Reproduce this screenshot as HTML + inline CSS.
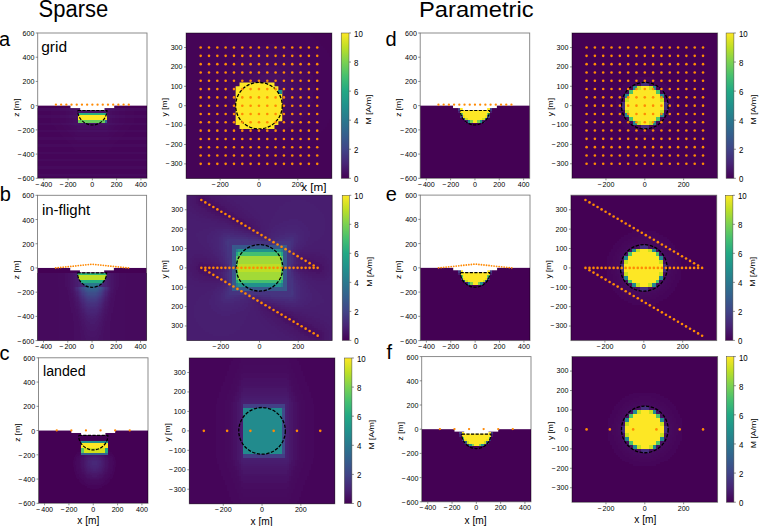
<!DOCTYPE html>
<html><head><meta charset="utf-8"><style>
html,body{margin:0;padding:0;background:#fff;overflow:hidden;}
svg{display:block;font-family:"Liberation Sans", sans-serif;}
</style></head><body>
<svg width="759" height="526" viewBox="0 0 759 526" font-family="Liberation Sans, sans-serif" fill="#000"><defs><clipPath id="c0"><rect x="37.7" y="33" width="109.3" height="145.3"/></clipPath><clipPath id="c1"><rect x="186.1" y="33" width="145.7" height="145.4"/></clipPath><linearGradient id="g2" x1="0" y1="1" x2="0" y2="0"><stop offset="0" stop-color="#440154"/><stop offset="0.1" stop-color="#482475"/><stop offset="0.2" stop-color="#414487"/><stop offset="0.3" stop-color="#355f8d"/><stop offset="0.4" stop-color="#2a788e"/><stop offset="0.5" stop-color="#21918c"/><stop offset="0.6" stop-color="#22a884"/><stop offset="0.7" stop-color="#44bf70"/><stop offset="0.8" stop-color="#7ad151"/><stop offset="0.9" stop-color="#bddf26"/><stop offset="1" stop-color="#fde725"/></linearGradient><clipPath id="c3"><rect x="420.2" y="33" width="109.5" height="145.3"/></clipPath><clipPath id="c4"><rect x="572" y="33" width="145.6" height="145.3"/></clipPath><linearGradient id="g5" x1="0" y1="1" x2="0" y2="0"><stop offset="0" stop-color="#440154"/><stop offset="0.1" stop-color="#482475"/><stop offset="0.2" stop-color="#414487"/><stop offset="0.3" stop-color="#355f8d"/><stop offset="0.4" stop-color="#2a788e"/><stop offset="0.5" stop-color="#21918c"/><stop offset="0.6" stop-color="#22a884"/><stop offset="0.7" stop-color="#44bf70"/><stop offset="0.8" stop-color="#7ad151"/><stop offset="0.9" stop-color="#bddf26"/><stop offset="1" stop-color="#fde725"/></linearGradient><clipPath id="c6"><rect x="37.5" y="195.3" width="109.1" height="145.3"/></clipPath><clipPath id="h7"><path d="M77.38 272.79 A14.67 14.65 0 0 0 106.72 272.79 Z"/></clipPath><clipPath id="c8"><rect x="186.8" y="195.2" width="145.4" height="145.3"/></clipPath><linearGradient id="g9" x1="0" y1="1" x2="0" y2="0"><stop offset="0" stop-color="#440154"/><stop offset="0.1" stop-color="#482475"/><stop offset="0.2" stop-color="#414487"/><stop offset="0.3" stop-color="#355f8d"/><stop offset="0.4" stop-color="#2a788e"/><stop offset="0.5" stop-color="#21918c"/><stop offset="0.6" stop-color="#22a884"/><stop offset="0.7" stop-color="#44bf70"/><stop offset="0.8" stop-color="#7ad151"/><stop offset="0.9" stop-color="#bddf26"/><stop offset="1" stop-color="#fde725"/></linearGradient><clipPath id="c10"><rect x="420.3" y="195.1" width="109.7" height="145.5"/></clipPath><clipPath id="c11"><rect x="570.9" y="195.2" width="145.8" height="145.4"/></clipPath><linearGradient id="g12" x1="0" y1="1" x2="0" y2="0"><stop offset="0" stop-color="#440154"/><stop offset="0.1" stop-color="#482475"/><stop offset="0.2" stop-color="#414487"/><stop offset="0.3" stop-color="#355f8d"/><stop offset="0.4" stop-color="#2a788e"/><stop offset="0.5" stop-color="#21918c"/><stop offset="0.6" stop-color="#22a884"/><stop offset="0.7" stop-color="#44bf70"/><stop offset="0.8" stop-color="#7ad151"/><stop offset="0.9" stop-color="#bddf26"/><stop offset="1" stop-color="#fde725"/></linearGradient><clipPath id="c13"><rect x="38.5" y="357.8" width="109.5" height="145.5"/></clipPath><clipPath id="c14"><rect x="189.3" y="357.9" width="145.5" height="145.9"/></clipPath><linearGradient id="g15" x1="0" y1="1" x2="0" y2="0"><stop offset="0" stop-color="#440154"/><stop offset="0.1" stop-color="#482475"/><stop offset="0.2" stop-color="#414487"/><stop offset="0.3" stop-color="#355f8d"/><stop offset="0.4" stop-color="#2a788e"/><stop offset="0.5" stop-color="#21918c"/><stop offset="0.6" stop-color="#22a884"/><stop offset="0.7" stop-color="#44bf70"/><stop offset="0.8" stop-color="#7ad151"/><stop offset="0.9" stop-color="#bddf26"/><stop offset="1" stop-color="#fde725"/></linearGradient><clipPath id="c16"><rect x="421.7" y="356.6" width="109.3" height="145.2"/></clipPath><clipPath id="c17"><rect x="572" y="356.5" width="145.6" height="145.8"/></clipPath><linearGradient id="g18" x1="0" y1="1" x2="0" y2="0"><stop offset="0" stop-color="#440154"/><stop offset="0.1" stop-color="#482475"/><stop offset="0.2" stop-color="#414487"/><stop offset="0.3" stop-color="#355f8d"/><stop offset="0.4" stop-color="#2a788e"/><stop offset="0.5" stop-color="#21918c"/><stop offset="0.6" stop-color="#22a884"/><stop offset="0.7" stop-color="#44bf70"/><stop offset="0.8" stop-color="#7ad151"/><stop offset="0.9" stop-color="#bddf26"/><stop offset="1" stop-color="#fde725"/></linearGradient></defs><rect width="759" height="526" fill="#fff"/><g clip-path="url(#c0)"><rect x="37.7" y="105.65" width="109.3" height="72.65" fill="#440154"/><g shape-rendering="crispEdges"><path fill="#460a5d" d="M36.5 108.1h14.6v1.2h-14.6zM133.6 108.1h14.6v1.2h-14.6zM36.5 109.3h14.6v1.2h-14.6zM133.6 109.3h14.6v1.2h-14.6zM65.6 110.5h3.7v1.2h-3.7zM115.4 110.5h3.7v1.2h-3.7zM65.6 111.7h3.7v1.2h-3.7zM115.4 111.7h3.7v1.2h-3.7zM65.6 112.9h3.7v1.2h-3.7zM115.4 112.9h3.7v1.2h-3.7zM65.6 114.1h3.7v1.2h-3.7zM115.4 114.1h3.7v1.2h-3.7zM36.5 115.3h14.6v1.2h-14.6zM133.6 115.3h14.6v1.2h-14.6zM36.5 116.5h14.6v1.3h-14.6zM133.6 116.5h14.6v1.3h-14.6zM65.6 117.8h3.7v1.2h-3.7zM115.4 117.8h3.7v1.2h-3.7zM65.6 119h3.7v1.2h-3.7zM115.4 119h3.7v1.2h-3.7zM65.6 120.2h3.7v1.2h-3.7zM115.4 120.2h3.7v1.2h-3.7zM65.6 121.4h3.7v1.2h-3.7zM115.4 121.4h3.7v1.2h-3.7zM36.5 122.6h14.6v1.2h-14.6zM133.6 122.6h14.6v1.2h-14.6zM36.5 123.8h15.8v1.2h-15.8zM132.4 123.8h15.8v1.2h-15.8zM68.1 125h3.6v1.2h-3.6zM113 125h3.6v1.2h-3.6zM69.3 126.2h3.6v1.2h-3.6zM111.8 126.2h3.6v1.2h-3.6zM70.5 127.4h3.6v1.3h-3.6zM110.6 127.4h3.6v1.3h-3.6zM71.7 128.7h3.6v1.2h-3.6zM109.4 128.7h3.6v1.2h-3.6zM36.5 129.9h21.8v1.2h-21.8zM126.4 129.9h21.8v1.2h-21.8zM36.5 131.1h23.1v1.2h-23.1zM125.1 131.1h23.1v1.2h-23.1zM75.3 132.3h34.1v1.2h-34.1zM75.3 133.5h34.1v1.2h-34.1zM76.6 134.7h31.5v1.2h-31.5zM36.5 137.1h27.9v1.2h-27.9zM120.3 137.1h27.9v1.2h-27.9zM36.5 138.3h29.1v1.3h-29.1zM119.1 138.3h29.1v1.3h-29.1zM36.5 144.4h35.2v1.2h-35.2zM113 144.4h35.2v1.2h-35.2zM36.5 145.6h36.4v1.2h-36.4zM111.8 145.6h36.4v1.2h-36.4zM36.5 151.7h111.7v1.2h-111.7zM36.5 152.9h111.7v1.2h-111.7zM36.5 158.9h111.7v1.2h-111.7zM36.5 160.1h111.7v1.2h-111.7zM36.5 166.2h111.7v1.2h-111.7zM36.5 167.4h111.7v1.2h-111.7zM36.5 173.5h111.7v1.2h-111.7zM36.5 174.7h111.7v1.2h-111.7z"/><path fill="#460b5e" d="M51.1 108.1h8.5v1.2h-8.5zM125.1 108.1h8.5v1.2h-8.5zM51.1 109.3h8.5v1.2h-8.5zM125.1 109.3h8.5v1.2h-8.5zM69.3 110.5h3.6v1.2h-3.6zM111.8 110.5h3.6v1.2h-3.6zM69.3 111.7h3.6v1.2h-3.6zM111.8 111.7h3.6v1.2h-3.6zM69.3 112.9h3.6v1.2h-3.6zM111.8 112.9h3.6v1.2h-3.6zM69.3 114.1h3.6v1.2h-3.6zM111.8 114.1h3.6v1.2h-3.6zM51.1 115.3h8.5v1.2h-8.5zM125.1 115.3h8.5v1.2h-8.5zM51.1 116.5h8.5v1.3h-8.5zM125.1 116.5h8.5v1.3h-8.5zM69.3 117.8h3.6v1.2h-3.6zM111.8 117.8h3.6v1.2h-3.6zM69.3 119h3.6v1.2h-3.6zM111.8 119h3.6v1.2h-3.6zM69.3 120.2h3.6v1.2h-3.6zM111.8 120.2h3.6v1.2h-3.6zM69.3 121.4h3.6v1.2h-3.6zM111.8 121.4h3.6v1.2h-3.6zM51.1 122.6h9.7v1.2h-9.7zM123.9 122.6h9.7v1.2h-9.7zM52.3 123.8h9.7v1.2h-9.7zM122.7 123.8h9.7v1.2h-9.7zM71.7 125h3.6v1.2h-3.6zM109.4 125h3.6v1.2h-3.6zM72.9 126.2h3.7v1.2h-3.7zM108.1 126.2h3.7v1.2h-3.7zM74.1 127.4h2.5v1.3h-2.5zM108.1 127.4h2.5v1.3h-2.5zM75.3 128.7h34.1v1.2h-34.1zM58.3 129.9h8.5v1.2h-8.5zM117.9 129.9h8.5v1.2h-8.5zM59.6 131.1h8.5v1.2h-8.5zM116.6 131.1h8.5v1.2h-8.5zM64.4 137.1h9.7v1.2h-9.7zM110.6 137.1h9.7v1.2h-9.7zM65.6 138.3h9.7v1.3h-9.7zM109.4 138.3h9.7v1.3h-9.7zM71.7 144.4h41.3v1.2h-41.3zM72.9 145.6h38.9v1.2h-38.9z"/><path fill="#470d60" d="M59.6 108.1h6v1.2h-6zM119.1 108.1h6v1.2h-6zM59.6 109.3h6v1.2h-6zM119.1 109.3h6v1.2h-6zM72.9 110.5h2.4v1.2h-2.4zM109.4 110.5h2.4v1.2h-2.4zM72.9 111.7h2.4v1.2h-2.4zM109.4 111.7h2.4v1.2h-2.4zM72.9 112.9h2.4v1.2h-2.4zM109.4 112.9h2.4v1.2h-2.4zM72.9 114.1h2.4v1.2h-2.4zM109.4 114.1h2.4v1.2h-2.4zM59.6 115.3h6v1.2h-6zM119.1 115.3h6v1.2h-6zM59.6 116.5h6v1.3h-6zM119.1 116.5h6v1.3h-6zM72.9 117.8h2.4v1.2h-2.4zM109.4 117.8h2.4v1.2h-2.4zM72.9 119h2.4v1.2h-2.4zM109.4 119h2.4v1.2h-2.4zM72.9 120.2h2.4v1.2h-2.4zM109.4 120.2h2.4v1.2h-2.4zM72.9 121.4h2.4v1.2h-2.4zM109.4 121.4h2.4v1.2h-2.4zM60.8 122.6h4.8v1.2h-4.8zM119.1 122.6h4.8v1.2h-4.8zM62 123.8h4.8v1.2h-4.8zM117.9 123.8h4.8v1.2h-4.8zM75.3 125h2.5v1.2h-2.5zM106.9 125h2.5v1.2h-2.5zM76.6 126.2h31.5v1.2h-31.5zM76.6 127.4h31.5v1.3h-31.5zM66.8 129.9h6.1v1.2h-6.1zM111.8 129.9h6.1v1.2h-6.1zM68.1 131.1h6v1.2h-6zM110.6 131.1h6v1.2h-6zM74.1 137.1h36.5v1.2h-36.5zM75.3 138.3h34.1v1.3h-34.1z"/><path fill="#470e61" d="M65.6 108.1h3.7v1.2h-3.7zM115.4 108.1h3.7v1.2h-3.7zM65.6 109.3h3.7v1.2h-3.7zM115.4 109.3h3.7v1.2h-3.7zM75.3 110.5h1.3v1.2h-1.3zM108.1 110.5h1.3v1.2h-1.3zM75.3 111.7h1.3v1.2h-1.3zM108.1 111.7h1.3v1.2h-1.3zM75.3 112.9h1.3v1.2h-1.3zM108.1 112.9h1.3v1.2h-1.3zM75.3 114.1h1.3v1.2h-1.3zM108.1 114.1h1.3v1.2h-1.3zM65.6 115.3h3.7v1.2h-3.7zM115.4 115.3h3.7v1.2h-3.7zM65.6 116.5h3.7v1.3h-3.7zM115.4 116.5h3.7v1.3h-3.7zM75.3 117.8h1.3v1.2h-1.3zM108.1 117.8h1.3v1.2h-1.3zM75.3 119h1.3v1.2h-1.3zM108.1 119h1.3v1.2h-1.3zM75.3 120.2h1.3v1.2h-1.3zM108.1 120.2h1.3v1.2h-1.3zM75.3 121.4h1.3v1.2h-1.3zM108.1 121.4h1.3v1.2h-1.3zM65.6 122.6h3.7v1.2h-3.7zM115.4 122.6h3.7v1.2h-3.7zM66.8 123.8h3.7v1.2h-3.7zM114.2 123.8h3.7v1.2h-3.7zM77.8 125h29.1v1.2h-29.1zM72.9 129.9h3.7v1.2h-3.7zM108.1 129.9h3.7v1.2h-3.7zM74.1 131.1h3.7v1.2h-3.7zM106.9 131.1h3.7v1.2h-3.7z"/><path fill="#471063" d="M69.3 108.1h3.6v1.2h-3.6zM111.8 108.1h3.6v1.2h-3.6zM69.3 109.3h3.6v1.2h-3.6zM111.8 109.3h3.6v1.2h-3.6zM76.6 110.5h31.5v1.2h-31.5zM76.6 111.7h31.5v1.2h-31.5zM76.6 112.9h31.5v1.2h-31.5zM76.6 114.1h31.5v1.2h-31.5zM69.3 115.3h3.6v1.2h-3.6zM111.8 115.3h3.6v1.2h-3.6zM69.3 116.5h3.6v1.3h-3.6zM111.8 116.5h3.6v1.3h-3.6zM76.6 117.8h31.5v1.2h-31.5zM76.6 119h31.5v1.2h-31.5zM76.6 120.2h31.5v1.2h-31.5zM76.6 121.4h31.5v1.2h-31.5zM69.3 122.6h3.6v1.2h-3.6zM111.8 122.6h3.6v1.2h-3.6zM70.5 123.8h3.6v1.2h-3.6zM110.6 123.8h3.6v1.2h-3.6zM76.6 129.9h31.5v1.2h-31.5zM77.8 131.1h29.1v1.2h-29.1z"/><path fill="#471164" d="M72.9 108.1h2.4v1.2h-2.4zM109.4 108.1h2.4v1.2h-2.4zM72.9 109.3h2.4v1.2h-2.4zM109.4 109.3h2.4v1.2h-2.4zM72.9 115.3h2.4v1.2h-2.4zM109.4 115.3h2.4v1.2h-2.4zM72.9 116.5h2.4v1.3h-2.4zM109.4 116.5h2.4v1.3h-2.4zM72.9 122.6h2.4v1.2h-2.4zM109.4 122.6h2.4v1.2h-2.4zM74.1 123.8h2.5v1.2h-2.5zM108.1 123.8h2.5v1.2h-2.5z"/><path fill="#471365" d="M75.3 108.1h1.3v1.2h-1.3zM108.1 108.1h1.3v1.2h-1.3zM75.3 109.3h1.3v1.2h-1.3zM108.1 109.3h1.3v1.2h-1.3zM75.3 115.3h1.3v1.2h-1.3zM108.1 115.3h1.3v1.2h-1.3zM75.3 116.5h1.3v1.3h-1.3zM108.1 116.5h1.3v1.3h-1.3zM75.3 122.6h2.5v1.2h-2.5zM106.9 122.6h2.5v1.2h-2.5zM76.6 123.8h31.5v1.2h-31.5z"/><path fill="#481467" d="M76.6 108.1h31.5v1.2h-31.5zM76.6 109.3h31.5v1.2h-31.5zM76.6 115.3h31.5v1.2h-31.5zM76.6 116.5h31.5v1.3h-31.5zM77.8 122.6h29.1v1.2h-29.1z"/><path fill="#450559" d="M36.5 110.5h14.6v1.2h-14.6zM133.6 110.5h14.6v1.2h-14.6zM36.5 111.7h14.6v1.2h-14.6zM133.6 111.7h14.6v1.2h-14.6zM36.5 112.9h14.6v1.2h-14.6zM133.6 112.9h14.6v1.2h-14.6zM36.5 114.1h14.6v1.2h-14.6zM133.6 114.1h14.6v1.2h-14.6zM36.5 117.8h14.6v1.2h-14.6zM133.6 117.8h14.6v1.2h-14.6zM36.5 119h14.6v1.2h-14.6zM133.6 119h14.6v1.2h-14.6zM36.5 120.2h14.6v1.2h-14.6zM133.6 120.2h14.6v1.2h-14.6zM36.5 121.4h14.6v1.2h-14.6zM133.6 121.4h14.6v1.2h-14.6zM36.5 125h17v1.2h-17zM131.2 125h17v1.2h-17zM36.5 126.2h18.2v1.2h-18.2zM130 126.2h18.2v1.2h-18.2zM36.5 127.4h19.4v1.3h-19.4zM128.8 127.4h19.4v1.3h-19.4zM36.5 128.7h20.6v1.2h-20.6zM127.6 128.7h20.6v1.2h-20.6zM36.5 132.3h23.1v1.2h-23.1zM125.1 132.3h23.1v1.2h-23.1zM36.5 133.5h24.3v1.2h-24.3zM123.9 133.5h24.3v1.2h-24.3zM36.5 134.7h25.5v1.2h-25.5zM122.7 134.7h25.5v1.2h-25.5zM36.5 135.9h26.7v1.2h-26.7zM121.5 135.9h26.7v1.2h-26.7zM36.5 139.6h30.3v1.2h-30.3zM117.9 139.6h30.3v1.2h-30.3zM36.5 140.8h31.6v1.2h-31.6zM116.6 140.8h31.6v1.2h-31.6zM36.5 142h32.8v1.2h-32.8zM115.4 142h32.8v1.2h-32.8zM36.5 143.2h34v1.2h-34zM114.2 143.2h34v1.2h-34zM36.5 146.8h36.4v1.2h-36.4zM111.8 146.8h36.4v1.2h-36.4zM36.5 148h37.6v1.2h-37.6zM110.6 148h37.6v1.2h-37.6zM36.5 149.2h38.8v1.3h-38.8zM109.4 149.2h38.8v1.3h-38.8zM36.5 150.5h40.1v1.2h-40.1zM108.1 150.5h40.1v1.2h-40.1zM36.5 154.1h111.7v1.2h-111.7zM36.5 155.3h111.7v1.2h-111.7zM36.5 156.5h111.7v1.2h-111.7zM36.5 157.7h111.7v1.2h-111.7zM36.5 161.3h111.7v1.3h-111.7zM36.5 162.6h111.7v1.2h-111.7zM36.5 163.8h111.7v1.2h-111.7zM36.5 165h111.7v1.2h-111.7zM36.5 168.6h111.7v1.2h-111.7zM36.5 169.8h111.7v1.2h-111.7zM36.5 171h111.7v1.2h-111.7zM36.5 172.2h111.7v1.3h-111.7zM36.5 175.9h111.7v1.2h-111.7zM36.5 177.1h111.7v1.2h-111.7z"/><path fill="#46075a" d="M51.1 110.5h8.5v1.2h-8.5zM125.1 110.5h8.5v1.2h-8.5zM51.1 111.7h8.5v1.2h-8.5zM125.1 111.7h8.5v1.2h-8.5zM51.1 112.9h8.5v1.2h-8.5zM125.1 112.9h8.5v1.2h-8.5zM51.1 114.1h8.5v1.2h-8.5zM125.1 114.1h8.5v1.2h-8.5zM51.1 117.8h8.5v1.2h-8.5zM125.1 117.8h8.5v1.2h-8.5zM51.1 119h8.5v1.2h-8.5zM125.1 119h8.5v1.2h-8.5zM51.1 120.2h8.5v1.2h-8.5zM125.1 120.2h8.5v1.2h-8.5zM51.1 121.4h8.5v1.2h-8.5zM125.1 121.4h8.5v1.2h-8.5zM53.5 125h9.7v1.2h-9.7zM121.5 125h9.7v1.2h-9.7zM54.7 126.2h8.5v1.2h-8.5zM121.5 126.2h8.5v1.2h-8.5zM55.9 127.4h8.5v1.3h-8.5zM120.3 127.4h8.5v1.3h-8.5zM57.1 128.7h8.5v1.2h-8.5zM119.1 128.7h8.5v1.2h-8.5zM59.6 132.3h9.7v1.2h-9.7zM115.4 132.3h9.7v1.2h-9.7zM60.8 133.5h9.7v1.2h-9.7zM114.2 133.5h9.7v1.2h-9.7zM62 134.7h9.7v1.2h-9.7zM113 134.7h9.7v1.2h-9.7zM63.2 135.9h9.7v1.2h-9.7zM111.8 135.9h9.7v1.2h-9.7zM66.8 139.6h9.8v1.2h-9.8zM108.1 139.6h9.8v1.2h-9.8zM68.1 140.8h8.5v1.2h-8.5zM108.1 140.8h8.5v1.2h-8.5zM69.3 142h46.1v1.2h-46.1zM70.5 143.2h43.7v1.2h-43.7zM72.9 146.8h38.9v1.2h-38.9zM74.1 148h36.5v1.2h-36.5zM75.3 149.2h34.1v1.3h-34.1zM76.6 150.5h31.5v1.2h-31.5z"/><path fill="#46085c" d="M59.6 110.5h6v1.2h-6zM119.1 110.5h6v1.2h-6zM59.6 111.7h6v1.2h-6zM119.1 111.7h6v1.2h-6zM59.6 112.9h6v1.2h-6zM119.1 112.9h6v1.2h-6zM59.6 114.1h6v1.2h-6zM119.1 114.1h6v1.2h-6zM59.6 117.8h6v1.2h-6zM119.1 117.8h6v1.2h-6zM59.6 119h6v1.2h-6zM119.1 119h6v1.2h-6zM59.6 120.2h6v1.2h-6zM119.1 120.2h6v1.2h-6zM59.6 121.4h6v1.2h-6zM119.1 121.4h6v1.2h-6zM63.2 125h4.9v1.2h-4.9zM116.6 125h4.9v1.2h-4.9zM63.2 126.2h6.1v1.2h-6.1zM115.4 126.2h6.1v1.2h-6.1zM64.4 127.4h6.1v1.3h-6.1zM114.2 127.4h6.1v1.3h-6.1zM65.6 128.7h6.1v1.2h-6.1zM113 128.7h6.1v1.2h-6.1zM69.3 132.3h6v1.2h-6zM109.4 132.3h6v1.2h-6zM70.5 133.5h4.8v1.2h-4.8zM109.4 133.5h4.8v1.2h-4.8zM71.7 134.7h4.9v1.2h-4.9zM108.1 134.7h4.9v1.2h-4.9zM72.9 135.9h38.9v1.2h-38.9zM76.6 139.6h31.5v1.2h-31.5zM76.6 140.8h31.5v1.2h-31.5z"/></g><g shape-rendering="crispEdges"><path fill="#29af7f" d="M77.8 112.9h29.1v2.2h-29.1z"/><path fill="#fde725" d="M77.8 115.1h29.1v4.6h-29.1z"/><path fill="#69cd5b" d="M77.8 119.7h26.7v3.1h-26.7z"/><path fill="#32648e" d="M104.5 119.7h2.4v3.1h-2.4z"/></g><rect x="70.49" y="104.65" width="43.72" height="3.42" fill="#fff"/><rect x="80.21" y="107.07" width="24.29" height="3.06" fill="#fff"/><path d="M77.78 110.49 H106.92 A14.57 14.53 0 0 1 77.78 110.49" fill="none" stroke="#000" stroke-width="1.2" stroke-dasharray="3.2 1.4"/><circle cx="55.92" cy="104.68" r="1.15" fill="#ff8a05"/><circle cx="61.12" cy="104.68" r="1.15" fill="#ff8a05"/><circle cx="66.33" cy="104.68" r="1.15" fill="#ff8a05"/><circle cx="71.53" cy="104.68" r="1.15" fill="#ff8a05"/><circle cx="76.74" cy="104.68" r="1.15" fill="#ff8a05"/><circle cx="81.94" cy="104.68" r="1.15" fill="#ff8a05"/><circle cx="87.15" cy="104.68" r="1.15" fill="#ff8a05"/><circle cx="92.35" cy="104.68" r="1.15" fill="#ff8a05"/><circle cx="97.55" cy="104.68" r="1.15" fill="#ff8a05"/><circle cx="102.76" cy="104.68" r="1.15" fill="#ff8a05"/><circle cx="107.96" cy="104.68" r="1.15" fill="#ff8a05"/><circle cx="113.17" cy="104.68" r="1.15" fill="#ff8a05"/><circle cx="118.37" cy="104.68" r="1.15" fill="#ff8a05"/><circle cx="123.58" cy="104.68" r="1.15" fill="#ff8a05"/><circle cx="128.78" cy="104.68" r="1.15" fill="#ff8a05"/></g><rect x="37.7" y="33" width="109.3" height="145.3" fill="none" stroke="#000" stroke-opacity="0.5" stroke-width="0.9"/><text transform="translate(34.4 36) scale(0.95 1)" font-size="7.5" text-anchor="end">600</text><text transform="translate(34.4 60.22) scale(0.95 1)" font-size="7.5" text-anchor="end">400</text><text transform="translate(34.4 84.43) scale(0.95 1)" font-size="7.5" text-anchor="end">200</text><text transform="translate(34.4 108.65) scale(0.95 1)" font-size="7.5" text-anchor="end">0</text><text transform="translate(34.4 132.87) scale(0.95 1)" font-size="7.5" text-anchor="end">&#8722;<tspan dx="1.0">200</tspan></text><text transform="translate(34.4 157.08) scale(0.95 1)" font-size="7.5" text-anchor="end">&#8722;<tspan dx="1.0">400</tspan></text><text transform="translate(34.4 181.3) scale(0.95 1)" font-size="7.5" text-anchor="end">&#8722;<tspan dx="1.0">600</tspan></text><text transform="translate(43.77 186.9) scale(0.95 1)" font-size="7.5" text-anchor="middle">&#8722;<tspan dx="1.0">400</tspan></text><text transform="translate(68.06 186.9) scale(0.95 1)" font-size="7.5" text-anchor="middle">&#8722;<tspan dx="1.0">200</tspan></text><text transform="translate(92.35 186.9) scale(0.95 1)" font-size="7.5" text-anchor="middle">0</text><text transform="translate(116.64 186.9) scale(0.95 1)" font-size="7.5" text-anchor="middle">200</text><text transform="translate(140.93 186.9) scale(0.95 1)" font-size="7.5" text-anchor="middle">400</text><path d="M37.7 33h-2M37.7 57.22h-2M37.7 81.43h-2M37.7 105.65h-2M37.7 129.87h-2M37.7 154.08h-2M37.7 178.3h-2M43.77 178.3v2M68.06 178.3v2M92.35 178.3v2M116.64 178.3v2M140.93 178.3v2" stroke="#444" stroke-width="0.6"/><text x="18.8" y="107.65" font-size="7.7" text-anchor="middle" textLength="18.4" lengthAdjust="spacingAndGlyphs" transform="rotate(-90 18.8 107.65)">z [m]</text><text x="41.2" y="52" font-size="14" text-anchor="start" textLength="25.9" lengthAdjust="spacingAndGlyphs">grid</text><g clip-path="url(#c1)"><rect x="186.1" y="33" width="145.7" height="145.4" fill="#440154"/><g shape-rendering="crispEdges"><path fill="#450457" d="M185.1 32h46.7v2h-46.7zM309.5 32h23.3v2h-23.3zM185.1 34h44.7v1.9h-44.7zM311.4 34h21.4v1.9h-21.4zM185.1 35.9h42.8v1.9h-42.8zM313.3 35.9h19.5v1.9h-19.5zM185.1 37.8h40.8v2h-40.8zM315.3 37.8h17.5v2h-17.5zM185.1 39.8h36.9v1.9h-36.9zM319.2 39.8h13.6v1.9h-13.6zM185.1 41.7h36.9v2h-36.9zM319.2 41.7h13.6v2h-13.6zM185.1 43.7h35v1.9h-35zM321.1 43.7h11.7v1.9h-11.7zM185.1 45.6h33.1v1.9h-33.1zM323.1 45.6h9.7v1.9h-9.7zM185.1 47.5h31.1v2h-31.1zM325 47.5h7.8v2h-7.8zM185.1 49.5h29.2v1.9h-29.2zM326.9 49.5h5.9v1.9h-5.9zM185.1 51.4h29.2v2h-29.2zM326.9 51.4h5.9v2h-5.9zM185.1 53.4h27.2v1.9h-27.2zM328.9 53.4h3.9v1.9h-3.9zM185.1 55.3h27.2v1.9h-27.2zM328.9 55.3h3.9v1.9h-3.9zM185.1 57.2h25.3v2h-25.3zM330.8 57.2h2v2h-2zM185.1 59.2h25.3v1.9h-25.3zM330.8 59.2h2v1.9h-2zM185.1 61.1h23.3v1.9h-23.3zM185.1 63h23.3v2h-23.3zM185.1 65h21.4v1.9h-21.4zM185.1 66.9h21.4v2h-21.4zM185.1 68.9h21.4v1.9h-21.4zM185.1 70.8h19.5v1.9h-19.5zM185.1 72.7h19.5v2h-19.5zM185.1 74.7h19.5v1.9h-19.5zM185.1 76.6h19.5v2h-19.5zM185.1 78.6h19.5v1.9h-19.5zM185.1 80.5h19.5v1.9h-19.5zM185.1 82.4h17.5v2h-17.5zM185.1 84.4h17.5v1.9h-17.5zM185.1 86.3h17.5v2h-17.5zM185.1 88.3h17.5v1.9h-17.5zM185.1 90.2h17.5v1.9h-17.5zM185.1 92.1h17.5v2h-17.5zM185.1 94.1h19.5v1.9h-19.5zM185.1 96h19.5v1.9h-19.5zM185.1 97.9h19.5v2h-19.5zM185.1 99.9h19.5v1.9h-19.5zM185.1 101.8h19.5v2h-19.5zM185.1 103.8h19.5v1.9h-19.5zM185.1 105.7h21.4v1.9h-21.4zM185.1 107.6h21.4v2h-21.4zM185.1 109.6h21.4v1.9h-21.4zM185.1 111.5h23.3v2h-23.3zM185.1 113.5h23.3v1.9h-23.3zM185.1 115.4h25.3v1.9h-25.3zM330.8 115.4h2v1.9h-2zM185.1 117.3h25.3v2h-25.3zM330.8 117.3h2v2h-2zM185.1 119.3h27.2v1.9h-27.2zM328.9 119.3h3.9v1.9h-3.9zM185.1 121.2h27.2v1.9h-27.2zM328.9 121.2h3.9v1.9h-3.9zM185.1 123.1h29.2v2h-29.2zM326.9 123.1h5.9v2h-5.9zM185.1 125.1h29.2v1.9h-29.2zM326.9 125.1h5.9v1.9h-5.9zM185.1 127h31.1v2h-31.1zM325 127h7.8v2h-7.8zM185.1 129h33.1v1.9h-33.1zM323.1 129h9.7v1.9h-9.7zM185.1 130.9h35v1.9h-35zM321.1 130.9h11.7v1.9h-11.7zM185.1 132.8h36.9v2h-36.9zM319.2 132.8h13.6v2h-13.6zM185.1 134.8h36.9v1.9h-36.9zM319.2 134.8h13.6v1.9h-13.6zM185.1 136.7h40.8v2h-40.8zM315.3 136.7h17.5v2h-17.5zM185.1 138.7h42.8v1.9h-42.8zM313.3 138.7h19.5v1.9h-19.5zM185.1 140.6h44.7v1.9h-44.7zM311.4 140.6h21.4v1.9h-21.4zM185.1 142.5h46.7v2h-46.7zM309.5 142.5h23.3v2h-23.3zM185.1 144.5h50.5v1.9h-50.5zM305.6 144.5h27.2v1.9h-27.2zM185.1 146.4h54.4v2h-54.4zM301.7 146.4h31.1v2h-31.1zM185.1 148.4h58.3v1.9h-58.3zM297.8 148.4h35v1.9h-35zM185.1 150.3h62.2v1.9h-62.2zM293.9 150.3h38.9v1.9h-38.9zM185.1 152.2h68v2h-68zM288.1 152.2h44.7v2h-44.7zM185.1 154.2h79.7v1.9h-79.7zM276.4 154.2h56.4v1.9h-56.4zM185.1 156.1h147.7v1.9h-147.7zM185.1 158h147.7v2h-147.7zM185.1 160h147.7v1.9h-147.7zM185.1 161.9h147.7v2h-147.7zM185.1 163.9h147.7v1.9h-147.7zM185.1 165.8h147.7v1.9h-147.7zM185.1 167.7h147.7v2h-147.7zM185.1 169.7h147.7v1.9h-147.7zM185.1 171.6h147.7v2h-147.7zM185.1 173.6h147.7v1.9h-147.7zM185.1 175.5h147.7v1.9h-147.7zM185.1 177.4h147.7v2h-147.7z"/><path fill="#450559" d="M231.8 32h77.7v2h-77.7zM229.8 34h81.6v1.9h-81.6zM227.9 35.9h85.4v1.9h-85.4zM225.9 37.8h89.4v2h-89.4zM222 39.8h97.2v1.9h-97.2zM222 41.7h97.2v2h-97.2zM220.1 43.7h46.6v1.9h-46.6zM274.5 43.7h46.6v1.9h-46.6zM218.2 45.6h38.8v1.9h-38.8zM284.2 45.6h38.9v1.9h-38.9zM216.2 47.5h36.9v2h-36.9zM288.1 47.5h36.9v2h-36.9zM214.3 49.5h34.9v1.9h-34.9zM292 49.5h34.9v1.9h-34.9zM214.3 51.4h31.1v2h-31.1zM295.9 51.4h31v2h-31zM212.3 53.4h31.1v1.9h-31.1zM297.8 53.4h31.1v1.9h-31.1zM212.3 55.3h29.2v1.9h-29.2zM299.7 55.3h29.2v1.9h-29.2zM210.4 57.2h29.1v2h-29.1zM301.7 57.2h29.1v2h-29.1zM210.4 59.2h27.2v1.9h-27.2zM303.6 59.2h27.2v1.9h-27.2zM208.4 61.1h27.2v1.9h-27.2zM305.6 61.1h27.2v1.9h-27.2zM208.4 63h25.3v2h-25.3zM307.5 63h25.3v2h-25.3zM206.5 65h27.2v1.9h-27.2zM307.5 65h25.3v1.9h-25.3zM206.5 66.9h25.3v2h-25.3zM309.5 66.9h23.3v2h-23.3zM206.5 68.9h25.3v1.9h-25.3zM309.5 68.9h23.3v1.9h-23.3zM204.6 70.8h25.2v1.9h-25.2zM311.4 70.8h21.4v1.9h-21.4zM204.6 72.7h25.2v2h-25.2zM311.4 72.7h21.4v2h-21.4zM204.6 74.7h23.3v1.9h-23.3zM313.3 74.7h19.5v1.9h-19.5zM204.6 76.6h23.3v2h-23.3zM313.3 76.6h19.5v2h-19.5zM204.6 78.6h23.3v1.9h-23.3zM313.3 78.6h19.5v1.9h-19.5zM204.6 80.5h23.3v1.9h-23.3zM313.3 80.5h19.5v1.9h-19.5zM202.6 82.4h25.3v2h-25.3zM313.3 82.4h19.5v2h-19.5zM202.6 84.4h23.3v1.9h-23.3zM315.3 84.4h17.5v1.9h-17.5zM202.6 86.3h23.3v2h-23.3zM315.3 86.3h17.5v2h-17.5zM202.6 88.3h23.3v1.9h-23.3zM315.3 88.3h17.5v1.9h-17.5zM202.6 90.2h23.3v1.9h-23.3zM315.3 90.2h17.5v1.9h-17.5zM202.6 92.1h25.3v2h-25.3zM313.3 92.1h19.5v2h-19.5zM204.6 94.1h23.3v1.9h-23.3zM313.3 94.1h19.5v1.9h-19.5zM204.6 96h23.3v1.9h-23.3zM313.3 96h19.5v1.9h-19.5zM204.6 97.9h23.3v2h-23.3zM313.3 97.9h19.5v2h-19.5zM204.6 99.9h23.3v1.9h-23.3zM313.3 99.9h19.5v1.9h-19.5zM204.6 101.8h25.2v2h-25.2zM311.4 101.8h21.4v2h-21.4zM204.6 103.8h25.2v1.9h-25.2zM311.4 103.8h21.4v1.9h-21.4zM206.5 105.7h25.3v1.9h-25.3zM309.5 105.7h23.3v1.9h-23.3zM206.5 107.6h25.3v2h-25.3zM309.5 107.6h23.3v2h-23.3zM206.5 109.6h27.2v1.9h-27.2zM307.5 109.6h25.3v1.9h-25.3zM208.4 111.5h25.3v2h-25.3zM307.5 111.5h25.3v2h-25.3zM208.4 113.5h27.2v1.9h-27.2zM305.6 113.5h27.2v1.9h-27.2zM210.4 115.4h27.2v1.9h-27.2zM303.6 115.4h27.2v1.9h-27.2zM210.4 117.3h29.1v2h-29.1zM301.7 117.3h29.1v2h-29.1zM212.3 119.3h29.2v1.9h-29.2zM299.7 119.3h29.2v1.9h-29.2zM212.3 121.2h31.1v1.9h-31.1zM297.8 121.2h31.1v1.9h-31.1zM214.3 123.1h31.1v2h-31.1zM295.9 123.1h31v2h-31zM214.3 125.1h34.9v1.9h-34.9zM292 125.1h34.9v1.9h-34.9zM216.2 127h36.9v2h-36.9zM288.1 127h36.9v2h-36.9zM218.2 129h38.8v1.9h-38.8zM284.2 129h38.9v1.9h-38.9zM220.1 130.9h46.6v1.9h-46.6zM274.5 130.9h46.6v1.9h-46.6zM222 132.8h97.2v2h-97.2zM222 134.8h97.2v1.9h-97.2zM225.9 136.7h89.4v2h-89.4zM227.9 138.7h85.4v1.9h-85.4zM229.8 140.6h81.6v1.9h-81.6zM231.8 142.5h77.7v2h-77.7zM235.6 144.5h70v1.9h-70zM239.5 146.4h62.2v2h-62.2zM243.4 148.4h54.4v1.9h-54.4zM247.3 150.3h46.6v1.9h-46.6zM253.1 152.2h35v2h-35zM264.8 154.2h11.6v1.9h-11.6z"/><path fill="#46085c" d="M266.7 43.7h7.8v1.9h-7.8zM257 45.6h27.2v1.9h-27.2zM253.1 47.5h35v2h-35zM249.2 49.5h42.8v1.9h-42.8zM245.4 51.4h50.5v2h-50.5zM243.4 53.4h19.4v1.9h-19.4zM278.4 53.4h19.4v1.9h-19.4zM241.5 55.3h15.5v1.9h-15.5zM284.2 55.3h15.5v1.9h-15.5zM239.5 57.2h13.6v2h-13.6zM288.1 57.2h13.6v2h-13.6zM237.6 59.2h11.6v1.9h-11.6zM292 59.2h11.6v1.9h-11.6zM235.6 61.1h11.7v1.9h-11.7zM293.9 61.1h11.7v1.9h-11.7zM233.7 63h11.7v2h-11.7zM295.9 63h11.6v2h-11.6zM233.7 65h9.7v1.9h-9.7zM297.8 65h9.7v1.9h-9.7zM231.8 66.9h9.7v2h-9.7zM299.7 66.9h9.8v2h-9.8zM231.8 68.9h9.7v1.9h-9.7zM299.7 68.9h9.8v1.9h-9.8zM229.8 70.8h9.7v1.9h-9.7zM301.7 70.8h9.7v1.9h-9.7zM229.8 72.7h9.7v2h-9.7zM301.7 72.7h9.7v2h-9.7zM227.9 74.7h9.7v1.9h-9.7zM303.6 74.7h9.7v1.9h-9.7zM227.9 76.6h9.7v2h-9.7zM303.6 76.6h9.7v2h-9.7zM227.9 78.6h9.7v1.9h-9.7zM303.6 78.6h9.7v1.9h-9.7zM227.9 80.5h7.7v1.9h-7.7zM305.6 80.5h7.7v1.9h-7.7zM227.9 82.4h7.7v2h-7.7zM305.6 82.4h7.7v2h-7.7zM225.9 84.4h9.7v1.9h-9.7zM305.6 84.4h9.7v1.9h-9.7zM225.9 86.3h9.7v2h-9.7zM305.6 86.3h9.7v2h-9.7zM225.9 88.3h9.7v1.9h-9.7zM305.6 88.3h9.7v1.9h-9.7zM225.9 90.2h9.7v1.9h-9.7zM305.6 90.2h9.7v1.9h-9.7zM227.9 92.1h7.7v2h-7.7zM305.6 92.1h7.7v2h-7.7zM227.9 94.1h7.7v1.9h-7.7zM305.6 94.1h7.7v1.9h-7.7zM227.9 96h9.7v1.9h-9.7zM303.6 96h9.7v1.9h-9.7zM227.9 97.9h9.7v2h-9.7zM303.6 97.9h9.7v2h-9.7zM227.9 99.9h9.7v1.9h-9.7zM303.6 99.9h9.7v1.9h-9.7zM229.8 101.8h9.7v2h-9.7zM301.7 101.8h9.7v2h-9.7zM229.8 103.8h9.7v1.9h-9.7zM301.7 103.8h9.7v1.9h-9.7zM231.8 105.7h9.7v1.9h-9.7zM299.7 105.7h9.8v1.9h-9.8zM231.8 107.6h9.7v2h-9.7zM299.7 107.6h9.8v2h-9.8zM233.7 109.6h9.7v1.9h-9.7zM297.8 109.6h9.7v1.9h-9.7zM233.7 111.5h11.7v2h-11.7zM295.9 111.5h11.6v2h-11.6zM235.6 113.5h11.7v1.9h-11.7zM293.9 113.5h11.7v1.9h-11.7zM237.6 115.4h11.6v1.9h-11.6zM292 115.4h11.6v1.9h-11.6zM239.5 117.3h13.6v2h-13.6zM288.1 117.3h13.6v2h-13.6zM241.5 119.3h15.5v1.9h-15.5zM284.2 119.3h15.5v1.9h-15.5zM243.4 121.2h19.4v1.9h-19.4zM278.4 121.2h19.4v1.9h-19.4zM245.4 123.1h50.5v2h-50.5zM249.2 125.1h42.8v1.9h-42.8zM253.1 127h35v2h-35zM257 129h27.2v1.9h-27.2zM266.7 130.9h7.8v1.9h-7.8z"/><path fill="#460a5d" d="M262.8 53.4h15.6v1.9h-15.6zM257 55.3h27.2v1.9h-27.2zM253.1 57.2h35v2h-35zM249.2 59.2h42.8v1.9h-42.8zM247.3 61.1h13.6v1.9h-13.6zM280.3 61.1h13.6v1.9h-13.6zM245.4 63h11.6v2h-11.6zM284.2 63h11.7v2h-11.7zM243.4 65h9.7v1.9h-9.7zM288.1 65h9.7v1.9h-9.7zM241.5 66.9h9.7v2h-9.7zM290 66.9h9.7v2h-9.7zM241.5 68.9h7.7v1.9h-7.7zM292 68.9h7.7v1.9h-7.7zM239.5 70.8h7.8v1.9h-7.8zM293.9 70.8h7.8v1.9h-7.8zM239.5 72.7h7.8v2h-7.8zM293.9 72.7h7.8v2h-7.8zM237.6 74.7h7.8v1.9h-7.8zM295.9 74.7h7.7v1.9h-7.7zM237.6 76.6h7.8v2h-7.8zM295.9 76.6h7.7v2h-7.7zM237.6 78.6h5.8v1.9h-5.8zM297.8 78.6h5.8v1.9h-5.8zM235.6 80.5h7.8v1.9h-7.8zM297.8 80.5h7.8v1.9h-7.8zM235.6 82.4h7.8v2h-7.8zM297.8 82.4h7.8v2h-7.8zM235.6 84.4h7.8v1.9h-7.8zM297.8 84.4h7.8v1.9h-7.8zM235.6 86.3h7.8v2h-7.8zM297.8 86.3h7.8v2h-7.8zM235.6 88.3h7.8v1.9h-7.8zM297.8 88.3h7.8v1.9h-7.8zM235.6 90.2h7.8v1.9h-7.8zM297.8 90.2h7.8v1.9h-7.8zM235.6 92.1h7.8v2h-7.8zM297.8 92.1h7.8v2h-7.8zM235.6 94.1h7.8v1.9h-7.8zM297.8 94.1h7.8v1.9h-7.8zM237.6 96h5.8v1.9h-5.8zM297.8 96h5.8v1.9h-5.8zM237.6 97.9h7.8v2h-7.8zM295.9 97.9h7.7v2h-7.7zM237.6 99.9h7.8v1.9h-7.8zM295.9 99.9h7.7v1.9h-7.7zM239.5 101.8h7.8v2h-7.8zM293.9 101.8h7.8v2h-7.8zM239.5 103.8h7.8v1.9h-7.8zM293.9 103.8h7.8v1.9h-7.8zM241.5 105.7h7.7v1.9h-7.7zM292 105.7h7.7v1.9h-7.7zM241.5 107.6h9.7v2h-9.7zM290 107.6h9.7v2h-9.7zM243.4 109.6h9.7v1.9h-9.7zM288.1 109.6h9.7v1.9h-9.7zM245.4 111.5h11.6v2h-11.6zM284.2 111.5h11.7v2h-11.7zM247.3 113.5h13.6v1.9h-13.6zM280.3 113.5h13.6v1.9h-13.6zM249.2 115.4h42.8v1.9h-42.8zM253.1 117.3h35v2h-35zM257 119.3h27.2v1.9h-27.2zM262.8 121.2h15.6v1.9h-15.6z"/><path fill="#460b5e" d="M260.9 61.1h19.4v1.9h-19.4zM257 63h27.2v2h-27.2zM253.1 65h35v1.9h-35zM251.2 66.9h11.6v2h-11.6zM278.4 66.9h11.6v2h-11.6zM249.2 68.9h9.8v1.9h-9.8zM282.3 68.9h9.7v1.9h-9.7zM247.3 70.8h7.8v1.9h-7.8zM286.1 70.8h7.8v1.9h-7.8zM247.3 72.7h5.8v2h-5.8zM288.1 72.7h5.8v2h-5.8zM245.4 74.7h7.7v1.9h-7.7zM288.1 74.7h7.8v1.9h-7.8zM245.4 76.6h5.8v2h-5.8zM290 76.6h5.9v2h-5.9zM243.4 78.6h7.8v1.9h-7.8zM290 78.6h7.8v1.9h-7.8zM243.4 80.5h5.8v1.9h-5.8zM292 80.5h5.8v1.9h-5.8zM243.4 82.4h5.8v2h-5.8zM292 82.4h5.8v2h-5.8zM243.4 84.4h5.8v1.9h-5.8zM292 84.4h5.8v1.9h-5.8zM243.4 86.3h5.8v2h-5.8zM292 86.3h5.8v2h-5.8zM243.4 88.3h5.8v1.9h-5.8zM292 88.3h5.8v1.9h-5.8zM243.4 90.2h5.8v1.9h-5.8zM292 90.2h5.8v1.9h-5.8zM243.4 92.1h5.8v2h-5.8zM292 92.1h5.8v2h-5.8zM243.4 94.1h5.8v1.9h-5.8zM292 94.1h5.8v1.9h-5.8zM243.4 96h7.8v1.9h-7.8zM290 96h7.8v1.9h-7.8zM245.4 97.9h5.8v2h-5.8zM290 97.9h5.9v2h-5.9zM245.4 99.9h7.7v1.9h-7.7zM288.1 99.9h7.8v1.9h-7.8zM247.3 101.8h5.8v2h-5.8zM288.1 101.8h5.8v2h-5.8zM247.3 103.8h7.8v1.9h-7.8zM286.1 103.8h7.8v1.9h-7.8zM249.2 105.7h9.8v1.9h-9.8zM282.3 105.7h9.7v1.9h-9.7zM251.2 107.6h11.6v2h-11.6zM278.4 107.6h11.6v2h-11.6zM253.1 109.6h35v1.9h-35zM257 111.5h27.2v2h-27.2zM260.9 113.5h19.4v1.9h-19.4z"/><path fill="#470d60" d="M262.8 66.9h15.6v2h-15.6zM259 68.9h23.3v1.9h-23.3zM255.1 70.8h31v1.9h-31zM253.1 72.7h11.7v2h-11.7zM276.4 72.7h11.7v2h-11.7zM253.1 74.7h7.8v1.9h-7.8zM280.3 74.7h7.8v1.9h-7.8zM251.2 76.6h7.8v2h-7.8zM282.3 76.6h7.7v2h-7.7zM251.2 78.6h5.8v1.9h-5.8zM284.2 78.6h5.8v1.9h-5.8zM249.2 80.5h7.8v1.9h-7.8zM284.2 80.5h7.8v1.9h-7.8zM249.2 82.4h5.9v2h-5.9zM286.1 82.4h5.9v2h-5.9zM249.2 84.4h5.9v1.9h-5.9zM286.1 84.4h5.9v1.9h-5.9zM249.2 86.3h5.9v2h-5.9zM286.1 86.3h5.9v2h-5.9zM249.2 88.3h5.9v1.9h-5.9zM286.1 88.3h5.9v1.9h-5.9zM249.2 90.2h5.9v1.9h-5.9zM286.1 90.2h5.9v1.9h-5.9zM249.2 92.1h5.9v2h-5.9zM286.1 92.1h5.9v2h-5.9zM249.2 94.1h7.8v1.9h-7.8zM284.2 94.1h7.8v1.9h-7.8zM251.2 96h5.8v1.9h-5.8zM284.2 96h5.8v1.9h-5.8zM251.2 97.9h7.8v2h-7.8zM282.3 97.9h7.7v2h-7.7zM253.1 99.9h7.8v1.9h-7.8zM280.3 99.9h7.8v1.9h-7.8zM253.1 101.8h11.7v2h-11.7zM276.4 101.8h11.7v2h-11.7zM255.1 103.8h31v1.9h-31zM259 105.7h23.3v1.9h-23.3zM262.8 107.6h15.6v2h-15.6z"/><path fill="#471063" d="M264.8 72.7h11.6v2h-11.6zM260.9 74.7h19.4v1.9h-19.4zM259 76.6h23.3v2h-23.3zM257 78.6h27.2v1.9h-27.2zM257 80.5h11.7v1.9h-11.7zM272.5 80.5h11.7v1.9h-11.7zM255.1 82.4h9.7v2h-9.7zM276.4 82.4h9.7v2h-9.7zM255.1 84.4h9.7v1.9h-9.7zM276.4 84.4h9.7v1.9h-9.7zM255.1 86.3h7.7v2h-7.7zM278.4 86.3h7.7v2h-7.7zM255.1 88.3h7.7v1.9h-7.7zM278.4 88.3h7.7v1.9h-7.7zM255.1 90.2h9.7v1.9h-9.7zM276.4 90.2h9.7v1.9h-9.7zM255.1 92.1h9.7v2h-9.7zM276.4 92.1h9.7v2h-9.7zM257 94.1h11.7v1.9h-11.7zM272.5 94.1h11.7v1.9h-11.7zM257 96h27.2v1.9h-27.2zM259 97.9h23.3v2h-23.3zM260.9 99.9h19.4v1.9h-19.4zM264.8 101.8h11.6v2h-11.6z"/><path fill="#471164" d="M268.7 80.5h3.8v1.9h-3.8zM264.8 82.4h11.6v2h-11.6zM264.8 84.4h11.6v1.9h-11.6zM262.8 86.3h15.6v2h-15.6zM262.8 88.3h15.6v1.9h-15.6zM264.8 90.2h11.6v1.9h-11.6zM264.8 92.1h11.6v2h-11.6zM268.7 94.1h3.8v1.9h-3.8z"/></g><path d="M239.52 82.44 L274.49 82.44 L274.49 86.31 L278.38 86.31 L278.38 90.19 L282.26 90.19 L282.26 121.21 L278.38 121.21 L278.38 125.09 L274.49 125.09 L274.49 128.96 L239.52 128.96 L239.52 125.09 L235.64 125.09 L235.64 86.31 L239.52 86.31 Z" fill="#fde725"/><g shape-rendering="crispEdges"><path fill="#21918c" d="M278.4 90.2h3.9v3.9h-3.9z"/></g><ellipse cx="258.95" cy="105.7" rx="23.31" ry="23.26" fill="none" stroke="#000" stroke-width="1.3" stroke-dasharray="3.3 1.5"/><circle cx="200.67" cy="163.86" r="1.3" fill="#ff8a05"/><circle cx="200.67" cy="155.55" r="1.3" fill="#ff8a05"/><circle cx="200.67" cy="147.24" r="1.3" fill="#ff8a05"/><circle cx="200.67" cy="138.93" r="1.3" fill="#ff8a05"/><circle cx="200.67" cy="130.63" r="1.3" fill="#ff8a05"/><circle cx="200.67" cy="122.32" r="1.3" fill="#ff8a05"/><circle cx="200.67" cy="114.01" r="1.3" fill="#ff8a05"/><circle cx="200.67" cy="105.7" r="1.3" fill="#ff8a05"/><circle cx="200.67" cy="97.39" r="1.3" fill="#ff8a05"/><circle cx="200.67" cy="89.08" r="1.3" fill="#ff8a05"/><circle cx="200.67" cy="80.77" r="1.3" fill="#ff8a05"/><circle cx="200.67" cy="72.47" r="1.3" fill="#ff8a05"/><circle cx="200.67" cy="64.16" r="1.3" fill="#ff8a05"/><circle cx="200.67" cy="55.85" r="1.3" fill="#ff8a05"/><circle cx="200.67" cy="47.54" r="1.3" fill="#ff8a05"/><circle cx="209" cy="163.86" r="1.3" fill="#ff8a05"/><circle cx="209" cy="155.55" r="1.3" fill="#ff8a05"/><circle cx="209" cy="147.24" r="1.3" fill="#ff8a05"/><circle cx="209" cy="138.93" r="1.3" fill="#ff8a05"/><circle cx="209" cy="130.63" r="1.3" fill="#ff8a05"/><circle cx="209" cy="122.32" r="1.3" fill="#ff8a05"/><circle cx="209" cy="114.01" r="1.3" fill="#ff8a05"/><circle cx="209" cy="105.7" r="1.3" fill="#ff8a05"/><circle cx="209" cy="97.39" r="1.3" fill="#ff8a05"/><circle cx="209" cy="89.08" r="1.3" fill="#ff8a05"/><circle cx="209" cy="80.77" r="1.3" fill="#ff8a05"/><circle cx="209" cy="72.47" r="1.3" fill="#ff8a05"/><circle cx="209" cy="64.16" r="1.3" fill="#ff8a05"/><circle cx="209" cy="55.85" r="1.3" fill="#ff8a05"/><circle cx="209" cy="47.54" r="1.3" fill="#ff8a05"/><circle cx="217.32" cy="163.86" r="1.3" fill="#ff8a05"/><circle cx="217.32" cy="155.55" r="1.3" fill="#ff8a05"/><circle cx="217.32" cy="147.24" r="1.3" fill="#ff8a05"/><circle cx="217.32" cy="138.93" r="1.3" fill="#ff8a05"/><circle cx="217.32" cy="130.63" r="1.3" fill="#ff8a05"/><circle cx="217.32" cy="122.32" r="1.3" fill="#ff8a05"/><circle cx="217.32" cy="114.01" r="1.3" fill="#ff8a05"/><circle cx="217.32" cy="105.7" r="1.3" fill="#ff8a05"/><circle cx="217.32" cy="97.39" r="1.3" fill="#ff8a05"/><circle cx="217.32" cy="89.08" r="1.3" fill="#ff8a05"/><circle cx="217.32" cy="80.77" r="1.3" fill="#ff8a05"/><circle cx="217.32" cy="72.47" r="1.3" fill="#ff8a05"/><circle cx="217.32" cy="64.16" r="1.3" fill="#ff8a05"/><circle cx="217.32" cy="55.85" r="1.3" fill="#ff8a05"/><circle cx="217.32" cy="47.54" r="1.3" fill="#ff8a05"/><circle cx="225.65" cy="163.86" r="1.3" fill="#ff8a05"/><circle cx="225.65" cy="155.55" r="1.3" fill="#ff8a05"/><circle cx="225.65" cy="147.24" r="1.3" fill="#ff8a05"/><circle cx="225.65" cy="138.93" r="1.3" fill="#ff8a05"/><circle cx="225.65" cy="130.63" r="1.3" fill="#ff8a05"/><circle cx="225.65" cy="122.32" r="1.3" fill="#ff8a05"/><circle cx="225.65" cy="114.01" r="1.3" fill="#ff8a05"/><circle cx="225.65" cy="105.7" r="1.3" fill="#ff8a05"/><circle cx="225.65" cy="97.39" r="1.3" fill="#ff8a05"/><circle cx="225.65" cy="89.08" r="1.3" fill="#ff8a05"/><circle cx="225.65" cy="80.77" r="1.3" fill="#ff8a05"/><circle cx="225.65" cy="72.47" r="1.3" fill="#ff8a05"/><circle cx="225.65" cy="64.16" r="1.3" fill="#ff8a05"/><circle cx="225.65" cy="55.85" r="1.3" fill="#ff8a05"/><circle cx="225.65" cy="47.54" r="1.3" fill="#ff8a05"/><circle cx="233.97" cy="163.86" r="1.3" fill="#ff8a05"/><circle cx="233.97" cy="155.55" r="1.3" fill="#ff8a05"/><circle cx="233.97" cy="147.24" r="1.3" fill="#ff8a05"/><circle cx="233.97" cy="138.93" r="1.3" fill="#ff8a05"/><circle cx="233.97" cy="130.63" r="1.3" fill="#ff8a05"/><circle cx="233.97" cy="122.32" r="1.3" fill="#ff8a05"/><circle cx="233.97" cy="114.01" r="1.3" fill="#ff8a05"/><circle cx="233.97" cy="105.7" r="1.3" fill="#ff8a05"/><circle cx="233.97" cy="97.39" r="1.3" fill="#ff8a05"/><circle cx="233.97" cy="89.08" r="1.3" fill="#ff8a05"/><circle cx="233.97" cy="80.77" r="1.3" fill="#ff8a05"/><circle cx="233.97" cy="72.47" r="1.3" fill="#ff8a05"/><circle cx="233.97" cy="64.16" r="1.3" fill="#ff8a05"/><circle cx="233.97" cy="55.85" r="1.3" fill="#ff8a05"/><circle cx="233.97" cy="47.54" r="1.3" fill="#ff8a05"/><circle cx="242.3" cy="163.86" r="1.3" fill="#ff8a05"/><circle cx="242.3" cy="155.55" r="1.3" fill="#ff8a05"/><circle cx="242.3" cy="147.24" r="1.3" fill="#ff8a05"/><circle cx="242.3" cy="138.93" r="1.3" fill="#ff8a05"/><circle cx="242.3" cy="130.63" r="1.3" fill="#ff8a05"/><circle cx="242.3" cy="122.32" r="1.3" fill="#ff8a05"/><circle cx="242.3" cy="114.01" r="1.3" fill="#ff8a05"/><circle cx="242.3" cy="105.7" r="1.3" fill="#ff8a05"/><circle cx="242.3" cy="97.39" r="1.3" fill="#ff8a05"/><circle cx="242.3" cy="89.08" r="1.3" fill="#ff8a05"/><circle cx="242.3" cy="80.77" r="1.3" fill="#ff8a05"/><circle cx="242.3" cy="72.47" r="1.3" fill="#ff8a05"/><circle cx="242.3" cy="64.16" r="1.3" fill="#ff8a05"/><circle cx="242.3" cy="55.85" r="1.3" fill="#ff8a05"/><circle cx="242.3" cy="47.54" r="1.3" fill="#ff8a05"/><circle cx="250.62" cy="163.86" r="1.3" fill="#ff8a05"/><circle cx="250.62" cy="155.55" r="1.3" fill="#ff8a05"/><circle cx="250.62" cy="147.24" r="1.3" fill="#ff8a05"/><circle cx="250.62" cy="138.93" r="1.3" fill="#ff8a05"/><circle cx="250.62" cy="130.63" r="1.3" fill="#ff8a05"/><circle cx="250.62" cy="122.32" r="1.3" fill="#ff8a05"/><circle cx="250.62" cy="114.01" r="1.3" fill="#ff8a05"/><circle cx="250.62" cy="105.7" r="1.3" fill="#ff8a05"/><circle cx="250.62" cy="97.39" r="1.3" fill="#ff8a05"/><circle cx="250.62" cy="89.08" r="1.3" fill="#ff8a05"/><circle cx="250.62" cy="80.77" r="1.3" fill="#ff8a05"/><circle cx="250.62" cy="72.47" r="1.3" fill="#ff8a05"/><circle cx="250.62" cy="64.16" r="1.3" fill="#ff8a05"/><circle cx="250.62" cy="55.85" r="1.3" fill="#ff8a05"/><circle cx="250.62" cy="47.54" r="1.3" fill="#ff8a05"/><circle cx="258.95" cy="163.86" r="1.3" fill="#ff8a05"/><circle cx="258.95" cy="155.55" r="1.3" fill="#ff8a05"/><circle cx="258.95" cy="147.24" r="1.3" fill="#ff8a05"/><circle cx="258.95" cy="138.93" r="1.3" fill="#ff8a05"/><circle cx="258.95" cy="130.63" r="1.3" fill="#ff8a05"/><circle cx="258.95" cy="122.32" r="1.3" fill="#ff8a05"/><circle cx="258.95" cy="114.01" r="1.3" fill="#ff8a05"/><circle cx="258.95" cy="105.7" r="1.3" fill="#ff8a05"/><circle cx="258.95" cy="97.39" r="1.3" fill="#ff8a05"/><circle cx="258.95" cy="89.08" r="1.3" fill="#ff8a05"/><circle cx="258.95" cy="80.77" r="1.3" fill="#ff8a05"/><circle cx="258.95" cy="72.47" r="1.3" fill="#ff8a05"/><circle cx="258.95" cy="64.16" r="1.3" fill="#ff8a05"/><circle cx="258.95" cy="55.85" r="1.3" fill="#ff8a05"/><circle cx="258.95" cy="47.54" r="1.3" fill="#ff8a05"/><circle cx="267.28" cy="163.86" r="1.3" fill="#ff8a05"/><circle cx="267.28" cy="155.55" r="1.3" fill="#ff8a05"/><circle cx="267.28" cy="147.24" r="1.3" fill="#ff8a05"/><circle cx="267.28" cy="138.93" r="1.3" fill="#ff8a05"/><circle cx="267.28" cy="130.63" r="1.3" fill="#ff8a05"/><circle cx="267.28" cy="122.32" r="1.3" fill="#ff8a05"/><circle cx="267.28" cy="114.01" r="1.3" fill="#ff8a05"/><circle cx="267.28" cy="105.7" r="1.3" fill="#ff8a05"/><circle cx="267.28" cy="97.39" r="1.3" fill="#ff8a05"/><circle cx="267.28" cy="89.08" r="1.3" fill="#ff8a05"/><circle cx="267.28" cy="80.77" r="1.3" fill="#ff8a05"/><circle cx="267.28" cy="72.47" r="1.3" fill="#ff8a05"/><circle cx="267.28" cy="64.16" r="1.3" fill="#ff8a05"/><circle cx="267.28" cy="55.85" r="1.3" fill="#ff8a05"/><circle cx="267.28" cy="47.54" r="1.3" fill="#ff8a05"/><circle cx="275.6" cy="163.86" r="1.3" fill="#ff8a05"/><circle cx="275.6" cy="155.55" r="1.3" fill="#ff8a05"/><circle cx="275.6" cy="147.24" r="1.3" fill="#ff8a05"/><circle cx="275.6" cy="138.93" r="1.3" fill="#ff8a05"/><circle cx="275.6" cy="130.63" r="1.3" fill="#ff8a05"/><circle cx="275.6" cy="122.32" r="1.3" fill="#ff8a05"/><circle cx="275.6" cy="114.01" r="1.3" fill="#ff8a05"/><circle cx="275.6" cy="105.7" r="1.3" fill="#ff8a05"/><circle cx="275.6" cy="97.39" r="1.3" fill="#ff8a05"/><circle cx="275.6" cy="89.08" r="1.3" fill="#ff8a05"/><circle cx="275.6" cy="80.77" r="1.3" fill="#ff8a05"/><circle cx="275.6" cy="72.47" r="1.3" fill="#ff8a05"/><circle cx="275.6" cy="64.16" r="1.3" fill="#ff8a05"/><circle cx="275.6" cy="55.85" r="1.3" fill="#ff8a05"/><circle cx="275.6" cy="47.54" r="1.3" fill="#ff8a05"/><circle cx="283.93" cy="163.86" r="1.3" fill="#ff8a05"/><circle cx="283.93" cy="155.55" r="1.3" fill="#ff8a05"/><circle cx="283.93" cy="147.24" r="1.3" fill="#ff8a05"/><circle cx="283.93" cy="138.93" r="1.3" fill="#ff8a05"/><circle cx="283.93" cy="130.63" r="1.3" fill="#ff8a05"/><circle cx="283.93" cy="122.32" r="1.3" fill="#ff8a05"/><circle cx="283.93" cy="114.01" r="1.3" fill="#ff8a05"/><circle cx="283.93" cy="105.7" r="1.3" fill="#ff8a05"/><circle cx="283.93" cy="97.39" r="1.3" fill="#ff8a05"/><circle cx="283.93" cy="89.08" r="1.3" fill="#ff8a05"/><circle cx="283.93" cy="80.77" r="1.3" fill="#ff8a05"/><circle cx="283.93" cy="72.47" r="1.3" fill="#ff8a05"/><circle cx="283.93" cy="64.16" r="1.3" fill="#ff8a05"/><circle cx="283.93" cy="55.85" r="1.3" fill="#ff8a05"/><circle cx="283.93" cy="47.54" r="1.3" fill="#ff8a05"/><circle cx="292.25" cy="163.86" r="1.3" fill="#ff8a05"/><circle cx="292.25" cy="155.55" r="1.3" fill="#ff8a05"/><circle cx="292.25" cy="147.24" r="1.3" fill="#ff8a05"/><circle cx="292.25" cy="138.93" r="1.3" fill="#ff8a05"/><circle cx="292.25" cy="130.63" r="1.3" fill="#ff8a05"/><circle cx="292.25" cy="122.32" r="1.3" fill="#ff8a05"/><circle cx="292.25" cy="114.01" r="1.3" fill="#ff8a05"/><circle cx="292.25" cy="105.7" r="1.3" fill="#ff8a05"/><circle cx="292.25" cy="97.39" r="1.3" fill="#ff8a05"/><circle cx="292.25" cy="89.08" r="1.3" fill="#ff8a05"/><circle cx="292.25" cy="80.77" r="1.3" fill="#ff8a05"/><circle cx="292.25" cy="72.47" r="1.3" fill="#ff8a05"/><circle cx="292.25" cy="64.16" r="1.3" fill="#ff8a05"/><circle cx="292.25" cy="55.85" r="1.3" fill="#ff8a05"/><circle cx="292.25" cy="47.54" r="1.3" fill="#ff8a05"/><circle cx="300.58" cy="163.86" r="1.3" fill="#ff8a05"/><circle cx="300.58" cy="155.55" r="1.3" fill="#ff8a05"/><circle cx="300.58" cy="147.24" r="1.3" fill="#ff8a05"/><circle cx="300.58" cy="138.93" r="1.3" fill="#ff8a05"/><circle cx="300.58" cy="130.63" r="1.3" fill="#ff8a05"/><circle cx="300.58" cy="122.32" r="1.3" fill="#ff8a05"/><circle cx="300.58" cy="114.01" r="1.3" fill="#ff8a05"/><circle cx="300.58" cy="105.7" r="1.3" fill="#ff8a05"/><circle cx="300.58" cy="97.39" r="1.3" fill="#ff8a05"/><circle cx="300.58" cy="89.08" r="1.3" fill="#ff8a05"/><circle cx="300.58" cy="80.77" r="1.3" fill="#ff8a05"/><circle cx="300.58" cy="72.47" r="1.3" fill="#ff8a05"/><circle cx="300.58" cy="64.16" r="1.3" fill="#ff8a05"/><circle cx="300.58" cy="55.85" r="1.3" fill="#ff8a05"/><circle cx="300.58" cy="47.54" r="1.3" fill="#ff8a05"/><circle cx="308.9" cy="163.86" r="1.3" fill="#ff8a05"/><circle cx="308.9" cy="155.55" r="1.3" fill="#ff8a05"/><circle cx="308.9" cy="147.24" r="1.3" fill="#ff8a05"/><circle cx="308.9" cy="138.93" r="1.3" fill="#ff8a05"/><circle cx="308.9" cy="130.63" r="1.3" fill="#ff8a05"/><circle cx="308.9" cy="122.32" r="1.3" fill="#ff8a05"/><circle cx="308.9" cy="114.01" r="1.3" fill="#ff8a05"/><circle cx="308.9" cy="105.7" r="1.3" fill="#ff8a05"/><circle cx="308.9" cy="97.39" r="1.3" fill="#ff8a05"/><circle cx="308.9" cy="89.08" r="1.3" fill="#ff8a05"/><circle cx="308.9" cy="80.77" r="1.3" fill="#ff8a05"/><circle cx="308.9" cy="72.47" r="1.3" fill="#ff8a05"/><circle cx="308.9" cy="64.16" r="1.3" fill="#ff8a05"/><circle cx="308.9" cy="55.85" r="1.3" fill="#ff8a05"/><circle cx="308.9" cy="47.54" r="1.3" fill="#ff8a05"/><circle cx="317.23" cy="163.86" r="1.3" fill="#ff8a05"/><circle cx="317.23" cy="155.55" r="1.3" fill="#ff8a05"/><circle cx="317.23" cy="147.24" r="1.3" fill="#ff8a05"/><circle cx="317.23" cy="138.93" r="1.3" fill="#ff8a05"/><circle cx="317.23" cy="130.63" r="1.3" fill="#ff8a05"/><circle cx="317.23" cy="122.32" r="1.3" fill="#ff8a05"/><circle cx="317.23" cy="114.01" r="1.3" fill="#ff8a05"/><circle cx="317.23" cy="105.7" r="1.3" fill="#ff8a05"/><circle cx="317.23" cy="97.39" r="1.3" fill="#ff8a05"/><circle cx="317.23" cy="89.08" r="1.3" fill="#ff8a05"/><circle cx="317.23" cy="80.77" r="1.3" fill="#ff8a05"/><circle cx="317.23" cy="72.47" r="1.3" fill="#ff8a05"/><circle cx="317.23" cy="64.16" r="1.3" fill="#ff8a05"/><circle cx="317.23" cy="55.85" r="1.3" fill="#ff8a05"/><circle cx="317.23" cy="47.54" r="1.3" fill="#ff8a05"/></g><rect x="186.1" y="33" width="145.7" height="145.4" fill="none" stroke="#000" stroke-opacity="0.5" stroke-width="0.9"/><text transform="translate(182.5 49.94) scale(0.95 1)" font-size="7.5" text-anchor="end">300</text><text transform="translate(182.5 69.33) scale(0.95 1)" font-size="7.5" text-anchor="end">200</text><text transform="translate(182.5 88.71) scale(0.95 1)" font-size="7.5" text-anchor="end">100</text><text transform="translate(182.5 108.1) scale(0.95 1)" font-size="7.5" text-anchor="end">0</text><text transform="translate(182.5 127.49) scale(0.95 1)" font-size="7.5" text-anchor="end">&#8722;<tspan dx="1.0">100</tspan></text><text transform="translate(182.5 146.87) scale(0.95 1)" font-size="7.5" text-anchor="end">&#8722;<tspan dx="1.0">200</tspan></text><text transform="translate(182.5 166.26) scale(0.95 1)" font-size="7.5" text-anchor="end">&#8722;<tspan dx="1.0">300</tspan></text><text transform="translate(220.1 187) scale(0.95 1)" font-size="7.5" text-anchor="middle">&#8722;<tspan dx="1.0">200</tspan></text><text transform="translate(258.95 187) scale(0.95 1)" font-size="7.5" text-anchor="middle">0</text><text transform="translate(297.8 187) scale(0.95 1)" font-size="7.5" text-anchor="middle">200</text><path d="M186.1 47.54h-2M186.1 66.93h-2M186.1 86.31h-2M186.1 105.7h-2M186.1 125.09h-2M186.1 144.47h-2M186.1 163.86h-2M220.1 178.4v2M258.95 178.4v2M297.8 178.4v2" stroke="#444" stroke-width="0.6"/><text x="166.7" y="107.2" font-size="7.7" text-anchor="middle" textLength="18.4" lengthAdjust="spacingAndGlyphs" transform="rotate(-90 166.7 107.2)">y [m]</text><rect x="341.2" y="33" width="7.8" height="145.3" fill="url(#g2)" stroke="#444" stroke-width="0.5"/><text transform="translate(354 182.2) scale(0.92 1)" font-size="8.6" text-anchor="start">0</text><text transform="translate(354 153.14) scale(0.92 1)" font-size="8.6" text-anchor="start">2</text><text transform="translate(354 124.08) scale(0.92 1)" font-size="8.6" text-anchor="start">4</text><text transform="translate(354 95.02) scale(0.92 1)" font-size="8.6" text-anchor="start">6</text><text transform="translate(354 65.96) scale(0.92 1)" font-size="8.6" text-anchor="start">8</text><text transform="translate(354 36.9) scale(0.92 1)" font-size="8.6" text-anchor="start">10</text><path d="M349 178.3h2M349 149.24h2M349 120.18h2M349 91.12h2M349 62.06h2M349 33h2" stroke="#444" stroke-width="0.6"/><text x="371.4" y="109.55" font-size="7.7" text-anchor="middle" textLength="29.8" lengthAdjust="spacingAndGlyphs" transform="rotate(-90 371.4 109.55)">M [A/m]</text><g clip-path="url(#c3)"><rect x="420.2" y="105.65" width="109.5" height="72.65" fill="#440154"/><g shape-rendering="crispEdges"><path fill="#424186" d="M457.9 108.1h2.5v2.4h-2.5zM460.4 115.3h2.4v2.5h-2.4zM487.1 115.3h2.5v2.5h-2.5zM489.6 108.1h2.4v2.4h-2.4z"/><path fill="#481f70" d="M457.9 110.5h2.5v2.4h-2.5zM465.2 120.2h2.4v2.4h-2.4zM482.2 120.2h2.5v2.4h-2.5zM489.6 110.5h2.4v2.4h-2.4z"/><path fill="#fde725" d="M460.4 108.1h2.4v2.4h-2.4zM460.4 110.5h2.4v2.4h-2.4zM462.8 108.1h2.4v2.4h-2.4zM462.8 110.5h2.4v2.4h-2.4zM462.8 112.9h2.4v2.4h-2.4zM465.2 108.1h2.4v2.4h-2.4zM465.2 110.5h2.4v2.4h-2.4zM465.2 112.9h2.4v2.4h-2.4zM465.2 115.3h2.4v2.5h-2.4zM467.6 108.1h2.5v2.4h-2.5zM467.6 110.5h2.5v2.4h-2.5zM467.6 112.9h2.5v2.4h-2.5zM467.6 115.3h2.5v2.5h-2.5zM467.6 117.8h2.5v2.4h-2.5zM470.1 108.1h2.4v2.4h-2.4zM470.1 110.5h2.4v2.4h-2.4zM470.1 112.9h2.4v2.4h-2.4zM470.1 115.3h2.4v2.5h-2.4zM470.1 117.8h2.4v2.4h-2.4zM472.5 108.1h2.5v2.4h-2.5zM472.5 110.5h2.5v2.4h-2.5zM472.5 112.9h2.5v2.4h-2.5zM472.5 115.3h2.5v2.5h-2.5zM472.5 117.8h2.5v2.4h-2.5zM472.5 120.2h2.5v2.4h-2.5zM475 108.1h2.4v2.4h-2.4zM475 110.5h2.4v2.4h-2.4zM475 112.9h2.4v2.4h-2.4zM475 115.3h2.4v2.5h-2.4zM475 117.8h2.4v2.4h-2.4zM475 120.2h2.4v2.4h-2.4zM477.4 108.1h2.4v2.4h-2.4zM477.4 110.5h2.4v2.4h-2.4zM477.4 112.9h2.4v2.4h-2.4zM477.4 115.3h2.4v2.5h-2.4zM477.4 117.8h2.4v2.4h-2.4zM479.8 108.1h2.4v2.4h-2.4zM479.8 110.5h2.4v2.4h-2.4zM479.8 112.9h2.4v2.4h-2.4zM479.8 115.3h2.4v2.5h-2.4zM479.8 117.8h2.4v2.4h-2.4zM482.2 108.1h2.5v2.4h-2.5zM482.2 110.5h2.5v2.4h-2.5zM482.2 112.9h2.5v2.4h-2.5zM482.2 115.3h2.5v2.5h-2.5zM484.7 108.1h2.4v2.4h-2.4zM484.7 110.5h2.4v2.4h-2.4zM484.7 112.9h2.4v2.4h-2.4zM487.1 108.1h2.5v2.4h-2.5zM487.1 110.5h2.5v2.4h-2.5z"/><path fill="#5ec962" d="M460.4 112.9h2.4v2.4h-2.4zM487.1 112.9h2.5v2.4h-2.5z"/><path fill="#ece51b" d="M462.8 115.3h2.4v2.5h-2.4zM484.7 115.3h2.4v2.5h-2.4z"/><path fill="#375a8c" d="M462.8 117.8h2.4v2.4h-2.4zM484.7 117.8h2.4v2.4h-2.4z"/><path fill="#c8e020" d="M465.2 117.8h2.4v2.4h-2.4zM482.2 117.8h2.5v2.4h-2.5z"/><path fill="#21918c" d="M467.6 120.2h2.5v2.4h-2.5zM479.8 120.2h2.4v2.4h-2.4z"/><path fill="#7fd34e" d="M470.1 120.2h2.4v2.4h-2.4zM477.4 120.2h2.4v2.4h-2.4z"/></g><rect x="453.05" y="104.65" width="43.8" height="3.42" fill="#fff"/><rect x="462.78" y="107.07" width="24.33" height="3.06" fill="#fff"/><path d="M460.35 110.49 H489.55 A14.6 14.53 0 0 1 460.35 110.49" fill="none" stroke="#000" stroke-width="1.2" stroke-dasharray="3.2 1.4"/><circle cx="438.45" cy="104.68" r="1.15" fill="#ff8a05"/><circle cx="443.66" cy="104.68" r="1.15" fill="#ff8a05"/><circle cx="448.88" cy="104.68" r="1.15" fill="#ff8a05"/><circle cx="454.09" cy="104.68" r="1.15" fill="#ff8a05"/><circle cx="459.31" cy="104.68" r="1.15" fill="#ff8a05"/><circle cx="464.52" cy="104.68" r="1.15" fill="#ff8a05"/><circle cx="469.74" cy="104.68" r="1.15" fill="#ff8a05"/><circle cx="474.95" cy="104.68" r="1.15" fill="#ff8a05"/><circle cx="480.16" cy="104.68" r="1.15" fill="#ff8a05"/><circle cx="485.38" cy="104.68" r="1.15" fill="#ff8a05"/><circle cx="490.59" cy="104.68" r="1.15" fill="#ff8a05"/><circle cx="495.81" cy="104.68" r="1.15" fill="#ff8a05"/><circle cx="501.02" cy="104.68" r="1.15" fill="#ff8a05"/><circle cx="506.24" cy="104.68" r="1.15" fill="#ff8a05"/><circle cx="511.45" cy="104.68" r="1.15" fill="#ff8a05"/></g><rect x="420.2" y="33" width="109.5" height="145.3" fill="none" stroke="#000" stroke-opacity="0.5" stroke-width="0.9"/><text transform="translate(416.9 36) scale(0.95 1)" font-size="7.5" text-anchor="end">600</text><text transform="translate(416.9 60.22) scale(0.95 1)" font-size="7.5" text-anchor="end">400</text><text transform="translate(416.9 84.43) scale(0.95 1)" font-size="7.5" text-anchor="end">200</text><text transform="translate(416.9 108.65) scale(0.95 1)" font-size="7.5" text-anchor="end">0</text><text transform="translate(416.9 132.87) scale(0.95 1)" font-size="7.5" text-anchor="end">&#8722;<tspan dx="1.0">200</tspan></text><text transform="translate(416.9 157.08) scale(0.95 1)" font-size="7.5" text-anchor="end">&#8722;<tspan dx="1.0">400</tspan></text><text transform="translate(416.9 181.3) scale(0.95 1)" font-size="7.5" text-anchor="end">&#8722;<tspan dx="1.0">600</tspan></text><text transform="translate(426.28 186.9) scale(0.95 1)" font-size="7.5" text-anchor="middle">&#8722;<tspan dx="1.0">400</tspan></text><text transform="translate(450.62 186.9) scale(0.95 1)" font-size="7.5" text-anchor="middle">&#8722;<tspan dx="1.0">200</tspan></text><text transform="translate(474.95 186.9) scale(0.95 1)" font-size="7.5" text-anchor="middle">0</text><text transform="translate(499.28 186.9) scale(0.95 1)" font-size="7.5" text-anchor="middle">200</text><text transform="translate(523.62 186.9) scale(0.95 1)" font-size="7.5" text-anchor="middle">400</text><path d="M420.2 33h-2M420.2 57.22h-2M420.2 81.43h-2M420.2 105.65h-2M420.2 129.87h-2M420.2 154.08h-2M420.2 178.3h-2M426.28 178.3v2M450.62 178.3v2M474.95 178.3v2M499.28 178.3v2M523.62 178.3v2" stroke="#444" stroke-width="0.6"/><text x="401.3" y="107.65" font-size="7.7" text-anchor="middle" textLength="18.4" lengthAdjust="spacingAndGlyphs" transform="rotate(-90 401.3 107.65)">z [m]</text><g clip-path="url(#c4)"><rect x="572" y="33" width="145.6" height="145.3" fill="#440154"/><g shape-rendering="crispEdges"><path fill="#450559" d="M637 76.6h15.6v1.9h-15.6zM633.2 78.5h23.2v2h-23.2zM629.3 80.5h31v1.9h-31zM625.4 82.4h11.6v1.9h-11.6zM652.6 82.4h11.6v1.9h-11.6zM623.4 84.3h9.8v2h-9.8zM656.4 84.3h9.8v2h-9.8zM621.5 86.3h7.8v1.9h-7.8zM660.3 86.3h7.8v1.9h-7.8zM621.5 88.2h5.8v2h-5.8zM662.3 88.2h5.8v2h-5.8zM619.6 90.2h5.8v1.9h-5.8zM664.2 90.2h5.8v1.9h-5.8zM619.6 92.1h5.8v1.9h-5.8zM664.2 92.1h5.8v1.9h-5.8zM617.6 94h5.8v2h-5.8zM666.2 94h5.8v2h-5.8zM617.6 96h5.8v1.9h-5.8zM666.2 96h5.8v1.9h-5.8zM615.7 97.9h5.8v1.9h-5.8zM668.1 97.9h5.8v1.9h-5.8zM615.7 99.8h5.8v2h-5.8zM668.1 99.8h5.8v2h-5.8zM615.7 101.8h5.8v1.9h-5.8zM668.1 101.8h5.8v1.9h-5.8zM615.7 103.7h5.8v1.9h-5.8zM668.1 103.7h5.8v1.9h-5.8zM615.7 105.6h5.8v2h-5.8zM668.1 105.6h5.8v2h-5.8zM615.7 107.6h5.8v1.9h-5.8zM668.1 107.6h5.8v1.9h-5.8zM615.7 109.5h5.8v2h-5.8zM668.1 109.5h5.8v2h-5.8zM615.7 111.5h5.8v1.9h-5.8zM668.1 111.5h5.8v1.9h-5.8zM617.6 113.4h5.8v1.9h-5.8zM666.2 113.4h5.8v1.9h-5.8zM617.6 115.3h5.8v2h-5.8zM666.2 115.3h5.8v2h-5.8zM619.6 117.3h5.8v1.9h-5.8zM664.2 117.3h5.8v1.9h-5.8zM619.6 119.2h5.8v1.9h-5.8zM664.2 119.2h5.8v1.9h-5.8zM621.5 121.1h5.8v2h-5.8zM662.3 121.1h5.8v2h-5.8zM621.5 123.1h7.8v1.9h-7.8zM660.3 123.1h7.8v1.9h-7.8zM623.4 125h9.8v2h-9.8zM656.4 125h9.8v2h-9.8zM625.4 127h11.6v1.9h-11.6zM652.6 127h11.6v1.9h-11.6zM629.3 128.9h31v1.9h-31zM633.2 130.8h23.2v2h-23.2zM637 132.8h15.6v1.9h-15.6z"/><path fill="#46075a" d="M637 82.4h15.6v1.9h-15.6zM633.2 84.3h7.7v2h-7.7zM648.7 84.3h7.7v2h-7.7zM629.3 86.3h5.8v1.9h-5.8zM654.5 86.3h5.8v1.9h-5.8zM627.3 88.2h5.9v2h-5.9zM656.4 88.2h5.9v2h-5.9zM625.4 90.2h3.9v1.9h-3.9zM660.3 90.2h3.9v1.9h-3.9zM625.4 92.1h3.9v1.9h-3.9zM660.3 92.1h3.9v1.9h-3.9zM623.4 94h3.9v2h-3.9zM662.3 94h3.9v2h-3.9zM623.4 96h2v1.9h-2zM664.2 96h2v1.9h-2zM621.5 97.9h3.9v1.9h-3.9zM664.2 97.9h3.9v1.9h-3.9zM621.5 99.8h3.9v2h-3.9zM664.2 99.8h3.9v2h-3.9zM621.5 101.8h1.9v1.9h-1.9zM666.2 101.8h1.9v1.9h-1.9zM621.5 103.7h1.9v1.9h-1.9zM666.2 103.7h1.9v1.9h-1.9zM621.5 105.6h1.9v2h-1.9zM666.2 105.6h1.9v2h-1.9zM621.5 107.6h1.9v1.9h-1.9zM666.2 107.6h1.9v1.9h-1.9zM621.5 109.5h3.9v2h-3.9zM664.2 109.5h3.9v2h-3.9zM621.5 111.5h3.9v1.9h-3.9zM664.2 111.5h3.9v1.9h-3.9zM623.4 113.4h2v1.9h-2zM664.2 113.4h2v1.9h-2zM623.4 115.3h3.9v2h-3.9zM662.3 115.3h3.9v2h-3.9zM625.4 117.3h3.9v1.9h-3.9zM660.3 117.3h3.9v1.9h-3.9zM625.4 119.2h3.9v1.9h-3.9zM660.3 119.2h3.9v1.9h-3.9zM627.3 121.1h5.9v2h-5.9zM656.4 121.1h5.9v2h-5.9zM629.3 123.1h5.8v1.9h-5.8zM654.5 123.1h5.8v1.9h-5.8zM633.2 125h7.7v2h-7.7zM648.7 125h7.7v2h-7.7zM637 127h15.6v1.9h-15.6z"/><path fill="#46085c" d="M640.9 84.3h7.8v2h-7.8zM635.1 86.3h19.4v1.9h-19.4zM633.2 88.2h23.2v2h-23.2zM629.3 90.2h31v1.9h-31zM629.3 92.1h31v1.9h-31zM627.3 94h35v2h-35zM625.4 96h38.8v1.9h-38.8zM625.4 97.9h38.8v1.9h-38.8zM625.4 99.8h38.8v2h-38.8zM623.4 101.8h42.8v1.9h-42.8zM623.4 103.7h42.8v1.9h-42.8zM623.4 105.6h42.8v2h-42.8zM623.4 107.6h42.8v1.9h-42.8zM625.4 109.5h38.8v2h-38.8zM625.4 111.5h38.8v1.9h-38.8zM625.4 113.4h38.8v1.9h-38.8zM627.3 115.3h35v2h-35zM629.3 117.3h31v1.9h-31zM629.3 119.2h31v1.9h-31zM633.2 121.1h23.2v2h-23.2zM635.1 123.1h19.4v1.9h-19.4zM640.9 125h7.8v2h-7.8z"/></g><g shape-rendering="crispEdges"><path fill="#46307e" d="M621.5 105.6h3.9v3.9h-3.9zM621.5 101.8h3.9v3.8h-3.9zM640.9 125h3.9v3.9h-3.9zM640.9 82.4h3.9v3.9h-3.9zM644.8 125h3.9v3.9h-3.9zM644.8 82.4h3.9v3.9h-3.9zM664.2 105.6h3.9v3.9h-3.9zM664.2 101.8h3.9v3.8h-3.9z"/><path fill="#23898e" d="M625.4 113.4h3.9v3.9h-3.9zM625.4 94h3.9v3.9h-3.9zM633.2 121.1h3.8v3.9h-3.8zM633.2 86.3h3.8v3.9h-3.8zM652.6 121.1h3.8v3.9h-3.8zM652.6 86.3h3.8v3.9h-3.8zM660.3 113.4h3.9v3.9h-3.9zM660.3 94h3.9v3.9h-3.9z"/><path fill="#c8e020" d="M625.4 109.5h3.9v3.9h-3.9zM625.4 97.9h3.9v3.9h-3.9zM637 121.1h3.9v3.9h-3.9zM637 86.3h3.9v3.9h-3.9zM648.7 121.1h3.9v3.9h-3.9zM648.7 86.3h3.9v3.9h-3.9zM660.3 109.5h3.9v3.9h-3.9zM660.3 97.9h3.9v3.9h-3.9z"/><path fill="#fde725" d="M625.4 105.6h3.9v3.9h-3.9zM625.4 101.8h3.9v3.8h-3.9zM629.3 113.4h3.9v3.9h-3.9zM629.3 109.5h3.9v3.9h-3.9zM629.3 105.6h3.9v3.9h-3.9zM629.3 101.8h3.9v3.8h-3.9zM629.3 97.9h3.9v3.9h-3.9zM629.3 94h3.9v3.9h-3.9zM633.2 117.3h3.8v3.8h-3.8zM633.2 113.4h3.8v3.9h-3.8zM633.2 109.5h3.8v3.9h-3.8zM633.2 105.6h3.8v3.9h-3.8zM633.2 101.8h3.8v3.8h-3.8zM633.2 97.9h3.8v3.9h-3.8zM633.2 94h3.8v3.9h-3.8zM633.2 90.2h3.8v3.8h-3.8zM637 117.3h3.9v3.8h-3.9zM637 113.4h3.9v3.9h-3.9zM637 109.5h3.9v3.9h-3.9zM637 105.6h3.9v3.9h-3.9zM637 101.8h3.9v3.8h-3.9zM637 97.9h3.9v3.9h-3.9zM637 94h3.9v3.9h-3.9zM637 90.2h3.9v3.8h-3.9zM640.9 121.1h3.9v3.9h-3.9zM640.9 117.3h3.9v3.8h-3.9zM640.9 113.4h3.9v3.9h-3.9zM640.9 109.5h3.9v3.9h-3.9zM640.9 105.6h3.9v3.9h-3.9zM640.9 101.8h3.9v3.8h-3.9zM640.9 97.9h3.9v3.9h-3.9zM640.9 94h3.9v3.9h-3.9zM640.9 90.2h3.9v3.8h-3.9zM640.9 86.3h3.9v3.9h-3.9zM644.8 121.1h3.9v3.9h-3.9zM644.8 117.3h3.9v3.8h-3.9zM644.8 113.4h3.9v3.9h-3.9zM644.8 109.5h3.9v3.9h-3.9zM644.8 105.6h3.9v3.9h-3.9zM644.8 101.8h3.9v3.8h-3.9zM644.8 97.9h3.9v3.9h-3.9zM644.8 94h3.9v3.9h-3.9zM644.8 90.2h3.9v3.8h-3.9zM644.8 86.3h3.9v3.9h-3.9zM648.7 117.3h3.9v3.8h-3.9zM648.7 113.4h3.9v3.9h-3.9zM648.7 109.5h3.9v3.9h-3.9zM648.7 105.6h3.9v3.9h-3.9zM648.7 101.8h3.9v3.8h-3.9zM648.7 97.9h3.9v3.9h-3.9zM648.7 94h3.9v3.9h-3.9zM648.7 90.2h3.9v3.8h-3.9zM652.6 117.3h3.8v3.8h-3.8zM652.6 113.4h3.8v3.9h-3.8zM652.6 109.5h3.8v3.9h-3.8zM652.6 105.6h3.8v3.9h-3.8zM652.6 101.8h3.8v3.8h-3.8zM652.6 97.9h3.8v3.9h-3.8zM652.6 94h3.8v3.9h-3.8zM652.6 90.2h3.8v3.8h-3.8zM656.4 113.4h3.9v3.9h-3.9zM656.4 109.5h3.9v3.9h-3.9zM656.4 105.6h3.9v3.9h-3.9zM656.4 101.8h3.9v3.8h-3.9zM656.4 97.9h3.9v3.9h-3.9zM656.4 94h3.9v3.9h-3.9zM660.3 105.6h3.9v3.9h-3.9zM660.3 101.8h3.9v3.8h-3.9z"/><path fill="#4ec36b" d="M629.3 117.3h3.9v3.8h-3.9zM629.3 90.2h3.9v3.8h-3.9zM656.4 117.3h3.9v3.8h-3.9zM656.4 90.2h3.9v3.8h-3.9z"/></g><ellipse cx="644.8" cy="105.65" rx="23.3" ry="23.25" fill="none" stroke="#000" stroke-width="1.3" stroke-dasharray="3.3 1.5"/><circle cx="586.56" cy="163.77" r="1.3" fill="#ff8a05"/><circle cx="586.56" cy="155.47" r="1.3" fill="#ff8a05"/><circle cx="586.56" cy="147.16" r="1.3" fill="#ff8a05"/><circle cx="586.56" cy="138.86" r="1.3" fill="#ff8a05"/><circle cx="586.56" cy="130.56" r="1.3" fill="#ff8a05"/><circle cx="586.56" cy="122.26" r="1.3" fill="#ff8a05"/><circle cx="586.56" cy="113.95" r="1.3" fill="#ff8a05"/><circle cx="586.56" cy="105.65" r="1.3" fill="#ff8a05"/><circle cx="586.56" cy="97.35" r="1.3" fill="#ff8a05"/><circle cx="586.56" cy="89.04" r="1.3" fill="#ff8a05"/><circle cx="586.56" cy="80.74" r="1.3" fill="#ff8a05"/><circle cx="586.56" cy="72.44" r="1.3" fill="#ff8a05"/><circle cx="586.56" cy="64.14" r="1.3" fill="#ff8a05"/><circle cx="586.56" cy="55.83" r="1.3" fill="#ff8a05"/><circle cx="586.56" cy="47.53" r="1.3" fill="#ff8a05"/><circle cx="594.88" cy="163.77" r="1.3" fill="#ff8a05"/><circle cx="594.88" cy="155.47" r="1.3" fill="#ff8a05"/><circle cx="594.88" cy="147.16" r="1.3" fill="#ff8a05"/><circle cx="594.88" cy="138.86" r="1.3" fill="#ff8a05"/><circle cx="594.88" cy="130.56" r="1.3" fill="#ff8a05"/><circle cx="594.88" cy="122.26" r="1.3" fill="#ff8a05"/><circle cx="594.88" cy="113.95" r="1.3" fill="#ff8a05"/><circle cx="594.88" cy="105.65" r="1.3" fill="#ff8a05"/><circle cx="594.88" cy="97.35" r="1.3" fill="#ff8a05"/><circle cx="594.88" cy="89.04" r="1.3" fill="#ff8a05"/><circle cx="594.88" cy="80.74" r="1.3" fill="#ff8a05"/><circle cx="594.88" cy="72.44" r="1.3" fill="#ff8a05"/><circle cx="594.88" cy="64.14" r="1.3" fill="#ff8a05"/><circle cx="594.88" cy="55.83" r="1.3" fill="#ff8a05"/><circle cx="594.88" cy="47.53" r="1.3" fill="#ff8a05"/><circle cx="603.2" cy="163.77" r="1.3" fill="#ff8a05"/><circle cx="603.2" cy="155.47" r="1.3" fill="#ff8a05"/><circle cx="603.2" cy="147.16" r="1.3" fill="#ff8a05"/><circle cx="603.2" cy="138.86" r="1.3" fill="#ff8a05"/><circle cx="603.2" cy="130.56" r="1.3" fill="#ff8a05"/><circle cx="603.2" cy="122.26" r="1.3" fill="#ff8a05"/><circle cx="603.2" cy="113.95" r="1.3" fill="#ff8a05"/><circle cx="603.2" cy="105.65" r="1.3" fill="#ff8a05"/><circle cx="603.2" cy="97.35" r="1.3" fill="#ff8a05"/><circle cx="603.2" cy="89.04" r="1.3" fill="#ff8a05"/><circle cx="603.2" cy="80.74" r="1.3" fill="#ff8a05"/><circle cx="603.2" cy="72.44" r="1.3" fill="#ff8a05"/><circle cx="603.2" cy="64.14" r="1.3" fill="#ff8a05"/><circle cx="603.2" cy="55.83" r="1.3" fill="#ff8a05"/><circle cx="603.2" cy="47.53" r="1.3" fill="#ff8a05"/><circle cx="611.52" cy="163.77" r="1.3" fill="#ff8a05"/><circle cx="611.52" cy="155.47" r="1.3" fill="#ff8a05"/><circle cx="611.52" cy="147.16" r="1.3" fill="#ff8a05"/><circle cx="611.52" cy="138.86" r="1.3" fill="#ff8a05"/><circle cx="611.52" cy="130.56" r="1.3" fill="#ff8a05"/><circle cx="611.52" cy="122.26" r="1.3" fill="#ff8a05"/><circle cx="611.52" cy="113.95" r="1.3" fill="#ff8a05"/><circle cx="611.52" cy="105.65" r="1.3" fill="#ff8a05"/><circle cx="611.52" cy="97.35" r="1.3" fill="#ff8a05"/><circle cx="611.52" cy="89.04" r="1.3" fill="#ff8a05"/><circle cx="611.52" cy="80.74" r="1.3" fill="#ff8a05"/><circle cx="611.52" cy="72.44" r="1.3" fill="#ff8a05"/><circle cx="611.52" cy="64.14" r="1.3" fill="#ff8a05"/><circle cx="611.52" cy="55.83" r="1.3" fill="#ff8a05"/><circle cx="611.52" cy="47.53" r="1.3" fill="#ff8a05"/><circle cx="619.84" cy="163.77" r="1.3" fill="#ff8a05"/><circle cx="619.84" cy="155.47" r="1.3" fill="#ff8a05"/><circle cx="619.84" cy="147.16" r="1.3" fill="#ff8a05"/><circle cx="619.84" cy="138.86" r="1.3" fill="#ff8a05"/><circle cx="619.84" cy="130.56" r="1.3" fill="#ff8a05"/><circle cx="619.84" cy="122.26" r="1.3" fill="#ff8a05"/><circle cx="619.84" cy="113.95" r="1.3" fill="#ff8a05"/><circle cx="619.84" cy="105.65" r="1.3" fill="#ff8a05"/><circle cx="619.84" cy="97.35" r="1.3" fill="#ff8a05"/><circle cx="619.84" cy="89.04" r="1.3" fill="#ff8a05"/><circle cx="619.84" cy="80.74" r="1.3" fill="#ff8a05"/><circle cx="619.84" cy="72.44" r="1.3" fill="#ff8a05"/><circle cx="619.84" cy="64.14" r="1.3" fill="#ff8a05"/><circle cx="619.84" cy="55.83" r="1.3" fill="#ff8a05"/><circle cx="619.84" cy="47.53" r="1.3" fill="#ff8a05"/><circle cx="628.16" cy="163.77" r="1.3" fill="#ff8a05"/><circle cx="628.16" cy="155.47" r="1.3" fill="#ff8a05"/><circle cx="628.16" cy="147.16" r="1.3" fill="#ff8a05"/><circle cx="628.16" cy="138.86" r="1.3" fill="#ff8a05"/><circle cx="628.16" cy="130.56" r="1.3" fill="#ff8a05"/><circle cx="628.16" cy="122.26" r="1.3" fill="#ff8a05"/><circle cx="628.16" cy="113.95" r="1.3" fill="#ff8a05"/><circle cx="628.16" cy="105.65" r="1.3" fill="#ff8a05"/><circle cx="628.16" cy="97.35" r="1.3" fill="#ff8a05"/><circle cx="628.16" cy="89.04" r="1.3" fill="#ff8a05"/><circle cx="628.16" cy="80.74" r="1.3" fill="#ff8a05"/><circle cx="628.16" cy="72.44" r="1.3" fill="#ff8a05"/><circle cx="628.16" cy="64.14" r="1.3" fill="#ff8a05"/><circle cx="628.16" cy="55.83" r="1.3" fill="#ff8a05"/><circle cx="628.16" cy="47.53" r="1.3" fill="#ff8a05"/><circle cx="636.48" cy="163.77" r="1.3" fill="#ff8a05"/><circle cx="636.48" cy="155.47" r="1.3" fill="#ff8a05"/><circle cx="636.48" cy="147.16" r="1.3" fill="#ff8a05"/><circle cx="636.48" cy="138.86" r="1.3" fill="#ff8a05"/><circle cx="636.48" cy="130.56" r="1.3" fill="#ff8a05"/><circle cx="636.48" cy="122.26" r="1.3" fill="#ff8a05"/><circle cx="636.48" cy="113.95" r="1.3" fill="#ff8a05"/><circle cx="636.48" cy="105.65" r="1.3" fill="#ff8a05"/><circle cx="636.48" cy="97.35" r="1.3" fill="#ff8a05"/><circle cx="636.48" cy="89.04" r="1.3" fill="#ff8a05"/><circle cx="636.48" cy="80.74" r="1.3" fill="#ff8a05"/><circle cx="636.48" cy="72.44" r="1.3" fill="#ff8a05"/><circle cx="636.48" cy="64.14" r="1.3" fill="#ff8a05"/><circle cx="636.48" cy="55.83" r="1.3" fill="#ff8a05"/><circle cx="636.48" cy="47.53" r="1.3" fill="#ff8a05"/><circle cx="644.8" cy="163.77" r="1.3" fill="#ff8a05"/><circle cx="644.8" cy="155.47" r="1.3" fill="#ff8a05"/><circle cx="644.8" cy="147.16" r="1.3" fill="#ff8a05"/><circle cx="644.8" cy="138.86" r="1.3" fill="#ff8a05"/><circle cx="644.8" cy="130.56" r="1.3" fill="#ff8a05"/><circle cx="644.8" cy="122.26" r="1.3" fill="#ff8a05"/><circle cx="644.8" cy="113.95" r="1.3" fill="#ff8a05"/><circle cx="644.8" cy="105.65" r="1.3" fill="#ff8a05"/><circle cx="644.8" cy="97.35" r="1.3" fill="#ff8a05"/><circle cx="644.8" cy="89.04" r="1.3" fill="#ff8a05"/><circle cx="644.8" cy="80.74" r="1.3" fill="#ff8a05"/><circle cx="644.8" cy="72.44" r="1.3" fill="#ff8a05"/><circle cx="644.8" cy="64.14" r="1.3" fill="#ff8a05"/><circle cx="644.8" cy="55.83" r="1.3" fill="#ff8a05"/><circle cx="644.8" cy="47.53" r="1.3" fill="#ff8a05"/><circle cx="653.12" cy="163.77" r="1.3" fill="#ff8a05"/><circle cx="653.12" cy="155.47" r="1.3" fill="#ff8a05"/><circle cx="653.12" cy="147.16" r="1.3" fill="#ff8a05"/><circle cx="653.12" cy="138.86" r="1.3" fill="#ff8a05"/><circle cx="653.12" cy="130.56" r="1.3" fill="#ff8a05"/><circle cx="653.12" cy="122.26" r="1.3" fill="#ff8a05"/><circle cx="653.12" cy="113.95" r="1.3" fill="#ff8a05"/><circle cx="653.12" cy="105.65" r="1.3" fill="#ff8a05"/><circle cx="653.12" cy="97.35" r="1.3" fill="#ff8a05"/><circle cx="653.12" cy="89.04" r="1.3" fill="#ff8a05"/><circle cx="653.12" cy="80.74" r="1.3" fill="#ff8a05"/><circle cx="653.12" cy="72.44" r="1.3" fill="#ff8a05"/><circle cx="653.12" cy="64.14" r="1.3" fill="#ff8a05"/><circle cx="653.12" cy="55.83" r="1.3" fill="#ff8a05"/><circle cx="653.12" cy="47.53" r="1.3" fill="#ff8a05"/><circle cx="661.44" cy="163.77" r="1.3" fill="#ff8a05"/><circle cx="661.44" cy="155.47" r="1.3" fill="#ff8a05"/><circle cx="661.44" cy="147.16" r="1.3" fill="#ff8a05"/><circle cx="661.44" cy="138.86" r="1.3" fill="#ff8a05"/><circle cx="661.44" cy="130.56" r="1.3" fill="#ff8a05"/><circle cx="661.44" cy="122.26" r="1.3" fill="#ff8a05"/><circle cx="661.44" cy="113.95" r="1.3" fill="#ff8a05"/><circle cx="661.44" cy="105.65" r="1.3" fill="#ff8a05"/><circle cx="661.44" cy="97.35" r="1.3" fill="#ff8a05"/><circle cx="661.44" cy="89.04" r="1.3" fill="#ff8a05"/><circle cx="661.44" cy="80.74" r="1.3" fill="#ff8a05"/><circle cx="661.44" cy="72.44" r="1.3" fill="#ff8a05"/><circle cx="661.44" cy="64.14" r="1.3" fill="#ff8a05"/><circle cx="661.44" cy="55.83" r="1.3" fill="#ff8a05"/><circle cx="661.44" cy="47.53" r="1.3" fill="#ff8a05"/><circle cx="669.76" cy="163.77" r="1.3" fill="#ff8a05"/><circle cx="669.76" cy="155.47" r="1.3" fill="#ff8a05"/><circle cx="669.76" cy="147.16" r="1.3" fill="#ff8a05"/><circle cx="669.76" cy="138.86" r="1.3" fill="#ff8a05"/><circle cx="669.76" cy="130.56" r="1.3" fill="#ff8a05"/><circle cx="669.76" cy="122.26" r="1.3" fill="#ff8a05"/><circle cx="669.76" cy="113.95" r="1.3" fill="#ff8a05"/><circle cx="669.76" cy="105.65" r="1.3" fill="#ff8a05"/><circle cx="669.76" cy="97.35" r="1.3" fill="#ff8a05"/><circle cx="669.76" cy="89.04" r="1.3" fill="#ff8a05"/><circle cx="669.76" cy="80.74" r="1.3" fill="#ff8a05"/><circle cx="669.76" cy="72.44" r="1.3" fill="#ff8a05"/><circle cx="669.76" cy="64.14" r="1.3" fill="#ff8a05"/><circle cx="669.76" cy="55.83" r="1.3" fill="#ff8a05"/><circle cx="669.76" cy="47.53" r="1.3" fill="#ff8a05"/><circle cx="678.08" cy="163.77" r="1.3" fill="#ff8a05"/><circle cx="678.08" cy="155.47" r="1.3" fill="#ff8a05"/><circle cx="678.08" cy="147.16" r="1.3" fill="#ff8a05"/><circle cx="678.08" cy="138.86" r="1.3" fill="#ff8a05"/><circle cx="678.08" cy="130.56" r="1.3" fill="#ff8a05"/><circle cx="678.08" cy="122.26" r="1.3" fill="#ff8a05"/><circle cx="678.08" cy="113.95" r="1.3" fill="#ff8a05"/><circle cx="678.08" cy="105.65" r="1.3" fill="#ff8a05"/><circle cx="678.08" cy="97.35" r="1.3" fill="#ff8a05"/><circle cx="678.08" cy="89.04" r="1.3" fill="#ff8a05"/><circle cx="678.08" cy="80.74" r="1.3" fill="#ff8a05"/><circle cx="678.08" cy="72.44" r="1.3" fill="#ff8a05"/><circle cx="678.08" cy="64.14" r="1.3" fill="#ff8a05"/><circle cx="678.08" cy="55.83" r="1.3" fill="#ff8a05"/><circle cx="678.08" cy="47.53" r="1.3" fill="#ff8a05"/><circle cx="686.4" cy="163.77" r="1.3" fill="#ff8a05"/><circle cx="686.4" cy="155.47" r="1.3" fill="#ff8a05"/><circle cx="686.4" cy="147.16" r="1.3" fill="#ff8a05"/><circle cx="686.4" cy="138.86" r="1.3" fill="#ff8a05"/><circle cx="686.4" cy="130.56" r="1.3" fill="#ff8a05"/><circle cx="686.4" cy="122.26" r="1.3" fill="#ff8a05"/><circle cx="686.4" cy="113.95" r="1.3" fill="#ff8a05"/><circle cx="686.4" cy="105.65" r="1.3" fill="#ff8a05"/><circle cx="686.4" cy="97.35" r="1.3" fill="#ff8a05"/><circle cx="686.4" cy="89.04" r="1.3" fill="#ff8a05"/><circle cx="686.4" cy="80.74" r="1.3" fill="#ff8a05"/><circle cx="686.4" cy="72.44" r="1.3" fill="#ff8a05"/><circle cx="686.4" cy="64.14" r="1.3" fill="#ff8a05"/><circle cx="686.4" cy="55.83" r="1.3" fill="#ff8a05"/><circle cx="686.4" cy="47.53" r="1.3" fill="#ff8a05"/><circle cx="694.72" cy="163.77" r="1.3" fill="#ff8a05"/><circle cx="694.72" cy="155.47" r="1.3" fill="#ff8a05"/><circle cx="694.72" cy="147.16" r="1.3" fill="#ff8a05"/><circle cx="694.72" cy="138.86" r="1.3" fill="#ff8a05"/><circle cx="694.72" cy="130.56" r="1.3" fill="#ff8a05"/><circle cx="694.72" cy="122.26" r="1.3" fill="#ff8a05"/><circle cx="694.72" cy="113.95" r="1.3" fill="#ff8a05"/><circle cx="694.72" cy="105.65" r="1.3" fill="#ff8a05"/><circle cx="694.72" cy="97.35" r="1.3" fill="#ff8a05"/><circle cx="694.72" cy="89.04" r="1.3" fill="#ff8a05"/><circle cx="694.72" cy="80.74" r="1.3" fill="#ff8a05"/><circle cx="694.72" cy="72.44" r="1.3" fill="#ff8a05"/><circle cx="694.72" cy="64.14" r="1.3" fill="#ff8a05"/><circle cx="694.72" cy="55.83" r="1.3" fill="#ff8a05"/><circle cx="694.72" cy="47.53" r="1.3" fill="#ff8a05"/><circle cx="703.04" cy="163.77" r="1.3" fill="#ff8a05"/><circle cx="703.04" cy="155.47" r="1.3" fill="#ff8a05"/><circle cx="703.04" cy="147.16" r="1.3" fill="#ff8a05"/><circle cx="703.04" cy="138.86" r="1.3" fill="#ff8a05"/><circle cx="703.04" cy="130.56" r="1.3" fill="#ff8a05"/><circle cx="703.04" cy="122.26" r="1.3" fill="#ff8a05"/><circle cx="703.04" cy="113.95" r="1.3" fill="#ff8a05"/><circle cx="703.04" cy="105.65" r="1.3" fill="#ff8a05"/><circle cx="703.04" cy="97.35" r="1.3" fill="#ff8a05"/><circle cx="703.04" cy="89.04" r="1.3" fill="#ff8a05"/><circle cx="703.04" cy="80.74" r="1.3" fill="#ff8a05"/><circle cx="703.04" cy="72.44" r="1.3" fill="#ff8a05"/><circle cx="703.04" cy="64.14" r="1.3" fill="#ff8a05"/><circle cx="703.04" cy="55.83" r="1.3" fill="#ff8a05"/><circle cx="703.04" cy="47.53" r="1.3" fill="#ff8a05"/></g><rect x="572" y="33" width="145.6" height="145.3" fill="none" stroke="#000" stroke-opacity="0.5" stroke-width="0.9"/><text transform="translate(568.4 49.93) scale(0.95 1)" font-size="7.5" text-anchor="end">300</text><text transform="translate(568.4 69.3) scale(0.95 1)" font-size="7.5" text-anchor="end">200</text><text transform="translate(568.4 88.68) scale(0.95 1)" font-size="7.5" text-anchor="end">100</text><text transform="translate(568.4 108.05) scale(0.95 1)" font-size="7.5" text-anchor="end">0</text><text transform="translate(568.4 127.42) scale(0.95 1)" font-size="7.5" text-anchor="end">&#8722;<tspan dx="1.0">100</tspan></text><text transform="translate(568.4 146.8) scale(0.95 1)" font-size="7.5" text-anchor="end">&#8722;<tspan dx="1.0">200</tspan></text><text transform="translate(568.4 166.17) scale(0.95 1)" font-size="7.5" text-anchor="end">&#8722;<tspan dx="1.0">300</tspan></text><text transform="translate(605.97 186.9) scale(0.95 1)" font-size="7.5" text-anchor="middle">&#8722;<tspan dx="1.0">200</tspan></text><text transform="translate(644.8 186.9) scale(0.95 1)" font-size="7.5" text-anchor="middle">0</text><text transform="translate(683.63 186.9) scale(0.95 1)" font-size="7.5" text-anchor="middle">200</text><path d="M572 47.53h-2M572 66.9h-2M572 86.28h-2M572 105.65h-2M572 125.02h-2M572 144.4h-2M572 163.77h-2M605.97 178.3v2M644.8 178.3v2M683.63 178.3v2" stroke="#444" stroke-width="0.6"/><text x="552.6" y="107.15" font-size="7.7" text-anchor="middle" textLength="18.4" lengthAdjust="spacingAndGlyphs" transform="rotate(-90 552.6 107.15)">y [m]</text><rect x="726.1" y="33" width="7.8" height="145.3" fill="url(#g5)" stroke="#444" stroke-width="0.5"/><text transform="translate(738.9 182.2) scale(0.92 1)" font-size="8.6" text-anchor="start">0</text><text transform="translate(738.9 153.14) scale(0.92 1)" font-size="8.6" text-anchor="start">2</text><text transform="translate(738.9 124.08) scale(0.92 1)" font-size="8.6" text-anchor="start">4</text><text transform="translate(738.9 95.02) scale(0.92 1)" font-size="8.6" text-anchor="start">6</text><text transform="translate(738.9 65.96) scale(0.92 1)" font-size="8.6" text-anchor="start">8</text><text transform="translate(738.9 36.9) scale(0.92 1)" font-size="8.6" text-anchor="start">10</text><path d="M733.9 178.3h2M733.9 149.24h2M733.9 120.18h2M733.9 91.12h2M733.9 62.06h2M733.9 33h2" stroke="#444" stroke-width="0.6"/><text x="756.3" y="109.55" font-size="7.7" text-anchor="middle" textLength="29.8" lengthAdjust="spacingAndGlyphs" transform="rotate(-90 756.3 109.55)">M [A/m]</text><g clip-path="url(#c6)"><rect x="37.5" y="267.95" width="109.1" height="72.65" fill="#440154"/><g shape-rendering="crispEdges"><path fill="#460a5d" d="M36.3 272.8h21.8v1.2h-21.8zM126 272.8h21.8v1.2h-21.8zM36.3 274h21.8v1.2h-21.8zM126 274h21.8v1.2h-21.8zM36.3 275.2h21.8v1.2h-21.8zM126 275.2h21.8v1.2h-21.8zM36.3 276.4h21.8v1.2h-21.8zM126 276.4h21.8v1.2h-21.8zM36.3 277.6h21.8v1.2h-21.8zM126 277.6h21.8v1.2h-21.8zM36.3 278.8h21.8v1.3h-21.8zM126 278.8h21.8v1.3h-21.8zM36.3 280.1h21.8v1.2h-21.8zM126 280.1h21.8v1.2h-21.8zM36.3 281.3h21.8v1.2h-21.8zM126 281.3h21.8v1.2h-21.8zM36.3 282.5h21.8v1.2h-21.8zM126 282.5h21.8v1.2h-21.8zM36.3 283.7h21.8v1.2h-21.8zM126 283.7h21.8v1.2h-21.8zM36.3 284.9h21.8v1.2h-21.8zM126 284.9h21.8v1.2h-21.8zM36.3 286.1h21.8v1.2h-21.8zM126 286.1h21.8v1.2h-21.8zM36.3 287.3h23v1.2h-23zM124.8 287.3h23v1.2h-23zM36.3 288.5h23v1.2h-23zM124.8 288.5h23v1.2h-23zM36.3 289.7h23v1.3h-23zM124.8 289.7h23v1.3h-23zM36.3 291h23v1.2h-23zM124.8 291h23v1.2h-23zM36.3 292.2h23v1.2h-23zM124.8 292.2h23v1.2h-23zM36.3 293.4h23v1.2h-23zM124.8 293.4h23v1.2h-23zM36.3 294.6h23v1.2h-23zM124.8 294.6h23v1.2h-23zM36.3 295.8h23v1.2h-23zM124.8 295.8h23v1.2h-23zM36.3 297h23v1.2h-23zM124.8 297h23v1.2h-23zM36.3 298.2h23v1.2h-23zM124.8 298.2h23v1.2h-23zM36.3 299.4h23v1.2h-23zM124.8 299.4h23v1.2h-23zM36.3 300.6h23v1.3h-23zM124.8 300.6h23v1.3h-23zM36.3 301.9h23v1.2h-23zM124.8 301.9h23v1.2h-23zM36.3 303.1h23v1.2h-23zM124.8 303.1h23v1.2h-23zM36.3 304.3h23v1.2h-23zM124.8 304.3h23v1.2h-23zM36.3 305.5h23v1.2h-23zM124.8 305.5h23v1.2h-23zM36.3 306.7h23v1.2h-23zM124.8 306.7h23v1.2h-23zM36.3 307.9h23v1.2h-23zM124.8 307.9h23v1.2h-23zM36.3 309.1h23v1.2h-23zM124.8 309.1h23v1.2h-23zM36.3 310.3h23v1.2h-23zM124.8 310.3h23v1.2h-23zM36.3 311.5h23v1.3h-23zM124.8 311.5h23v1.3h-23zM36.3 312.8h23v1.2h-23zM124.8 312.8h23v1.2h-23zM36.3 314h23v1.2h-23zM124.8 314h23v1.2h-23zM36.3 315.2h23v1.2h-23zM124.8 315.2h23v1.2h-23zM36.3 316.4h23v1.2h-23zM124.8 316.4h23v1.2h-23zM36.3 317.6h23v1.2h-23zM124.8 317.6h23v1.2h-23zM36.3 318.8h23v1.2h-23zM124.8 318.8h23v1.2h-23zM36.3 320h23v1.2h-23zM124.8 320h23v1.2h-23zM36.3 321.2h23v1.2h-23zM124.8 321.2h23v1.2h-23zM36.3 322.4h23v1.2h-23zM124.8 322.4h23v1.2h-23zM36.3 323.6h23v1.3h-23zM124.8 323.6h23v1.3h-23zM36.3 324.9h23v1.2h-23zM124.8 324.9h23v1.2h-23zM36.3 326.1h23v1.2h-23zM124.8 326.1h23v1.2h-23zM36.3 327.3h23v1.2h-23zM124.8 327.3h23v1.2h-23zM36.3 328.5h23v1.2h-23zM124.8 328.5h23v1.2h-23zM36.3 329.7h23v1.2h-23zM124.8 329.7h23v1.2h-23zM36.3 330.9h23v1.2h-23zM124.8 330.9h23v1.2h-23zM36.3 332.1h23v1.2h-23zM124.8 332.1h23v1.2h-23zM36.3 333.3h23v1.2h-23zM124.8 333.3h23v1.2h-23zM36.3 334.5h23v1.3h-23zM124.8 334.5h23v1.3h-23zM36.3 335.8h23v1.2h-23zM124.8 335.8h23v1.2h-23zM36.3 337h23v1.2h-23zM124.8 337h23v1.2h-23zM36.3 338.2h23v1.2h-23zM124.8 338.2h23v1.2h-23zM36.3 339.4h23v1.2h-23zM124.8 339.4h23v1.2h-23z"/><path fill="#460b5e" d="M58.1 272.8h7.3v1.2h-7.3zM118.7 272.8h7.3v1.2h-7.3zM58.1 274h7.3v1.2h-7.3zM118.7 274h7.3v1.2h-7.3zM58.1 275.2h7.3v1.2h-7.3zM118.7 275.2h7.3v1.2h-7.3zM58.1 276.4h7.3v1.2h-7.3zM118.7 276.4h7.3v1.2h-7.3zM58.1 277.6h7.3v1.2h-7.3zM118.7 277.6h7.3v1.2h-7.3zM58.1 278.8h7.3v1.3h-7.3zM118.7 278.8h7.3v1.3h-7.3zM58.1 280.1h7.3v1.2h-7.3zM118.7 280.1h7.3v1.2h-7.3zM58.1 281.3h7.3v1.2h-7.3zM118.7 281.3h7.3v1.2h-7.3zM58.1 282.5h7.3v1.2h-7.3zM118.7 282.5h7.3v1.2h-7.3zM58.1 283.7h7.3v1.2h-7.3zM118.7 283.7h7.3v1.2h-7.3zM58.1 284.9h7.3v1.2h-7.3zM118.7 284.9h7.3v1.2h-7.3zM58.1 286.1h7.3v1.2h-7.3zM118.7 286.1h7.3v1.2h-7.3zM59.3 287.3h7.3v1.2h-7.3zM117.5 287.3h7.3v1.2h-7.3zM59.3 288.5h7.3v1.2h-7.3zM117.5 288.5h7.3v1.2h-7.3zM59.3 289.7h8.5v1.3h-8.5zM116.3 289.7h8.5v1.3h-8.5zM59.3 291h8.5v1.2h-8.5zM116.3 291h8.5v1.2h-8.5zM59.3 292.2h8.5v1.2h-8.5zM116.3 292.2h8.5v1.2h-8.5zM59.3 293.4h8.5v1.2h-8.5zM116.3 293.4h8.5v1.2h-8.5zM59.3 294.6h9.7v1.2h-9.7zM115.1 294.6h9.7v1.2h-9.7zM59.3 295.8h9.7v1.2h-9.7zM115.1 295.8h9.7v1.2h-9.7zM59.3 297h9.7v1.2h-9.7zM115.1 297h9.7v1.2h-9.7zM59.3 298.2h9.7v1.2h-9.7zM115.1 298.2h9.7v1.2h-9.7zM59.3 299.4h9.7v1.2h-9.7zM115.1 299.4h9.7v1.2h-9.7zM59.3 300.6h10.9v1.3h-10.9zM113.9 300.6h10.9v1.3h-10.9zM59.3 301.9h10.9v1.2h-10.9zM113.9 301.9h10.9v1.2h-10.9zM59.3 303.1h10.9v1.2h-10.9zM113.9 303.1h10.9v1.2h-10.9zM59.3 304.3h10.9v1.2h-10.9zM113.9 304.3h10.9v1.2h-10.9zM59.3 305.5h10.9v1.2h-10.9zM113.9 305.5h10.9v1.2h-10.9zM59.3 306.7h12.1v1.2h-12.1zM112.7 306.7h12.1v1.2h-12.1zM59.3 307.9h12.1v1.2h-12.1zM112.7 307.9h12.1v1.2h-12.1zM59.3 309.1h12.1v1.2h-12.1zM112.7 309.1h12.1v1.2h-12.1zM59.3 310.3h12.1v1.2h-12.1zM112.7 310.3h12.1v1.2h-12.1zM59.3 311.5h12.1v1.3h-12.1zM112.7 311.5h12.1v1.3h-12.1zM59.3 312.8h13.4v1.2h-13.4zM111.4 312.8h13.4v1.2h-13.4zM59.3 314h13.4v1.2h-13.4zM111.4 314h13.4v1.2h-13.4zM59.3 315.2h13.4v1.2h-13.4zM111.4 315.2h13.4v1.2h-13.4zM59.3 316.4h13.4v1.2h-13.4zM111.4 316.4h13.4v1.2h-13.4zM59.3 317.6h13.4v1.2h-13.4zM111.4 317.6h13.4v1.2h-13.4zM59.3 318.8h13.4v1.2h-13.4zM111.4 318.8h13.4v1.2h-13.4zM59.3 320h13.4v1.2h-13.4zM111.4 320h13.4v1.2h-13.4zM59.3 321.2h14.6v1.2h-14.6zM110.2 321.2h14.6v1.2h-14.6zM59.3 322.4h14.6v1.2h-14.6zM110.2 322.4h14.6v1.2h-14.6zM59.3 323.6h14.6v1.3h-14.6zM110.2 323.6h14.6v1.3h-14.6zM59.3 324.9h14.6v1.2h-14.6zM110.2 324.9h14.6v1.2h-14.6zM59.3 326.1h14.6v1.2h-14.6zM110.2 326.1h14.6v1.2h-14.6zM59.3 327.3h14.6v1.2h-14.6zM110.2 327.3h14.6v1.2h-14.6zM59.3 328.5h14.6v1.2h-14.6zM110.2 328.5h14.6v1.2h-14.6zM59.3 329.7h14.6v1.2h-14.6zM110.2 329.7h14.6v1.2h-14.6zM59.3 330.9h14.6v1.2h-14.6zM110.2 330.9h14.6v1.2h-14.6zM59.3 332.1h14.6v1.2h-14.6zM110.2 332.1h14.6v1.2h-14.6zM59.3 333.3h14.6v1.2h-14.6zM110.2 333.3h14.6v1.2h-14.6zM59.3 334.5h14.6v1.3h-14.6zM110.2 334.5h14.6v1.3h-14.6zM59.3 335.8h14.6v1.2h-14.6zM110.2 335.8h14.6v1.2h-14.6zM59.3 337h14.6v1.2h-14.6zM110.2 337h14.6v1.2h-14.6zM59.3 338.2h14.6v1.2h-14.6zM110.2 338.2h14.6v1.2h-14.6zM59.3 339.4h14.6v1.2h-14.6zM110.2 339.4h14.6v1.2h-14.6z"/><path fill="#470e61" d="M65.4 272.8h2.4v1.2h-2.4zM116.3 272.8h2.4v1.2h-2.4zM65.4 274h2.4v1.2h-2.4zM116.3 274h2.4v1.2h-2.4zM65.4 275.2h2.4v1.2h-2.4zM116.3 275.2h2.4v1.2h-2.4zM65.4 276.4h2.4v1.2h-2.4zM116.3 276.4h2.4v1.2h-2.4zM65.4 277.6h2.4v1.2h-2.4zM116.3 277.6h2.4v1.2h-2.4zM65.4 278.8h2.4v1.3h-2.4zM116.3 278.8h2.4v1.3h-2.4zM65.4 280.1h2.4v1.2h-2.4zM116.3 280.1h2.4v1.2h-2.4zM65.4 281.3h2.4v1.2h-2.4zM116.3 281.3h2.4v1.2h-2.4zM65.4 282.5h2.4v1.2h-2.4zM116.3 282.5h2.4v1.2h-2.4zM65.4 283.7h2.4v1.2h-2.4zM116.3 283.7h2.4v1.2h-2.4zM65.4 284.9h2.4v1.2h-2.4zM116.3 284.9h2.4v1.2h-2.4zM65.4 286.1h2.4v1.2h-2.4zM116.3 286.1h2.4v1.2h-2.4zM66.6 287.3h2.4v1.2h-2.4zM115.1 287.3h2.4v1.2h-2.4zM66.6 288.5h2.4v1.2h-2.4zM115.1 288.5h2.4v1.2h-2.4zM67.8 289.7h2.4v1.3h-2.4zM113.9 289.7h2.4v1.3h-2.4zM67.8 291h2.4v1.2h-2.4zM113.9 291h2.4v1.2h-2.4zM67.8 292.2h2.4v1.2h-2.4zM113.9 292.2h2.4v1.2h-2.4zM67.8 293.4h3.6v1.2h-3.6zM112.7 293.4h3.6v1.2h-3.6zM69 294.6h2.4v1.2h-2.4zM112.7 294.6h2.4v1.2h-2.4zM69 295.8h2.4v1.2h-2.4zM112.7 295.8h2.4v1.2h-2.4zM69 297h2.4v1.2h-2.4zM112.7 297h2.4v1.2h-2.4zM69 298.2h3.7v1.2h-3.7zM111.4 298.2h3.7v1.2h-3.7zM69 299.4h3.7v1.2h-3.7zM111.4 299.4h3.7v1.2h-3.7zM70.2 300.6h2.5v1.3h-2.5zM111.4 300.6h2.5v1.3h-2.5zM70.2 301.9h2.5v1.2h-2.5zM111.4 301.9h2.5v1.2h-2.5zM70.2 303.1h3.7v1.2h-3.7zM110.2 303.1h3.7v1.2h-3.7zM70.2 304.3h3.7v1.2h-3.7zM110.2 304.3h3.7v1.2h-3.7zM70.2 305.5h3.7v1.2h-3.7zM110.2 305.5h3.7v1.2h-3.7zM71.4 306.7h2.5v1.2h-2.5zM110.2 306.7h2.5v1.2h-2.5zM71.4 307.9h3.7v1.2h-3.7zM109 307.9h3.7v1.2h-3.7zM71.4 309.1h3.7v1.2h-3.7zM109 309.1h3.7v1.2h-3.7zM71.4 310.3h3.7v1.2h-3.7zM109 310.3h3.7v1.2h-3.7zM71.4 311.5h4.9v1.3h-4.9zM107.8 311.5h4.9v1.3h-4.9zM72.7 312.8h3.6v1.2h-3.6zM107.8 312.8h3.6v1.2h-3.6zM72.7 314h3.6v1.2h-3.6zM107.8 314h3.6v1.2h-3.6zM72.7 315.2h3.6v1.2h-3.6zM107.8 315.2h3.6v1.2h-3.6zM72.7 316.4h4.8v1.2h-4.8zM106.6 316.4h4.8v1.2h-4.8zM72.7 317.6h4.8v1.2h-4.8zM106.6 317.6h4.8v1.2h-4.8zM72.7 318.8h4.8v1.2h-4.8zM106.6 318.8h4.8v1.2h-4.8zM72.7 320h4.8v1.2h-4.8zM106.6 320h4.8v1.2h-4.8zM73.9 321.2h4.8v1.2h-4.8zM105.4 321.2h4.8v1.2h-4.8zM73.9 322.4h4.8v1.2h-4.8zM105.4 322.4h4.8v1.2h-4.8zM73.9 323.6h4.8v1.3h-4.8zM105.4 323.6h4.8v1.3h-4.8zM73.9 324.9h4.8v1.2h-4.8zM105.4 324.9h4.8v1.2h-4.8zM73.9 326.1h6v1.2h-6zM104.2 326.1h6v1.2h-6zM73.9 327.3h6v1.2h-6zM104.2 327.3h6v1.2h-6zM73.9 328.5h6v1.2h-6zM104.2 328.5h6v1.2h-6zM73.9 329.7h6v1.2h-6zM104.2 329.7h6v1.2h-6zM73.9 330.9h6v1.2h-6zM104.2 330.9h6v1.2h-6zM73.9 332.1h6v1.2h-6zM104.2 332.1h6v1.2h-6zM73.9 333.3h7.2v1.2h-7.2zM103 333.3h7.2v1.2h-7.2zM73.9 334.5h7.2v1.3h-7.2zM103 334.5h7.2v1.3h-7.2zM73.9 335.8h7.2v1.2h-7.2zM103 335.8h7.2v1.2h-7.2zM73.9 337h7.2v1.2h-7.2zM103 337h7.2v1.2h-7.2zM73.9 338.2h7.2v1.2h-7.2zM103 338.2h7.2v1.2h-7.2zM73.9 339.4h7.2v1.2h-7.2zM103 339.4h7.2v1.2h-7.2z"/><path fill="#471063" d="M67.8 272.8h2.4v1.2h-2.4zM113.9 272.8h2.4v1.2h-2.4zM67.8 274h2.4v1.2h-2.4zM113.9 274h2.4v1.2h-2.4zM67.8 275.2h2.4v1.2h-2.4zM113.9 275.2h2.4v1.2h-2.4zM67.8 276.4h2.4v1.2h-2.4zM113.9 276.4h2.4v1.2h-2.4zM67.8 277.6h2.4v1.2h-2.4zM113.9 277.6h2.4v1.2h-2.4zM67.8 278.8h2.4v1.3h-2.4zM113.9 278.8h2.4v1.3h-2.4zM67.8 280.1h2.4v1.2h-2.4zM113.9 280.1h2.4v1.2h-2.4zM67.8 281.3h2.4v1.2h-2.4zM113.9 281.3h2.4v1.2h-2.4zM67.8 282.5h2.4v1.2h-2.4zM113.9 282.5h2.4v1.2h-2.4zM67.8 283.7h2.4v1.2h-2.4zM113.9 283.7h2.4v1.2h-2.4zM67.8 284.9h2.4v1.2h-2.4zM113.9 284.9h2.4v1.2h-2.4zM67.8 286.1h2.4v1.2h-2.4zM113.9 286.1h2.4v1.2h-2.4zM69 287.3h1.2v1.2h-1.2zM113.9 287.3h1.2v1.2h-1.2zM69 288.5h2.4v1.2h-2.4zM112.7 288.5h2.4v1.2h-2.4zM70.2 289.7h1.2v1.3h-1.2zM112.7 289.7h1.2v1.3h-1.2zM70.2 291h1.2v1.2h-1.2zM112.7 291h1.2v1.2h-1.2zM70.2 292.2h1.2v1.2h-1.2zM112.7 292.2h1.2v1.2h-1.2zM71.4 293.4h1.3v1.2h-1.3zM111.4 293.4h1.3v1.2h-1.3zM71.4 294.6h1.3v1.2h-1.3zM111.4 294.6h1.3v1.2h-1.3zM71.4 295.8h1.3v1.2h-1.3zM111.4 295.8h1.3v1.2h-1.3zM71.4 297h2.5v1.2h-2.5zM110.2 297h2.5v1.2h-2.5zM72.7 298.2h1.2v1.2h-1.2zM110.2 298.2h1.2v1.2h-1.2zM72.7 299.4h1.2v1.2h-1.2zM110.2 299.4h1.2v1.2h-1.2zM72.7 300.6h2.4v1.3h-2.4zM109 300.6h2.4v1.3h-2.4zM72.7 301.9h2.4v1.2h-2.4zM109 301.9h2.4v1.2h-2.4zM73.9 303.1h1.2v1.2h-1.2zM109 303.1h1.2v1.2h-1.2zM73.9 304.3h1.2v1.2h-1.2zM109 304.3h1.2v1.2h-1.2zM73.9 305.5h2.4v1.2h-2.4zM107.8 305.5h2.4v1.2h-2.4zM73.9 306.7h2.4v1.2h-2.4zM107.8 306.7h2.4v1.2h-2.4zM75.1 307.9h1.2v1.2h-1.2zM107.8 307.9h1.2v1.2h-1.2zM75.1 309.1h2.4v1.2h-2.4zM106.6 309.1h2.4v1.2h-2.4zM75.1 310.3h2.4v1.2h-2.4zM106.6 310.3h2.4v1.2h-2.4zM76.3 311.5h1.2v1.3h-1.2zM106.6 311.5h1.2v1.3h-1.2zM76.3 312.8h1.2v1.2h-1.2zM106.6 312.8h1.2v1.2h-1.2zM76.3 314h2.4v1.2h-2.4zM105.4 314h2.4v1.2h-2.4zM76.3 315.2h2.4v1.2h-2.4zM105.4 315.2h2.4v1.2h-2.4zM77.5 316.4h1.2v1.2h-1.2zM105.4 316.4h1.2v1.2h-1.2zM77.5 317.6h2.4v1.2h-2.4zM104.2 317.6h2.4v1.2h-2.4zM77.5 318.8h2.4v1.2h-2.4zM104.2 318.8h2.4v1.2h-2.4zM77.5 320h2.4v1.2h-2.4zM104.2 320h2.4v1.2h-2.4zM78.7 321.2h2.4v1.2h-2.4zM103 321.2h2.4v1.2h-2.4zM78.7 322.4h2.4v1.2h-2.4zM103 322.4h2.4v1.2h-2.4zM78.7 323.6h2.4v1.3h-2.4zM103 323.6h2.4v1.3h-2.4zM78.7 324.9h2.4v1.2h-2.4zM103 324.9h2.4v1.2h-2.4zM79.9 326.1h2.5v1.2h-2.5zM101.7 326.1h2.5v1.2h-2.5zM79.9 327.3h2.5v1.2h-2.5zM101.7 327.3h2.5v1.2h-2.5zM79.9 328.5h2.5v1.2h-2.5zM101.7 328.5h2.5v1.2h-2.5zM79.9 329.7h3.7v1.2h-3.7zM100.5 329.7h3.7v1.2h-3.7zM79.9 330.9h3.7v1.2h-3.7zM100.5 330.9h3.7v1.2h-3.7zM79.9 332.1h3.7v1.2h-3.7zM100.5 332.1h3.7v1.2h-3.7zM81.1 333.3h2.5v1.2h-2.5zM100.5 333.3h2.5v1.2h-2.5zM81.1 334.5h3.7v1.3h-3.7zM99.3 334.5h3.7v1.3h-3.7zM81.1 335.8h3.7v1.2h-3.7zM99.3 335.8h3.7v1.2h-3.7zM81.1 337h3.7v1.2h-3.7zM99.3 337h3.7v1.2h-3.7zM81.1 338.2h4.9v1.2h-4.9zM98.1 338.2h4.9v1.2h-4.9zM81.1 339.4h4.9v1.2h-4.9zM98.1 339.4h4.9v1.2h-4.9z"/><path fill="#471365" d="M70.2 272.8h1.2v1.2h-1.2zM112.7 272.8h1.2v1.2h-1.2zM70.2 274h1.2v1.2h-1.2zM112.7 274h1.2v1.2h-1.2zM70.2 275.2h1.2v1.2h-1.2zM112.7 275.2h1.2v1.2h-1.2zM70.2 276.4h1.2v1.2h-1.2zM112.7 276.4h1.2v1.2h-1.2zM70.2 277.6h1.2v1.2h-1.2zM112.7 277.6h1.2v1.2h-1.2zM70.2 278.8h1.2v1.3h-1.2zM112.7 278.8h1.2v1.3h-1.2zM70.2 280.1h1.2v1.2h-1.2zM112.7 280.1h1.2v1.2h-1.2zM70.2 281.3h1.2v1.2h-1.2zM112.7 281.3h1.2v1.2h-1.2zM70.2 282.5h1.2v1.2h-1.2zM112.7 282.5h1.2v1.2h-1.2zM70.2 283.7h1.2v1.2h-1.2zM112.7 283.7h1.2v1.2h-1.2zM70.2 284.9h1.2v1.2h-1.2zM112.7 284.9h1.2v1.2h-1.2zM70.2 286.1h1.2v1.2h-1.2zM112.7 286.1h1.2v1.2h-1.2zM70.2 287.3h1.2v1.2h-1.2zM112.7 287.3h1.2v1.2h-1.2zM71.4 289.7h1.3v1.3h-1.3zM111.4 289.7h1.3v1.3h-1.3zM71.4 291h1.3v1.2h-1.3zM111.4 291h1.3v1.2h-1.3zM71.4 292.2h1.3v1.2h-1.3zM111.4 292.2h1.3v1.2h-1.3zM72.7 293.4h1.2v1.2h-1.2zM110.2 293.4h1.2v1.2h-1.2zM72.7 294.6h1.2v1.2h-1.2zM110.2 294.6h1.2v1.2h-1.2zM72.7 295.8h1.2v1.2h-1.2zM110.2 295.8h1.2v1.2h-1.2zM73.9 297h1.2v1.2h-1.2zM109 297h1.2v1.2h-1.2zM73.9 298.2h1.2v1.2h-1.2zM109 298.2h1.2v1.2h-1.2zM73.9 299.4h1.2v1.2h-1.2zM109 299.4h1.2v1.2h-1.2zM75.1 300.6h1.2v1.3h-1.2zM107.8 300.6h1.2v1.3h-1.2zM75.1 301.9h1.2v1.2h-1.2zM107.8 301.9h1.2v1.2h-1.2zM75.1 303.1h1.2v1.2h-1.2zM107.8 303.1h1.2v1.2h-1.2zM75.1 304.3h1.2v1.2h-1.2zM107.8 304.3h1.2v1.2h-1.2zM76.3 305.5h1.2v1.2h-1.2zM106.6 305.5h1.2v1.2h-1.2zM76.3 306.7h1.2v1.2h-1.2zM106.6 306.7h1.2v1.2h-1.2zM76.3 307.9h1.2v1.2h-1.2zM106.6 307.9h1.2v1.2h-1.2zM77.5 309.1h1.2v1.2h-1.2zM105.4 309.1h1.2v1.2h-1.2zM77.5 310.3h1.2v1.2h-1.2zM105.4 310.3h1.2v1.2h-1.2zM77.5 311.5h1.2v1.3h-1.2zM105.4 311.5h1.2v1.3h-1.2zM77.5 312.8h2.4v1.2h-2.4zM104.2 312.8h2.4v1.2h-2.4zM78.7 314h1.2v1.2h-1.2zM104.2 314h1.2v1.2h-1.2zM78.7 315.2h1.2v1.2h-1.2zM104.2 315.2h1.2v1.2h-1.2zM78.7 316.4h2.4v1.2h-2.4zM103 316.4h2.4v1.2h-2.4zM79.9 317.6h1.2v1.2h-1.2zM103 317.6h1.2v1.2h-1.2zM79.9 318.8h1.2v1.2h-1.2zM103 318.8h1.2v1.2h-1.2zM79.9 320h2.5v1.2h-2.5zM101.7 320h2.5v1.2h-2.5zM81.1 321.2h1.3v1.2h-1.3zM101.7 321.2h1.3v1.2h-1.3zM81.1 322.4h1.3v1.2h-1.3zM101.7 322.4h1.3v1.2h-1.3zM81.1 323.6h2.5v1.3h-2.5zM100.5 323.6h2.5v1.3h-2.5zM81.1 324.9h2.5v1.2h-2.5zM100.5 324.9h2.5v1.2h-2.5zM82.4 326.1h1.2v1.2h-1.2zM100.5 326.1h1.2v1.2h-1.2zM82.4 327.3h2.4v1.2h-2.4zM99.3 327.3h2.4v1.2h-2.4zM82.4 328.5h2.4v1.2h-2.4zM99.3 328.5h2.4v1.2h-2.4zM83.6 329.7h2.4v1.2h-2.4zM98.1 329.7h2.4v1.2h-2.4zM83.6 330.9h2.4v1.2h-2.4zM98.1 330.9h2.4v1.2h-2.4zM83.6 332.1h3.6v1.2h-3.6zM96.9 332.1h3.6v1.2h-3.6zM83.6 333.3h3.6v1.2h-3.6zM96.9 333.3h3.6v1.2h-3.6zM84.8 334.5h3.6v1.3h-3.6zM95.7 334.5h3.6v1.3h-3.6zM84.8 335.8h4.8v1.2h-4.8zM94.5 335.8h4.8v1.2h-4.8zM84.8 337h14.5v1.2h-14.5zM86 338.2h12.1v1.2h-12.1zM86 339.4h12.1v1.2h-12.1z"/><path fill="#481467" d="M71.4 272.8h1.3v1.2h-1.3zM111.4 272.8h1.3v1.2h-1.3zM71.4 274h1.3v1.2h-1.3zM111.4 274h1.3v1.2h-1.3zM71.4 275.2h1.3v1.2h-1.3zM111.4 275.2h1.3v1.2h-1.3zM71.4 276.4h1.3v1.2h-1.3zM111.4 276.4h1.3v1.2h-1.3zM71.4 277.6h1.3v1.2h-1.3zM111.4 277.6h1.3v1.2h-1.3zM71.4 278.8h1.3v1.3h-1.3zM111.4 278.8h1.3v1.3h-1.3zM71.4 280.1h1.3v1.2h-1.3zM111.4 280.1h1.3v1.2h-1.3zM71.4 281.3h1.3v1.2h-1.3zM111.4 281.3h1.3v1.2h-1.3zM71.4 282.5h1.3v1.2h-1.3zM111.4 282.5h1.3v1.2h-1.3zM71.4 283.7h1.3v1.2h-1.3zM111.4 283.7h1.3v1.2h-1.3zM71.4 284.9h1.3v1.2h-1.3zM111.4 284.9h1.3v1.2h-1.3zM71.4 286.1h1.3v1.2h-1.3zM111.4 286.1h1.3v1.2h-1.3zM71.4 287.3h1.3v1.2h-1.3zM111.4 287.3h1.3v1.2h-1.3zM71.4 288.5h1.3v1.2h-1.3zM111.4 288.5h1.3v1.2h-1.3zM72.7 291h1.2v1.2h-1.2zM110.2 291h1.2v1.2h-1.2zM72.7 292.2h1.2v1.2h-1.2zM110.2 292.2h1.2v1.2h-1.2zM73.9 294.6h1.2v1.2h-1.2zM109 294.6h1.2v1.2h-1.2zM73.9 295.8h1.2v1.2h-1.2zM109 295.8h1.2v1.2h-1.2zM75.1 298.2h1.2v1.2h-1.2zM107.8 298.2h1.2v1.2h-1.2zM75.1 299.4h1.2v1.2h-1.2zM107.8 299.4h1.2v1.2h-1.2zM76.3 301.9h1.2v1.2h-1.2zM106.6 301.9h1.2v1.2h-1.2zM76.3 303.1h1.2v1.2h-1.2zM106.6 303.1h1.2v1.2h-1.2zM76.3 304.3h1.2v1.2h-1.2zM106.6 304.3h1.2v1.2h-1.2zM77.5 305.5h1.2v1.2h-1.2zM105.4 305.5h1.2v1.2h-1.2zM77.5 306.7h1.2v1.2h-1.2zM105.4 306.7h1.2v1.2h-1.2zM77.5 307.9h1.2v1.2h-1.2zM105.4 307.9h1.2v1.2h-1.2zM78.7 309.1h1.2v1.2h-1.2zM104.2 309.1h1.2v1.2h-1.2zM78.7 310.3h1.2v1.2h-1.2zM104.2 310.3h1.2v1.2h-1.2zM78.7 311.5h1.2v1.3h-1.2zM104.2 311.5h1.2v1.3h-1.2zM79.9 312.8h1.2v1.2h-1.2zM103 312.8h1.2v1.2h-1.2zM79.9 314h1.2v1.2h-1.2zM103 314h1.2v1.2h-1.2zM79.9 315.2h1.2v1.2h-1.2zM103 315.2h1.2v1.2h-1.2zM81.1 316.4h1.3v1.2h-1.3zM101.7 316.4h1.3v1.2h-1.3zM81.1 317.6h1.3v1.2h-1.3zM101.7 317.6h1.3v1.2h-1.3zM81.1 318.8h2.5v1.2h-2.5zM100.5 318.8h2.5v1.2h-2.5zM82.4 320h1.2v1.2h-1.2zM100.5 320h1.2v1.2h-1.2zM82.4 321.2h1.2v1.2h-1.2zM100.5 321.2h1.2v1.2h-1.2zM82.4 322.4h2.4v1.2h-2.4zM99.3 322.4h2.4v1.2h-2.4zM83.6 323.6h1.2v1.3h-1.2zM99.3 323.6h1.2v1.3h-1.2zM83.6 324.9h2.4v1.2h-2.4zM98.1 324.9h2.4v1.2h-2.4zM83.6 326.1h2.4v1.2h-2.4zM98.1 326.1h2.4v1.2h-2.4zM84.8 327.3h2.4v1.2h-2.4zM96.9 327.3h2.4v1.2h-2.4zM84.8 328.5h3.6v1.2h-3.6zM95.7 328.5h3.6v1.2h-3.6zM86 329.7h3.6v1.2h-3.6zM94.5 329.7h3.6v1.2h-3.6zM86 330.9h12.1v1.2h-12.1zM87.2 332.1h9.7v1.2h-9.7zM87.2 333.3h9.7v1.2h-9.7zM88.4 334.5h7.3v1.3h-7.3zM89.6 335.8h4.9v1.2h-4.9z"/><path fill="#481769" d="M72.7 272.8h1.2v1.2h-1.2zM110.2 272.8h1.2v1.2h-1.2zM72.7 274h1.2v1.2h-1.2zM110.2 274h1.2v1.2h-1.2zM72.7 275.2h1.2v1.2h-1.2zM110.2 275.2h1.2v1.2h-1.2zM72.7 276.4h1.2v1.2h-1.2zM110.2 276.4h1.2v1.2h-1.2zM72.7 277.6h1.2v1.2h-1.2zM110.2 277.6h1.2v1.2h-1.2zM72.7 278.8h1.2v1.3h-1.2zM110.2 278.8h1.2v1.3h-1.2zM72.7 280.1h1.2v1.2h-1.2zM110.2 280.1h1.2v1.2h-1.2zM72.7 281.3h1.2v1.2h-1.2zM110.2 281.3h1.2v1.2h-1.2zM72.7 282.5h1.2v1.2h-1.2zM110.2 282.5h1.2v1.2h-1.2zM72.7 283.7h1.2v1.2h-1.2zM110.2 283.7h1.2v1.2h-1.2zM72.7 284.9h1.2v1.2h-1.2zM110.2 284.9h1.2v1.2h-1.2zM72.7 286.1h1.2v1.2h-1.2zM110.2 286.1h1.2v1.2h-1.2zM72.7 288.5h1.2v1.2h-1.2zM110.2 288.5h1.2v1.2h-1.2zM72.7 289.7h1.2v1.3h-1.2zM110.2 289.7h1.2v1.3h-1.2zM73.9 292.2h1.2v1.2h-1.2zM109 292.2h1.2v1.2h-1.2zM73.9 293.4h1.2v1.2h-1.2zM109 293.4h1.2v1.2h-1.2zM75.1 295.8h1.2v1.2h-1.2zM107.8 295.8h1.2v1.2h-1.2zM75.1 297h1.2v1.2h-1.2zM107.8 297h1.2v1.2h-1.2zM76.3 299.4h1.2v1.2h-1.2zM106.6 299.4h1.2v1.2h-1.2zM76.3 300.6h1.2v1.3h-1.2zM106.6 300.6h1.2v1.3h-1.2zM77.5 303.1h1.2v1.2h-1.2zM105.4 303.1h1.2v1.2h-1.2zM77.5 304.3h1.2v1.2h-1.2zM105.4 304.3h1.2v1.2h-1.2zM78.7 306.7h1.2v1.2h-1.2zM104.2 306.7h1.2v1.2h-1.2zM78.7 307.9h1.2v1.2h-1.2zM104.2 307.9h1.2v1.2h-1.2zM79.9 310.3h1.2v1.2h-1.2zM103 310.3h1.2v1.2h-1.2zM79.9 311.5h1.2v1.3h-1.2zM103 311.5h1.2v1.3h-1.2zM81.1 312.8h1.3v1.2h-1.3zM101.7 312.8h1.3v1.2h-1.3zM81.1 314h1.3v1.2h-1.3zM101.7 314h1.3v1.2h-1.3zM81.1 315.2h1.3v1.2h-1.3zM101.7 315.2h1.3v1.2h-1.3zM82.4 316.4h1.2v1.2h-1.2zM100.5 316.4h1.2v1.2h-1.2zM82.4 317.6h1.2v1.2h-1.2zM100.5 317.6h1.2v1.2h-1.2zM83.6 318.8h1.2v1.2h-1.2zM99.3 318.8h1.2v1.2h-1.2zM83.6 320h1.2v1.2h-1.2zM99.3 320h1.2v1.2h-1.2zM83.6 321.2h2.4v1.2h-2.4zM98.1 321.2h2.4v1.2h-2.4zM84.8 322.4h1.2v1.2h-1.2zM98.1 322.4h1.2v1.2h-1.2zM84.8 323.6h2.4v1.3h-2.4zM96.9 323.6h2.4v1.3h-2.4zM86 324.9h2.4v1.2h-2.4zM95.7 324.9h2.4v1.2h-2.4zM86 326.1h4.8v1.2h-4.8zM93.3 326.1h4.8v1.2h-4.8zM87.2 327.3h9.7v1.2h-9.7zM88.4 328.5h7.3v1.2h-7.3zM89.6 329.7h4.9v1.2h-4.9z"/><path fill="#48186a" d="M73.9 272.8h1.2v1.2h-1.2zM109 272.8h1.2v1.2h-1.2zM73.9 274h1.2v1.2h-1.2zM109 274h1.2v1.2h-1.2zM73.9 275.2h1.2v1.2h-1.2zM109 275.2h1.2v1.2h-1.2zM73.9 276.4h1.2v1.2h-1.2zM109 276.4h1.2v1.2h-1.2zM73.9 277.6h1.2v1.2h-1.2zM109 277.6h1.2v1.2h-1.2zM73.9 278.8h1.2v1.3h-1.2zM109 278.8h1.2v1.3h-1.2zM73.9 280.1h1.2v1.2h-1.2zM109 280.1h1.2v1.2h-1.2zM73.9 281.3h1.2v1.2h-1.2zM109 281.3h1.2v1.2h-1.2zM73.9 282.5h1.2v1.2h-1.2zM109 282.5h1.2v1.2h-1.2zM73.9 283.7h1.2v1.2h-1.2zM109 283.7h1.2v1.2h-1.2zM73.9 284.9h1.2v1.2h-1.2zM109 284.9h1.2v1.2h-1.2zM73.9 286.1h1.2v1.2h-1.2zM109 286.1h1.2v1.2h-1.2zM72.7 287.3h1.2v1.2h-1.2zM110.2 287.3h1.2v1.2h-1.2zM73.9 291h1.2v1.2h-1.2zM109 291h1.2v1.2h-1.2zM75.1 293.4h1.2v1.2h-1.2zM107.8 293.4h1.2v1.2h-1.2zM75.1 294.6h1.2v1.2h-1.2zM107.8 294.6h1.2v1.2h-1.2zM76.3 297h1.2v1.2h-1.2zM106.6 297h1.2v1.2h-1.2zM76.3 298.2h1.2v1.2h-1.2zM106.6 298.2h1.2v1.2h-1.2zM77.5 300.6h1.2v1.3h-1.2zM105.4 300.6h1.2v1.3h-1.2zM77.5 301.9h1.2v1.2h-1.2zM105.4 301.9h1.2v1.2h-1.2zM78.7 304.3h1.2v1.2h-1.2zM104.2 304.3h1.2v1.2h-1.2zM78.7 305.5h1.2v1.2h-1.2zM104.2 305.5h1.2v1.2h-1.2zM79.9 307.9h1.2v1.2h-1.2zM103 307.9h1.2v1.2h-1.2zM79.9 309.1h1.2v1.2h-1.2zM103 309.1h1.2v1.2h-1.2zM81.1 310.3h1.3v1.2h-1.3zM101.7 310.3h1.3v1.2h-1.3zM81.1 311.5h1.3v1.3h-1.3zM101.7 311.5h1.3v1.3h-1.3zM82.4 312.8h1.2v1.2h-1.2zM100.5 312.8h1.2v1.2h-1.2zM82.4 314h1.2v1.2h-1.2zM100.5 314h1.2v1.2h-1.2zM82.4 315.2h1.2v1.2h-1.2zM100.5 315.2h1.2v1.2h-1.2zM83.6 316.4h1.2v1.2h-1.2zM99.3 316.4h1.2v1.2h-1.2zM83.6 317.6h2.4v1.2h-2.4zM98.1 317.6h2.4v1.2h-2.4zM84.8 318.8h1.2v1.2h-1.2zM98.1 318.8h1.2v1.2h-1.2zM84.8 320h2.4v1.2h-2.4zM96.9 320h2.4v1.2h-2.4zM86 321.2h2.4v1.2h-2.4zM95.7 321.2h2.4v1.2h-2.4zM86 322.4h3.6v1.2h-3.6zM94.5 322.4h3.6v1.2h-3.6zM87.2 323.6h9.7v1.3h-9.7zM88.4 324.9h7.3v1.2h-7.3zM90.8 326.1h2.5v1.2h-2.5z"/><path fill="#481b6d" d="M75.1 272.8h1.2v1.2h-1.2zM107.8 272.8h1.2v1.2h-1.2zM75.1 274h1.2v1.2h-1.2zM107.8 274h1.2v1.2h-1.2zM75.1 275.2h1.2v1.2h-1.2zM107.8 275.2h1.2v1.2h-1.2zM75.1 276.4h1.2v1.2h-1.2zM107.8 276.4h1.2v1.2h-1.2zM75.1 277.6h1.2v1.2h-1.2zM107.8 277.6h1.2v1.2h-1.2zM75.1 278.8h1.2v1.3h-1.2zM107.8 278.8h1.2v1.3h-1.2zM75.1 280.1h1.2v1.2h-1.2zM107.8 280.1h1.2v1.2h-1.2zM75.1 281.3h1.2v1.2h-1.2zM107.8 281.3h1.2v1.2h-1.2zM75.1 282.5h1.2v1.2h-1.2zM107.8 282.5h1.2v1.2h-1.2zM75.1 283.7h1.2v1.2h-1.2zM107.8 283.7h1.2v1.2h-1.2zM75.1 284.9h1.2v1.2h-1.2zM107.8 284.9h1.2v1.2h-1.2zM75.1 286.1h1.2v1.2h-1.2zM107.8 286.1h1.2v1.2h-1.2zM73.9 288.5h1.2v1.2h-1.2zM109 288.5h1.2v1.2h-1.2zM73.9 289.7h1.2v1.3h-1.2zM109 289.7h1.2v1.3h-1.2zM75.1 292.2h1.2v1.2h-1.2zM107.8 292.2h1.2v1.2h-1.2zM76.3 295.8h1.2v1.2h-1.2zM106.6 295.8h1.2v1.2h-1.2zM77.5 299.4h1.2v1.2h-1.2zM105.4 299.4h1.2v1.2h-1.2zM78.7 301.9h1.2v1.2h-1.2zM104.2 301.9h1.2v1.2h-1.2zM78.7 303.1h1.2v1.2h-1.2zM104.2 303.1h1.2v1.2h-1.2zM79.9 305.5h1.2v1.2h-1.2zM103 305.5h1.2v1.2h-1.2zM79.9 306.7h1.2v1.2h-1.2zM103 306.7h1.2v1.2h-1.2zM81.1 307.9h1.3v1.2h-1.3zM101.7 307.9h1.3v1.2h-1.3zM81.1 309.1h1.3v1.2h-1.3zM101.7 309.1h1.3v1.2h-1.3zM82.4 311.5h1.2v1.3h-1.2zM100.5 311.5h1.2v1.3h-1.2zM83.6 314h1.2v1.2h-1.2zM99.3 314h1.2v1.2h-1.2zM83.6 315.2h2.4v1.2h-2.4zM98.1 315.2h2.4v1.2h-2.4zM84.8 316.4h1.2v1.2h-1.2zM98.1 316.4h1.2v1.2h-1.2zM86 317.6h1.2v1.2h-1.2zM96.9 317.6h1.2v1.2h-1.2zM86 318.8h2.4v1.2h-2.4zM95.7 318.8h2.4v1.2h-2.4zM87.2 320h9.7v1.2h-9.7zM88.4 321.2h7.3v1.2h-7.3zM89.6 322.4h4.9v1.2h-4.9z"/><path fill="#481c6e" d="M76.3 272.8h1.2v1.2h-1.2zM106.6 272.8h1.2v1.2h-1.2zM76.3 274h1.2v1.2h-1.2zM106.6 274h1.2v1.2h-1.2zM76.3 275.2h1.2v1.2h-1.2zM106.6 275.2h1.2v1.2h-1.2zM76.3 276.4h1.2v1.2h-1.2zM106.6 276.4h1.2v1.2h-1.2zM76.3 277.6h1.2v1.2h-1.2zM106.6 277.6h1.2v1.2h-1.2zM76.3 278.8h1.2v1.3h-1.2zM106.6 278.8h1.2v1.3h-1.2zM76.3 280.1h1.2v1.2h-1.2zM106.6 280.1h1.2v1.2h-1.2zM76.3 281.3h1.2v1.2h-1.2zM106.6 281.3h1.2v1.2h-1.2zM76.3 282.5h1.2v1.2h-1.2zM106.6 282.5h1.2v1.2h-1.2zM76.3 283.7h1.2v1.2h-1.2zM106.6 283.7h1.2v1.2h-1.2zM76.3 284.9h1.2v1.2h-1.2zM106.6 284.9h1.2v1.2h-1.2zM76.3 286.1h1.2v1.2h-1.2zM106.6 286.1h1.2v1.2h-1.2zM73.9 287.3h1.2v1.2h-1.2zM109 287.3h1.2v1.2h-1.2zM75.1 291h1.2v1.2h-1.2zM107.8 291h1.2v1.2h-1.2zM76.3 294.6h1.2v1.2h-1.2zM106.6 294.6h1.2v1.2h-1.2zM77.5 297h1.2v1.2h-1.2zM105.4 297h1.2v1.2h-1.2zM77.5 298.2h1.2v1.2h-1.2zM105.4 298.2h1.2v1.2h-1.2zM78.7 300.6h1.2v1.3h-1.2zM104.2 300.6h1.2v1.3h-1.2zM79.9 303.1h1.2v1.2h-1.2zM103 303.1h1.2v1.2h-1.2zM79.9 304.3h1.2v1.2h-1.2zM103 304.3h1.2v1.2h-1.2zM81.1 306.7h1.3v1.2h-1.3zM101.7 306.7h1.3v1.2h-1.3zM82.4 309.1h1.2v1.2h-1.2zM100.5 309.1h1.2v1.2h-1.2zM82.4 310.3h1.2v1.2h-1.2zM100.5 310.3h1.2v1.2h-1.2zM83.6 311.5h1.2v1.3h-1.2zM99.3 311.5h1.2v1.3h-1.2zM83.6 312.8h1.2v1.2h-1.2zM99.3 312.8h1.2v1.2h-1.2zM84.8 314h1.2v1.2h-1.2zM98.1 314h1.2v1.2h-1.2zM86 315.2h1.2v1.2h-1.2zM96.9 315.2h1.2v1.2h-1.2zM86 316.4h2.4v1.2h-2.4zM95.7 316.4h2.4v1.2h-2.4zM87.2 317.6h3.6v1.2h-3.6zM93.3 317.6h3.6v1.2h-3.6zM88.4 318.8h7.3v1.2h-7.3z"/><path fill="#482173" d="M77.5 272.8h1.2v1.2h-1.2zM105.4 272.8h1.2v1.2h-1.2zM77.5 274h1.2v1.2h-1.2zM105.4 274h1.2v1.2h-1.2zM77.5 275.2h1.2v1.2h-1.2zM105.4 275.2h1.2v1.2h-1.2zM77.5 276.4h1.2v1.2h-1.2zM105.4 276.4h1.2v1.2h-1.2zM77.5 277.6h1.2v1.2h-1.2zM105.4 277.6h1.2v1.2h-1.2zM77.5 278.8h1.2v1.3h-1.2zM105.4 278.8h1.2v1.3h-1.2zM77.5 280.1h1.2v1.2h-1.2zM105.4 280.1h1.2v1.2h-1.2zM77.5 281.3h1.2v1.2h-1.2zM105.4 281.3h1.2v1.2h-1.2zM77.5 282.5h1.2v1.2h-1.2zM105.4 282.5h1.2v1.2h-1.2zM77.5 283.7h1.2v1.2h-1.2zM105.4 283.7h1.2v1.2h-1.2zM77.5 284.9h1.2v1.2h-1.2zM105.4 284.9h1.2v1.2h-1.2zM77.5 286.1h1.2v1.2h-1.2zM105.4 286.1h1.2v1.2h-1.2zM75.1 288.5h1.2v1.2h-1.2zM107.8 288.5h1.2v1.2h-1.2zM76.3 291h1.2v1.2h-1.2zM106.6 291h1.2v1.2h-1.2zM77.5 294.6h1.2v1.2h-1.2zM105.4 294.6h1.2v1.2h-1.2zM78.7 298.2h1.2v1.2h-1.2zM104.2 298.2h1.2v1.2h-1.2zM79.9 300.6h1.2v1.3h-1.2zM103 300.6h1.2v1.3h-1.2zM81.1 303.1h1.3v1.2h-1.3zM101.7 303.1h1.3v1.2h-1.3zM82.4 305.5h1.2v1.2h-1.2zM100.5 305.5h1.2v1.2h-1.2zM82.4 306.7h1.2v1.2h-1.2zM100.5 306.7h1.2v1.2h-1.2zM83.6 307.9h1.2v1.2h-1.2zM99.3 307.9h1.2v1.2h-1.2zM84.8 310.3h1.2v1.2h-1.2zM98.1 310.3h1.2v1.2h-1.2zM86 311.5h1.2v1.3h-1.2zM96.9 311.5h1.2v1.3h-1.2zM87.2 312.8h1.2v1.2h-1.2zM95.7 312.8h1.2v1.2h-1.2zM87.2 314h9.7v1.2h-9.7zM89.6 315.2h4.9v1.2h-4.9z"/><path fill="#482374" d="M78.7 272.8h1.2v1.2h-1.2zM104.2 272.8h1.2v1.2h-1.2zM78.7 274h1.2v1.2h-1.2zM104.2 274h1.2v1.2h-1.2zM78.7 275.2h1.2v1.2h-1.2zM104.2 275.2h1.2v1.2h-1.2zM78.7 276.4h1.2v1.2h-1.2zM104.2 276.4h1.2v1.2h-1.2zM78.7 277.6h1.2v1.2h-1.2zM104.2 277.6h1.2v1.2h-1.2zM78.7 278.8h1.2v1.3h-1.2zM104.2 278.8h1.2v1.3h-1.2zM78.7 280.1h1.2v1.2h-1.2zM104.2 280.1h1.2v1.2h-1.2zM78.7 281.3h1.2v1.2h-1.2zM104.2 281.3h1.2v1.2h-1.2zM78.7 282.5h1.2v1.2h-1.2zM104.2 282.5h1.2v1.2h-1.2zM78.7 283.7h1.2v1.2h-1.2zM104.2 283.7h1.2v1.2h-1.2zM78.7 284.9h1.2v1.2h-1.2zM104.2 284.9h1.2v1.2h-1.2zM78.7 286.1h1.2v1.2h-1.2zM104.2 286.1h1.2v1.2h-1.2zM75.1 287.3h1.2v1.2h-1.2zM107.8 287.3h1.2v1.2h-1.2zM77.5 293.4h1.2v1.2h-1.2zM105.4 293.4h1.2v1.2h-1.2zM78.7 297h1.2v1.2h-1.2zM104.2 297h1.2v1.2h-1.2zM79.9 299.4h1.2v1.2h-1.2zM103 299.4h1.2v1.2h-1.2zM81.1 301.9h1.3v1.2h-1.3zM101.7 301.9h1.3v1.2h-1.3zM82.4 304.3h1.2v1.2h-1.2zM100.5 304.3h1.2v1.2h-1.2zM83.6 306.7h1.2v1.2h-1.2zM99.3 306.7h1.2v1.2h-1.2zM84.8 307.9h1.2v1.2h-1.2zM98.1 307.9h1.2v1.2h-1.2zM84.8 309.1h1.2v1.2h-1.2zM98.1 309.1h1.2v1.2h-1.2zM86 310.3h1.2v1.2h-1.2zM96.9 310.3h1.2v1.2h-1.2zM87.2 311.5h2.4v1.3h-2.4zM94.5 311.5h2.4v1.3h-2.4zM88.4 312.8h7.3v1.2h-7.3z"/><path fill="#482576" d="M79.9 272.8h1.2v1.2h-1.2zM103 272.8h1.2v1.2h-1.2zM79.9 274h1.2v1.2h-1.2zM103 274h1.2v1.2h-1.2zM79.9 275.2h1.2v1.2h-1.2zM103 275.2h1.2v1.2h-1.2zM79.9 276.4h1.2v1.2h-1.2zM103 276.4h1.2v1.2h-1.2zM79.9 277.6h1.2v1.2h-1.2zM103 277.6h1.2v1.2h-1.2zM79.9 278.8h1.2v1.3h-1.2zM103 278.8h1.2v1.3h-1.2zM79.9 280.1h1.2v1.2h-1.2zM103 280.1h1.2v1.2h-1.2zM79.9 281.3h1.2v1.2h-1.2zM103 281.3h1.2v1.2h-1.2zM79.9 282.5h1.2v1.2h-1.2zM103 282.5h1.2v1.2h-1.2zM79.9 283.7h1.2v1.2h-1.2zM103 283.7h1.2v1.2h-1.2zM79.9 284.9h1.2v1.2h-1.2zM103 284.9h1.2v1.2h-1.2zM79.9 286.1h1.2v1.2h-1.2zM103 286.1h1.2v1.2h-1.2zM76.3 289.7h1.2v1.3h-1.2zM106.6 289.7h1.2v1.3h-1.2zM77.5 292.2h1.2v1.2h-1.2zM105.4 292.2h1.2v1.2h-1.2zM78.7 295.8h1.2v1.2h-1.2zM104.2 295.8h1.2v1.2h-1.2zM79.9 298.2h1.2v1.2h-1.2zM103 298.2h1.2v1.2h-1.2zM81.1 300.6h1.3v1.3h-1.3zM101.7 300.6h1.3v1.3h-1.3zM82.4 303.1h1.2v1.2h-1.2zM100.5 303.1h1.2v1.2h-1.2zM83.6 305.5h1.2v1.2h-1.2zM99.3 305.5h1.2v1.2h-1.2zM84.8 306.7h1.2v1.2h-1.2zM98.1 306.7h1.2v1.2h-1.2zM86 309.1h1.2v1.2h-1.2zM96.9 309.1h1.2v1.2h-1.2zM87.2 310.3h3.6v1.2h-3.6zM93.3 310.3h3.6v1.2h-3.6zM89.6 311.5h4.9v1.3h-4.9z"/><path fill="#482677" d="M81.1 272.8h1.3v1.2h-1.3zM101.7 272.8h1.3v1.2h-1.3zM81.1 274h1.3v1.2h-1.3zM101.7 274h1.3v1.2h-1.3zM81.1 275.2h1.3v1.2h-1.3zM101.7 275.2h1.3v1.2h-1.3zM81.1 276.4h1.3v1.2h-1.3zM101.7 276.4h1.3v1.2h-1.3zM81.1 277.6h1.3v1.2h-1.3zM101.7 277.6h1.3v1.2h-1.3zM81.1 278.8h1.3v1.3h-1.3zM101.7 278.8h1.3v1.3h-1.3zM81.1 280.1h1.3v1.2h-1.3zM101.7 280.1h1.3v1.2h-1.3zM81.1 281.3h1.3v1.2h-1.3zM101.7 281.3h1.3v1.2h-1.3zM81.1 282.5h1.3v1.2h-1.3zM101.7 282.5h1.3v1.2h-1.3zM81.1 283.7h1.3v1.2h-1.3zM101.7 283.7h1.3v1.2h-1.3zM81.1 284.9h1.3v1.2h-1.3zM101.7 284.9h1.3v1.2h-1.3zM81.1 286.1h1.3v1.2h-1.3zM101.7 286.1h1.3v1.2h-1.3zM76.3 288.5h1.2v1.2h-1.2zM106.6 288.5h1.2v1.2h-1.2zM77.5 291h1.2v1.2h-1.2zM105.4 291h1.2v1.2h-1.2zM78.7 294.6h1.2v1.2h-1.2zM104.2 294.6h1.2v1.2h-1.2zM79.9 297h1.2v1.2h-1.2zM103 297h1.2v1.2h-1.2zM81.1 299.4h1.3v1.2h-1.3zM101.7 299.4h1.3v1.2h-1.3zM82.4 301.9h1.2v1.2h-1.2zM100.5 301.9h1.2v1.2h-1.2zM83.6 304.3h1.2v1.2h-1.2zM99.3 304.3h1.2v1.2h-1.2zM84.8 305.5h1.2v1.2h-1.2zM98.1 305.5h1.2v1.2h-1.2zM86 306.7h1.2v1.2h-1.2zM96.9 306.7h1.2v1.2h-1.2zM86 307.9h2.4v1.2h-2.4zM95.7 307.9h2.4v1.2h-2.4zM87.2 309.1h9.7v1.2h-9.7zM90.8 310.3h2.5v1.2h-2.5z"/><path fill="#482979" d="M82.4 272.8h1.2v1.2h-1.2zM100.5 272.8h1.2v1.2h-1.2zM82.4 274h1.2v1.2h-1.2zM100.5 274h1.2v1.2h-1.2zM82.4 275.2h1.2v1.2h-1.2zM100.5 275.2h1.2v1.2h-1.2zM82.4 276.4h1.2v1.2h-1.2zM100.5 276.4h1.2v1.2h-1.2zM82.4 277.6h1.2v1.2h-1.2zM100.5 277.6h1.2v1.2h-1.2zM82.4 278.8h1.2v1.3h-1.2zM100.5 278.8h1.2v1.3h-1.2zM82.4 280.1h1.2v1.2h-1.2zM100.5 280.1h1.2v1.2h-1.2zM82.4 281.3h1.2v1.2h-1.2zM100.5 281.3h1.2v1.2h-1.2zM82.4 282.5h1.2v1.2h-1.2zM100.5 282.5h1.2v1.2h-1.2zM82.4 283.7h1.2v1.2h-1.2zM100.5 283.7h1.2v1.2h-1.2zM82.4 284.9h1.2v1.2h-1.2zM100.5 284.9h1.2v1.2h-1.2zM82.4 286.1h1.2v1.2h-1.2zM100.5 286.1h1.2v1.2h-1.2zM76.3 287.3h1.2v1.2h-1.2zM106.6 287.3h1.2v1.2h-1.2zM78.7 293.4h1.2v1.2h-1.2zM104.2 293.4h1.2v1.2h-1.2zM79.9 295.8h1.2v1.2h-1.2zM103 295.8h1.2v1.2h-1.2zM81.1 298.2h1.3v1.2h-1.3zM101.7 298.2h1.3v1.2h-1.3zM82.4 300.6h1.2v1.3h-1.2zM100.5 300.6h1.2v1.3h-1.2zM83.6 303.1h1.2v1.2h-1.2zM99.3 303.1h1.2v1.2h-1.2zM84.8 304.3h1.2v1.2h-1.2zM98.1 304.3h1.2v1.2h-1.2zM86 305.5h1.2v1.2h-1.2zM96.9 305.5h1.2v1.2h-1.2zM87.2 306.7h1.2v1.2h-1.2zM95.7 306.7h1.2v1.2h-1.2zM88.4 307.9h7.3v1.2h-7.3z"/><path fill="#472a7a" d="M83.6 272.8h1.2v1.2h-1.2zM99.3 272.8h1.2v1.2h-1.2zM83.6 274h1.2v1.2h-1.2zM99.3 274h1.2v1.2h-1.2zM83.6 275.2h1.2v1.2h-1.2zM99.3 275.2h1.2v1.2h-1.2zM83.6 276.4h1.2v1.2h-1.2zM99.3 276.4h1.2v1.2h-1.2zM83.6 277.6h1.2v1.2h-1.2zM99.3 277.6h1.2v1.2h-1.2zM83.6 278.8h1.2v1.3h-1.2zM99.3 278.8h1.2v1.3h-1.2zM83.6 280.1h1.2v1.2h-1.2zM99.3 280.1h1.2v1.2h-1.2zM83.6 281.3h1.2v1.2h-1.2zM99.3 281.3h1.2v1.2h-1.2zM83.6 282.5h1.2v1.2h-1.2zM99.3 282.5h1.2v1.2h-1.2zM83.6 283.7h1.2v1.2h-1.2zM99.3 283.7h1.2v1.2h-1.2zM83.6 284.9h1.2v1.2h-1.2zM99.3 284.9h1.2v1.2h-1.2zM83.6 286.1h1.2v1.2h-1.2zM99.3 286.1h1.2v1.2h-1.2zM77.5 289.7h1.2v1.3h-1.2zM105.4 289.7h1.2v1.3h-1.2zM78.7 292.2h1.2v1.2h-1.2zM104.2 292.2h1.2v1.2h-1.2zM79.9 294.6h1.2v1.2h-1.2zM103 294.6h1.2v1.2h-1.2zM81.1 297h1.3v1.2h-1.3zM101.7 297h1.3v1.2h-1.3zM82.4 299.4h1.2v1.2h-1.2zM100.5 299.4h1.2v1.2h-1.2zM83.6 301.9h1.2v1.2h-1.2zM99.3 301.9h1.2v1.2h-1.2zM84.8 303.1h1.2v1.2h-1.2zM98.1 303.1h1.2v1.2h-1.2zM87.2 305.5h1.2v1.2h-1.2zM95.7 305.5h1.2v1.2h-1.2zM88.4 306.7h7.3v1.2h-7.3z"/><path fill="#472d7b" d="M84.8 272.8h1.2v1.2h-1.2zM98.1 272.8h1.2v1.2h-1.2zM84.8 274h1.2v1.2h-1.2zM98.1 274h1.2v1.2h-1.2zM84.8 275.2h1.2v1.2h-1.2zM98.1 275.2h1.2v1.2h-1.2zM84.8 276.4h1.2v1.2h-1.2zM98.1 276.4h1.2v1.2h-1.2zM84.8 277.6h1.2v1.2h-1.2zM98.1 277.6h1.2v1.2h-1.2zM84.8 278.8h1.2v1.3h-1.2zM98.1 278.8h1.2v1.3h-1.2zM84.8 280.1h1.2v1.2h-1.2zM98.1 280.1h1.2v1.2h-1.2zM84.8 281.3h1.2v1.2h-1.2zM98.1 281.3h1.2v1.2h-1.2zM84.8 282.5h1.2v1.2h-1.2zM98.1 282.5h1.2v1.2h-1.2zM84.8 283.7h1.2v1.2h-1.2zM98.1 283.7h1.2v1.2h-1.2zM84.8 284.9h1.2v1.2h-1.2zM98.1 284.9h1.2v1.2h-1.2zM84.8 286.1h1.2v1.2h-1.2zM98.1 286.1h1.2v1.2h-1.2zM77.5 288.5h1.2v1.2h-1.2zM105.4 288.5h1.2v1.2h-1.2zM83.6 300.6h1.2v1.3h-1.2zM99.3 300.6h1.2v1.3h-1.2zM86 304.3h1.2v1.2h-1.2zM96.9 304.3h1.2v1.2h-1.2zM88.4 305.5h2.4v1.2h-2.4zM93.3 305.5h2.4v1.2h-2.4z"/><path fill="#472e7c" d="M86 272.8h2.4v1.2h-2.4zM95.7 272.8h2.4v1.2h-2.4zM86 274h2.4v1.2h-2.4zM95.7 274h2.4v1.2h-2.4zM86 275.2h2.4v1.2h-2.4zM95.7 275.2h2.4v1.2h-2.4zM86 276.4h2.4v1.2h-2.4zM95.7 276.4h2.4v1.2h-2.4zM86 277.6h2.4v1.2h-2.4zM95.7 277.6h2.4v1.2h-2.4zM86 278.8h2.4v1.3h-2.4zM95.7 278.8h2.4v1.3h-2.4zM86 280.1h2.4v1.2h-2.4zM95.7 280.1h2.4v1.2h-2.4zM86 281.3h2.4v1.2h-2.4zM95.7 281.3h2.4v1.2h-2.4zM86 282.5h2.4v1.2h-2.4zM95.7 282.5h2.4v1.2h-2.4zM86 283.7h2.4v1.2h-2.4zM95.7 283.7h2.4v1.2h-2.4zM86 284.9h2.4v1.2h-2.4zM95.7 284.9h2.4v1.2h-2.4zM86 286.1h2.4v1.2h-2.4zM95.7 286.1h2.4v1.2h-2.4zM78.7 291h1.2v1.2h-1.2zM104.2 291h1.2v1.2h-1.2zM79.9 293.4h1.2v1.2h-1.2zM103 293.4h1.2v1.2h-1.2zM81.1 295.8h1.3v1.2h-1.3zM101.7 295.8h1.3v1.2h-1.3zM82.4 298.2h1.2v1.2h-1.2zM100.5 298.2h1.2v1.2h-1.2zM83.6 299.4h1.2v1.2h-1.2zM99.3 299.4h1.2v1.2h-1.2zM84.8 301.9h1.2v1.2h-1.2zM98.1 301.9h1.2v1.2h-1.2zM86 303.1h1.2v1.2h-1.2zM96.9 303.1h1.2v1.2h-1.2zM87.2 304.3h2.4v1.2h-2.4zM94.5 304.3h2.4v1.2h-2.4zM90.8 305.5h2.5v1.2h-2.5z"/><path fill="#46307e" d="M88.4 272.8h7.3v1.2h-7.3zM88.4 274h7.3v1.2h-7.3zM88.4 275.2h7.3v1.2h-7.3zM88.4 276.4h7.3v1.2h-7.3zM88.4 277.6h7.3v1.2h-7.3zM88.4 278.8h7.3v1.3h-7.3zM88.4 280.1h7.3v1.2h-7.3zM88.4 281.3h7.3v1.2h-7.3zM88.4 282.5h7.3v1.2h-7.3zM88.4 283.7h7.3v1.2h-7.3zM88.4 284.9h7.3v1.2h-7.3zM88.4 286.1h7.3v1.2h-7.3zM77.5 287.3h1.2v1.2h-1.2zM105.4 287.3h1.2v1.2h-1.2zM78.7 289.7h1.2v1.3h-1.2zM104.2 289.7h1.2v1.3h-1.2zM79.9 292.2h1.2v1.2h-1.2zM103 292.2h1.2v1.2h-1.2zM81.1 294.6h1.3v1.2h-1.3zM101.7 294.6h1.3v1.2h-1.3zM82.4 297h1.2v1.2h-1.2zM100.5 297h1.2v1.2h-1.2zM84.8 300.6h1.2v1.3h-1.2zM98.1 300.6h1.2v1.3h-1.2zM86 301.9h1.2v1.2h-1.2zM96.9 301.9h1.2v1.2h-1.2zM87.2 303.1h2.4v1.2h-2.4zM94.5 303.1h2.4v1.2h-2.4zM89.6 304.3h4.9v1.2h-4.9z"/><path fill="#453882" d="M78.7 287.3h1.2v1.2h-1.2zM104.2 287.3h1.2v1.2h-1.2zM79.9 289.7h1.2v1.3h-1.2zM103 289.7h1.2v1.3h-1.2zM81.1 292.2h1.3v1.2h-1.3zM101.7 292.2h1.3v1.2h-1.3zM83.6 295.8h1.2v1.2h-1.2zM99.3 295.8h1.2v1.2h-1.2zM84.8 297h1.2v1.2h-1.2zM98.1 297h1.2v1.2h-1.2zM86 298.2h1.2v1.2h-1.2zM96.9 298.2h1.2v1.2h-1.2zM87.2 299.4h1.2v1.2h-1.2zM95.7 299.4h1.2v1.2h-1.2zM89.6 300.6h4.9v1.3h-4.9z"/><path fill="#423f85" d="M79.9 287.3h1.2v1.2h-1.2zM103 287.3h1.2v1.2h-1.2zM83.6 293.4h1.2v1.2h-1.2zM99.3 293.4h1.2v1.2h-1.2zM84.8 294.6h1.2v1.2h-1.2zM98.1 294.6h1.2v1.2h-1.2zM86 295.8h1.2v1.2h-1.2zM96.9 295.8h1.2v1.2h-1.2zM88.4 297h1.2v1.2h-1.2zM94.5 297h1.2v1.2h-1.2z"/><path fill="#404688" d="M81.1 287.3h1.3v1.2h-1.3zM101.7 287.3h1.3v1.2h-1.3zM83.6 291h1.2v1.2h-1.2zM99.3 291h1.2v1.2h-1.2zM84.8 292.2h1.2v1.2h-1.2zM98.1 292.2h1.2v1.2h-1.2zM86 293.4h1.2v1.2h-1.2zM96.9 293.4h1.2v1.2h-1.2zM88.4 294.6h1.2v1.2h-1.2zM94.5 294.6h1.2v1.2h-1.2z"/><path fill="#3d4d8a" d="M82.4 287.3h1.2v1.2h-1.2zM100.5 287.3h1.2v1.2h-1.2zM87.2 292.2h1.2v1.2h-1.2zM95.7 292.2h1.2v1.2h-1.2z"/><path fill="#3a548c" d="M83.6 287.3h1.2v1.2h-1.2zM99.3 287.3h1.2v1.2h-1.2zM84.8 288.5h1.2v1.2h-1.2zM98.1 288.5h1.2v1.2h-1.2zM86 289.7h1.2v1.3h-1.2zM96.9 289.7h1.2v1.3h-1.2zM88.4 291h2.4v1.2h-2.4zM93.3 291h2.4v1.2h-2.4z"/><path fill="#38598c" d="M84.8 287.3h1.2v1.2h-1.2zM98.1 287.3h1.2v1.2h-1.2zM88.4 289.7h7.3v1.3h-7.3z"/><path fill="#355e8d" d="M86 287.3h1.2v1.2h-1.2zM96.9 287.3h1.2v1.2h-1.2zM88.4 288.5h2.4v1.2h-2.4zM93.3 288.5h2.4v1.2h-2.4z"/><path fill="#34618d" d="M87.2 287.3h1.2v1.2h-1.2zM95.7 287.3h1.2v1.2h-1.2z"/><path fill="#33628d" d="M88.4 287.3h1.2v1.2h-1.2zM94.5 287.3h1.2v1.2h-1.2z"/><path fill="#32648e" d="M89.6 287.3h4.9v1.2h-4.9z"/><path fill="#463480" d="M78.7 288.5h1.2v1.2h-1.2zM104.2 288.5h1.2v1.2h-1.2zM79.9 291h1.2v1.2h-1.2zM103 291h1.2v1.2h-1.2zM81.1 293.4h1.3v1.2h-1.3zM101.7 293.4h1.3v1.2h-1.3zM83.6 297h1.2v1.2h-1.2zM99.3 297h1.2v1.2h-1.2zM87.2 300.6h1.2v1.3h-1.2zM95.7 300.6h1.2v1.3h-1.2zM88.4 301.9h7.3v1.2h-7.3z"/><path fill="#443b84" d="M79.9 288.5h1.2v1.2h-1.2zM103 288.5h1.2v1.2h-1.2zM83.6 294.6h1.2v1.2h-1.2zM99.3 294.6h1.2v1.2h-1.2zM84.8 295.8h1.2v1.2h-1.2zM98.1 295.8h1.2v1.2h-1.2zM86 297h1.2v1.2h-1.2zM96.9 297h1.2v1.2h-1.2zM87.2 298.2h1.2v1.2h-1.2zM95.7 298.2h1.2v1.2h-1.2z"/><path fill="#414287" d="M81.1 288.5h1.3v1.2h-1.3zM101.7 288.5h1.3v1.2h-1.3zM83.6 292.2h1.2v1.2h-1.2zM99.3 292.2h1.2v1.2h-1.2zM84.8 293.4h1.2v1.2h-1.2zM98.1 293.4h1.2v1.2h-1.2zM86 294.6h1.2v1.2h-1.2zM96.9 294.6h1.2v1.2h-1.2zM88.4 295.8h1.2v1.2h-1.2zM94.5 295.8h1.2v1.2h-1.2z"/><path fill="#3f4889" d="M82.4 288.5h1.2v1.2h-1.2zM100.5 288.5h1.2v1.2h-1.2zM89.6 294.6h4.9v1.2h-4.9z"/><path fill="#3c4f8a" d="M83.6 288.5h1.2v1.2h-1.2zM99.3 288.5h1.2v1.2h-1.2zM84.8 289.7h1.2v1.3h-1.2zM98.1 289.7h1.2v1.3h-1.2zM86 291h1.2v1.2h-1.2zM96.9 291h1.2v1.2h-1.2zM88.4 292.2h1.2v1.2h-1.2zM94.5 292.2h1.2v1.2h-1.2z"/><path fill="#38588c" d="M86 288.5h1.2v1.2h-1.2zM96.9 288.5h1.2v1.2h-1.2z"/><path fill="#375b8d" d="M87.2 288.5h1.2v1.2h-1.2zM95.7 288.5h1.2v1.2h-1.2z"/><path fill="#355f8d" d="M90.8 288.5h2.5v1.2h-2.5z"/><path fill="#481f70" d="M75.1 289.7h1.2v1.3h-1.2zM107.8 289.7h1.2v1.3h-1.2zM76.3 292.2h1.2v1.2h-1.2zM106.6 292.2h1.2v1.2h-1.2zM76.3 293.4h1.2v1.2h-1.2zM106.6 293.4h1.2v1.2h-1.2zM77.5 295.8h1.2v1.2h-1.2zM105.4 295.8h1.2v1.2h-1.2zM78.7 299.4h1.2v1.2h-1.2zM104.2 299.4h1.2v1.2h-1.2zM79.9 301.9h1.2v1.2h-1.2zM103 301.9h1.2v1.2h-1.2zM81.1 304.3h1.3v1.2h-1.3zM101.7 304.3h1.3v1.2h-1.3zM81.1 305.5h1.3v1.2h-1.3zM101.7 305.5h1.3v1.2h-1.3zM82.4 307.9h1.2v1.2h-1.2zM100.5 307.9h1.2v1.2h-1.2zM83.6 309.1h1.2v1.2h-1.2zM99.3 309.1h1.2v1.2h-1.2zM83.6 310.3h1.2v1.2h-1.2zM99.3 310.3h1.2v1.2h-1.2zM84.8 311.5h1.2v1.3h-1.2zM98.1 311.5h1.2v1.3h-1.2zM84.8 312.8h2.4v1.2h-2.4zM96.9 312.8h2.4v1.2h-2.4zM86 314h1.2v1.2h-1.2zM96.9 314h1.2v1.2h-1.2zM87.2 315.2h2.4v1.2h-2.4zM94.5 315.2h2.4v1.2h-2.4zM88.4 316.4h7.3v1.2h-7.3zM90.8 317.6h2.5v1.2h-2.5z"/><path fill="#433e85" d="M81.1 289.7h1.3v1.3h-1.3zM101.7 289.7h1.3v1.3h-1.3zM82.4 292.2h1.2v1.2h-1.2zM100.5 292.2h1.2v1.2h-1.2zM87.2 297h1.2v1.2h-1.2zM95.7 297h1.2v1.2h-1.2zM88.4 298.2h7.3v1.2h-7.3z"/><path fill="#404588" d="M82.4 289.7h1.2v1.3h-1.2zM100.5 289.7h1.2v1.3h-1.2zM87.2 294.6h1.2v1.2h-1.2zM95.7 294.6h1.2v1.2h-1.2zM89.6 295.8h4.9v1.2h-4.9z"/><path fill="#3e4989" d="M83.6 289.7h1.2v1.3h-1.2zM99.3 289.7h1.2v1.3h-1.2zM86 292.2h1.2v1.2h-1.2zM96.9 292.2h1.2v1.2h-1.2zM87.2 293.4h1.2v1.2h-1.2zM95.7 293.4h1.2v1.2h-1.2z"/><path fill="#39558c" d="M87.2 289.7h1.2v1.3h-1.2zM95.7 289.7h1.2v1.3h-1.2zM90.8 291h2.5v1.2h-2.5z"/><path fill="#443a83" d="M81.1 291h1.3v1.2h-1.3zM101.7 291h1.3v1.2h-1.3zM82.4 293.4h1.2v1.2h-1.2zM100.5 293.4h1.2v1.2h-1.2zM88.4 299.4h7.3v1.2h-7.3z"/><path fill="#424186" d="M82.4 291h1.2v1.2h-1.2zM100.5 291h1.2v1.2h-1.2zM87.2 295.8h1.2v1.2h-1.2zM95.7 295.8h1.2v1.2h-1.2zM89.6 297h4.9v1.2h-4.9z"/><path fill="#3e4c8a" d="M84.8 291h1.2v1.2h-1.2zM98.1 291h1.2v1.2h-1.2zM88.4 293.4h7.3v1.2h-7.3z"/><path fill="#3b528b" d="M87.2 291h1.2v1.2h-1.2zM95.7 291h1.2v1.2h-1.2z"/><path fill="#3c508b" d="M89.6 292.2h4.9v1.2h-4.9z"/><path fill="#453581" d="M82.4 294.6h1.2v1.2h-1.2zM100.5 294.6h1.2v1.2h-1.2zM84.8 298.2h1.2v1.2h-1.2zM98.1 298.2h1.2v1.2h-1.2zM86 299.4h1.2v1.2h-1.2zM96.9 299.4h1.2v1.2h-1.2zM88.4 300.6h1.2v1.3h-1.2zM94.5 300.6h1.2v1.3h-1.2z"/><path fill="#46327e" d="M82.4 295.8h1.2v1.2h-1.2zM100.5 295.8h1.2v1.2h-1.2zM83.6 298.2h1.2v1.2h-1.2zM99.3 298.2h1.2v1.2h-1.2zM84.8 299.4h1.2v1.2h-1.2zM98.1 299.4h1.2v1.2h-1.2zM86 300.6h1.2v1.3h-1.2zM96.9 300.6h1.2v1.3h-1.2zM87.2 301.9h1.2v1.2h-1.2zM95.7 301.9h1.2v1.2h-1.2zM89.6 303.1h4.9v1.2h-4.9z"/></g><g clip-path="url(#h7)"><g shape-rendering="crispEdges"><path fill="#32b67a" d="M76.9 272.8h30.3v2.4h-30.3z"/><path fill="#bddf26" d="M76.9 275.2h30.3v5.2h-30.3z"/><path fill="#26ad81" d="M76.9 280.4h30.3v2.7h-30.3z"/><path fill="#2a788e" d="M76.9 283.1h30.3v6h-30.3z"/></g></g><rect x="70.23" y="266.95" width="43.64" height="3.42" fill="#fff"/><rect x="79.93" y="269.37" width="24.24" height="3.06" fill="#fff"/><path d="M77.5 272.79 H106.6 A14.55 14.53 0 0 1 77.5 272.79" fill="none" stroke="#000" stroke-width="1.2" stroke-dasharray="3.2 1.4"/><circle cx="55.68" cy="267.95" r="0.9" fill="#ff8a05"/><circle cx="58.19" cy="267.69" r="0.9" fill="#ff8a05"/><circle cx="60.7" cy="267.43" r="0.9" fill="#ff8a05"/><circle cx="63.21" cy="267.17" r="0.9" fill="#ff8a05"/><circle cx="65.72" cy="266.91" r="0.9" fill="#ff8a05"/><circle cx="68.22" cy="266.66" r="0.9" fill="#ff8a05"/><circle cx="70.73" cy="266.4" r="0.9" fill="#ff8a05"/><circle cx="73.24" cy="266.14" r="0.9" fill="#ff8a05"/><circle cx="75.75" cy="265.88" r="0.9" fill="#ff8a05"/><circle cx="78.26" cy="265.62" r="0.9" fill="#ff8a05"/><circle cx="80.76" cy="265.36" r="0.9" fill="#ff8a05"/><circle cx="83.27" cy="265.1" r="0.9" fill="#ff8a05"/><circle cx="85.78" cy="264.84" r="0.9" fill="#ff8a05"/><circle cx="88.29" cy="264.58" r="0.9" fill="#ff8a05"/><circle cx="90.8" cy="264.33" r="0.9" fill="#ff8a05"/><circle cx="93.3" cy="264.33" r="0.9" fill="#ff8a05"/><circle cx="95.81" cy="264.58" r="0.9" fill="#ff8a05"/><circle cx="98.32" cy="264.84" r="0.9" fill="#ff8a05"/><circle cx="100.83" cy="265.1" r="0.9" fill="#ff8a05"/><circle cx="103.34" cy="265.36" r="0.9" fill="#ff8a05"/><circle cx="105.84" cy="265.62" r="0.9" fill="#ff8a05"/><circle cx="108.35" cy="265.88" r="0.9" fill="#ff8a05"/><circle cx="110.86" cy="266.14" r="0.9" fill="#ff8a05"/><circle cx="113.37" cy="266.4" r="0.9" fill="#ff8a05"/><circle cx="115.88" cy="266.66" r="0.9" fill="#ff8a05"/><circle cx="118.38" cy="266.91" r="0.9" fill="#ff8a05"/><circle cx="120.89" cy="267.17" r="0.9" fill="#ff8a05"/><circle cx="123.4" cy="267.43" r="0.9" fill="#ff8a05"/><circle cx="125.91" cy="267.69" r="0.9" fill="#ff8a05"/><circle cx="128.42" cy="267.95" r="0.9" fill="#ff8a05"/></g><rect x="37.5" y="195.3" width="109.1" height="145.3" fill="none" stroke="#000" stroke-opacity="0.5" stroke-width="0.9"/><text transform="translate(34.2 198.3) scale(0.95 1)" font-size="7.5" text-anchor="end">600</text><text transform="translate(34.2 222.52) scale(0.95 1)" font-size="7.5" text-anchor="end">400</text><text transform="translate(34.2 246.73) scale(0.95 1)" font-size="7.5" text-anchor="end">200</text><text transform="translate(34.2 270.95) scale(0.95 1)" font-size="7.5" text-anchor="end">0</text><text transform="translate(34.2 295.17) scale(0.95 1)" font-size="7.5" text-anchor="end">&#8722;<tspan dx="1.0">200</tspan></text><text transform="translate(34.2 319.38) scale(0.95 1)" font-size="7.5" text-anchor="end">&#8722;<tspan dx="1.0">400</tspan></text><text transform="translate(34.2 343.6) scale(0.95 1)" font-size="7.5" text-anchor="end">&#8722;<tspan dx="1.0">600</tspan></text><text transform="translate(43.56 349.2) scale(0.95 1)" font-size="7.5" text-anchor="middle">&#8722;<tspan dx="1.0">400</tspan></text><text transform="translate(67.81 349.2) scale(0.95 1)" font-size="7.5" text-anchor="middle">&#8722;<tspan dx="1.0">200</tspan></text><text transform="translate(92.05 349.2) scale(0.95 1)" font-size="7.5" text-anchor="middle">0</text><text transform="translate(116.29 349.2) scale(0.95 1)" font-size="7.5" text-anchor="middle">200</text><text transform="translate(140.54 349.2) scale(0.95 1)" font-size="7.5" text-anchor="middle">400</text><path d="M37.5 195.3h-2M37.5 219.52h-2M37.5 243.73h-2M37.5 267.95h-2M37.5 292.17h-2M37.5 316.38h-2M37.5 340.6h-2M43.56 340.6v2M67.81 340.6v2M92.05 340.6v2M116.29 340.6v2M140.54 340.6v2" stroke="#444" stroke-width="0.6"/><text x="18.6" y="269.95" font-size="7.7" text-anchor="middle" textLength="18.4" lengthAdjust="spacingAndGlyphs" transform="rotate(-90 18.6 269.95)">z [m]</text><text x="41.9" y="214.5" font-size="14" text-anchor="start" textLength="48.3" lengthAdjust="spacingAndGlyphs">in-flight</text><g clip-path="url(#c8)"><rect x="186.8" y="195.2" width="145.4" height="145.3" fill="#440154"/><g shape-rendering="crispEdges"><path fill="#481a6c" d="M185.8 194.2h3.9v2h-3.9zM216.8 194.2h7.8v2h-7.8zM185.8 196.2h3.9v1.9h-3.9zM220.7 196.2h5.8v1.9h-5.8zM185.8 198.1h3.9v1.9h-3.9zM222.7 198.1h7.7v1.9h-7.7zM185.8 200h3.9v2h-3.9zM226.5 200h7.8v2h-7.8zM185.8 202h3.9v1.9h-3.9zM230.4 202h5.8v1.9h-5.8zM185.8 203.9h3.9v2h-3.9zM232.4 203.9h7.7v2h-7.7zM187.8 205.9h3.8v1.9h-3.8zM236.2 205.9h5.9v1.9h-5.9zM187.8 207.8h5.8v1.9h-5.8zM238.2 207.8h5.8v1.9h-5.8zM189.7 209.7h5.8v2h-5.8zM242.1 209.7h5.8v2h-5.8zM191.6 211.7h7.8v1.9h-7.8zM244 211.7h5.8v1.9h-5.8zM195.5 213.6h7.8v1.9h-7.8zM245.9 213.6h5.8v1.9h-5.8zM199.4 215.5h7.8v2h-7.8zM247.9 215.5h5.8v2h-5.8zM205.2 217.5h7.8v1.9h-7.8zM251.7 217.5h3.9v1.9h-3.9zM211 219.4h7.8v2h-7.8zM253.7 219.4h3.9v2h-3.9zM216.8 221.4h7.8v1.9h-7.8zM255.6 221.4h3.9v1.9h-3.9zM226.5 223.3h2v1.9h-2zM255.6 223.3h3.9v1.9h-3.9zM232.4 225.2h1.9v2h-1.9zM257.6 225.2h3.8v2h-3.8zM238.2 227.2h1.9v1.9h-1.9zM259.5 227.2h1.9v1.9h-1.9zM244 229.1h1.9v1.9h-1.9zM259.5 229.1h1.9v1.9h-1.9zM249.8 231h1.9v2h-1.9zM261.4 231h2v2h-2zM255.6 233h2v1.9h-2zM261.4 233h2v1.9h-2zM300.2 252.4h19.4v1.9h-19.4zM193.6 254.3h9.7v1.9h-9.7zM296.3 254.3h2v1.9h-2zM315.7 254.3h9.7v1.9h-9.7zM191.6 256.2h15.6v2h-15.6zM296.3 256.2h2v2h-2zM321.5 256.2h5.9v2h-5.9zM189.7 258.2h3.9v1.9h-3.9zM207.2 258.2h3.8v1.9h-3.8zM325.4 258.2h3.9v1.9h-3.9zM187.8 260.1h3.8v1.9h-3.8zM211 260.1h3.9v1.9h-3.9zM327.4 260.1h3.8v1.9h-3.8zM185.8 262h5.8v2h-5.8zM214.9 262h1.9v2h-1.9zM300.2 262h2v2h-2zM327.4 262h5.8v2h-5.8zM185.8 264h3.9v1.9h-3.9zM218.8 264h1.9v1.9h-1.9zM298.3 264h1.9v1.9h-1.9zM329.3 264h3.9v1.9h-3.9zM185.8 265.9h3.9v1.9h-3.9zM220.7 265.9h2v1.9h-2zM296.3 265.9h2v1.9h-2zM329.3 265.9h3.9v1.9h-3.9zM185.8 267.8h3.9v2h-3.9zM220.7 267.8h2v2h-2zM296.3 267.8h2v2h-2zM329.3 267.8h3.9v2h-3.9zM185.8 269.8h3.9v1.9h-3.9zM218.8 269.8h1.9v1.9h-1.9zM298.3 269.8h1.9v1.9h-1.9zM329.3 269.8h3.9v1.9h-3.9zM185.8 271.7h5.8v2h-5.8zM216.8 271.7h2v2h-2zM302.2 271.7h1.9v2h-1.9zM327.4 271.7h5.8v2h-5.8zM187.8 273.7h3.8v1.9h-3.8zM304.1 273.7h3.9v1.9h-3.9zM327.4 273.7h3.8v1.9h-3.8zM189.7 275.6h3.9v1.9h-3.9zM308 275.6h3.8v1.9h-3.8zM325.4 275.6h3.9v1.9h-3.9zM191.6 277.5h5.9v2h-5.9zM220.7 277.5h2v2h-2zM311.8 277.5h15.6v2h-15.6zM193.6 279.5h9.7v1.9h-9.7zM220.7 279.5h2v1.9h-2zM315.7 279.5h9.7v1.9h-9.7zM199.4 281.4h19.4v1.9h-19.4zM255.6 300.8h2v1.9h-2zM261.4 300.8h2v1.9h-2zM255.6 302.7h2v2h-2zM267.3 302.7h1.9v2h-1.9zM257.6 304.7h1.9v1.9h-1.9zM273.1 304.7h1.9v1.9h-1.9zM257.6 306.6h1.9v1.9h-1.9zM278.9 306.6h1.9v1.9h-1.9zM257.6 308.5h3.8v2h-3.8zM284.7 308.5h1.9v2h-1.9zM259.5 310.5h3.9v1.9h-3.9zM290.5 310.5h2v1.9h-2zM259.5 312.4h3.9v1.9h-3.9zM294.4 312.4h7.8v1.9h-7.8zM261.4 314.3h3.9v2h-3.9zM300.2 314.3h7.8v2h-7.8zM263.4 316.3h3.9v1.9h-3.9zM306 316.3h7.8v1.9h-7.8zM265.3 318.2h5.8v2h-5.8zM311.8 318.2h7.8v2h-7.8zM267.3 320.2h5.8v1.9h-5.8zM315.7 320.2h7.8v1.9h-7.8zM269.2 322.1h5.8v1.9h-5.8zM319.6 322.1h7.8v1.9h-7.8zM271.1 324h5.8v2h-5.8zM323.5 324h5.8v2h-5.8zM275 326h5.8v1.9h-5.8zM325.4 326h5.8v1.9h-5.8zM276.9 327.9h5.9v1.9h-5.9zM327.4 327.9h3.8v1.9h-3.8zM278.9 329.8h7.7v2h-7.7zM329.3 329.8h3.9v2h-3.9zM282.8 331.8h5.8v1.9h-5.8zM329.3 331.8h3.9v1.9h-3.9zM284.7 333.7h7.8v2h-7.8zM329.3 333.7h3.9v2h-3.9zM288.6 335.7h7.7v1.9h-7.7zM329.3 335.7h3.9v1.9h-3.9zM292.5 337.6h5.8v1.9h-5.8zM329.3 337.6h3.9v1.9h-3.9zM294.4 339.5h7.8v2h-7.8zM329.3 339.5h3.9v2h-3.9z"/><path fill="#48186a" d="M189.7 194.2h3.9v2h-3.9zM213 194.2h3.8v2h-3.8zM189.7 196.2h1.9v1.9h-1.9zM214.9 196.2h5.8v1.9h-5.8zM189.7 198.1h1.9v1.9h-1.9zM218.8 198.1h3.9v1.9h-3.9zM189.7 200h1.9v2h-1.9zM222.7 200h3.8v2h-3.8zM189.7 202h1.9v1.9h-1.9zM224.6 202h5.8v1.9h-5.8zM189.7 203.9h3.9v2h-3.9zM228.5 203.9h3.9v2h-3.9zM191.6 205.9h2v1.9h-2zM230.4 205.9h5.8v1.9h-5.8zM193.6 207.8h3.9v1.9h-3.9zM234.3 207.8h3.9v1.9h-3.9zM195.5 209.7h5.8v2h-5.8zM236.2 209.7h5.9v2h-5.9zM199.4 211.7h5.8v1.9h-5.8zM240.1 211.7h3.9v1.9h-3.9zM203.3 213.6h5.8v1.9h-5.8zM242.1 213.6h3.8v1.9h-3.8zM207.2 215.5h5.8v2h-5.8zM244 215.5h3.9v2h-3.9zM213 217.5h3.8v1.9h-3.8zM247.9 217.5h3.8v1.9h-3.8zM218.8 219.4h3.9v2h-3.9zM249.8 219.4h3.9v2h-3.9zM224.6 221.4h1.9v1.9h-1.9zM251.7 221.4h3.9v1.9h-3.9zM228.5 223.3h3.9v1.9h-3.9zM253.7 223.3h1.9v1.9h-1.9zM234.3 225.2h3.9v2h-3.9zM255.6 225.2h2v2h-2zM240.1 227.2h2v1.9h-2zM257.6 227.2h1.9v1.9h-1.9zM245.9 229.1h2v1.9h-2zM257.6 229.1h1.9v1.9h-1.9zM251.7 231h2v2h-2zM259.5 231h1.9v2h-1.9zM257.6 233h3.8v1.9h-3.8zM298.3 254.3h17.4v1.9h-17.4zM313.8 256.2h7.7v2h-7.7zM193.6 258.2h13.6v1.9h-13.6zM298.3 258.2h1.9v1.9h-1.9zM319.6 258.2h5.8v1.9h-5.8zM191.6 260.1h3.9v1.9h-3.9zM207.2 260.1h3.8v1.9h-3.8zM300.2 260.1h2v1.9h-2zM323.5 260.1h3.9v1.9h-3.9zM191.6 262h2v2h-2zM213 262h1.9v2h-1.9zM325.4 262h2v2h-2zM189.7 264h3.9v1.9h-3.9zM216.8 264h2v1.9h-2zM300.2 264h2v1.9h-2zM325.4 264h3.9v1.9h-3.9zM189.7 265.9h1.9v1.9h-1.9zM327.4 265.9h1.9v1.9h-1.9zM189.7 267.8h1.9v2h-1.9zM327.4 267.8h1.9v2h-1.9zM189.7 269.8h3.9v1.9h-3.9zM216.8 269.8h2v1.9h-2zM300.2 269.8h2v1.9h-2zM325.4 269.8h3.9v1.9h-3.9zM191.6 271.7h2v2h-2zM304.1 271.7h1.9v2h-1.9zM325.4 271.7h2v2h-2zM191.6 273.7h3.9v1.9h-3.9zM216.8 273.7h2v1.9h-2zM308 273.7h3.8v1.9h-3.8zM323.5 273.7h3.9v1.9h-3.9zM193.6 275.6h5.8v1.9h-5.8zM218.8 275.6h1.9v1.9h-1.9zM311.8 275.6h13.6v1.9h-13.6zM197.5 277.5h7.7v2h-7.7zM203.3 279.5h17.4v1.9h-17.4zM257.6 300.8h3.8v1.9h-3.8zM257.6 302.7h1.9v2h-1.9zM265.3 302.7h2v2h-2zM259.5 304.7h1.9v1.9h-1.9zM271.1 304.7h2v1.9h-2zM259.5 306.6h1.9v1.9h-1.9zM276.9 306.6h2v1.9h-2zM261.4 308.5h2v2h-2zM280.8 308.5h3.9v2h-3.9zM263.4 310.5h1.9v1.9h-1.9zM286.6 310.5h3.9v1.9h-3.9zM263.4 312.4h3.9v1.9h-3.9zM292.5 312.4h1.9v1.9h-1.9zM265.3 314.3h3.9v2h-3.9zM296.3 314.3h3.9v2h-3.9zM267.3 316.3h3.8v1.9h-3.8zM302.2 316.3h3.8v1.9h-3.8zM271.1 318.2h3.9v2h-3.9zM306 318.2h5.8v2h-5.8zM273.1 320.2h3.8v1.9h-3.8zM309.9 320.2h5.8v1.9h-5.8zM275 322.1h3.9v1.9h-3.9zM313.8 322.1h5.8v1.9h-5.8zM276.9 324h5.9v2h-5.9zM317.7 324h5.8v2h-5.8zM280.8 326h3.9v1.9h-3.9zM321.5 326h3.9v1.9h-3.9zM282.8 327.9h5.8v1.9h-5.8zM325.4 327.9h2v1.9h-2zM286.6 329.8h3.9v2h-3.9zM325.4 329.8h3.9v2h-3.9zM288.6 331.8h5.8v1.9h-5.8zM327.4 331.8h1.9v1.9h-1.9zM292.5 333.7h3.8v2h-3.8zM327.4 333.7h1.9v2h-1.9zM296.3 335.7h3.9v1.9h-3.9zM327.4 335.7h1.9v1.9h-1.9zM298.3 337.6h5.8v1.9h-5.8zM327.4 337.6h1.9v1.9h-1.9zM302.2 339.5h3.8v2h-3.8zM325.4 339.5h3.9v2h-3.9z"/><path fill="#481769" d="M193.6 194.2h1.9v2h-1.9zM209.1 194.2h3.9v2h-3.9zM191.6 196.2h2v1.9h-2zM211 196.2h3.9v1.9h-3.9zM191.6 198.1h2v1.9h-2zM214.9 198.1h3.9v1.9h-3.9zM191.6 200h2v2h-2zM218.8 200h3.9v2h-3.9zM191.6 202h2v1.9h-2zM220.7 202h3.9v1.9h-3.9zM193.6 203.9h1.9v2h-1.9zM224.6 203.9h3.9v2h-3.9zM193.6 205.9h3.9v1.9h-3.9zM226.5 205.9h3.9v1.9h-3.9zM197.5 207.8h3.8v1.9h-3.8zM230.4 207.8h3.9v1.9h-3.9zM201.3 209.7h3.9v2h-3.9zM232.4 209.7h3.8v2h-3.8zM205.2 211.7h3.9v1.9h-3.9zM236.2 211.7h3.9v1.9h-3.9zM209.1 213.6h3.9v1.9h-3.9zM238.2 213.6h3.9v1.9h-3.9zM213 215.5h3.8v2h-3.8zM242.1 215.5h1.9v2h-1.9zM216.8 217.5h3.9v1.9h-3.9zM244 217.5h3.9v1.9h-3.9zM222.7 219.4h3.8v2h-3.8zM245.9 219.4h3.9v2h-3.9zM226.5 221.4h3.9v1.9h-3.9zM249.8 221.4h1.9v1.9h-1.9zM232.4 223.3h1.9v1.9h-1.9zM251.7 223.3h2v1.9h-2zM238.2 225.2h1.9v2h-1.9zM253.7 225.2h1.9v2h-1.9zM242.1 227.2h1.9v1.9h-1.9zM253.7 227.2h3.9v1.9h-3.9zM247.9 229.1h1.9v1.9h-1.9zM255.6 229.1h2v1.9h-2zM253.7 231h1.9v2h-1.9zM257.6 231h1.9v2h-1.9zM308 256.2h5.8v2h-5.8zM313.8 258.2h5.8v1.9h-5.8zM195.5 260.1h11.7v1.9h-11.7zM319.6 260.1h3.9v1.9h-3.9zM193.6 262h1.9v2h-1.9zM209.1 262h3.9v2h-3.9zM302.2 262h1.9v2h-1.9zM323.5 262h1.9v2h-1.9zM193.6 264h1.9v1.9h-1.9zM214.9 264h1.9v1.9h-1.9zM302.2 264h1.9v1.9h-1.9zM323.5 264h1.9v1.9h-1.9zM191.6 265.9h2v1.9h-2zM218.8 265.9h1.9v1.9h-1.9zM298.3 265.9h1.9v1.9h-1.9zM325.4 265.9h2v1.9h-2zM191.6 267.8h2v2h-2zM218.8 267.8h1.9v2h-1.9zM298.3 267.8h1.9v2h-1.9zM325.4 267.8h2v2h-2zM193.6 269.8h1.9v1.9h-1.9zM214.9 269.8h1.9v1.9h-1.9zM302.2 269.8h1.9v1.9h-1.9zM323.5 269.8h1.9v1.9h-1.9zM193.6 271.7h1.9v2h-1.9zM214.9 271.7h1.9v2h-1.9zM306 271.7h3.9v2h-3.9zM323.5 271.7h1.9v2h-1.9zM195.5 273.7h3.9v1.9h-3.9zM311.8 273.7h11.7v1.9h-11.7zM199.4 275.6h5.8v1.9h-5.8zM205.2 277.5h5.8v2h-5.8zM259.5 302.7h1.9v2h-1.9zM263.4 302.7h1.9v2h-1.9zM261.4 304.7h2v1.9h-2zM269.2 304.7h1.9v1.9h-1.9zM261.4 306.6h3.9v1.9h-3.9zM275 306.6h1.9v1.9h-1.9zM263.4 308.5h1.9v2h-1.9zM278.9 308.5h1.9v2h-1.9zM265.3 310.5h2v1.9h-2zM284.7 310.5h1.9v1.9h-1.9zM267.3 312.4h1.9v1.9h-1.9zM288.6 312.4h3.9v1.9h-3.9zM269.2 314.3h3.9v2h-3.9zM292.5 314.3h3.8v2h-3.8zM271.1 316.3h3.9v1.9h-3.9zM298.3 316.3h3.9v1.9h-3.9zM275 318.2h1.9v2h-1.9zM302.2 318.2h3.8v2h-3.8zM276.9 320.2h3.9v1.9h-3.9zM306 320.2h3.9v1.9h-3.9zM278.9 322.1h3.9v1.9h-3.9zM309.9 322.1h3.9v1.9h-3.9zM282.8 324h3.8v2h-3.8zM313.8 324h3.9v2h-3.9zM284.7 326h3.9v1.9h-3.9zM317.7 326h3.8v1.9h-3.8zM288.6 327.9h3.9v1.9h-3.9zM321.5 327.9h3.9v1.9h-3.9zM290.5 329.8h3.9v2h-3.9zM323.5 329.8h1.9v2h-1.9zM294.4 331.8h3.9v1.9h-3.9zM325.4 331.8h2v1.9h-2zM296.3 333.7h3.9v2h-3.9zM325.4 333.7h2v2h-2zM300.2 335.7h3.9v1.9h-3.9zM325.4 335.7h2v1.9h-2zM304.1 337.6h3.9v1.9h-3.9zM325.4 337.6h2v1.9h-2zM306 339.5h3.9v2h-3.9zM323.5 339.5h1.9v2h-1.9z"/><path fill="#481668" d="M195.5 194.2h2v2h-2zM205.2 194.2h3.9v2h-3.9zM193.6 196.2h1.9v1.9h-1.9zM209.1 196.2h1.9v1.9h-1.9zM193.6 198.1h1.9v1.9h-1.9zM211 198.1h3.9v1.9h-3.9zM193.6 200h1.9v2h-1.9zM214.9 200h3.9v2h-3.9zM193.6 202h1.9v1.9h-1.9zM218.8 202h1.9v1.9h-1.9zM195.5 203.9h2v2h-2zM220.7 203.9h3.9v2h-3.9zM197.5 205.9h3.8v1.9h-3.8zM224.6 205.9h1.9v1.9h-1.9zM201.3 207.8h3.9v1.9h-3.9zM226.5 207.8h3.9v1.9h-3.9zM205.2 209.7h2v2h-2zM230.4 209.7h2v2h-2zM209.1 211.7h1.9v1.9h-1.9zM234.3 211.7h1.9v1.9h-1.9zM213 213.6h1.9v1.9h-1.9zM236.2 213.6h2v1.9h-2zM216.8 215.5h3.9v2h-3.9zM238.2 215.5h3.9v2h-3.9zM220.7 217.5h3.9v1.9h-3.9zM242.1 217.5h1.9v1.9h-1.9zM226.5 219.4h2v2h-2zM244 219.4h1.9v2h-1.9zM230.4 221.4h2v1.9h-2zM245.9 221.4h3.9v1.9h-3.9zM234.3 223.3h1.9v1.9h-1.9zM249.8 223.3h1.9v1.9h-1.9zM240.1 225.2h2v2h-2zM251.7 225.2h2v2h-2zM244 227.2h1.9v1.9h-1.9zM249.8 229.1h1.9v1.9h-1.9zM253.7 229.1h1.9v1.9h-1.9zM255.6 231h2v2h-2zM298.3 256.2h9.7v2h-9.7zM300.2 258.2h2v1.9h-2zM309.9 258.2h3.9v1.9h-3.9zM302.2 260.1h1.9v1.9h-1.9zM315.7 260.1h3.9v1.9h-3.9zM195.5 262h3.9v2h-3.9zM203.3 262h5.8v2h-5.8zM319.6 262h3.9v2h-3.9zM195.5 264h2v1.9h-2zM211 264h3.9v1.9h-3.9zM304.1 264h1.9v1.9h-1.9zM321.5 264h2v1.9h-2zM193.6 265.9h1.9v1.9h-1.9zM216.8 265.9h2v1.9h-2zM300.2 265.9h2v1.9h-2zM323.5 265.9h1.9v1.9h-1.9zM193.6 267.8h1.9v2h-1.9zM216.8 267.8h2v2h-2zM300.2 267.8h2v2h-2zM323.5 267.8h1.9v2h-1.9zM195.5 269.8h2v1.9h-2zM213 269.8h1.9v1.9h-1.9zM304.1 269.8h3.9v1.9h-3.9zM321.5 269.8h2v1.9h-2zM195.5 271.7h3.9v2h-3.9zM309.9 271.7h5.8v2h-5.8zM319.6 271.7h3.9v2h-3.9zM199.4 273.7h3.9v1.9h-3.9zM214.9 273.7h1.9v1.9h-1.9zM205.2 275.6h3.9v1.9h-3.9zM216.8 275.6h2v1.9h-2zM211 277.5h9.7v2h-9.7zM261.4 302.7h2v2h-2zM263.4 304.7h1.9v1.9h-1.9zM267.3 304.7h1.9v1.9h-1.9zM273.1 306.6h1.9v1.9h-1.9zM265.3 308.5h2v2h-2zM276.9 308.5h2v2h-2zM267.3 310.5h1.9v1.9h-1.9zM282.8 310.5h1.9v1.9h-1.9zM269.2 312.4h3.9v1.9h-3.9zM286.6 312.4h2v1.9h-2zM273.1 314.3h1.9v2h-1.9zM290.5 314.3h2v2h-2zM275 316.3h1.9v1.9h-1.9zM294.4 316.3h3.9v1.9h-3.9zM276.9 318.2h3.9v2h-3.9zM298.3 318.2h3.9v2h-3.9zM280.8 320.2h2v1.9h-2zM304.1 320.2h1.9v1.9h-1.9zM282.8 322.1h1.9v1.9h-1.9zM308 322.1h1.9v1.9h-1.9zM286.6 324h2v2h-2zM311.8 324h2v2h-2zM288.6 326h3.9v1.9h-3.9zM313.8 326h3.9v1.9h-3.9zM292.5 327.9h1.9v1.9h-1.9zM317.7 327.9h3.8v1.9h-3.8zM294.4 329.8h3.9v2h-3.9zM321.5 329.8h2v2h-2zM298.3 331.8h1.9v1.9h-1.9zM323.5 331.8h1.9v1.9h-1.9zM300.2 333.7h3.9v2h-3.9zM323.5 333.7h1.9v2h-1.9zM304.1 335.7h3.9v1.9h-3.9zM323.5 335.7h1.9v1.9h-1.9zM308 337.6h1.9v1.9h-1.9zM323.5 337.6h1.9v1.9h-1.9zM309.9 339.5h3.9v2h-3.9zM321.5 339.5h2v2h-2z"/><path fill="#471365" d="M197.5 194.2h7.7v2h-7.7zM195.5 196.2h2v1.9h-2zM205.2 196.2h3.9v1.9h-3.9zM195.5 198.1h2v1.9h-2zM209.1 198.1h1.9v1.9h-1.9zM195.5 200h2v2h-2zM213 200h1.9v2h-1.9zM195.5 202h2v1.9h-2zM214.9 202h3.9v1.9h-3.9zM197.5 203.9h1.9v2h-1.9zM218.8 203.9h1.9v2h-1.9zM201.3 205.9h2v1.9h-2zM222.7 205.9h1.9v1.9h-1.9zM205.2 207.8h2v1.9h-2zM224.6 207.8h1.9v1.9h-1.9zM207.2 209.7h3.8v2h-3.8zM228.5 209.7h1.9v2h-1.9zM211 211.7h3.9v1.9h-3.9zM230.4 211.7h3.9v1.9h-3.9zM214.9 213.6h3.9v1.9h-3.9zM234.3 213.6h1.9v1.9h-1.9zM220.7 215.5h2v2h-2zM236.2 215.5h2v2h-2zM224.6 217.5h1.9v1.9h-1.9zM240.1 217.5h2v1.9h-2zM228.5 219.4h1.9v2h-1.9zM242.1 219.4h1.9v2h-1.9zM232.4 221.4h1.9v1.9h-1.9zM244 221.4h1.9v1.9h-1.9zM236.2 223.3h2v1.9h-2zM247.9 223.3h1.9v1.9h-1.9zM242.1 225.2h1.9v2h-1.9zM249.8 225.2h1.9v2h-1.9zM245.9 227.2h2v1.9h-2zM251.7 227.2h2v1.9h-2zM251.7 229.1h2v1.9h-2zM306 258.2h3.9v1.9h-3.9zM311.8 260.1h3.9v1.9h-3.9zM199.4 262h3.9v2h-3.9zM304.1 262h1.9v2h-1.9zM317.7 262h1.9v2h-1.9zM207.2 264h3.8v1.9h-3.8zM306 264h2v1.9h-2zM195.5 265.9h2v1.9h-2zM214.9 265.9h1.9v1.9h-1.9zM302.2 265.9h1.9v1.9h-1.9zM321.5 265.9h2v1.9h-2zM195.5 267.8h2v2h-2zM214.9 267.8h1.9v2h-1.9zM302.2 267.8h1.9v2h-1.9zM321.5 267.8h2v2h-2zM211 269.8h2v1.9h-2zM308 269.8h3.8v1.9h-3.8zM199.4 271.7h1.9v2h-1.9zM213 271.7h1.9v2h-1.9zM315.7 271.7h3.9v2h-3.9zM203.3 273.7h3.9v1.9h-3.9zM209.1 275.6h3.9v1.9h-3.9zM265.3 304.7h2v1.9h-2zM265.3 306.6h2v1.9h-2zM271.1 306.6h2v1.9h-2zM267.3 308.5h1.9v2h-1.9zM275 308.5h1.9v2h-1.9zM269.2 310.5h1.9v1.9h-1.9zM280.8 310.5h2v1.9h-2zM273.1 312.4h1.9v1.9h-1.9zM284.7 312.4h1.9v1.9h-1.9zM275 314.3h1.9v2h-1.9zM288.6 314.3h1.9v2h-1.9zM276.9 316.3h2v1.9h-2zM292.5 316.3h1.9v1.9h-1.9zM280.8 318.2h2v2h-2zM296.3 318.2h2v2h-2zM282.8 320.2h1.9v1.9h-1.9zM300.2 320.2h3.9v1.9h-3.9zM284.7 322.1h3.9v1.9h-3.9zM304.1 322.1h3.9v1.9h-3.9zM288.6 324h1.9v2h-1.9zM308 324h3.8v2h-3.8zM292.5 326h1.9v1.9h-1.9zM311.8 326h2v1.9h-2zM294.4 327.9h1.9v1.9h-1.9zM315.7 327.9h2v1.9h-2zM298.3 329.8h1.9v2h-1.9zM319.6 329.8h1.9v2h-1.9zM300.2 331.8h3.9v1.9h-3.9zM321.5 331.8h2v1.9h-2zM304.1 333.7h1.9v2h-1.9zM321.5 333.7h2v2h-2zM308 335.7h1.9v1.9h-1.9zM321.5 335.7h2v1.9h-2zM309.9 337.6h3.9v1.9h-3.9zM321.5 337.6h2v1.9h-2zM313.8 339.5h7.7v2h-7.7z"/><path fill="#481c6e" d="M224.6 194.2h11.6v2h-11.6zM226.5 196.2h11.7v1.9h-11.7zM230.4 198.1h11.7v1.9h-11.7zM234.3 200h9.7v2h-9.7zM236.2 202h11.7v1.9h-11.7zM240.1 203.9h9.7v2h-9.7zM185.8 205.9h2v1.9h-2zM242.1 205.9h9.6v1.9h-9.6zM185.8 207.8h2v1.9h-2zM244 207.8h9.7v1.9h-9.7zM185.8 209.7h3.9v2h-3.9zM247.9 209.7h7.7v2h-7.7zM185.8 211.7h5.8v1.9h-5.8zM249.8 211.7h7.8v1.9h-7.8zM185.8 213.6h9.7v1.9h-9.7zM251.7 213.6h7.8v1.9h-7.8zM187.8 215.5h11.6v2h-11.6zM253.7 215.5h7.7v2h-7.7zM189.7 217.5h15.5v1.9h-15.5zM255.6 217.5h5.8v1.9h-5.8zM195.5 219.4h15.5v2h-15.5zM257.6 219.4h5.8v2h-5.8zM201.3 221.4h15.5v1.9h-15.5zM259.5 221.4h3.9v1.9h-3.9zM214.9 223.3h11.6v1.9h-11.6zM259.5 223.3h3.9v1.9h-3.9zM228.5 225.2h3.9v2h-3.9zM261.4 225.2h3.9v2h-3.9zM234.3 227.2h3.9v1.9h-3.9zM261.4 227.2h3.9v1.9h-3.9zM240.1 229.1h3.9v1.9h-3.9zM261.4 229.1h3.9v1.9h-3.9zM247.9 231h1.9v2h-1.9zM263.4 231h1.9v2h-1.9zM253.7 233h1.9v1.9h-1.9zM263.4 233h1.9v1.9h-1.9zM261.4 234.9h3.9v2h-3.9zM308 248.5h17.4v1.9h-17.4zM187.8 250.4h15.5v2h-15.5zM302.2 250.4h29v2h-29zM185.8 252.4h19.4v1.9h-19.4zM296.3 252.4h3.9v1.9h-3.9zM319.6 252.4h13.6v1.9h-13.6zM185.8 254.3h7.8v1.9h-7.8zM203.3 254.3h5.8v1.9h-5.8zM294.4 254.3h1.9v1.9h-1.9zM325.4 254.3h7.8v1.9h-7.8zM185.8 256.2h5.8v2h-5.8zM207.2 256.2h3.8v2h-3.8zM327.4 256.2h5.8v2h-5.8zM185.8 258.2h3.9v1.9h-3.9zM211 258.2h3.9v1.9h-3.9zM329.3 258.2h3.9v1.9h-3.9zM185.8 260.1h2v1.9h-2zM214.9 260.1h1.9v1.9h-1.9zM298.3 260.1h1.9v1.9h-1.9zM331.2 260.1h2v1.9h-2zM216.8 262h2v2h-2zM300.2 271.7h2v2h-2zM185.8 273.7h2v1.9h-2zM218.8 273.7h1.9v1.9h-1.9zM302.2 273.7h1.9v1.9h-1.9zM331.2 273.7h2v1.9h-2zM185.8 275.6h3.9v1.9h-3.9zM304.1 275.6h3.9v1.9h-3.9zM329.3 275.6h3.9v1.9h-3.9zM185.8 277.5h5.8v2h-5.8zM308 277.5h3.8v2h-3.8zM327.4 277.5h5.8v2h-5.8zM185.8 279.5h7.8v1.9h-7.8zM222.7 279.5h1.9v1.9h-1.9zM309.9 279.5h5.8v1.9h-5.8zM325.4 279.5h7.8v1.9h-7.8zM185.8 281.4h13.6v1.9h-13.6zM218.8 281.4h3.9v1.9h-3.9zM313.8 281.4h19.4v1.9h-19.4zM187.8 283.3h29v2h-29zM315.7 283.3h15.5v2h-15.5zM193.6 285.3h17.4v1.9h-17.4zM253.7 298.8h3.9v2h-3.9zM253.7 300.8h1.9v1.9h-1.9zM263.4 300.8h1.9v1.9h-1.9zM253.7 302.7h1.9v2h-1.9zM269.2 302.7h1.9v2h-1.9zM253.7 304.7h3.9v1.9h-3.9zM275 304.7h3.9v1.9h-3.9zM253.7 306.6h3.9v1.9h-3.9zM280.8 306.6h3.9v1.9h-3.9zM253.7 308.5h3.9v2h-3.9zM286.6 308.5h3.9v2h-3.9zM255.6 310.5h3.9v1.9h-3.9zM292.5 310.5h11.6v1.9h-11.6zM255.6 312.4h3.9v1.9h-3.9zM302.2 312.4h15.5v1.9h-15.5zM255.6 314.3h5.8v2h-5.8zM308 314.3h15.5v2h-15.5zM257.6 316.3h5.8v1.9h-5.8zM313.8 316.3h15.5v1.9h-15.5zM257.6 318.2h7.7v2h-7.7zM319.6 318.2h11.6v2h-11.6zM259.5 320.2h7.8v1.9h-7.8zM323.5 320.2h9.7v1.9h-9.7zM261.4 322.1h7.8v1.9h-7.8zM327.4 322.1h5.8v1.9h-5.8zM263.4 324h7.7v2h-7.7zM329.3 324h3.9v2h-3.9zM265.3 326h9.7v1.9h-9.7zM331.2 326h2v1.9h-2zM267.3 327.9h9.6v1.9h-9.6zM331.2 327.9h2v1.9h-2zM269.2 329.8h9.7v2h-9.7zM271.1 331.8h11.7v1.9h-11.7zM275 333.7h9.7v2h-9.7zM276.9 335.7h11.7v1.9h-11.7zM280.8 337.6h11.7v1.9h-11.7zM282.8 339.5h11.6v2h-11.6z"/><path fill="#481d6f" d="M236.2 194.2h97v2h-97zM238.2 196.2h95v1.9h-95zM242.1 198.1h91.1v1.9h-91.1zM244 200h46.5v2h-46.5zM306 200h27.2v2h-27.2zM247.9 202h36.8v1.9h-36.8zM309.9 202h23.3v1.9h-23.3zM249.8 203.9h33v2h-33zM313.8 203.9h19.4v2h-19.4zM251.7 205.9h27.2v1.9h-27.2zM315.7 205.9h17.5v1.9h-17.5zM253.7 207.8h25.2v1.9h-25.2zM317.7 207.8h15.5v1.9h-15.5zM255.6 209.7h21.3v2h-21.3zM319.6 209.7h13.6v2h-13.6zM257.6 211.7h17.4v1.9h-17.4zM321.5 211.7h11.7v1.9h-11.7zM259.5 213.6h15.5v1.9h-15.5zM323.5 213.6h9.7v1.9h-9.7zM185.8 215.5h2v2h-2zM261.4 215.5h11.7v2h-11.7zM323.5 215.5h9.7v2h-9.7zM185.8 217.5h3.9v1.9h-3.9zM261.4 217.5h11.7v1.9h-11.7zM325.4 217.5h7.8v1.9h-7.8zM185.8 219.4h9.7v2h-9.7zM263.4 219.4h7.7v2h-7.7zM325.4 219.4h7.8v2h-7.8zM185.8 221.4h15.5v1.9h-15.5zM263.4 221.4h7.7v1.9h-7.7zM325.4 221.4h7.8v1.9h-7.8zM185.8 223.3h29.1v1.9h-29.1zM263.4 223.3h5.8v1.9h-5.8zM325.4 223.3h7.8v1.9h-7.8zM185.8 225.2h42.7v2h-42.7zM265.3 225.2h3.9v2h-3.9zM325.4 225.2h7.8v2h-7.8zM185.8 227.2h23.3v1.9h-23.3zM230.4 227.2h3.9v1.9h-3.9zM265.3 227.2h3.9v1.9h-3.9zM325.4 227.2h7.8v1.9h-7.8zM185.8 229.1h17.5v1.9h-17.5zM238.2 229.1h1.9v1.9h-1.9zM265.3 229.1h2v1.9h-2zM325.4 229.1h7.8v1.9h-7.8zM185.8 231h13.6v2h-13.6zM244 231h3.9v2h-3.9zM265.3 231h2v2h-2zM323.5 231h9.7v2h-9.7zM185.8 233h9.7v1.9h-9.7zM251.7 233h2v1.9h-2zM265.3 233h2v1.9h-2zM323.5 233h9.7v1.9h-9.7zM185.8 234.9h9.7v2h-9.7zM259.5 234.9h1.9v2h-1.9zM265.3 234.9h2v2h-2zM321.5 234.9h11.7v2h-11.7zM185.8 236.9h11.7v1.9h-11.7zM319.6 236.9h13.6v1.9h-13.6zM185.8 238.8h11.7v1.9h-11.7zM317.7 238.8h15.5v1.9h-15.5zM185.8 240.7h13.6v2h-13.6zM313.8 240.7h19.4v2h-19.4zM185.8 242.7h15.5v1.9h-15.5zM311.8 242.7h21.4v1.9h-21.4zM185.8 244.6h17.5v1.9h-17.5zM308 244.6h25.2v1.9h-25.2zM185.8 246.5h19.4v2h-19.4zM304.1 246.5h29.1v2h-29.1zM185.8 248.5h21.4v1.9h-21.4zM302.2 248.5h5.8v1.9h-5.8zM325.4 248.5h7.8v1.9h-7.8zM185.8 250.4h2v2h-2zM203.3 250.4h5.8v2h-5.8zM298.3 250.4h3.9v2h-3.9zM331.2 250.4h2v2h-2zM205.2 252.4h5.8v1.9h-5.8zM294.4 252.4h1.9v1.9h-1.9zM209.1 254.3h3.9v1.9h-3.9zM211 256.2h3.9v2h-3.9zM214.9 258.2h1.9v1.9h-1.9zM296.3 258.2h2v1.9h-2zM216.8 260.1h2v1.9h-2zM218.8 262h1.9v2h-1.9zM298.3 262h1.9v2h-1.9zM220.7 264h2v1.9h-2zM296.3 264h2v1.9h-2zM222.7 265.9h1.9v1.9h-1.9zM294.4 265.9h1.9v1.9h-1.9zM222.7 267.8h1.9v2h-1.9zM294.4 267.8h1.9v2h-1.9zM220.7 269.8h2v1.9h-2zM296.3 269.8h2v1.9h-2zM218.8 271.7h1.9v2h-1.9zM298.3 271.7h1.9v2h-1.9zM300.2 273.7h2v1.9h-2zM220.7 275.6h2v1.9h-2zM302.2 275.6h1.9v1.9h-1.9zM304.1 277.5h3.9v2h-3.9zM306 279.5h3.9v1.9h-3.9zM222.7 281.4h1.9v1.9h-1.9zM308 281.4h5.8v1.9h-5.8zM185.8 283.3h2v2h-2zM216.8 283.3h3.9v2h-3.9zM309.9 283.3h5.8v2h-5.8zM331.2 283.3h2v2h-2zM185.8 285.3h7.8v1.9h-7.8zM211 285.3h5.8v1.9h-5.8zM311.8 285.3h21.4v1.9h-21.4zM185.8 287.2h29.1v2h-29.1zM313.8 287.2h19.4v2h-19.4zM185.8 289.2h25.2v1.9h-25.2zM315.7 289.2h17.5v1.9h-17.5zM185.8 291.1h21.4v1.9h-21.4zM317.7 291.1h15.5v1.9h-15.5zM185.8 293h19.4v2h-19.4zM319.6 293h13.6v2h-13.6zM185.8 295h15.5v1.9h-15.5zM321.5 295h11.7v1.9h-11.7zM185.8 296.9h13.6v1.9h-13.6zM321.5 296.9h11.7v1.9h-11.7zM185.8 298.8h11.7v2h-11.7zM251.7 298.8h2v2h-2zM257.6 298.8h1.9v2h-1.9zM323.5 298.8h9.7v2h-9.7zM185.8 300.8h9.7v1.9h-9.7zM251.7 300.8h2v1.9h-2zM265.3 300.8h2v1.9h-2zM323.5 300.8h9.7v1.9h-9.7zM185.8 302.7h9.7v2h-9.7zM251.7 302.7h2v2h-2zM271.1 302.7h3.9v2h-3.9zM319.6 302.7h13.6v2h-13.6zM185.8 304.7h7.8v1.9h-7.8zM251.7 304.7h2v1.9h-2zM278.9 304.7h1.9v1.9h-1.9zM315.7 304.7h17.5v1.9h-17.5zM185.8 306.6h7.8v1.9h-7.8zM249.8 306.6h3.9v1.9h-3.9zM284.7 306.6h3.9v1.9h-3.9zM309.9 306.6h23.3v1.9h-23.3zM185.8 308.5h7.8v2h-7.8zM249.8 308.5h3.9v2h-3.9zM290.5 308.5h42.7v2h-42.7zM185.8 310.5h7.8v1.9h-7.8zM249.8 310.5h5.8v1.9h-5.8zM304.1 310.5h29.1v1.9h-29.1zM185.8 312.4h7.8v1.9h-7.8zM247.9 312.4h7.7v1.9h-7.7zM317.7 312.4h15.5v1.9h-15.5zM185.8 314.3h7.8v2h-7.8zM247.9 314.3h7.7v2h-7.7zM323.5 314.3h9.7v2h-9.7zM185.8 316.3h7.8v1.9h-7.8zM245.9 316.3h11.7v1.9h-11.7zM329.3 316.3h3.9v1.9h-3.9zM185.8 318.2h9.7v2h-9.7zM245.9 318.2h11.7v2h-11.7zM331.2 318.2h2v2h-2zM185.8 320.2h9.7v1.9h-9.7zM244 320.2h15.5v1.9h-15.5zM185.8 322.1h11.7v1.9h-11.7zM244 322.1h17.4v1.9h-17.4zM185.8 324h13.6v2h-13.6zM242.1 324h21.3v2h-21.3zM185.8 326h15.5v1.9h-15.5zM240.1 326h25.2v1.9h-25.2zM185.8 327.9h17.5v1.9h-17.5zM240.1 327.9h27.2v1.9h-27.2zM185.8 329.8h19.4v2h-19.4zM236.2 329.8h33v2h-33zM185.8 331.8h23.3v1.9h-23.3zM234.3 331.8h36.8v1.9h-36.8zM185.8 333.7h27.2v2h-27.2zM228.5 333.7h46.5v2h-46.5zM185.8 335.7h91.1v1.9h-91.1zM185.8 337.6h95v1.9h-95zM185.8 339.5h97v2h-97z"/><path fill="#471164" d="M197.5 196.2h1.9v1.9h-1.9zM203.3 196.2h1.9v1.9h-1.9zM207.2 198.1h1.9v1.9h-1.9zM209.1 200h3.9v2h-3.9zM197.5 202h1.9v1.9h-1.9zM213 202h1.9v1.9h-1.9zM199.4 203.9h3.9v2h-3.9zM216.8 203.9h2v2h-2zM203.3 205.9h1.9v1.9h-1.9zM218.8 205.9h3.9v1.9h-3.9zM207.2 207.8h1.9v1.9h-1.9zM222.7 207.8h1.9v1.9h-1.9zM211 209.7h2v2h-2zM226.5 209.7h2v2h-2zM214.9 211.7h1.9v1.9h-1.9zM228.5 211.7h1.9v1.9h-1.9zM218.8 213.6h1.9v1.9h-1.9zM232.4 213.6h1.9v1.9h-1.9zM222.7 215.5h1.9v2h-1.9zM234.3 215.5h1.9v2h-1.9zM226.5 217.5h2v1.9h-2zM238.2 217.5h1.9v1.9h-1.9zM230.4 219.4h2v2h-2zM240.1 219.4h2v2h-2zM234.3 221.4h1.9v1.9h-1.9zM242.1 221.4h1.9v1.9h-1.9zM238.2 223.3h1.9v1.9h-1.9zM245.9 223.3h2v1.9h-2zM247.9 225.2h1.9v2h-1.9zM247.9 227.2h3.8v1.9h-3.8zM302.2 258.2h3.8v1.9h-3.8zM309.9 260.1h1.9v1.9h-1.9zM306 262h2v2h-2zM313.8 262h3.9v2h-3.9zM197.5 264h9.7v1.9h-9.7zM308 264h1.9v1.9h-1.9zM317.7 264h3.8v1.9h-3.8zM197.5 265.9h1.9v1.9h-1.9zM213 265.9h1.9v1.9h-1.9zM304.1 265.9h1.9v1.9h-1.9zM319.6 265.9h1.9v1.9h-1.9zM197.5 267.8h1.9v2h-1.9zM213 267.8h1.9v2h-1.9zM304.1 267.8h1.9v2h-1.9zM319.6 267.8h1.9v2h-1.9zM197.5 269.8h3.8v1.9h-3.8zM209.1 269.8h1.9v1.9h-1.9zM311.8 269.8h9.7v1.9h-9.7zM201.3 271.7h3.9v2h-3.9zM211 271.7h2v2h-2zM207.2 273.7h1.9v1.9h-1.9zM213 275.6h3.8v1.9h-3.8zM267.3 306.6h3.8v1.9h-3.8zM269.2 308.5h1.9v2h-1.9zM271.1 310.5h2v1.9h-2zM278.9 310.5h1.9v1.9h-1.9zM275 312.4h1.9v1.9h-1.9zM282.8 312.4h1.9v1.9h-1.9zM276.9 314.3h2v2h-2zM286.6 314.3h2v2h-2zM278.9 316.3h1.9v1.9h-1.9zM290.5 316.3h2v1.9h-2zM282.8 318.2h1.9v2h-1.9zM294.4 318.2h1.9v2h-1.9zM284.7 320.2h1.9v1.9h-1.9zM298.3 320.2h1.9v1.9h-1.9zM288.6 322.1h1.9v1.9h-1.9zM302.2 322.1h1.9v1.9h-1.9zM290.5 324h2v2h-2zM306 324h2v2h-2zM294.4 326h1.9v1.9h-1.9zM309.9 326h1.9v1.9h-1.9zM296.3 327.9h3.9v1.9h-3.9zM313.8 327.9h1.9v1.9h-1.9zM300.2 329.8h2v2h-2zM315.7 329.8h3.9v2h-3.9zM304.1 331.8h1.9v1.9h-1.9zM319.6 331.8h1.9v1.9h-1.9zM306 333.7h3.9v2h-3.9zM309.9 335.7h1.9v1.9h-1.9zM313.8 337.6h1.9v1.9h-1.9zM319.6 337.6h1.9v1.9h-1.9z"/><path fill="#471063" d="M199.4 196.2h3.9v1.9h-3.9zM197.5 198.1h1.9v1.9h-1.9zM205.2 198.1h2v1.9h-2zM197.5 200h1.9v2h-1.9zM207.2 200h1.9v2h-1.9zM199.4 202h1.9v1.9h-1.9zM211 202h2v1.9h-2zM203.3 203.9h1.9v2h-1.9zM214.9 203.9h1.9v2h-1.9zM205.2 205.9h3.9v1.9h-3.9zM216.8 205.9h2v1.9h-2zM209.1 207.8h1.9v1.9h-1.9zM220.7 207.8h2v1.9h-2zM213 209.7h1.9v2h-1.9zM224.6 209.7h1.9v2h-1.9zM216.8 211.7h2v1.9h-2zM226.5 211.7h2v1.9h-2zM220.7 213.6h2v1.9h-2zM230.4 213.6h2v1.9h-2zM224.6 215.5h1.9v2h-1.9zM232.4 215.5h1.9v2h-1.9zM228.5 217.5h1.9v1.9h-1.9zM236.2 217.5h2v1.9h-2zM232.4 219.4h1.9v2h-1.9zM238.2 219.4h1.9v2h-1.9zM236.2 221.4h2v1.9h-2zM240.1 223.3h2v1.9h-2zM244 223.3h1.9v1.9h-1.9zM244 225.2h3.9v2h-3.9zM304.1 260.1h5.8v1.9h-5.8zM311.8 262h2v2h-2zM315.7 264h2v1.9h-2zM209.1 265.9h3.9v1.9h-3.9zM306 265.9h3.9v1.9h-3.9zM209.1 267.8h3.9v2h-3.9zM306 267.8h3.9v2h-3.9zM201.3 269.8h2v1.9h-2zM205.2 271.7h2v2h-2zM209.1 273.7h5.8v1.9h-5.8zM271.1 308.5h3.9v2h-3.9zM273.1 310.5h1.9v1.9h-1.9zM276.9 310.5h2v1.9h-2zM280.8 312.4h2v1.9h-2zM278.9 314.3h1.9v2h-1.9zM284.7 314.3h1.9v2h-1.9zM280.8 316.3h2v1.9h-2zM288.6 316.3h1.9v1.9h-1.9zM284.7 318.2h1.9v2h-1.9zM292.5 318.2h1.9v2h-1.9zM286.6 320.2h2v1.9h-2zM296.3 320.2h2v1.9h-2zM290.5 322.1h2v1.9h-2zM300.2 322.1h2v1.9h-2zM292.5 324h1.9v2h-1.9zM304.1 324h1.9v2h-1.9zM296.3 326h2v1.9h-2zM308 326h1.9v1.9h-1.9zM300.2 327.9h2v1.9h-2zM309.9 327.9h3.9v1.9h-3.9zM302.2 329.8h1.9v2h-1.9zM313.8 329.8h1.9v2h-1.9zM306 331.8h2v1.9h-2zM317.7 331.8h1.9v1.9h-1.9zM309.9 333.7h1.9v2h-1.9zM319.6 333.7h1.9v2h-1.9zM311.8 335.7h2v1.9h-2zM319.6 335.7h1.9v1.9h-1.9zM315.7 337.6h3.9v1.9h-3.9z"/><path fill="#460b5e" d="M199.4 198.1h3.9v1.9h-3.9zM199.4 200h1.9v2h-1.9zM203.3 202h1.9v1.9h-1.9zM207.2 202h1.9v1.9h-1.9zM207.2 203.9h1.9v2h-1.9zM211 203.9h2v2h-2zM209.1 205.9h1.9v1.9h-1.9zM213 207.8h1.9v1.9h-1.9zM216.8 207.8h2v1.9h-2zM216.8 209.7h2v2h-2zM220.7 209.7h2v2h-2zM220.7 211.7h3.9v1.9h-3.9zM224.6 213.6h3.9v1.9h-3.9zM228.5 215.5h1.9v2h-1.9zM232.4 217.5h1.9v1.9h-1.9zM311.8 264h2v1.9h-2zM313.8 265.9h3.9v1.9h-3.9zM201.3 267.8h3.9v2h-3.9zM205.2 269.8h2v1.9h-2zM284.7 316.3h1.9v1.9h-1.9zM288.6 318.2h1.9v2h-1.9zM290.5 320.2h3.9v1.9h-3.9zM294.4 322.1h3.9v1.9h-3.9zM296.3 324h2v2h-2zM300.2 324h2v2h-2zM300.2 326h2v1.9h-2zM304.1 326h1.9v1.9h-1.9zM308 327.9h1.9v1.9h-1.9zM306 329.8h2v2h-2zM309.9 329.8h1.9v2h-1.9zM309.9 331.8h1.9v1.9h-1.9zM313.8 331.8h1.9v1.9h-1.9zM317.7 333.7h1.9v2h-1.9zM315.7 335.7h3.9v1.9h-3.9z"/><path fill="#470d60" d="M203.3 198.1h1.9v1.9h-1.9zM205.2 200h2v2h-2zM201.3 202h2v1.9h-2zM209.1 202h1.9v1.9h-1.9zM205.2 203.9h2v2h-2zM213 203.9h1.9v2h-1.9zM214.9 205.9h1.9v1.9h-1.9zM211 207.8h2v1.9h-2zM218.8 207.8h1.9v1.9h-1.9zM214.9 209.7h1.9v2h-1.9zM222.7 209.7h1.9v2h-1.9zM218.8 211.7h1.9v1.9h-1.9zM224.6 211.7h1.9v1.9h-1.9zM222.7 213.6h1.9v1.9h-1.9zM228.5 213.6h1.9v1.9h-1.9zM226.5 215.5h2v2h-2zM230.4 215.5h2v2h-2zM230.4 217.5h2v1.9h-2zM234.3 217.5h1.9v1.9h-1.9zM234.3 219.4h3.9v2h-3.9zM238.2 221.4h3.9v1.9h-3.9zM242.1 223.3h1.9v1.9h-1.9zM308 262h3.8v2h-3.8zM309.9 264h1.9v1.9h-1.9zM313.8 264h1.9v1.9h-1.9zM199.4 265.9h9.7v1.9h-9.7zM309.9 265.9h3.9v1.9h-3.9zM317.7 265.9h1.9v1.9h-1.9zM199.4 267.8h1.9v2h-1.9zM205.2 267.8h3.9v2h-3.9zM309.9 267.8h9.7v2h-9.7zM203.3 269.8h1.9v1.9h-1.9zM207.2 269.8h1.9v1.9h-1.9zM207.2 271.7h3.8v2h-3.8zM275 310.5h1.9v1.9h-1.9zM276.9 312.4h3.9v1.9h-3.9zM280.8 314.3h3.9v2h-3.9zM282.8 316.3h1.9v1.9h-1.9zM286.6 316.3h2v1.9h-2zM286.6 318.2h2v2h-2zM290.5 318.2h2v2h-2zM288.6 320.2h1.9v1.9h-1.9zM294.4 320.2h1.9v1.9h-1.9zM292.5 322.1h1.9v1.9h-1.9zM298.3 322.1h1.9v1.9h-1.9zM294.4 324h1.9v2h-1.9zM302.2 324h1.9v2h-1.9zM298.3 326h1.9v1.9h-1.9zM306 326h2v1.9h-2zM302.2 327.9h1.9v1.9h-1.9zM304.1 329.8h1.9v2h-1.9zM311.8 329.8h2v2h-2zM308 331.8h1.9v1.9h-1.9zM315.7 331.8h2v1.9h-2zM311.8 333.7h2v2h-2zM313.8 335.7h1.9v1.9h-1.9z"/><path fill="#460a5d" d="M201.3 200h3.9v2h-3.9zM205.2 202h2v1.9h-2zM209.1 203.9h1.9v2h-1.9zM211 205.9h3.9v1.9h-3.9zM214.9 207.8h1.9v1.9h-1.9zM218.8 209.7h1.9v2h-1.9zM298.3 324h1.9v2h-1.9zM302.2 326h1.9v1.9h-1.9zM304.1 327.9h3.9v1.9h-3.9zM308 329.8h1.9v2h-1.9zM311.8 331.8h2v1.9h-2zM313.8 333.7h3.9v2h-3.9z"/><path fill="#481f70" d="M290.5 200h15.5v2h-15.5zM284.7 202h25.2v1.9h-25.2zM282.8 203.9h31v2h-31zM278.9 205.9h36.8v1.9h-36.8zM278.9 207.8h38.8v1.9h-38.8zM276.9 209.7h42.7v2h-42.7zM275 211.7h46.5v1.9h-46.5zM275 213.6h48.5v1.9h-48.5zM273.1 215.5h50.4v2h-50.4zM273.1 217.5h52.3v1.9h-52.3zM271.1 219.4h17.5v2h-17.5zM298.3 219.4h27.1v2h-27.1zM271.1 221.4h11.7v1.9h-11.7zM302.2 221.4h23.2v1.9h-23.2zM269.2 223.3h9.7v1.9h-9.7zM304.1 223.3h21.3v1.9h-21.3zM269.2 225.2h5.8v2h-5.8zM306 225.2h19.4v2h-19.4zM209.1 227.2h21.3v1.9h-21.3zM269.2 227.2h3.9v1.9h-3.9zM308 227.2h17.4v1.9h-17.4zM203.3 229.1h11.6v1.9h-11.6zM234.3 229.1h3.9v1.9h-3.9zM267.3 229.1h3.8v1.9h-3.8zM308 229.1h17.4v1.9h-17.4zM199.4 231h11.6v2h-11.6zM242.1 231h1.9v2h-1.9zM267.3 231h3.8v2h-3.8zM309.9 231h13.6v2h-13.6zM195.5 233h13.6v1.9h-13.6zM249.8 233h1.9v1.9h-1.9zM267.3 233h1.9v1.9h-1.9zM309.9 233h13.6v1.9h-13.6zM195.5 234.9h11.7v2h-11.7zM257.6 234.9h1.9v2h-1.9zM267.3 234.9h1.9v2h-1.9zM309.9 234.9h11.6v2h-11.6zM197.5 236.9h9.7v1.9h-9.7zM265.3 236.9h2v1.9h-2zM308 236.9h11.6v1.9h-11.6zM197.5 238.8h9.7v1.9h-9.7zM308 238.8h9.7v1.9h-9.7zM199.4 240.7h7.8v2h-7.8zM306 240.7h7.8v2h-7.8zM201.3 242.7h7.8v1.9h-7.8zM306 242.7h5.8v1.9h-5.8zM203.3 244.6h5.8v1.9h-5.8zM304.1 244.6h3.9v1.9h-3.9zM205.2 246.5h5.8v2h-5.8zM302.2 246.5h1.9v2h-1.9zM207.2 248.5h3.8v1.9h-3.8zM298.3 248.5h3.9v1.9h-3.9zM209.1 250.4h3.9v2h-3.9zM296.3 250.4h2v2h-2zM211 252.4h2v1.9h-2zM213 254.3h1.9v1.9h-1.9zM214.9 256.2h1.9v2h-1.9zM294.4 256.2h1.9v2h-1.9zM216.8 258.2h2v1.9h-2zM296.3 260.1h2v1.9h-2zM220.7 273.7h2v1.9h-2zM300.2 275.6h2v1.9h-2zM222.7 277.5h1.9v2h-1.9zM302.2 277.5h1.9v2h-1.9zM304.1 279.5h1.9v1.9h-1.9zM306 281.4h2v1.9h-2zM220.7 283.3h2v2h-2zM306 283.3h3.9v2h-3.9zM216.8 285.3h3.9v1.9h-3.9zM308 285.3h3.8v1.9h-3.8zM214.9 287.2h1.9v2h-1.9zM308 287.2h5.8v2h-5.8zM211 289.2h3.9v1.9h-3.9zM309.9 289.2h5.8v1.9h-5.8zM207.2 291.1h5.8v1.9h-5.8zM309.9 291.1h7.8v1.9h-7.8zM205.2 293h7.8v2h-7.8zM311.8 293h7.8v2h-7.8zM201.3 295h9.7v1.9h-9.7zM311.8 295h9.7v1.9h-9.7zM199.4 296.9h11.6v1.9h-11.6zM251.7 296.9h2v1.9h-2zM311.8 296.9h9.7v1.9h-9.7zM197.5 298.8h11.6v2h-11.6zM249.8 298.8h1.9v2h-1.9zM259.5 298.8h1.9v2h-1.9zM311.8 298.8h11.7v2h-11.7zM195.5 300.8h13.6v1.9h-13.6zM249.8 300.8h1.9v1.9h-1.9zM267.3 300.8h1.9v1.9h-1.9zM309.9 300.8h13.6v1.9h-13.6zM195.5 302.7h13.6v2h-13.6zM247.9 302.7h3.8v2h-3.8zM275 302.7h1.9v2h-1.9zM308 302.7h11.6v2h-11.6zM193.6 304.7h17.4v1.9h-17.4zM247.9 304.7h3.8v1.9h-3.8zM280.8 304.7h3.9v1.9h-3.9zM304.1 304.7h11.6v1.9h-11.6zM193.6 306.6h17.4v1.9h-17.4zM245.9 306.6h3.9v1.9h-3.9zM288.6 306.6h21.3v1.9h-21.3zM193.6 308.5h19.4v2h-19.4zM244 308.5h5.8v2h-5.8zM193.6 310.5h21.3v1.9h-21.3zM240.1 310.5h9.7v1.9h-9.7zM193.6 312.4h23.2v1.9h-23.2zM236.2 312.4h11.7v1.9h-11.7zM193.6 314.3h27.1v2h-27.1zM230.4 314.3h17.5v2h-17.5zM193.6 316.3h52.3v1.9h-52.3zM195.5 318.2h50.4v2h-50.4zM195.5 320.2h48.5v1.9h-48.5zM197.5 322.1h46.5v1.9h-46.5zM199.4 324h42.7v2h-42.7zM201.3 326h38.8v1.9h-38.8zM203.3 327.9h36.8v1.9h-36.8zM205.2 329.8h31v2h-31zM209.1 331.8h25.2v1.9h-25.2zM213 333.7h15.5v2h-15.5z"/><path fill="#482173" d="M288.6 219.4h9.7v2h-9.7zM282.8 221.4h19.4v1.9h-19.4zM278.9 223.3h25.2v1.9h-25.2zM275 225.2h11.6v2h-11.6zM298.3 225.2h7.7v2h-7.7zM273.1 227.2h7.7v1.9h-7.7zM300.2 227.2h7.8v1.9h-7.8zM214.9 229.1h7.8v1.9h-7.8zM228.5 229.1h5.8v1.9h-5.8zM271.1 229.1h5.8v1.9h-5.8zM302.2 229.1h5.8v1.9h-5.8zM211 231h5.8v2h-5.8zM238.2 231h3.9v2h-3.9zM271.1 231h3.9v2h-3.9zM304.1 231h5.8v2h-5.8zM209.1 233h5.8v1.9h-5.8zM247.9 233h1.9v1.9h-1.9zM269.2 233h1.9v1.9h-1.9zM304.1 233h5.8v1.9h-5.8zM207.2 234.9h5.8v2h-5.8zM255.6 234.9h2v2h-2zM269.2 234.9h1.9v2h-1.9zM304.1 234.9h5.8v2h-5.8zM207.2 236.9h5.8v1.9h-5.8zM263.4 236.9h1.9v1.9h-1.9zM267.3 236.9h1.9v1.9h-1.9zM304.1 236.9h3.9v1.9h-3.9zM207.2 238.8h3.8v1.9h-3.8zM304.1 238.8h3.9v1.9h-3.9zM207.2 240.7h3.8v2h-3.8zM304.1 240.7h1.9v2h-1.9zM209.1 242.7h3.9v1.9h-3.9zM302.2 242.7h3.8v1.9h-3.8zM209.1 244.6h3.9v1.9h-3.9zM300.2 244.6h3.9v1.9h-3.9zM211 246.5h2v2h-2zM298.3 246.5h3.9v2h-3.9zM211 248.5h3.9v1.9h-3.9zM296.3 248.5h2v1.9h-2zM213 250.4h1.9v2h-1.9zM294.4 250.4h1.9v2h-1.9zM213 252.4h3.8v1.9h-3.8zM292.5 252.4h1.9v1.9h-1.9zM214.9 254.3h1.9v1.9h-1.9zM216.8 256.2h2v2h-2zM218.8 260.1h1.9v1.9h-1.9zM220.7 262h2v2h-2zM296.3 262h2v2h-2zM222.7 264h1.9v1.9h-1.9zM294.4 264h1.9v1.9h-1.9zM222.7 269.8h1.9v1.9h-1.9zM294.4 269.8h1.9v1.9h-1.9zM220.7 271.7h2v2h-2zM296.3 271.7h2v2h-2zM298.3 273.7h1.9v1.9h-1.9zM300.2 277.5h2v2h-2zM302.2 279.5h1.9v1.9h-1.9zM224.6 281.4h1.9v1.9h-1.9zM302.2 281.4h3.8v1.9h-3.8zM222.7 283.3h1.9v2h-1.9zM304.1 283.3h1.9v2h-1.9zM220.7 285.3h2v1.9h-2zM304.1 285.3h3.9v1.9h-3.9zM216.8 287.2h3.9v2h-3.9zM306 287.2h2v2h-2zM214.9 289.2h3.9v1.9h-3.9zM306 289.2h3.9v1.9h-3.9zM213 291.1h3.8v1.9h-3.8zM306 291.1h3.9v1.9h-3.9zM213 293h1.9v2h-1.9zM308 293h3.8v2h-3.8zM211 295h3.9v1.9h-3.9zM308 295h3.8v1.9h-3.8zM211 296.9h3.9v1.9h-3.9zM249.8 296.9h1.9v1.9h-1.9zM253.7 296.9h1.9v1.9h-1.9zM306 296.9h5.8v1.9h-5.8zM209.1 298.8h5.8v2h-5.8zM247.9 298.8h1.9v2h-1.9zM261.4 298.8h2v2h-2zM306 298.8h5.8v2h-5.8zM209.1 300.8h5.8v1.9h-5.8zM247.9 300.8h1.9v1.9h-1.9zM269.2 300.8h1.9v1.9h-1.9zM304.1 300.8h5.8v1.9h-5.8zM209.1 302.7h5.8v2h-5.8zM244 302.7h3.9v2h-3.9zM276.9 302.7h3.9v2h-3.9zM302.2 302.7h5.8v2h-5.8zM211 304.7h5.8v1.9h-5.8zM242.1 304.7h5.8v1.9h-5.8zM284.7 304.7h5.8v1.9h-5.8zM296.3 304.7h7.8v1.9h-7.8zM211 306.6h7.8v1.9h-7.8zM238.2 306.6h7.7v1.9h-7.7zM213 308.5h7.7v2h-7.7zM232.4 308.5h11.6v2h-11.6zM214.9 310.5h25.2v1.9h-25.2zM216.8 312.4h19.4v1.9h-19.4zM220.7 314.3h9.7v2h-9.7z"/><path fill="#482374" d="M286.6 225.2h11.7v2h-11.7zM280.8 227.2h19.4v1.9h-19.4zM222.7 229.1h5.8v1.9h-5.8zM276.9 229.1h7.8v1.9h-7.8zM298.3 229.1h3.9v1.9h-3.9zM216.8 231h3.9v2h-3.9zM234.3 231h3.9v2h-3.9zM275 231h3.9v2h-3.9zM300.2 231h3.9v2h-3.9zM214.9 233h3.9v1.9h-3.9zM244 233h3.9v1.9h-3.9zM271.1 233h3.9v1.9h-3.9zM300.2 233h3.9v1.9h-3.9zM213 234.9h3.8v2h-3.8zM253.7 234.9h1.9v2h-1.9zM271.1 234.9h2v2h-2zM302.2 234.9h1.9v2h-1.9zM213 236.9h1.9v1.9h-1.9zM261.4 236.9h2v1.9h-2zM269.2 236.9h1.9v1.9h-1.9zM302.2 236.9h1.9v1.9h-1.9zM211 238.8h3.9v1.9h-3.9zM302.2 238.8h1.9v1.9h-1.9zM211 240.7h3.9v2h-3.9zM300.2 240.7h3.9v2h-3.9zM213 242.7h1.9v1.9h-1.9zM300.2 242.7h2v1.9h-2zM213 244.6h1.9v1.9h-1.9zM298.3 244.6h1.9v1.9h-1.9zM213 246.5h3.8v2h-3.8zM296.3 246.5h2v2h-2zM214.9 248.5h1.9v1.9h-1.9zM214.9 250.4h1.9v2h-1.9zM216.8 252.4h2v1.9h-2zM216.8 254.3h2v1.9h-2zM292.5 254.3h1.9v1.9h-1.9zM218.8 256.2h1.9v2h-1.9zM218.8 258.2h1.9v1.9h-1.9zM294.4 258.2h1.9v1.9h-1.9zM220.7 260.1h2v1.9h-2zM224.6 265.9h1.9v1.9h-1.9zM292.5 265.9h1.9v1.9h-1.9zM224.6 267.8h1.9v2h-1.9zM292.5 267.8h1.9v2h-1.9zM296.3 273.7h2v1.9h-2zM222.7 275.6h1.9v1.9h-1.9zM298.3 275.6h1.9v1.9h-1.9zM298.3 277.5h1.9v2h-1.9zM224.6 279.5h1.9v1.9h-1.9zM300.2 279.5h2v1.9h-2zM300.2 281.4h2v1.9h-2zM302.2 283.3h1.9v2h-1.9zM302.2 285.3h1.9v1.9h-1.9zM220.7 287.2h2v2h-2zM302.2 287.2h3.8v2h-3.8zM218.8 289.2h1.9v1.9h-1.9zM304.1 289.2h1.9v1.9h-1.9zM216.8 291.1h2v1.9h-2zM304.1 291.1h1.9v1.9h-1.9zM214.9 293h3.9v2h-3.9zM304.1 293h3.9v2h-3.9zM214.9 295h1.9v1.9h-1.9zM304.1 295h3.9v1.9h-3.9zM214.9 296.9h1.9v1.9h-1.9zM247.9 296.9h1.9v1.9h-1.9zM255.6 296.9h2v1.9h-2zM304.1 296.9h1.9v1.9h-1.9zM214.9 298.8h1.9v2h-1.9zM245.9 298.8h2v2h-2zM263.4 298.8h1.9v2h-1.9zM302.2 298.8h3.8v2h-3.8zM214.9 300.8h3.9v1.9h-3.9zM244 300.8h3.9v1.9h-3.9zM271.1 300.8h3.9v1.9h-3.9zM300.2 300.8h3.9v1.9h-3.9zM214.9 302.7h3.9v2h-3.9zM240.1 302.7h3.9v2h-3.9zM280.8 302.7h3.9v2h-3.9zM298.3 302.7h3.9v2h-3.9zM216.8 304.7h3.9v1.9h-3.9zM234.3 304.7h7.8v1.9h-7.8zM290.5 304.7h5.8v1.9h-5.8zM218.8 306.6h19.4v1.9h-19.4zM220.7 308.5h11.7v2h-11.7z"/><path fill="#482475" d="M284.7 229.1h13.6v1.9h-13.6zM220.7 231h13.6v2h-13.6zM278.9 231h5.8v2h-5.8zM296.3 231h3.9v2h-3.9zM218.8 233h1.9v1.9h-1.9zM240.1 233h3.9v1.9h-3.9zM275 233h3.9v1.9h-3.9zM298.3 233h1.9v1.9h-1.9zM216.8 234.9h2v2h-2zM249.8 234.9h3.9v2h-3.9zM273.1 234.9h1.9v2h-1.9zM300.2 234.9h2v2h-2zM214.9 236.9h1.9v1.9h-1.9zM259.5 236.9h1.9v1.9h-1.9zM271.1 236.9h2v1.9h-2zM300.2 236.9h2v1.9h-2zM214.9 238.8h1.9v1.9h-1.9zM269.2 238.8h1.9v1.9h-1.9zM300.2 238.8h2v1.9h-2zM214.9 240.7h1.9v2h-1.9zM298.3 240.7h1.9v2h-1.9zM214.9 242.7h1.9v1.9h-1.9zM298.3 242.7h1.9v1.9h-1.9zM214.9 244.6h1.9v1.9h-1.9zM296.3 244.6h2v1.9h-2zM216.8 248.5h2v1.9h-2zM294.4 248.5h1.9v1.9h-1.9zM216.8 250.4h2v2h-2zM292.5 250.4h1.9v2h-1.9zM218.8 254.3h1.9v1.9h-1.9zM220.7 258.2h2v1.9h-2zM294.4 260.1h1.9v1.9h-1.9zM222.7 262h1.9v2h-1.9zM294.4 262h1.9v2h-1.9zM222.7 271.7h1.9v2h-1.9zM294.4 271.7h1.9v2h-1.9zM222.7 273.7h1.9v1.9h-1.9zM296.3 275.6h2v1.9h-2zM298.3 279.5h1.9v1.9h-1.9zM224.6 283.3h1.9v2h-1.9zM300.2 283.3h2v2h-2zM222.7 285.3h1.9v1.9h-1.9zM300.2 285.3h2v1.9h-2zM220.7 289.2h2v1.9h-2zM302.2 289.2h1.9v1.9h-1.9zM218.8 291.1h1.9v1.9h-1.9zM302.2 291.1h1.9v1.9h-1.9zM218.8 293h1.9v2h-1.9zM302.2 293h1.9v2h-1.9zM216.8 295h2v1.9h-2zM247.9 295h1.9v1.9h-1.9zM302.2 295h1.9v1.9h-1.9zM216.8 296.9h2v1.9h-2zM245.9 296.9h2v1.9h-2zM257.6 296.9h1.9v1.9h-1.9zM302.2 296.9h1.9v1.9h-1.9zM216.8 298.8h2v2h-2zM244 298.8h1.9v2h-1.9zM265.3 298.8h3.9v2h-3.9zM300.2 298.8h2v2h-2zM218.8 300.8h1.9v1.9h-1.9zM240.1 300.8h3.9v1.9h-3.9zM275 300.8h3.9v1.9h-3.9zM298.3 300.8h1.9v1.9h-1.9zM218.8 302.7h3.9v2h-3.9zM234.3 302.7h5.8v2h-5.8zM284.7 302.7h13.6v2h-13.6zM220.7 304.7h13.6v1.9h-13.6z"/><path fill="#482576" d="M284.7 231h11.6v2h-11.6zM220.7 233h2v1.9h-2zM234.3 233h5.8v1.9h-5.8zM278.9 233h5.8v1.9h-5.8zM296.3 233h2v1.9h-2zM218.8 234.9h1.9v2h-1.9zM245.9 234.9h3.9v2h-3.9zM275 234.9h3.9v2h-3.9zM298.3 234.9h1.9v2h-1.9zM216.8 236.9h2v1.9h-2zM257.6 236.9h1.9v1.9h-1.9zM273.1 236.9h1.9v1.9h-1.9zM298.3 236.9h1.9v1.9h-1.9zM216.8 238.8h2v1.9h-2zM267.3 238.8h1.9v1.9h-1.9zM271.1 238.8h2v1.9h-2zM298.3 238.8h1.9v1.9h-1.9zM216.8 240.7h2v2h-2zM216.8 242.7h2v1.9h-2zM296.3 242.7h2v1.9h-2zM216.8 244.6h2v1.9h-2zM216.8 246.5h2v2h-2zM294.4 246.5h1.9v2h-1.9zM292.5 248.5h1.9v1.9h-1.9zM218.8 250.4h1.9v2h-1.9zM218.8 252.4h1.9v1.9h-1.9zM290.5 252.4h2v1.9h-2zM220.7 256.2h2v2h-2zM292.5 256.2h1.9v2h-1.9zM222.7 260.1h1.9v1.9h-1.9zM224.6 264h1.9v1.9h-1.9zM292.5 264h1.9v1.9h-1.9zM224.6 269.8h1.9v1.9h-1.9zM292.5 269.8h1.9v1.9h-1.9zM294.4 273.7h1.9v1.9h-1.9zM224.6 277.5h1.9v2h-1.9zM296.3 277.5h2v2h-2zM226.5 281.4h2v1.9h-2zM298.3 281.4h1.9v1.9h-1.9zM298.3 283.3h1.9v2h-1.9zM224.6 285.3h1.9v1.9h-1.9zM222.7 287.2h1.9v2h-1.9zM300.2 287.2h2v2h-2zM300.2 289.2h2v1.9h-2zM220.7 291.1h2v1.9h-2zM300.2 291.1h2v1.9h-2zM300.2 293h2v2h-2zM218.8 295h1.9v1.9h-1.9zM245.9 295h2v1.9h-2zM249.8 295h1.9v1.9h-1.9zM300.2 295h2v1.9h-2zM218.8 296.9h1.9v1.9h-1.9zM244 296.9h1.9v1.9h-1.9zM259.5 296.9h1.9v1.9h-1.9zM300.2 296.9h2v1.9h-2zM218.8 298.8h1.9v2h-1.9zM240.1 298.8h3.9v2h-3.9zM269.2 298.8h3.9v2h-3.9zM298.3 298.8h1.9v2h-1.9zM220.7 300.8h2v1.9h-2zM234.3 300.8h5.8v1.9h-5.8zM278.9 300.8h5.8v1.9h-5.8zM296.3 300.8h2v1.9h-2zM222.7 302.7h11.6v2h-11.6z"/><path fill="#482878" d="M222.7 233h11.6v1.9h-11.6zM284.7 233h11.6v1.9h-11.6zM220.7 234.9h2v2h-2zM242.1 234.9h3.8v2h-3.8zM278.9 234.9h3.9v2h-3.9zM296.3 234.9h2v2h-2zM218.8 236.9h1.9v1.9h-1.9zM255.6 236.9h2v1.9h-2zM275 236.9h1.9v1.9h-1.9zM296.3 236.9h2v1.9h-2zM218.8 238.8h1.9v1.9h-1.9zM265.3 238.8h2v1.9h-2zM296.3 238.8h2v1.9h-2zM218.8 240.7h1.9v2h-1.9zM296.3 240.7h2v2h-2zM218.8 242.7h1.9v1.9h-1.9zM218.8 244.6h1.9v1.9h-1.9zM294.4 244.6h1.9v1.9h-1.9zM218.8 246.5h1.9v2h-1.9zM218.8 248.5h1.9v1.9h-1.9zM290.5 250.4h2v2h-2zM220.7 252.4h2v1.9h-2zM220.7 254.3h2v1.9h-2zM222.7 258.2h1.9v1.9h-1.9zM292.5 258.2h1.9v1.9h-1.9zM224.6 262h1.9v2h-1.9zM292.5 262h1.9v2h-1.9zM226.5 265.9h2v1.9h-2zM290.5 265.9h2v1.9h-2zM226.5 267.8h2v2h-2zM290.5 267.8h2v2h-2zM224.6 271.7h1.9v2h-1.9zM292.5 271.7h1.9v2h-1.9zM224.6 275.6h1.9v1.9h-1.9zM294.4 275.6h1.9v1.9h-1.9zM296.3 279.5h2v1.9h-2zM296.3 281.4h2v1.9h-2zM226.5 283.3h2v2h-2zM298.3 285.3h1.9v1.9h-1.9zM298.3 287.2h1.9v2h-1.9zM222.7 289.2h1.9v1.9h-1.9zM298.3 289.2h1.9v1.9h-1.9zM298.3 291.1h1.9v1.9h-1.9zM220.7 293h2v2h-2zM298.3 293h1.9v2h-1.9zM220.7 295h2v1.9h-2zM251.7 295h2v1.9h-2zM298.3 295h1.9v1.9h-1.9zM220.7 296.9h2v1.9h-2zM242.1 296.9h1.9v1.9h-1.9zM261.4 296.9h2v1.9h-2zM298.3 296.9h1.9v1.9h-1.9zM220.7 298.8h2v2h-2zM236.2 298.8h3.9v2h-3.9zM273.1 298.8h3.8v2h-3.8zM296.3 298.8h2v2h-2zM222.7 300.8h11.6v1.9h-11.6zM284.7 300.8h11.6v1.9h-11.6z"/><path fill="#482979" d="M222.7 234.9h1.9v2h-1.9zM238.2 234.9h3.9v2h-3.9zM282.8 234.9h5.8v2h-5.8zM292.5 234.9h3.8v2h-3.8zM220.7 236.9h2v1.9h-2zM251.7 236.9h3.9v1.9h-3.9zM276.9 236.9h3.9v1.9h-3.9zM294.4 236.9h1.9v1.9h-1.9zM263.4 238.8h1.9v1.9h-1.9zM273.1 238.8h1.9v1.9h-1.9zM294.4 240.7h1.9v2h-1.9zM294.4 242.7h1.9v1.9h-1.9zM292.5 246.5h1.9v2h-1.9zM220.7 248.5h2v1.9h-2zM220.7 250.4h2v2h-2zM290.5 254.3h2v1.9h-2zM222.7 256.2h1.9v2h-1.9zM294.4 277.5h1.9v2h-1.9zM226.5 279.5h2v1.9h-2zM296.3 283.3h2v2h-2zM296.3 285.3h2v1.9h-2zM224.6 287.2h1.9v2h-1.9zM222.7 291.1h1.9v1.9h-1.9zM222.7 293h1.9v2h-1.9zM244 295h1.9v1.9h-1.9zM253.7 295h1.9v1.9h-1.9zM222.7 296.9h1.9v1.9h-1.9zM238.2 296.9h3.9v1.9h-3.9zM263.4 296.9h3.9v1.9h-3.9zM296.3 296.9h2v1.9h-2zM222.7 298.8h3.8v2h-3.8zM230.4 298.8h5.8v2h-5.8zM276.9 298.8h3.9v2h-3.9zM294.4 298.8h1.9v2h-1.9z"/><path fill="#472a7a" d="M224.6 234.9h1.9v2h-1.9zM230.4 234.9h7.8v2h-7.8zM288.6 234.9h3.9v2h-3.9zM247.9 236.9h3.8v1.9h-3.8zM280.8 236.9h3.9v1.9h-3.9zM220.7 238.8h2v1.9h-2zM261.4 238.8h2v1.9h-2zM275 238.8h3.9v1.9h-3.9zM294.4 238.8h1.9v1.9h-1.9zM220.7 240.7h2v2h-2zM220.7 242.7h2v1.9h-2zM220.7 244.6h2v1.9h-2zM292.5 244.6h1.9v1.9h-1.9zM220.7 246.5h2v2h-2zM290.5 248.5h2v1.9h-2zM222.7 252.4h1.9v1.9h-1.9zM222.7 254.3h1.9v1.9h-1.9zM224.6 260.1h1.9v1.9h-1.9zM292.5 260.1h1.9v1.9h-1.9zM226.5 264h2v1.9h-2zM290.5 264h2v1.9h-2zM226.5 269.8h2v1.9h-2zM290.5 269.8h2v1.9h-2zM224.6 273.7h1.9v1.9h-1.9zM292.5 273.7h1.9v1.9h-1.9zM294.4 279.5h1.9v1.9h-1.9zM294.4 281.4h1.9v1.9h-1.9zM226.5 285.3h2v1.9h-2zM296.3 287.2h2v2h-2zM224.6 289.2h1.9v1.9h-1.9zM296.3 289.2h2v1.9h-2zM296.3 291.1h2v1.9h-2zM296.3 293h2v2h-2zM222.7 295h1.9v1.9h-1.9zM240.1 295h3.9v1.9h-3.9zM255.6 295h2v1.9h-2zM296.3 295h2v1.9h-2zM234.3 296.9h3.9v1.9h-3.9zM267.3 296.9h3.8v1.9h-3.8zM226.5 298.8h3.9v2h-3.9zM280.8 298.8h7.8v2h-7.8zM292.5 298.8h1.9v2h-1.9z"/><path fill="#472d7b" d="M226.5 234.9h3.9v2h-3.9zM222.7 236.9h1.9v1.9h-1.9zM244 236.9h3.9v1.9h-3.9zM284.7 236.9h3.9v1.9h-3.9zM292.5 236.9h1.9v1.9h-1.9zM257.6 238.8h3.8v1.9h-3.8zM278.9 238.8h1.9v1.9h-1.9zM292.5 242.7h1.9v1.9h-1.9zM290.5 246.5h2v2h-2zM222.7 248.5h1.9v1.9h-1.9zM222.7 250.4h1.9v2h-1.9zM290.5 256.2h2v2h-2zM224.6 258.2h1.9v1.9h-1.9zM292.5 275.6h1.9v1.9h-1.9zM226.5 277.5h2v2h-2zM294.4 283.3h1.9v2h-1.9zM294.4 285.3h1.9v1.9h-1.9zM226.5 287.2h2v2h-2zM224.6 291.1h1.9v1.9h-1.9zM238.2 295h1.9v1.9h-1.9zM257.6 295h3.8v1.9h-3.8zM224.6 296.9h1.9v1.9h-1.9zM230.4 296.9h3.9v1.9h-3.9zM271.1 296.9h3.9v1.9h-3.9zM294.4 296.9h1.9v1.9h-1.9zM288.6 298.8h3.9v2h-3.9z"/><path fill="#472e7c" d="M224.6 236.9h1.9v1.9h-1.9zM236.2 236.9h7.8v1.9h-7.8zM288.6 236.9h3.9v1.9h-3.9zM222.7 238.8h1.9v1.9h-1.9zM255.6 238.8h2v1.9h-2zM280.8 238.8h2v1.9h-2zM292.5 238.8h1.9v1.9h-1.9zM222.7 240.7h1.9v2h-1.9zM292.5 240.7h1.9v2h-1.9zM222.7 242.7h1.9v1.9h-1.9zM222.7 244.6h1.9v1.9h-1.9zM222.7 246.5h1.9v2h-1.9zM224.6 254.3h1.9v1.9h-1.9zM224.6 256.2h1.9v2h-1.9zM290.5 258.2h2v1.9h-2zM226.5 262h2v2h-2zM290.5 262h2v2h-2zM226.5 271.7h2v2h-2zM290.5 271.7h2v2h-2zM226.5 275.6h2v1.9h-2zM292.5 277.5h1.9v2h-1.9zM292.5 279.5h1.9v1.9h-1.9zM294.4 287.2h1.9v2h-1.9zM294.4 289.2h1.9v1.9h-1.9zM294.4 291.1h1.9v1.9h-1.9zM224.6 293h1.9v2h-1.9zM294.4 293h1.9v2h-1.9zM224.6 295h1.9v1.9h-1.9zM236.2 295h2v1.9h-2zM261.4 295h2v1.9h-2zM294.4 295h1.9v1.9h-1.9zM226.5 296.9h3.9v1.9h-3.9zM275 296.9h7.8v1.9h-7.8zM292.5 296.9h1.9v1.9h-1.9z"/><path fill="#472f7d" d="M226.5 236.9h9.7v1.9h-9.7zM251.7 238.8h3.9v1.9h-3.9zM282.8 238.8h3.8v1.9h-3.8zM290.5 244.6h2v1.9h-2zM224.6 250.4h1.9v2h-1.9zM224.6 252.4h1.9v1.9h-1.9zM226.5 260.1h2v1.9h-2zM290.5 260.1h2v1.9h-2zM226.5 273.7h2v1.9h-2zM290.5 273.7h2v1.9h-2zM292.5 281.4h1.9v1.9h-1.9zM292.5 283.3h1.9v2h-1.9zM226.5 289.2h2v1.9h-2zM232.4 295h3.8v1.9h-3.8zM263.4 295h3.9v1.9h-3.9zM282.8 296.9h9.7v1.9h-9.7z"/><path fill="#46307e" d="M224.6 238.8h1.9v1.9h-1.9zM247.9 238.8h3.8v1.9h-3.8zM286.6 238.8h5.9v1.9h-5.9zM290.5 240.7h2v2h-2zM290.5 242.7h2v1.9h-2zM224.6 244.6h1.9v1.9h-1.9zM224.6 246.5h1.9v2h-1.9zM224.6 248.5h1.9v1.9h-1.9zM226.5 258.2h2v1.9h-2zM290.5 275.6h2v1.9h-2zM292.5 285.3h1.9v1.9h-1.9zM292.5 287.2h1.9v2h-1.9zM292.5 289.2h1.9v1.9h-1.9zM226.5 291.1h2v1.9h-2zM226.5 293h2v2h-2zM226.5 295h5.9v1.9h-5.9zM267.3 295h3.8v1.9h-3.8zM292.5 295h1.9v1.9h-1.9z"/><path fill="#463480" d="M226.5 238.8h2v1.9h-2zM230.4 238.8h9.7v1.9h-9.7zM228.5 240.7h62v2h-62zM228.5 242.7h62v1.9h-62zM228.5 244.6h3.9v1.9h-3.9zM286.6 244.6h3.9v1.9h-3.9zM228.5 246.5h3.9v2h-3.9zM286.6 246.5h3.9v2h-3.9zM228.5 248.5h3.9v1.9h-3.9zM286.6 248.5h3.9v1.9h-3.9zM228.5 250.4h3.9v2h-3.9zM286.6 250.4h3.9v2h-3.9zM226.5 252.4h5.9v1.9h-5.9zM286.6 252.4h3.9v1.9h-3.9zM226.5 254.3h5.9v1.9h-5.9zM286.6 254.3h3.9v1.9h-3.9zM228.5 256.2h3.9v2h-3.9zM286.6 256.2h3.9v2h-3.9zM228.5 258.2h3.9v1.9h-3.9zM286.6 258.2h3.9v1.9h-3.9zM228.5 260.1h3.9v1.9h-3.9zM286.6 260.1h3.9v1.9h-3.9zM228.5 262h3.9v2h-3.9zM286.6 262h3.9v2h-3.9zM228.5 264h3.9v1.9h-3.9zM286.6 264h3.9v1.9h-3.9zM228.5 265.9h3.9v1.9h-3.9zM286.6 265.9h3.9v1.9h-3.9zM228.5 267.8h3.9v2h-3.9zM286.6 267.8h3.9v2h-3.9zM228.5 269.8h3.9v1.9h-3.9zM286.6 269.8h3.9v1.9h-3.9zM228.5 271.7h3.9v2h-3.9zM286.6 271.7h3.9v2h-3.9zM228.5 273.7h3.9v1.9h-3.9zM286.6 273.7h3.9v1.9h-3.9zM228.5 275.6h3.9v1.9h-3.9zM286.6 275.6h3.9v1.9h-3.9zM228.5 277.5h3.9v2h-3.9zM286.6 277.5h3.9v2h-3.9zM228.5 279.5h3.9v1.9h-3.9zM286.6 279.5h5.9v1.9h-5.9zM228.5 281.4h3.9v1.9h-3.9zM286.6 281.4h5.9v1.9h-5.9zM228.5 283.3h3.9v2h-3.9zM286.6 283.3h3.9v2h-3.9zM228.5 285.3h3.9v1.9h-3.9zM286.6 285.3h3.9v1.9h-3.9zM228.5 287.2h3.9v2h-3.9zM286.6 287.2h3.9v2h-3.9zM228.5 289.2h3.9v1.9h-3.9zM286.6 289.2h3.9v1.9h-3.9zM228.5 291.1h62v1.9h-62zM228.5 293h62v2h-62zM278.9 295h9.7v1.9h-9.7zM290.5 295h2v1.9h-2z"/><path fill="#453581" d="M228.5 238.8h1.9v1.9h-1.9zM226.5 246.5h2v2h-2zM226.5 248.5h2v1.9h-2zM226.5 250.4h2v2h-2zM290.5 283.3h2v2h-2zM290.5 285.3h2v1.9h-2zM290.5 287.2h2v2h-2zM288.6 295h1.9v1.9h-1.9z"/><path fill="#46337f" d="M240.1 238.8h7.8v1.9h-7.8zM224.6 240.7h1.9v2h-1.9zM224.6 242.7h1.9v1.9h-1.9zM226.5 256.2h2v2h-2zM290.5 277.5h2v2h-2zM292.5 291.1h1.9v1.9h-1.9zM292.5 293h1.9v2h-1.9zM271.1 295h7.8v1.9h-7.8z"/><path fill="#453781" d="M226.5 240.7h2v2h-2zM226.5 242.7h2v1.9h-2zM226.5 244.6h2v1.9h-2zM290.5 289.2h2v1.9h-2zM290.5 291.1h2v1.9h-2zM290.5 293h2v2h-2z"/><path fill="#38588c" d="M232.4 244.6h54.2v1.9h-54.2zM232.4 246.5h54.2v2h-54.2zM232.4 248.5h3.8v1.9h-3.8zM282.8 248.5h3.8v1.9h-3.8zM232.4 250.4h3.8v2h-3.8zM282.8 250.4h3.8v2h-3.8zM232.4 252.4h3.8v1.9h-3.8zM282.8 252.4h3.8v1.9h-3.8zM232.4 254.3h3.8v1.9h-3.8zM282.8 254.3h3.8v1.9h-3.8zM232.4 256.2h3.8v2h-3.8zM282.8 256.2h3.8v2h-3.8zM232.4 258.2h3.8v1.9h-3.8zM282.8 258.2h3.8v1.9h-3.8zM232.4 260.1h3.8v1.9h-3.8zM282.8 260.1h3.8v1.9h-3.8zM232.4 262h3.8v2h-3.8zM282.8 262h3.8v2h-3.8zM232.4 264h3.8v1.9h-3.8zM282.8 264h3.8v1.9h-3.8zM232.4 265.9h3.8v1.9h-3.8zM282.8 265.9h3.8v1.9h-3.8zM232.4 267.8h3.8v2h-3.8zM282.8 267.8h3.8v2h-3.8zM232.4 269.8h3.8v1.9h-3.8zM282.8 269.8h3.8v1.9h-3.8zM232.4 271.7h3.8v2h-3.8zM282.8 271.7h3.8v2h-3.8zM232.4 273.7h3.8v1.9h-3.8zM282.8 273.7h3.8v1.9h-3.8zM232.4 275.6h3.8v1.9h-3.8zM282.8 275.6h3.8v1.9h-3.8zM232.4 277.5h3.8v2h-3.8zM282.8 277.5h3.8v2h-3.8zM232.4 279.5h3.8v1.9h-3.8zM282.8 279.5h3.8v1.9h-3.8zM232.4 281.4h3.8v1.9h-3.8zM282.8 281.4h3.8v1.9h-3.8zM232.4 283.3h3.8v2h-3.8zM282.8 283.3h3.8v2h-3.8zM232.4 285.3h3.8v1.9h-3.8zM282.8 285.3h3.8v1.9h-3.8zM232.4 287.2h54.2v2h-54.2zM232.4 289.2h54.2v1.9h-54.2z"/><path fill="#277e8e" d="M236.2 248.5h2v1.9h-2zM280.8 248.5h2v1.9h-2zM236.2 250.4h2v2h-2zM280.8 250.4h2v2h-2zM236.2 283.3h2v2h-2zM280.8 283.3h2v2h-2zM236.2 285.3h2v1.9h-2zM280.8 285.3h2v1.9h-2z"/><path fill="#21918c" d="M238.2 248.5h42.6v1.9h-42.6zM238.2 250.4h42.6v2h-42.6zM238.2 283.3h42.6v2h-42.6zM238.2 285.3h42.6v1.9h-42.6z"/><path fill="#22a785" d="M236.2 252.4h2v1.9h-2zM280.8 252.4h2v1.9h-2zM236.2 254.3h2v1.9h-2zM280.8 254.3h2v1.9h-2zM236.2 279.5h2v1.9h-2zM280.8 279.5h2v1.9h-2zM236.2 281.4h2v1.9h-2zM280.8 281.4h2v1.9h-2z"/><path fill="#44bf70" d="M238.2 252.4h42.6v1.9h-42.6zM238.2 254.3h42.6v1.9h-42.6zM238.2 279.5h42.6v1.9h-42.6zM238.2 281.4h42.6v1.9h-42.6z"/><path fill="#52c569" d="M236.2 256.2h2v2h-2zM280.8 256.2h2v2h-2zM236.2 258.2h2v1.9h-2zM280.8 258.2h2v1.9h-2zM236.2 260.1h2v1.9h-2zM280.8 260.1h2v1.9h-2zM236.2 262h2v2h-2zM280.8 262h2v2h-2zM236.2 271.7h2v2h-2zM280.8 271.7h2v2h-2zM236.2 273.7h2v1.9h-2zM280.8 273.7h2v1.9h-2zM236.2 275.6h2v1.9h-2zM280.8 275.6h2v1.9h-2zM236.2 277.5h2v2h-2zM280.8 277.5h2v2h-2z"/><path fill="#a2da37" d="M238.2 256.2h42.6v2h-42.6zM238.2 258.2h42.6v1.9h-42.6zM238.2 260.1h42.6v1.9h-42.6zM238.2 262h42.6v2h-42.6zM238.2 271.7h42.6v2h-42.6zM238.2 273.7h42.6v1.9h-42.6zM238.2 275.6h42.6v1.9h-42.6zM238.2 277.5h42.6v2h-42.6z"/><path fill="#65cb5e" d="M236.2 264h2v1.9h-2zM280.8 264h2v1.9h-2zM236.2 265.9h2v1.9h-2zM280.8 265.9h2v1.9h-2zM236.2 267.8h2v2h-2zM280.8 267.8h2v2h-2zM236.2 269.8h2v1.9h-2zM280.8 269.8h2v1.9h-2z"/><path fill="#bddf26" d="M238.2 264h42.6v1.9h-42.6zM238.2 265.9h42.6v1.9h-42.6zM238.2 267.8h42.6v2h-42.6zM238.2 269.8h42.6v1.9h-42.6z"/></g><ellipse cx="259.5" cy="267.85" rx="23.26" ry="23.25" fill="none" stroke="#000" stroke-width="1.3" stroke-dasharray="3.3 1.5"/><circle cx="201.34" cy="200.04" r="1.3" fill="#ff8a05"/><circle cx="205.35" cy="202.38" r="1.3" fill="#ff8a05"/><circle cx="209.36" cy="204.72" r="1.3" fill="#ff8a05"/><circle cx="213.37" cy="207.06" r="1.3" fill="#ff8a05"/><circle cx="217.38" cy="209.4" r="1.3" fill="#ff8a05"/><circle cx="221.4" cy="211.73" r="1.3" fill="#ff8a05"/><circle cx="225.41" cy="214.07" r="1.3" fill="#ff8a05"/><circle cx="229.42" cy="216.41" r="1.3" fill="#ff8a05"/><circle cx="233.43" cy="218.75" r="1.3" fill="#ff8a05"/><circle cx="237.44" cy="221.09" r="1.3" fill="#ff8a05"/><circle cx="241.45" cy="223.42" r="1.3" fill="#ff8a05"/><circle cx="245.46" cy="225.76" r="1.3" fill="#ff8a05"/><circle cx="249.47" cy="228.1" r="1.3" fill="#ff8a05"/><circle cx="253.48" cy="230.44" r="1.3" fill="#ff8a05"/><circle cx="257.49" cy="232.78" r="1.3" fill="#ff8a05"/><circle cx="261.51" cy="235.12" r="1.3" fill="#ff8a05"/><circle cx="265.52" cy="237.45" r="1.3" fill="#ff8a05"/><circle cx="269.53" cy="239.79" r="1.3" fill="#ff8a05"/><circle cx="273.54" cy="242.13" r="1.3" fill="#ff8a05"/><circle cx="277.55" cy="244.47" r="1.3" fill="#ff8a05"/><circle cx="281.56" cy="246.81" r="1.3" fill="#ff8a05"/><circle cx="285.57" cy="249.14" r="1.3" fill="#ff8a05"/><circle cx="289.58" cy="251.48" r="1.3" fill="#ff8a05"/><circle cx="293.59" cy="253.82" r="1.3" fill="#ff8a05"/><circle cx="297.6" cy="256.16" r="1.3" fill="#ff8a05"/><circle cx="301.62" cy="258.5" r="1.3" fill="#ff8a05"/><circle cx="305.63" cy="260.84" r="1.3" fill="#ff8a05"/><circle cx="309.64" cy="263.17" r="1.3" fill="#ff8a05"/><circle cx="313.65" cy="265.51" r="1.3" fill="#ff8a05"/><circle cx="317.66" cy="267.85" r="1.3" fill="#ff8a05"/><circle cx="313.65" cy="267.85" r="1.3" fill="#ff8a05"/><circle cx="309.64" cy="267.85" r="1.3" fill="#ff8a05"/><circle cx="305.63" cy="267.85" r="1.3" fill="#ff8a05"/><circle cx="301.62" cy="267.85" r="1.3" fill="#ff8a05"/><circle cx="297.6" cy="267.85" r="1.3" fill="#ff8a05"/><circle cx="293.59" cy="267.85" r="1.3" fill="#ff8a05"/><circle cx="289.58" cy="267.85" r="1.3" fill="#ff8a05"/><circle cx="285.57" cy="267.85" r="1.3" fill="#ff8a05"/><circle cx="281.56" cy="267.85" r="1.3" fill="#ff8a05"/><circle cx="277.55" cy="267.85" r="1.3" fill="#ff8a05"/><circle cx="273.54" cy="267.85" r="1.3" fill="#ff8a05"/><circle cx="269.53" cy="267.85" r="1.3" fill="#ff8a05"/><circle cx="265.52" cy="267.85" r="1.3" fill="#ff8a05"/><circle cx="261.51" cy="267.85" r="1.3" fill="#ff8a05"/><circle cx="257.49" cy="267.85" r="1.3" fill="#ff8a05"/><circle cx="253.48" cy="267.85" r="1.3" fill="#ff8a05"/><circle cx="249.47" cy="267.85" r="1.3" fill="#ff8a05"/><circle cx="245.46" cy="267.85" r="1.3" fill="#ff8a05"/><circle cx="241.45" cy="267.85" r="1.3" fill="#ff8a05"/><circle cx="237.44" cy="267.85" r="1.3" fill="#ff8a05"/><circle cx="233.43" cy="267.85" r="1.3" fill="#ff8a05"/><circle cx="229.42" cy="267.85" r="1.3" fill="#ff8a05"/><circle cx="225.41" cy="267.85" r="1.3" fill="#ff8a05"/><circle cx="221.4" cy="267.85" r="1.3" fill="#ff8a05"/><circle cx="217.38" cy="267.85" r="1.3" fill="#ff8a05"/><circle cx="213.37" cy="267.85" r="1.3" fill="#ff8a05"/><circle cx="209.36" cy="267.85" r="1.3" fill="#ff8a05"/><circle cx="205.35" cy="267.85" r="1.3" fill="#ff8a05"/><circle cx="201.34" cy="267.85" r="1.3" fill="#ff8a05"/><circle cx="205.35" cy="270.19" r="1.3" fill="#ff8a05"/><circle cx="209.36" cy="272.53" r="1.3" fill="#ff8a05"/><circle cx="213.37" cy="274.86" r="1.3" fill="#ff8a05"/><circle cx="217.38" cy="277.2" r="1.3" fill="#ff8a05"/><circle cx="221.4" cy="279.54" r="1.3" fill="#ff8a05"/><circle cx="225.41" cy="281.88" r="1.3" fill="#ff8a05"/><circle cx="229.42" cy="284.22" r="1.3" fill="#ff8a05"/><circle cx="233.43" cy="286.56" r="1.3" fill="#ff8a05"/><circle cx="237.44" cy="288.89" r="1.3" fill="#ff8a05"/><circle cx="241.45" cy="291.23" r="1.3" fill="#ff8a05"/><circle cx="245.46" cy="293.57" r="1.3" fill="#ff8a05"/><circle cx="249.47" cy="295.91" r="1.3" fill="#ff8a05"/><circle cx="253.48" cy="298.25" r="1.3" fill="#ff8a05"/><circle cx="257.49" cy="300.58" r="1.3" fill="#ff8a05"/><circle cx="261.51" cy="302.92" r="1.3" fill="#ff8a05"/><circle cx="265.52" cy="305.26" r="1.3" fill="#ff8a05"/><circle cx="269.53" cy="307.6" r="1.3" fill="#ff8a05"/><circle cx="273.54" cy="309.94" r="1.3" fill="#ff8a05"/><circle cx="277.55" cy="312.28" r="1.3" fill="#ff8a05"/><circle cx="281.56" cy="314.61" r="1.3" fill="#ff8a05"/><circle cx="285.57" cy="316.95" r="1.3" fill="#ff8a05"/><circle cx="289.58" cy="319.29" r="1.3" fill="#ff8a05"/><circle cx="293.59" cy="321.63" r="1.3" fill="#ff8a05"/><circle cx="297.6" cy="323.97" r="1.3" fill="#ff8a05"/><circle cx="301.62" cy="326.3" r="1.3" fill="#ff8a05"/><circle cx="305.63" cy="328.64" r="1.3" fill="#ff8a05"/><circle cx="309.64" cy="330.98" r="1.3" fill="#ff8a05"/><circle cx="313.65" cy="333.32" r="1.3" fill="#ff8a05"/><circle cx="317.66" cy="335.66" r="1.3" fill="#ff8a05"/></g><rect x="186.8" y="195.2" width="145.4" height="145.3" fill="none" stroke="#000" stroke-opacity="0.5" stroke-width="0.9"/><text transform="translate(183.2 212.13) scale(0.95 1)" font-size="7.5" text-anchor="end">300</text><text transform="translate(183.2 231.5) scale(0.95 1)" font-size="7.5" text-anchor="end">200</text><text transform="translate(183.2 250.88) scale(0.95 1)" font-size="7.5" text-anchor="end">100</text><text transform="translate(183.2 270.25) scale(0.95 1)" font-size="7.5" text-anchor="end">0</text><text transform="translate(183.2 289.62) scale(0.95 1)" font-size="7.5" text-anchor="end">100</text><text transform="translate(183.2 309) scale(0.95 1)" font-size="7.5" text-anchor="end">200</text><text transform="translate(183.2 328.37) scale(0.95 1)" font-size="7.5" text-anchor="end">300</text><text transform="translate(220.73 349.1) scale(0.95 1)" font-size="7.5" text-anchor="middle">&#8722;<tspan dx="1.0">200</tspan></text><text transform="translate(259.5 349.1) scale(0.95 1)" font-size="7.5" text-anchor="middle">0</text><text transform="translate(298.27 349.1) scale(0.95 1)" font-size="7.5" text-anchor="middle">200</text><path d="M186.8 209.73h-2M186.8 229.1h-2M186.8 248.48h-2M186.8 267.85h-2M186.8 287.22h-2M186.8 306.6h-2M186.8 325.97h-2M220.73 340.5v2M259.5 340.5v2M298.27 340.5v2" stroke="#444" stroke-width="0.6"/><text x="167.4" y="269.35" font-size="7.7" text-anchor="middle" textLength="18.4" lengthAdjust="spacingAndGlyphs" transform="rotate(-90 167.4 269.35)">y [m]</text><rect x="342.2" y="195.3" width="7.1" height="145.1" fill="url(#g9)" stroke="#444" stroke-width="0.5"/><text transform="translate(354.3 344.3) scale(0.92 1)" font-size="8.6" text-anchor="start">0</text><text transform="translate(354.3 315.28) scale(0.92 1)" font-size="8.6" text-anchor="start">2</text><text transform="translate(354.3 286.26) scale(0.92 1)" font-size="8.6" text-anchor="start">4</text><text transform="translate(354.3 257.24) scale(0.92 1)" font-size="8.6" text-anchor="start">6</text><text transform="translate(354.3 228.22) scale(0.92 1)" font-size="8.6" text-anchor="start">8</text><text transform="translate(354.3 199.2) scale(0.92 1)" font-size="8.6" text-anchor="start">10</text><path d="M349.3 340.4h2M349.3 311.38h2M349.3 282.36h2M349.3 253.34h2M349.3 224.32h2M349.3 195.3h2" stroke="#444" stroke-width="0.6"/><text x="371.7" y="271.75" font-size="7.7" text-anchor="middle" textLength="29.8" lengthAdjust="spacingAndGlyphs" transform="rotate(-90 371.7 271.75)">M [A/m]</text><g clip-path="url(#c10)"><rect x="420.3" y="267.85" width="109.7" height="72.75" fill="#440154"/><g shape-rendering="crispEdges"><path fill="#424186" d="M458.1 270.3h2.4v2.4h-2.4zM460.5 277.6h2.5v2.4h-2.5zM487.3 277.6h2.5v2.4h-2.5zM489.8 270.3h2.4v2.4h-2.4z"/><path fill="#481f70" d="M458.1 272.7h2.4v2.4h-2.4zM465.4 282.4h2.4v2.4h-2.4zM482.5 282.4h2.4v2.4h-2.4zM489.8 272.7h2.4v2.4h-2.4z"/><path fill="#fde725" d="M460.5 270.3h2.5v2.4h-2.5zM460.5 272.7h2.5v2.4h-2.5zM463 270.3h2.4v2.4h-2.4zM463 272.7h2.4v2.4h-2.4zM463 275.1h2.4v2.5h-2.4zM465.4 270.3h2.4v2.4h-2.4zM465.4 272.7h2.4v2.4h-2.4zM465.4 275.1h2.4v2.5h-2.4zM465.4 277.6h2.4v2.4h-2.4zM467.8 270.3h2.5v2.4h-2.5zM467.8 272.7h2.5v2.4h-2.5zM467.8 275.1h2.5v2.5h-2.5zM467.8 277.6h2.5v2.4h-2.5zM467.8 280h2.5v2.4h-2.5zM470.3 270.3h2.4v2.4h-2.4zM470.3 272.7h2.4v2.4h-2.4zM470.3 275.1h2.4v2.5h-2.4zM470.3 277.6h2.4v2.4h-2.4zM470.3 280h2.4v2.4h-2.4zM472.7 270.3h2.5v2.4h-2.5zM472.7 272.7h2.5v2.4h-2.5zM472.7 275.1h2.5v2.5h-2.5zM472.7 277.6h2.5v2.4h-2.5zM472.7 280h2.5v2.4h-2.5zM472.7 282.4h2.5v2.4h-2.5zM475.2 270.3h2.4v2.4h-2.4zM475.2 272.7h2.4v2.4h-2.4zM475.2 275.1h2.4v2.5h-2.4zM475.2 277.6h2.4v2.4h-2.4zM475.2 280h2.4v2.4h-2.4zM475.2 282.4h2.4v2.4h-2.4zM477.6 270.3h2.4v2.4h-2.4zM477.6 272.7h2.4v2.4h-2.4zM477.6 275.1h2.4v2.5h-2.4zM477.6 277.6h2.4v2.4h-2.4zM477.6 280h2.4v2.4h-2.4zM480 270.3h2.5v2.4h-2.5zM480 272.7h2.5v2.4h-2.5zM480 275.1h2.5v2.5h-2.5zM480 277.6h2.5v2.4h-2.5zM480 280h2.5v2.4h-2.5zM482.5 270.3h2.4v2.4h-2.4zM482.5 272.7h2.4v2.4h-2.4zM482.5 275.1h2.4v2.5h-2.4zM482.5 277.6h2.4v2.4h-2.4zM484.9 270.3h2.4v2.4h-2.4zM484.9 272.7h2.4v2.4h-2.4zM484.9 275.1h2.4v2.5h-2.4zM487.3 270.3h2.5v2.4h-2.5zM487.3 272.7h2.5v2.4h-2.5z"/><path fill="#5ec962" d="M460.5 275.1h2.5v2.5h-2.5zM487.3 275.1h2.5v2.5h-2.5z"/><path fill="#ece51b" d="M463 277.6h2.4v2.4h-2.4zM484.9 277.6h2.4v2.4h-2.4z"/><path fill="#375a8c" d="M463 280h2.4v2.4h-2.4zM484.9 280h2.4v2.4h-2.4z"/><path fill="#c8e020" d="M465.4 280h2.4v2.4h-2.4zM482.5 280h2.4v2.4h-2.4z"/><path fill="#21918c" d="M467.8 282.4h2.5v2.4h-2.5zM480 282.4h2.5v2.4h-2.5z"/><path fill="#7fd34e" d="M470.3 282.4h2.4v2.4h-2.4zM477.6 282.4h2.4v2.4h-2.4z"/></g><rect x="453.21" y="266.85" width="43.88" height="3.42" fill="#fff"/><rect x="462.96" y="269.27" width="24.38" height="3.06" fill="#fff"/><path d="M460.52 272.7 H489.78 A14.63 14.55 0 0 1 460.52 272.7" fill="none" stroke="#000" stroke-width="1.2" stroke-dasharray="3.2 1.4"/><circle cx="438.58" cy="267.85" r="0.9" fill="#ff8a05"/><circle cx="441.11" cy="267.59" r="0.9" fill="#ff8a05"/><circle cx="443.63" cy="267.33" r="0.9" fill="#ff8a05"/><circle cx="446.15" cy="267.07" r="0.9" fill="#ff8a05"/><circle cx="448.67" cy="266.81" r="0.9" fill="#ff8a05"/><circle cx="451.19" cy="266.55" r="0.9" fill="#ff8a05"/><circle cx="453.71" cy="266.29" r="0.9" fill="#ff8a05"/><circle cx="456.24" cy="266.04" r="0.9" fill="#ff8a05"/><circle cx="458.76" cy="265.78" r="0.9" fill="#ff8a05"/><circle cx="461.28" cy="265.52" r="0.9" fill="#ff8a05"/><circle cx="463.8" cy="265.26" r="0.9" fill="#ff8a05"/><circle cx="466.32" cy="265" r="0.9" fill="#ff8a05"/><circle cx="468.85" cy="264.74" r="0.9" fill="#ff8a05"/><circle cx="471.37" cy="264.48" r="0.9" fill="#ff8a05"/><circle cx="473.89" cy="264.22" r="0.9" fill="#ff8a05"/><circle cx="476.41" cy="264.22" r="0.9" fill="#ff8a05"/><circle cx="478.93" cy="264.48" r="0.9" fill="#ff8a05"/><circle cx="481.45" cy="264.74" r="0.9" fill="#ff8a05"/><circle cx="483.98" cy="265" r="0.9" fill="#ff8a05"/><circle cx="486.5" cy="265.26" r="0.9" fill="#ff8a05"/><circle cx="489.02" cy="265.52" r="0.9" fill="#ff8a05"/><circle cx="491.54" cy="265.78" r="0.9" fill="#ff8a05"/><circle cx="494.06" cy="266.04" r="0.9" fill="#ff8a05"/><circle cx="496.59" cy="266.29" r="0.9" fill="#ff8a05"/><circle cx="499.11" cy="266.55" r="0.9" fill="#ff8a05"/><circle cx="501.63" cy="266.81" r="0.9" fill="#ff8a05"/><circle cx="504.15" cy="267.07" r="0.9" fill="#ff8a05"/><circle cx="506.67" cy="267.33" r="0.9" fill="#ff8a05"/><circle cx="509.19" cy="267.59" r="0.9" fill="#ff8a05"/><circle cx="511.72" cy="267.85" r="0.9" fill="#ff8a05"/></g><rect x="420.3" y="195.1" width="109.7" height="145.5" fill="none" stroke="#000" stroke-opacity="0.5" stroke-width="0.9"/><text transform="translate(417 198.1) scale(0.95 1)" font-size="7.5" text-anchor="end">600</text><text transform="translate(417 222.35) scale(0.95 1)" font-size="7.5" text-anchor="end">400</text><text transform="translate(417 246.6) scale(0.95 1)" font-size="7.5" text-anchor="end">200</text><text transform="translate(417 270.85) scale(0.95 1)" font-size="7.5" text-anchor="end">0</text><text transform="translate(417 295.1) scale(0.95 1)" font-size="7.5" text-anchor="end">&#8722;<tspan dx="1.0">200</tspan></text><text transform="translate(417 319.35) scale(0.95 1)" font-size="7.5" text-anchor="end">&#8722;<tspan dx="1.0">400</tspan></text><text transform="translate(417 343.6) scale(0.95 1)" font-size="7.5" text-anchor="end">&#8722;<tspan dx="1.0">600</tspan></text><text transform="translate(426.39 349.2) scale(0.95 1)" font-size="7.5" text-anchor="middle">&#8722;<tspan dx="1.0">400</tspan></text><text transform="translate(450.77 349.2) scale(0.95 1)" font-size="7.5" text-anchor="middle">&#8722;<tspan dx="1.0">200</tspan></text><text transform="translate(475.15 349.2) scale(0.95 1)" font-size="7.5" text-anchor="middle">0</text><text transform="translate(499.53 349.2) scale(0.95 1)" font-size="7.5" text-anchor="middle">200</text><text transform="translate(523.91 349.2) scale(0.95 1)" font-size="7.5" text-anchor="middle">400</text><path d="M420.3 195.1h-2M420.3 219.35h-2M420.3 243.6h-2M420.3 267.85h-2M420.3 292.1h-2M420.3 316.35h-2M420.3 340.6h-2M426.39 340.6v2M450.77 340.6v2M475.15 340.6v2M499.53 340.6v2M523.91 340.6v2" stroke="#444" stroke-width="0.6"/><text x="401.4" y="269.85" font-size="7.7" text-anchor="middle" textLength="18.4" lengthAdjust="spacingAndGlyphs" transform="rotate(-90 401.4 269.85)">z [m]</text><g clip-path="url(#c11)"><rect x="570.9" y="195.2" width="145.8" height="145.4" fill="#440154"/><g shape-rendering="crispEdges"><path fill="#450559" d="M632.1 231.1h23.4v1.9h-23.4zM628.2 233h31.2v1.9h-31.2zM624.4 234.9h13.6v2h-13.6zM649.6 234.9h13.6v2h-13.6zM620.5 236.9h11.6v1.9h-11.6zM655.5 236.9h11.6v1.9h-11.6zM618.5 238.8h9.7v2h-9.7zM659.4 238.8h9.7v2h-9.7zM616.6 240.8h7.8v1.9h-7.8zM663.2 240.8h7.8v1.9h-7.8zM614.6 242.7h7.8v1.9h-7.8zM665.2 242.7h7.8v1.9h-7.8zM612.7 244.6h7.8v2h-7.8zM667.1 244.6h7.8v2h-7.8zM612.7 246.6h5.8v1.9h-5.8zM669.1 246.6h5.8v1.9h-5.8zM610.8 248.5h5.8v2h-5.8zM671 248.5h5.8v2h-5.8zM610.8 250.5h5.8v1.9h-5.8zM671 250.5h5.8v1.9h-5.8zM608.8 252.4h5.8v1.9h-5.8zM673 252.4h5.8v1.9h-5.8zM608.8 254.3h5.8v2h-5.8zM673 254.3h5.8v2h-5.8zM606.9 256.3h5.8v1.9h-5.8zM674.9 256.3h5.8v1.9h-5.8zM606.9 258.2h5.8v1.9h-5.8zM674.9 258.2h5.8v1.9h-5.8zM606.9 260.1h5.8v2h-5.8zM674.9 260.1h5.8v2h-5.8zM606.9 262.1h3.9v1.9h-3.9zM676.8 262.1h3.9v1.9h-3.9zM606.9 264h3.9v2h-3.9zM676.8 264h3.9v2h-3.9zM606.9 266h3.9v1.9h-3.9zM676.8 266h3.9v1.9h-3.9zM606.9 267.9h3.9v1.9h-3.9zM676.8 267.9h3.9v1.9h-3.9zM606.9 269.8h3.9v2h-3.9zM676.8 269.8h3.9v2h-3.9zM606.9 271.8h3.9v1.9h-3.9zM676.8 271.8h3.9v1.9h-3.9zM606.9 273.7h5.8v2h-5.8zM674.9 273.7h5.8v2h-5.8zM606.9 275.7h5.8v1.9h-5.8zM674.9 275.7h5.8v1.9h-5.8zM606.9 277.6h5.8v1.9h-5.8zM674.9 277.6h5.8v1.9h-5.8zM608.8 279.5h5.8v2h-5.8zM673 279.5h5.8v2h-5.8zM608.8 281.5h5.8v1.9h-5.8zM673 281.5h5.8v1.9h-5.8zM610.8 283.4h5.8v1.9h-5.8zM671 283.4h5.8v1.9h-5.8zM610.8 285.3h5.8v2h-5.8zM671 285.3h5.8v2h-5.8zM612.7 287.3h5.8v1.9h-5.8zM669.1 287.3h5.8v1.9h-5.8zM612.7 289.2h7.8v2h-7.8zM667.1 289.2h7.8v2h-7.8zM614.6 291.2h7.8v1.9h-7.8zM665.2 291.2h7.8v1.9h-7.8zM616.6 293.1h7.8v1.9h-7.8zM663.2 293.1h7.8v1.9h-7.8zM618.5 295h9.7v2h-9.7zM659.4 295h9.7v2h-9.7zM620.5 297h11.6v1.9h-11.6zM655.5 297h11.6v1.9h-11.6zM624.4 298.9h13.6v2h-13.6zM649.6 298.9h13.6v2h-13.6zM628.2 300.9h31.2v1.9h-31.2zM632.1 302.8h23.4v1.9h-23.4z"/><path fill="#46075a" d="M638 234.9h11.6v2h-11.6zM632.1 236.9h23.4v1.9h-23.4zM628.2 238.8h7.8v2h-7.8zM651.6 238.8h7.8v2h-7.8zM624.4 240.8h5.8v1.9h-5.8zM657.4 240.8h5.8v1.9h-5.8zM622.4 242.7h5.8v1.9h-5.8zM659.4 242.7h5.8v1.9h-5.8zM620.5 244.6h3.9v2h-3.9zM663.2 244.6h3.9v2h-3.9zM618.5 246.6h3.9v1.9h-3.9zM665.2 246.6h3.9v1.9h-3.9zM616.6 248.5h3.9v2h-3.9zM667.1 248.5h3.9v2h-3.9zM616.6 250.5h3.9v1.9h-3.9zM667.1 250.5h3.9v1.9h-3.9zM614.6 252.4h3.9v1.9h-3.9zM669.1 252.4h3.9v1.9h-3.9zM614.6 254.3h2v2h-2zM671 254.3h2v2h-2zM612.7 256.3h3.9v1.9h-3.9zM671 256.3h3.9v1.9h-3.9zM612.7 258.2h3.9v1.9h-3.9zM671 258.2h3.9v1.9h-3.9zM612.7 260.1h1.9v2h-1.9zM673 260.1h1.9v2h-1.9zM610.8 262.1h3.8v1.9h-3.8zM673 262.1h3.8v1.9h-3.8zM610.8 264h3.8v2h-3.8zM673 264h3.8v2h-3.8zM610.8 266h3.8v1.9h-3.8zM673 266h3.8v1.9h-3.8zM610.8 267.9h3.8v1.9h-3.8zM673 267.9h3.8v1.9h-3.8zM610.8 269.8h3.8v2h-3.8zM673 269.8h3.8v2h-3.8zM610.8 271.8h3.8v1.9h-3.8zM673 271.8h3.8v1.9h-3.8zM612.7 273.7h1.9v2h-1.9zM673 273.7h1.9v2h-1.9zM612.7 275.7h3.9v1.9h-3.9zM671 275.7h3.9v1.9h-3.9zM612.7 277.6h3.9v1.9h-3.9zM671 277.6h3.9v1.9h-3.9zM614.6 279.5h2v2h-2zM671 279.5h2v2h-2zM614.6 281.5h3.9v1.9h-3.9zM669.1 281.5h3.9v1.9h-3.9zM616.6 283.4h3.9v1.9h-3.9zM667.1 283.4h3.9v1.9h-3.9zM616.6 285.3h3.9v2h-3.9zM667.1 285.3h3.9v2h-3.9zM618.5 287.3h3.9v1.9h-3.9zM665.2 287.3h3.9v1.9h-3.9zM620.5 289.2h3.9v2h-3.9zM663.2 289.2h3.9v2h-3.9zM622.4 291.2h5.8v1.9h-5.8zM659.4 291.2h5.8v1.9h-5.8zM624.4 293.1h5.8v1.9h-5.8zM657.4 293.1h5.8v1.9h-5.8zM628.2 295h7.8v2h-7.8zM651.6 295h7.8v2h-7.8zM632.1 297h23.4v1.9h-23.4zM638 298.9h11.6v2h-11.6z"/><path fill="#46085c" d="M636 238.8h15.6v2h-15.6zM630.2 240.8h7.8v1.9h-7.8zM649.6 240.8h7.8v1.9h-7.8zM628.2 242.7h3.9v1.9h-3.9zM655.5 242.7h3.9v1.9h-3.9zM624.4 244.6h3.8v2h-3.8zM659.4 244.6h3.8v2h-3.8zM622.4 246.6h3.9v1.9h-3.9zM661.3 246.6h3.9v1.9h-3.9zM620.5 248.5h3.9v2h-3.9zM663.2 248.5h3.9v2h-3.9zM620.5 250.5h1.9v1.9h-1.9zM665.2 250.5h1.9v1.9h-1.9zM618.5 252.4h2v1.9h-2zM667.1 252.4h2v1.9h-2zM616.6 254.3h3.9v2h-3.9zM667.1 254.3h3.9v2h-3.9zM616.6 256.3h1.9v1.9h-1.9zM669.1 256.3h1.9v1.9h-1.9zM616.6 258.2h1.9v1.9h-1.9zM669.1 258.2h1.9v1.9h-1.9zM614.6 260.1h3.9v2h-3.9zM669.1 260.1h3.9v2h-3.9zM614.6 262.1h2v1.9h-2zM671 262.1h2v1.9h-2zM614.6 264h2v2h-2zM671 264h2v2h-2zM614.6 266h2v1.9h-2zM671 266h2v1.9h-2zM614.6 267.9h2v1.9h-2zM671 267.9h2v1.9h-2zM614.6 269.8h2v2h-2zM671 269.8h2v2h-2zM614.6 271.8h2v1.9h-2zM671 271.8h2v1.9h-2zM614.6 273.7h3.9v2h-3.9zM669.1 273.7h3.9v2h-3.9zM616.6 275.7h1.9v1.9h-1.9zM669.1 275.7h1.9v1.9h-1.9zM616.6 277.6h1.9v1.9h-1.9zM669.1 277.6h1.9v1.9h-1.9zM616.6 279.5h3.9v2h-3.9zM667.1 279.5h3.9v2h-3.9zM618.5 281.5h2v1.9h-2zM667.1 281.5h2v1.9h-2zM620.5 283.4h1.9v1.9h-1.9zM665.2 283.4h1.9v1.9h-1.9zM620.5 285.3h3.9v2h-3.9zM663.2 285.3h3.9v2h-3.9zM622.4 287.3h3.9v1.9h-3.9zM661.3 287.3h3.9v1.9h-3.9zM624.4 289.2h3.8v2h-3.8zM659.4 289.2h3.8v2h-3.8zM628.2 291.2h3.9v1.9h-3.9zM655.5 291.2h3.9v1.9h-3.9zM630.2 293.1h7.8v1.9h-7.8zM649.6 293.1h7.8v1.9h-7.8zM636 295h15.6v2h-15.6z"/><path fill="#460a5d" d="M638 240.8h11.6v1.9h-11.6zM632.1 242.7h5.9v1.9h-5.9zM649.6 242.7h5.9v1.9h-5.9zM628.2 244.6h3.9v2h-3.9zM655.5 244.6h3.9v2h-3.9zM626.3 246.6h3.9v1.9h-3.9zM657.4 246.6h3.9v1.9h-3.9zM624.4 248.5h1.9v2h-1.9zM661.3 248.5h1.9v2h-1.9zM622.4 250.5h2v1.9h-2zM663.2 250.5h2v1.9h-2zM620.5 252.4h3.9v1.9h-3.9zM663.2 252.4h3.9v1.9h-3.9zM620.5 254.3h1.9v2h-1.9zM665.2 254.3h1.9v2h-1.9zM618.5 256.3h2v1.9h-2zM667.1 256.3h2v1.9h-2zM618.5 258.2h2v1.9h-2zM667.1 258.2h2v1.9h-2zM618.5 260.1h2v2h-2zM667.1 260.1h2v2h-2zM616.6 262.1h1.9v1.9h-1.9zM669.1 262.1h1.9v1.9h-1.9zM616.6 264h1.9v2h-1.9zM669.1 264h1.9v2h-1.9zM616.6 266h1.9v1.9h-1.9zM669.1 266h1.9v1.9h-1.9zM616.6 267.9h1.9v1.9h-1.9zM669.1 267.9h1.9v1.9h-1.9zM616.6 269.8h1.9v2h-1.9zM669.1 269.8h1.9v2h-1.9zM616.6 271.8h1.9v1.9h-1.9zM669.1 271.8h1.9v1.9h-1.9zM618.5 273.7h2v2h-2zM667.1 273.7h2v2h-2zM618.5 275.7h2v1.9h-2zM667.1 275.7h2v1.9h-2zM618.5 277.6h2v1.9h-2zM667.1 277.6h2v1.9h-2zM620.5 279.5h1.9v2h-1.9zM665.2 279.5h1.9v2h-1.9zM620.5 281.5h3.9v1.9h-3.9zM663.2 281.5h3.9v1.9h-3.9zM622.4 283.4h2v1.9h-2zM663.2 283.4h2v1.9h-2zM624.4 285.3h1.9v2h-1.9zM661.3 285.3h1.9v2h-1.9zM626.3 287.3h3.9v1.9h-3.9zM657.4 287.3h3.9v1.9h-3.9zM628.2 289.2h3.9v2h-3.9zM655.5 289.2h3.9v2h-3.9zM632.1 291.2h5.9v1.9h-5.9zM649.6 291.2h5.9v1.9h-5.9zM638 293.1h11.6v1.9h-11.6z"/><path fill="#460b5e" d="M638 242.7h11.6v1.9h-11.6zM632.1 244.6h3.9v2h-3.9zM651.6 244.6h3.9v2h-3.9zM630.2 246.6h1.9v1.9h-1.9zM655.5 246.6h1.9v1.9h-1.9zM626.3 248.5h1.9v2h-1.9zM659.4 248.5h1.9v2h-1.9zM624.4 250.5h1.9v1.9h-1.9zM661.3 250.5h1.9v1.9h-1.9zM622.4 254.3h2v2h-2zM663.2 254.3h2v2h-2zM620.5 256.3h1.9v1.9h-1.9zM665.2 256.3h1.9v1.9h-1.9zM620.5 258.2h1.9v1.9h-1.9zM665.2 258.2h1.9v1.9h-1.9zM618.5 262.1h2v1.9h-2zM667.1 262.1h2v1.9h-2zM618.5 264h2v2h-2zM667.1 264h2v2h-2zM618.5 266h2v1.9h-2zM667.1 266h2v1.9h-2zM618.5 267.9h2v1.9h-2zM667.1 267.9h2v1.9h-2zM618.5 269.8h2v2h-2zM667.1 269.8h2v2h-2zM618.5 271.8h2v1.9h-2zM667.1 271.8h2v1.9h-2zM620.5 275.7h1.9v1.9h-1.9zM665.2 275.7h1.9v1.9h-1.9zM620.5 277.6h1.9v1.9h-1.9zM665.2 277.6h1.9v1.9h-1.9zM622.4 279.5h2v2h-2zM663.2 279.5h2v2h-2zM624.4 283.4h1.9v1.9h-1.9zM661.3 283.4h1.9v1.9h-1.9zM626.3 285.3h1.9v2h-1.9zM659.4 285.3h1.9v2h-1.9zM630.2 287.3h1.9v1.9h-1.9zM655.5 287.3h1.9v1.9h-1.9zM632.1 289.2h3.9v2h-3.9zM651.6 289.2h3.9v2h-3.9zM638 291.2h11.6v1.9h-11.6z"/><path fill="#470d60" d="M636 244.6h15.6v2h-15.6zM632.1 246.6h2v1.9h-2zM653.5 246.6h2v1.9h-2zM628.2 248.5h3.9v2h-3.9zM655.5 248.5h3.9v2h-3.9zM626.3 250.5h1.9v1.9h-1.9zM659.4 250.5h1.9v1.9h-1.9zM624.4 252.4h1.9v1.9h-1.9zM661.3 252.4h1.9v1.9h-1.9zM624.4 254.3h1.9v2h-1.9zM661.3 254.3h1.9v2h-1.9zM622.4 256.3h2v1.9h-2zM663.2 256.3h2v1.9h-2zM620.5 260.1h1.9v2h-1.9zM665.2 260.1h1.9v2h-1.9zM620.5 262.1h1.9v1.9h-1.9zM665.2 262.1h1.9v1.9h-1.9zM620.5 264h1.9v2h-1.9zM665.2 264h1.9v2h-1.9zM620.5 266h1.9v1.9h-1.9zM665.2 266h1.9v1.9h-1.9zM620.5 267.9h1.9v1.9h-1.9zM665.2 267.9h1.9v1.9h-1.9zM620.5 269.8h1.9v2h-1.9zM665.2 269.8h1.9v2h-1.9zM620.5 271.8h1.9v1.9h-1.9zM665.2 271.8h1.9v1.9h-1.9zM620.5 273.7h1.9v2h-1.9zM665.2 273.7h1.9v2h-1.9zM622.4 277.6h2v1.9h-2zM663.2 277.6h2v1.9h-2zM624.4 279.5h1.9v2h-1.9zM661.3 279.5h1.9v2h-1.9zM624.4 281.5h1.9v1.9h-1.9zM661.3 281.5h1.9v1.9h-1.9zM626.3 283.4h1.9v1.9h-1.9zM659.4 283.4h1.9v1.9h-1.9zM628.2 285.3h3.9v2h-3.9zM655.5 285.3h3.9v2h-3.9zM632.1 287.3h2v1.9h-2zM653.5 287.3h2v1.9h-2zM636 289.2h15.6v2h-15.6z"/><path fill="#470e61" d="M634.1 246.6h3.9v1.9h-3.9zM649.6 246.6h3.9v1.9h-3.9zM632.1 248.5h2v2h-2zM653.5 248.5h2v2h-2zM628.2 250.5h2v1.9h-2zM657.4 250.5h2v1.9h-2zM626.3 252.4h1.9v1.9h-1.9zM659.4 252.4h1.9v1.9h-1.9zM624.4 256.3h1.9v1.9h-1.9zM661.3 256.3h1.9v1.9h-1.9zM622.4 258.2h2v1.9h-2zM663.2 258.2h2v1.9h-2zM622.4 260.1h2v2h-2zM663.2 260.1h2v2h-2zM622.4 273.7h2v2h-2zM663.2 273.7h2v2h-2zM622.4 275.7h2v1.9h-2zM663.2 275.7h2v1.9h-2zM624.4 277.6h1.9v1.9h-1.9zM661.3 277.6h1.9v1.9h-1.9zM626.3 281.5h1.9v1.9h-1.9zM659.4 281.5h1.9v1.9h-1.9zM628.2 283.4h2v1.9h-2zM657.4 283.4h2v1.9h-2zM632.1 285.3h2v2h-2zM653.5 285.3h2v2h-2zM634.1 287.3h3.9v1.9h-3.9zM649.6 287.3h3.9v1.9h-3.9z"/><path fill="#471063" d="M638 246.6h11.6v1.9h-11.6zM634.1 248.5h1.9v2h-1.9zM651.6 248.5h1.9v2h-1.9zM630.2 250.5h1.9v1.9h-1.9zM655.5 250.5h1.9v1.9h-1.9zM628.2 252.4h2v1.9h-2zM657.4 252.4h2v1.9h-2zM626.3 254.3h1.9v2h-1.9zM659.4 254.3h1.9v2h-1.9zM624.4 258.2h1.9v1.9h-1.9zM661.3 258.2h1.9v1.9h-1.9zM622.4 262.1h2v1.9h-2zM663.2 262.1h2v1.9h-2zM622.4 264h2v2h-2zM663.2 264h2v2h-2zM622.4 266h2v1.9h-2zM663.2 266h2v1.9h-2zM622.4 267.9h2v1.9h-2zM663.2 267.9h2v1.9h-2zM622.4 269.8h2v2h-2zM663.2 269.8h2v2h-2zM622.4 271.8h2v1.9h-2zM663.2 271.8h2v1.9h-2zM624.4 275.7h1.9v1.9h-1.9zM661.3 275.7h1.9v1.9h-1.9zM626.3 279.5h1.9v2h-1.9zM659.4 279.5h1.9v2h-1.9zM628.2 281.5h2v1.9h-2zM657.4 281.5h2v1.9h-2zM630.2 283.4h1.9v1.9h-1.9zM655.5 283.4h1.9v1.9h-1.9zM634.1 285.3h1.9v2h-1.9zM651.6 285.3h1.9v2h-1.9zM638 287.3h11.6v1.9h-11.6z"/><path fill="#471164" d="M636 248.5h15.6v2h-15.6zM632.1 250.5h23.4v1.9h-23.4zM630.2 252.4h27.2v1.9h-27.2zM628.2 254.3h31.2v2h-31.2zM626.3 256.3h35v1.9h-35zM626.3 258.2h35v1.9h-35zM624.4 260.1h38.8v2h-38.8zM624.4 262.1h38.8v1.9h-38.8zM624.4 264h38.8v2h-38.8zM624.4 266h38.8v1.9h-38.8zM624.4 267.9h38.8v1.9h-38.8zM624.4 269.8h38.8v2h-38.8zM624.4 271.8h38.8v1.9h-38.8zM624.4 273.7h38.8v2h-38.8zM626.3 275.7h35v1.9h-35zM626.3 277.6h35v1.9h-35zM628.2 279.5h31.2v2h-31.2zM630.2 281.5h27.2v1.9h-27.2zM632.1 283.4h23.4v1.9h-23.4zM636 285.3h15.6v2h-15.6z"/></g><g shape-rendering="crispEdges"><path fill="#46307e" d="M620.5 267.9h3.9v3.9h-3.9zM620.5 264h3.9v3.9h-3.9zM639.9 287.3h3.9v3.9h-3.9zM639.9 244.6h3.9v3.9h-3.9zM643.8 287.3h3.9v3.9h-3.9zM643.8 244.6h3.9v3.9h-3.9zM663.2 267.9h3.9v3.9h-3.9zM663.2 264h3.9v3.9h-3.9z"/><path fill="#23898e" d="M624.4 275.7h3.8v3.8h-3.8zM624.4 256.3h3.8v3.8h-3.8zM632.1 283.4h3.9v3.9h-3.9zM632.1 248.5h3.9v3.9h-3.9zM651.6 283.4h3.9v3.9h-3.9zM651.6 248.5h3.9v3.9h-3.9zM659.4 275.7h3.8v3.8h-3.8zM659.4 256.3h3.8v3.8h-3.8z"/><path fill="#c8e020" d="M624.4 271.8h3.8v3.9h-3.8zM624.4 260.1h3.8v3.9h-3.8zM636 283.4h3.9v3.9h-3.9zM636 248.5h3.9v3.9h-3.9zM647.7 283.4h3.9v3.9h-3.9zM647.7 248.5h3.9v3.9h-3.9zM659.4 271.8h3.8v3.9h-3.8zM659.4 260.1h3.8v3.9h-3.8z"/><path fill="#fde725" d="M624.4 267.9h3.8v3.9h-3.8zM624.4 264h3.8v3.9h-3.8zM628.2 275.7h3.9v3.8h-3.9zM628.2 271.8h3.9v3.9h-3.9zM628.2 267.9h3.9v3.9h-3.9zM628.2 264h3.9v3.9h-3.9zM628.2 260.1h3.9v3.9h-3.9zM628.2 256.3h3.9v3.8h-3.9zM632.1 279.5h3.9v3.9h-3.9zM632.1 275.7h3.9v3.8h-3.9zM632.1 271.8h3.9v3.9h-3.9zM632.1 267.9h3.9v3.9h-3.9zM632.1 264h3.9v3.9h-3.9zM632.1 260.1h3.9v3.9h-3.9zM632.1 256.3h3.9v3.8h-3.9zM632.1 252.4h3.9v3.9h-3.9zM636 279.5h3.9v3.9h-3.9zM636 275.7h3.9v3.8h-3.9zM636 271.8h3.9v3.9h-3.9zM636 267.9h3.9v3.9h-3.9zM636 264h3.9v3.9h-3.9zM636 260.1h3.9v3.9h-3.9zM636 256.3h3.9v3.8h-3.9zM636 252.4h3.9v3.9h-3.9zM639.9 283.4h3.9v3.9h-3.9zM639.9 279.5h3.9v3.9h-3.9zM639.9 275.7h3.9v3.8h-3.9zM639.9 271.8h3.9v3.9h-3.9zM639.9 267.9h3.9v3.9h-3.9zM639.9 264h3.9v3.9h-3.9zM639.9 260.1h3.9v3.9h-3.9zM639.9 256.3h3.9v3.8h-3.9zM639.9 252.4h3.9v3.9h-3.9zM639.9 248.5h3.9v3.9h-3.9zM643.8 283.4h3.9v3.9h-3.9zM643.8 279.5h3.9v3.9h-3.9zM643.8 275.7h3.9v3.8h-3.9zM643.8 271.8h3.9v3.9h-3.9zM643.8 267.9h3.9v3.9h-3.9zM643.8 264h3.9v3.9h-3.9zM643.8 260.1h3.9v3.9h-3.9zM643.8 256.3h3.9v3.8h-3.9zM643.8 252.4h3.9v3.9h-3.9zM643.8 248.5h3.9v3.9h-3.9zM647.7 279.5h3.9v3.9h-3.9zM647.7 275.7h3.9v3.8h-3.9zM647.7 271.8h3.9v3.9h-3.9zM647.7 267.9h3.9v3.9h-3.9zM647.7 264h3.9v3.9h-3.9zM647.7 260.1h3.9v3.9h-3.9zM647.7 256.3h3.9v3.8h-3.9zM647.7 252.4h3.9v3.9h-3.9zM651.6 279.5h3.9v3.9h-3.9zM651.6 275.7h3.9v3.8h-3.9zM651.6 271.8h3.9v3.9h-3.9zM651.6 267.9h3.9v3.9h-3.9zM651.6 264h3.9v3.9h-3.9zM651.6 260.1h3.9v3.9h-3.9zM651.6 256.3h3.9v3.8h-3.9zM651.6 252.4h3.9v3.9h-3.9zM655.5 275.7h3.9v3.8h-3.9zM655.5 271.8h3.9v3.9h-3.9zM655.5 267.9h3.9v3.9h-3.9zM655.5 264h3.9v3.9h-3.9zM655.5 260.1h3.9v3.9h-3.9zM655.5 256.3h3.9v3.8h-3.9zM659.4 267.9h3.8v3.9h-3.8zM659.4 264h3.8v3.9h-3.8z"/><path fill="#4ec36b" d="M628.2 279.5h3.9v3.9h-3.9zM628.2 252.4h3.9v3.9h-3.9zM655.5 279.5h3.9v3.9h-3.9zM655.5 252.4h3.9v3.9h-3.9z"/></g><ellipse cx="643.8" cy="267.9" rx="23.33" ry="23.26" fill="none" stroke="#000" stroke-width="1.3" stroke-dasharray="3.3 1.5"/><circle cx="585.48" cy="200.05" r="1.3" fill="#ff8a05"/><circle cx="589.5" cy="202.39" r="1.3" fill="#ff8a05"/><circle cx="593.52" cy="204.73" r="1.3" fill="#ff8a05"/><circle cx="597.55" cy="207.07" r="1.3" fill="#ff8a05"/><circle cx="601.57" cy="209.41" r="1.3" fill="#ff8a05"/><circle cx="605.59" cy="211.75" r="1.3" fill="#ff8a05"/><circle cx="609.61" cy="214.09" r="1.3" fill="#ff8a05"/><circle cx="613.63" cy="216.43" r="1.3" fill="#ff8a05"/><circle cx="617.66" cy="218.76" r="1.3" fill="#ff8a05"/><circle cx="621.68" cy="221.1" r="1.3" fill="#ff8a05"/><circle cx="625.7" cy="223.44" r="1.3" fill="#ff8a05"/><circle cx="629.72" cy="225.78" r="1.3" fill="#ff8a05"/><circle cx="633.74" cy="228.12" r="1.3" fill="#ff8a05"/><circle cx="637.77" cy="230.46" r="1.3" fill="#ff8a05"/><circle cx="641.79" cy="232.8" r="1.3" fill="#ff8a05"/><circle cx="645.81" cy="235.14" r="1.3" fill="#ff8a05"/><circle cx="649.83" cy="237.48" r="1.3" fill="#ff8a05"/><circle cx="653.86" cy="239.82" r="1.3" fill="#ff8a05"/><circle cx="657.88" cy="242.16" r="1.3" fill="#ff8a05"/><circle cx="661.9" cy="244.5" r="1.3" fill="#ff8a05"/><circle cx="665.92" cy="246.84" r="1.3" fill="#ff8a05"/><circle cx="669.94" cy="249.18" r="1.3" fill="#ff8a05"/><circle cx="673.97" cy="251.52" r="1.3" fill="#ff8a05"/><circle cx="677.99" cy="253.86" r="1.3" fill="#ff8a05"/><circle cx="682.01" cy="256.2" r="1.3" fill="#ff8a05"/><circle cx="686.03" cy="258.54" r="1.3" fill="#ff8a05"/><circle cx="690.05" cy="260.88" r="1.3" fill="#ff8a05"/><circle cx="694.08" cy="263.22" r="1.3" fill="#ff8a05"/><circle cx="698.1" cy="265.56" r="1.3" fill="#ff8a05"/><circle cx="702.12" cy="267.9" r="1.3" fill="#ff8a05"/><circle cx="698.1" cy="267.9" r="1.3" fill="#ff8a05"/><circle cx="694.08" cy="267.9" r="1.3" fill="#ff8a05"/><circle cx="690.05" cy="267.9" r="1.3" fill="#ff8a05"/><circle cx="686.03" cy="267.9" r="1.3" fill="#ff8a05"/><circle cx="682.01" cy="267.9" r="1.3" fill="#ff8a05"/><circle cx="677.99" cy="267.9" r="1.3" fill="#ff8a05"/><circle cx="673.97" cy="267.9" r="1.3" fill="#ff8a05"/><circle cx="669.94" cy="267.9" r="1.3" fill="#ff8a05"/><circle cx="665.92" cy="267.9" r="1.3" fill="#ff8a05"/><circle cx="661.9" cy="267.9" r="1.3" fill="#ff8a05"/><circle cx="657.88" cy="267.9" r="1.3" fill="#ff8a05"/><circle cx="653.86" cy="267.9" r="1.3" fill="#ff8a05"/><circle cx="649.83" cy="267.9" r="1.3" fill="#ff8a05"/><circle cx="645.81" cy="267.9" r="1.3" fill="#ff8a05"/><circle cx="641.79" cy="267.9" r="1.3" fill="#ff8a05"/><circle cx="637.77" cy="267.9" r="1.3" fill="#ff8a05"/><circle cx="633.74" cy="267.9" r="1.3" fill="#ff8a05"/><circle cx="629.72" cy="267.9" r="1.3" fill="#ff8a05"/><circle cx="625.7" cy="267.9" r="1.3" fill="#ff8a05"/><circle cx="621.68" cy="267.9" r="1.3" fill="#ff8a05"/><circle cx="617.66" cy="267.9" r="1.3" fill="#ff8a05"/><circle cx="613.63" cy="267.9" r="1.3" fill="#ff8a05"/><circle cx="609.61" cy="267.9" r="1.3" fill="#ff8a05"/><circle cx="605.59" cy="267.9" r="1.3" fill="#ff8a05"/><circle cx="601.57" cy="267.9" r="1.3" fill="#ff8a05"/><circle cx="597.55" cy="267.9" r="1.3" fill="#ff8a05"/><circle cx="593.52" cy="267.9" r="1.3" fill="#ff8a05"/><circle cx="589.5" cy="267.9" r="1.3" fill="#ff8a05"/><circle cx="585.48" cy="267.9" r="1.3" fill="#ff8a05"/><circle cx="589.5" cy="270.24" r="1.3" fill="#ff8a05"/><circle cx="593.52" cy="272.58" r="1.3" fill="#ff8a05"/><circle cx="597.55" cy="274.92" r="1.3" fill="#ff8a05"/><circle cx="601.57" cy="277.26" r="1.3" fill="#ff8a05"/><circle cx="605.59" cy="279.6" r="1.3" fill="#ff8a05"/><circle cx="609.61" cy="281.94" r="1.3" fill="#ff8a05"/><circle cx="613.63" cy="284.28" r="1.3" fill="#ff8a05"/><circle cx="617.66" cy="286.62" r="1.3" fill="#ff8a05"/><circle cx="621.68" cy="288.96" r="1.3" fill="#ff8a05"/><circle cx="625.7" cy="291.3" r="1.3" fill="#ff8a05"/><circle cx="629.72" cy="293.64" r="1.3" fill="#ff8a05"/><circle cx="633.74" cy="295.98" r="1.3" fill="#ff8a05"/><circle cx="637.77" cy="298.32" r="1.3" fill="#ff8a05"/><circle cx="641.79" cy="300.66" r="1.3" fill="#ff8a05"/><circle cx="645.81" cy="303" r="1.3" fill="#ff8a05"/><circle cx="649.83" cy="305.34" r="1.3" fill="#ff8a05"/><circle cx="653.86" cy="307.68" r="1.3" fill="#ff8a05"/><circle cx="657.88" cy="310.02" r="1.3" fill="#ff8a05"/><circle cx="661.9" cy="312.36" r="1.3" fill="#ff8a05"/><circle cx="665.92" cy="314.7" r="1.3" fill="#ff8a05"/><circle cx="669.94" cy="317.04" r="1.3" fill="#ff8a05"/><circle cx="673.97" cy="319.37" r="1.3" fill="#ff8a05"/><circle cx="677.99" cy="321.71" r="1.3" fill="#ff8a05"/><circle cx="682.01" cy="324.05" r="1.3" fill="#ff8a05"/><circle cx="686.03" cy="326.39" r="1.3" fill="#ff8a05"/><circle cx="690.05" cy="328.73" r="1.3" fill="#ff8a05"/><circle cx="694.08" cy="331.07" r="1.3" fill="#ff8a05"/><circle cx="698.1" cy="333.41" r="1.3" fill="#ff8a05"/><circle cx="702.12" cy="335.75" r="1.3" fill="#ff8a05"/></g><rect x="570.9" y="195.2" width="145.8" height="145.4" fill="none" stroke="#000" stroke-opacity="0.5" stroke-width="0.9"/><text transform="translate(567.3 212.14) scale(0.95 1)" font-size="7.5" text-anchor="end">300</text><text transform="translate(567.3 231.53) scale(0.95 1)" font-size="7.5" text-anchor="end">200</text><text transform="translate(567.3 250.91) scale(0.95 1)" font-size="7.5" text-anchor="end">100</text><text transform="translate(567.3 270.3) scale(0.95 1)" font-size="7.5" text-anchor="end">0</text><text transform="translate(567.3 289.69) scale(0.95 1)" font-size="7.5" text-anchor="end">&#8722;<tspan dx="1.0">100</tspan></text><text transform="translate(567.3 309.07) scale(0.95 1)" font-size="7.5" text-anchor="end">&#8722;<tspan dx="1.0">200</tspan></text><text transform="translate(567.3 328.46) scale(0.95 1)" font-size="7.5" text-anchor="end">&#8722;<tspan dx="1.0">300</tspan></text><text transform="translate(604.92 349.2) scale(0.95 1)" font-size="7.5" text-anchor="middle">&#8722;<tspan dx="1.0">200</tspan></text><text transform="translate(643.8 349.2) scale(0.95 1)" font-size="7.5" text-anchor="middle">0</text><text transform="translate(682.68 349.2) scale(0.95 1)" font-size="7.5" text-anchor="middle">200</text><path d="M570.9 209.74h-2M570.9 229.13h-2M570.9 248.51h-2M570.9 267.9h-2M570.9 287.29h-2M570.9 306.67h-2M570.9 326.06h-2M604.92 340.6v2M643.8 340.6v2M682.68 340.6v2" stroke="#444" stroke-width="0.6"/><text x="551.5" y="269.4" font-size="7.7" text-anchor="middle" textLength="18.4" lengthAdjust="spacingAndGlyphs" transform="rotate(-90 551.5 269.4)">y [m]</text><rect x="725.4" y="195.3" width="7.5" height="145.1" fill="url(#g12)" stroke="#444" stroke-width="0.5"/><text transform="translate(737.9 344.3) scale(0.92 1)" font-size="8.6" text-anchor="start">0</text><text transform="translate(737.9 315.28) scale(0.92 1)" font-size="8.6" text-anchor="start">2</text><text transform="translate(737.9 286.26) scale(0.92 1)" font-size="8.6" text-anchor="start">4</text><text transform="translate(737.9 257.24) scale(0.92 1)" font-size="8.6" text-anchor="start">6</text><text transform="translate(737.9 228.22) scale(0.92 1)" font-size="8.6" text-anchor="start">8</text><text transform="translate(737.9 199.2) scale(0.92 1)" font-size="8.6" text-anchor="start">10</text><path d="M732.9 340.4h2M732.9 311.38h2M732.9 282.36h2M732.9 253.34h2M732.9 224.32h2M732.9 195.3h2" stroke="#444" stroke-width="0.6"/><text x="755.3" y="271.75" font-size="7.7" text-anchor="middle" textLength="29.8" lengthAdjust="spacingAndGlyphs" transform="rotate(-90 755.3 271.75)">M [A/m]</text><g clip-path="url(#c13)"><rect x="38.5" y="430.55" width="109.5" height="72.75" fill="#440154"/><g shape-rendering="crispEdges"><path fill="#450457" d="M89.6 447.5h1.2v1.2h-1.2zM98.1 447.5h1.2v1.2h-1.2zM81.1 450h1.2v1.2h-1.2zM106.6 450h1.2v1.2h-1.2zM77.4 452.4h1.2v1.2h-1.2zM110.3 452.4h1.2v1.2h-1.2zM75 454.8h1.2v1.2h-1.2zM112.7 454.8h1.2v1.2h-1.2zM72.6 459.6h1.2v1.3h-1.2zM115.2 459.6h1.2v1.3h-1.2zM72.6 460.9h1.2v1.2h-1.2zM115.2 460.9h1.2v1.2h-1.2zM72.6 463.3h1.2v1.2h-1.2zM115.2 463.3h1.2v1.2h-1.2zM72.6 464.5h1.2v1.2h-1.2zM115.2 464.5h1.2v1.2h-1.2zM72.6 465.7h1.2v1.2h-1.2zM115.2 465.7h1.2v1.2h-1.2zM73.8 470.6h1.2v1.2h-1.2zM113.9 470.6h1.3v1.2h-1.3zM75 474.2h1.2v1.2h-1.2zM112.7 474.2h1.2v1.2h-1.2zM76.2 476.6h1.2v1.2h-1.2zM111.5 476.6h1.2v1.2h-1.2zM78.6 480.3h1.3v1.2h-1.3zM109.1 480.3h1.2v1.2h-1.2zM79.9 481.5h1.2v1.2h-1.2zM107.8 481.5h1.3v1.2h-1.3zM81.1 482.7h1.2v1.2h-1.2zM106.6 482.7h1.2v1.2h-1.2zM82.3 483.9h1.2v1.2h-1.2zM105.4 483.9h1.2v1.2h-1.2zM89.6 487.5h2.4v1.3h-2.4zM96.9 487.5h2.4v1.3h-2.4z"/><path fill="#450559" d="M90.8 447.5h7.3v1.2h-7.3zM84.7 448.7h19.5v1.3h-19.5zM82.3 450h4.9v1.2h-4.9zM101.8 450h4.8v1.2h-4.8zM79.9 451.2h3.6v1.2h-3.6zM105.4 451.2h3.7v1.2h-3.7zM78.6 452.4h2.5v1.2h-2.5zM107.8 452.4h2.5v1.2h-2.5zM76.2 453.6h3.7v1.2h-3.7zM109.1 453.6h3.6v1.2h-3.6zM76.2 454.8h2.4v1.2h-2.4zM110.3 454.8h2.4v1.2h-2.4zM75 456h2.4v1.2h-2.4zM111.5 456h2.4v1.2h-2.4zM73.8 457.2h2.4v1.2h-2.4zM112.7 457.2h2.5v1.2h-2.5zM73.8 458.4h2.4v1.2h-2.4zM112.7 458.4h2.5v1.2h-2.5zM73.8 459.6h2.4v1.3h-2.4zM112.7 459.6h2.5v1.3h-2.5zM73.8 460.9h1.2v1.2h-1.2zM113.9 460.9h1.3v1.2h-1.3zM72.6 462.1h2.4v1.2h-2.4zM113.9 462.1h2.5v1.2h-2.5zM73.8 463.3h1.2v1.2h-1.2zM113.9 463.3h1.3v1.2h-1.3zM73.8 464.5h2.4v1.2h-2.4zM112.7 464.5h2.5v1.2h-2.5zM73.8 465.7h2.4v1.2h-2.4zM112.7 465.7h2.5v1.2h-2.5zM73.8 466.9h2.4v1.2h-2.4zM112.7 466.9h2.5v1.2h-2.5zM73.8 468.1h2.4v1.3h-2.4zM112.7 468.1h2.5v1.3h-2.5zM73.8 469.4h2.4v1.2h-2.4zM112.7 469.4h2.5v1.2h-2.5zM75 470.6h2.4v1.2h-2.4zM111.5 470.6h2.4v1.2h-2.4zM75 471.8h2.4v1.2h-2.4zM111.5 471.8h2.4v1.2h-2.4zM75 473h2.4v1.2h-2.4zM111.5 473h2.4v1.2h-2.4zM76.2 474.2h2.4v1.2h-2.4zM110.3 474.2h2.4v1.2h-2.4zM76.2 475.4h2.4v1.2h-2.4zM110.3 475.4h2.4v1.2h-2.4zM77.4 476.6h2.5v1.2h-2.5zM109.1 476.6h2.4v1.2h-2.4zM77.4 477.8h3.7v1.2h-3.7zM107.8 477.8h3.7v1.2h-3.7zM78.6 479h3.7v1.3h-3.7zM106.6 479h3.7v1.3h-3.7zM79.9 480.3h3.6v1.2h-3.6zM105.4 480.3h3.7v1.2h-3.7zM81.1 481.5h3.6v1.2h-3.6zM104.2 481.5h3.6v1.2h-3.6zM82.3 482.7h3.7v1.2h-3.7zM103 482.7h3.6v1.2h-3.6zM83.5 483.9h4.9v1.2h-4.9zM100.6 483.9h4.8v1.2h-4.8zM84.7 485.1h19.5v1.2h-19.5zM87.2 486.3h14.6v1.2h-14.6zM92 487.5h4.9v1.3h-4.9z"/><path fill="#46085c" d="M87.2 450h6v1.2h-6zM95.7 450h6.1v1.2h-6.1zM83.5 451.2h3.7v1.2h-3.7zM101.8 451.2h3.6v1.2h-3.6zM81.1 452.4h2.4v1.2h-2.4zM105.4 452.4h2.4v1.2h-2.4zM79.9 453.6h2.4v1.2h-2.4zM106.6 453.6h2.5v1.2h-2.5zM78.6 454.8h1.3v1.2h-1.3zM109.1 454.8h1.2v1.2h-1.2zM77.4 456h1.2v1.2h-1.2zM110.3 456h1.2v1.2h-1.2zM76.2 457.2h2.4v1.2h-2.4zM110.3 457.2h2.4v1.2h-2.4zM76.2 458.4h1.2v1.2h-1.2zM111.5 458.4h1.2v1.2h-1.2zM76.2 459.6h1.2v1.3h-1.2zM111.5 459.6h1.2v1.3h-1.2zM75 460.9h2.4v1.2h-2.4zM111.5 460.9h2.4v1.2h-2.4zM75 462.1h2.4v1.2h-2.4zM111.5 462.1h2.4v1.2h-2.4zM75 463.3h2.4v1.2h-2.4zM111.5 463.3h2.4v1.2h-2.4zM76.2 464.5h1.2v1.2h-1.2zM111.5 464.5h1.2v1.2h-1.2zM76.2 465.7h1.2v1.2h-1.2zM111.5 465.7h1.2v1.2h-1.2zM76.2 466.9h1.2v1.2h-1.2zM111.5 466.9h1.2v1.2h-1.2zM76.2 468.1h1.2v1.3h-1.2zM111.5 468.1h1.2v1.3h-1.2zM76.2 469.4h2.4v1.2h-2.4zM110.3 469.4h2.4v1.2h-2.4zM77.4 470.6h1.2v1.2h-1.2zM110.3 470.6h1.2v1.2h-1.2zM77.4 471.8h1.2v1.2h-1.2zM110.3 471.8h1.2v1.2h-1.2zM77.4 473h2.5v1.2h-2.5zM109.1 473h2.4v1.2h-2.4zM78.6 474.2h2.5v1.2h-2.5zM107.8 474.2h2.5v1.2h-2.5zM78.6 475.4h2.5v1.2h-2.5zM107.8 475.4h2.5v1.2h-2.5zM79.9 476.6h2.4v1.2h-2.4zM106.6 476.6h2.5v1.2h-2.5zM81.1 477.8h2.4v1.2h-2.4zM105.4 477.8h2.4v1.2h-2.4zM82.3 479h2.4v1.3h-2.4zM104.2 479h2.4v1.3h-2.4zM83.5 480.3h2.5v1.2h-2.5zM103 480.3h2.4v1.2h-2.4zM84.7 481.5h3.7v1.2h-3.7zM100.6 481.5h3.6v1.2h-3.6zM86 482.7h6v1.2h-6zM96.9 482.7h6.1v1.2h-6.1zM88.4 483.9h12.2v1.2h-12.2z"/><path fill="#460a5d" d="M93.2 450h2.5v1.2h-2.5zM87.2 451.2h2.4v1.2h-2.4zM99.3 451.2h2.5v1.2h-2.5zM83.5 452.4h2.5v1.2h-2.5zM103 452.4h2.4v1.2h-2.4zM82.3 453.6h1.2v1.2h-1.2zM105.4 453.6h1.2v1.2h-1.2zM79.9 454.8h2.4v1.2h-2.4zM106.6 454.8h2.5v1.2h-2.5zM78.6 456h2.5v1.2h-2.5zM107.8 456h2.5v1.2h-2.5zM78.6 457.2h1.3v1.2h-1.3zM109.1 457.2h1.2v1.2h-1.2zM77.4 458.4h1.2v1.2h-1.2zM110.3 458.4h1.2v1.2h-1.2zM77.4 459.6h1.2v1.3h-1.2zM110.3 459.6h1.2v1.3h-1.2zM77.4 460.9h1.2v1.2h-1.2zM110.3 460.9h1.2v1.2h-1.2zM77.4 462.1h1.2v1.2h-1.2zM110.3 462.1h1.2v1.2h-1.2zM77.4 463.3h1.2v1.2h-1.2zM110.3 463.3h1.2v1.2h-1.2zM77.4 464.5h1.2v1.2h-1.2zM110.3 464.5h1.2v1.2h-1.2zM77.4 465.7h1.2v1.2h-1.2zM110.3 465.7h1.2v1.2h-1.2zM77.4 466.9h1.2v1.2h-1.2zM110.3 466.9h1.2v1.2h-1.2zM77.4 468.1h2.5v1.3h-2.5zM109.1 468.1h2.4v1.3h-2.4zM78.6 469.4h1.3v1.2h-1.3zM109.1 469.4h1.2v1.2h-1.2zM78.6 470.6h1.3v1.2h-1.3zM109.1 470.6h1.2v1.2h-1.2zM78.6 471.8h2.5v1.2h-2.5zM107.8 471.8h2.5v1.2h-2.5zM79.9 473h1.2v1.2h-1.2zM107.8 473h1.3v1.2h-1.3zM81.1 474.2h1.2v1.2h-1.2zM106.6 474.2h1.2v1.2h-1.2zM81.1 475.4h2.4v1.2h-2.4zM105.4 475.4h2.4v1.2h-2.4zM82.3 476.6h1.2v1.2h-1.2zM105.4 476.6h1.2v1.2h-1.2zM83.5 477.8h2.5v1.2h-2.5zM103 477.8h2.4v1.2h-2.4zM84.7 479h2.5v1.3h-2.5zM101.8 479h2.4v1.3h-2.4zM86 480.3h3.6v1.2h-3.6zM99.3 480.3h3.7v1.2h-3.7zM88.4 481.5h12.2v1.2h-12.2zM92 482.7h4.9v1.2h-4.9z"/><path fill="#460b5e" d="M89.6 451.2h9.7v1.2h-9.7zM86 452.4h2.4v1.2h-2.4zM100.6 452.4h2.4v1.2h-2.4zM83.5 453.6h1.2v1.2h-1.2zM104.2 453.6h1.2v1.2h-1.2zM82.3 454.8h1.2v1.2h-1.2zM105.4 454.8h1.2v1.2h-1.2zM81.1 456h1.2v1.2h-1.2zM106.6 456h1.2v1.2h-1.2zM79.9 457.2h1.2v1.2h-1.2zM107.8 457.2h1.3v1.2h-1.3zM78.6 458.4h1.3v1.2h-1.3zM109.1 458.4h1.2v1.2h-1.2zM78.6 459.6h1.3v1.3h-1.3zM109.1 459.6h1.2v1.3h-1.2zM78.6 460.9h1.3v1.2h-1.3zM109.1 460.9h1.2v1.2h-1.2zM78.6 462.1h1.3v1.2h-1.3zM109.1 462.1h1.2v1.2h-1.2zM78.6 463.3h1.3v1.2h-1.3zM109.1 463.3h1.2v1.2h-1.2zM78.6 464.5h1.3v1.2h-1.3zM109.1 464.5h1.2v1.2h-1.2zM78.6 465.7h1.3v1.2h-1.3zM109.1 465.7h1.2v1.2h-1.2zM78.6 466.9h1.3v1.2h-1.3zM109.1 466.9h1.2v1.2h-1.2zM79.9 468.1h1.2v1.3h-1.2zM107.8 468.1h1.3v1.3h-1.3zM79.9 469.4h1.2v1.2h-1.2zM107.8 469.4h1.3v1.2h-1.3zM79.9 470.6h1.2v1.2h-1.2zM107.8 470.6h1.3v1.2h-1.3zM81.1 471.8h1.2v1.2h-1.2zM106.6 471.8h1.2v1.2h-1.2zM81.1 473h1.2v1.2h-1.2zM106.6 473h1.2v1.2h-1.2zM82.3 474.2h1.2v1.2h-1.2zM105.4 474.2h1.2v1.2h-1.2zM83.5 475.4h1.2v1.2h-1.2zM104.2 475.4h1.2v1.2h-1.2zM83.5 476.6h2.5v1.2h-2.5zM103 476.6h2.4v1.2h-2.4zM86 477.8h1.2v1.2h-1.2zM101.8 477.8h1.2v1.2h-1.2zM87.2 479h2.4v1.3h-2.4zM99.3 479h2.5v1.3h-2.5zM89.6 480.3h9.7v1.2h-9.7z"/><path fill="#470d60" d="M88.4 452.4h3.6v1.2h-3.6zM96.9 452.4h3.7v1.2h-3.7zM84.7 453.6h2.5v1.2h-2.5zM101.8 453.6h2.4v1.2h-2.4zM83.5 454.8h1.2v1.2h-1.2zM104.2 454.8h1.2v1.2h-1.2zM82.3 456h1.2v1.2h-1.2zM105.4 456h1.2v1.2h-1.2zM81.1 457.2h1.2v1.2h-1.2zM106.6 457.2h1.2v1.2h-1.2zM79.9 458.4h1.2v1.2h-1.2zM107.8 458.4h1.3v1.2h-1.3zM79.9 459.6h1.2v1.3h-1.2zM107.8 459.6h1.3v1.3h-1.3zM79.9 460.9h1.2v1.2h-1.2zM107.8 460.9h1.3v1.2h-1.3zM79.9 463.3h1.2v1.2h-1.2zM107.8 463.3h1.3v1.2h-1.3zM79.9 464.5h1.2v1.2h-1.2zM107.8 464.5h1.3v1.2h-1.3zM79.9 465.7h1.2v1.2h-1.2zM107.8 465.7h1.3v1.2h-1.3zM79.9 466.9h1.2v1.2h-1.2zM107.8 466.9h1.3v1.2h-1.3zM81.1 469.4h1.2v1.2h-1.2zM106.6 469.4h1.2v1.2h-1.2zM81.1 470.6h1.2v1.2h-1.2zM106.6 470.6h1.2v1.2h-1.2zM82.3 471.8h1.2v1.2h-1.2zM105.4 471.8h1.2v1.2h-1.2zM82.3 473h1.2v1.2h-1.2zM105.4 473h1.2v1.2h-1.2zM83.5 474.2h1.2v1.2h-1.2zM104.2 474.2h1.2v1.2h-1.2zM84.7 475.4h1.3v1.2h-1.3zM103 475.4h1.2v1.2h-1.2zM86 476.6h1.2v1.2h-1.2zM101.8 476.6h1.2v1.2h-1.2zM87.2 477.8h2.4v1.2h-2.4zM99.3 477.8h2.5v1.2h-2.5zM89.6 479h9.7v1.3h-9.7z"/><path fill="#471063" d="M92 452.4h4.9v1.2h-4.9zM87.2 453.6h1.2v1.2h-1.2zM100.6 453.6h1.2v1.2h-1.2zM84.7 454.8h1.3v1.2h-1.3zM103 454.8h1.2v1.2h-1.2zM83.5 456h1.2v1.2h-1.2zM104.2 456h1.2v1.2h-1.2zM82.3 457.2h1.2v1.2h-1.2zM105.4 457.2h1.2v1.2h-1.2zM81.1 458.4h1.2v1.2h-1.2zM106.6 458.4h1.2v1.2h-1.2zM79.9 462.1h1.2v1.2h-1.2zM107.8 462.1h1.3v1.2h-1.3zM81.1 465.7h1.2v1.2h-1.2zM106.6 465.7h1.2v1.2h-1.2zM81.1 466.9h1.2v1.2h-1.2zM106.6 466.9h1.2v1.2h-1.2zM81.1 468.1h1.2v1.3h-1.2zM106.6 468.1h1.2v1.3h-1.2zM82.3 469.4h1.2v1.2h-1.2zM105.4 469.4h1.2v1.2h-1.2zM82.3 470.6h1.2v1.2h-1.2zM105.4 470.6h1.2v1.2h-1.2zM83.5 471.8h1.2v1.2h-1.2zM104.2 471.8h1.2v1.2h-1.2zM83.5 473h1.2v1.2h-1.2zM104.2 473h1.2v1.2h-1.2zM84.7 474.2h1.3v1.2h-1.3zM103 474.2h1.2v1.2h-1.2zM86 475.4h2.4v1.2h-2.4zM100.6 475.4h2.4v1.2h-2.4zM87.2 476.6h2.4v1.2h-2.4zM99.3 476.6h2.5v1.2h-2.5zM89.6 477.8h9.7v1.2h-9.7z"/><path fill="#471164" d="M88.4 453.6h2.4v1.2h-2.4zM98.1 453.6h2.5v1.2h-2.5zM86 454.8h1.2v1.2h-1.2zM101.8 454.8h1.2v1.2h-1.2zM82.3 458.4h1.2v1.2h-1.2zM105.4 458.4h1.2v1.2h-1.2zM81.1 459.6h1.2v1.3h-1.2zM106.6 459.6h1.2v1.3h-1.2zM81.1 460.9h1.2v1.2h-1.2zM106.6 460.9h1.2v1.2h-1.2zM81.1 462.1h1.2v1.2h-1.2zM106.6 462.1h1.2v1.2h-1.2zM81.1 463.3h1.2v1.2h-1.2zM106.6 463.3h1.2v1.2h-1.2zM81.1 464.5h1.2v1.2h-1.2zM106.6 464.5h1.2v1.2h-1.2zM82.3 466.9h1.2v1.2h-1.2zM105.4 466.9h1.2v1.2h-1.2zM82.3 468.1h1.2v1.3h-1.2zM105.4 468.1h1.2v1.3h-1.2zM83.5 470.6h1.2v1.2h-1.2zM104.2 470.6h1.2v1.2h-1.2zM84.7 471.8h1.3v1.2h-1.3zM103 471.8h1.2v1.2h-1.2zM84.7 473h1.3v1.2h-1.3zM103 473h1.2v1.2h-1.2zM86 474.2h1.2v1.2h-1.2zM101.8 474.2h1.2v1.2h-1.2zM88.4 475.4h1.2v1.2h-1.2zM99.3 475.4h1.3v1.2h-1.3zM89.6 476.6h3.6v1.2h-3.6zM95.7 476.6h3.6v1.2h-3.6z"/><path fill="#471365" d="M90.8 453.6h7.3v1.2h-7.3zM87.2 454.8h1.2v1.2h-1.2zM100.6 454.8h1.2v1.2h-1.2zM84.7 456h1.3v1.2h-1.3zM103 456h1.2v1.2h-1.2zM83.5 457.2h1.2v1.2h-1.2zM104.2 457.2h1.2v1.2h-1.2zM82.3 459.6h1.2v1.3h-1.2zM105.4 459.6h1.2v1.3h-1.2zM82.3 460.9h1.2v1.2h-1.2zM105.4 460.9h1.2v1.2h-1.2zM82.3 462.1h1.2v1.2h-1.2zM105.4 462.1h1.2v1.2h-1.2zM82.3 463.3h1.2v1.2h-1.2zM105.4 463.3h1.2v1.2h-1.2zM82.3 464.5h1.2v1.2h-1.2zM105.4 464.5h1.2v1.2h-1.2zM82.3 465.7h1.2v1.2h-1.2zM105.4 465.7h1.2v1.2h-1.2zM83.5 468.1h1.2v1.3h-1.2zM104.2 468.1h1.2v1.3h-1.2zM83.5 469.4h1.2v1.2h-1.2zM104.2 469.4h1.2v1.2h-1.2zM84.7 470.6h1.3v1.2h-1.3zM103 470.6h1.2v1.2h-1.2zM86 473h1.2v1.2h-1.2zM101.8 473h1.2v1.2h-1.2zM87.2 474.2h2.4v1.2h-2.4zM99.3 474.2h2.5v1.2h-2.5zM89.6 475.4h2.4v1.2h-2.4zM96.9 475.4h2.4v1.2h-2.4zM93.2 476.6h2.5v1.2h-2.5z"/><path fill="#481668" d="M88.4 454.8h2.4v1.2h-2.4zM98.1 454.8h2.5v1.2h-2.5zM86 456h1.2v1.2h-1.2zM101.8 456h1.2v1.2h-1.2zM84.7 457.2h1.3v1.2h-1.3zM103 457.2h1.2v1.2h-1.2zM83.5 458.4h1.2v1.2h-1.2zM104.2 458.4h1.2v1.2h-1.2zM83.5 465.7h1.2v1.2h-1.2zM104.2 465.7h1.2v1.2h-1.2zM83.5 466.9h1.2v1.2h-1.2zM104.2 466.9h1.2v1.2h-1.2zM84.7 469.4h1.3v1.2h-1.3zM103 469.4h1.2v1.2h-1.2zM86 470.6h1.2v1.2h-1.2zM101.8 470.6h1.2v1.2h-1.2zM86 471.8h1.2v1.2h-1.2zM101.8 471.8h1.2v1.2h-1.2zM87.2 473h2.4v1.2h-2.4zM99.3 473h2.5v1.2h-2.5zM89.6 474.2h1.2v1.2h-1.2zM98.1 474.2h1.2v1.2h-1.2zM92 475.4h4.9v1.2h-4.9z"/><path fill="#481769" d="M90.8 454.8h2.4v1.2h-2.4zM95.7 454.8h2.4v1.2h-2.4zM87.2 456h1.2v1.2h-1.2zM100.6 456h1.2v1.2h-1.2zM86 457.2h1.2v1.2h-1.2zM101.8 457.2h1.2v1.2h-1.2zM84.7 458.4h1.3v1.2h-1.3zM103 458.4h1.2v1.2h-1.2zM83.5 459.6h1.2v1.3h-1.2zM104.2 459.6h1.2v1.3h-1.2zM83.5 460.9h1.2v1.2h-1.2zM104.2 460.9h1.2v1.2h-1.2zM83.5 462.1h1.2v1.2h-1.2zM104.2 462.1h1.2v1.2h-1.2zM83.5 463.3h1.2v1.2h-1.2zM104.2 463.3h1.2v1.2h-1.2zM83.5 464.5h1.2v1.2h-1.2zM104.2 464.5h1.2v1.2h-1.2zM84.7 466.9h1.3v1.2h-1.3zM103 466.9h1.2v1.2h-1.2zM84.7 468.1h1.3v1.3h-1.3zM103 468.1h1.2v1.3h-1.2zM86 469.4h1.2v1.2h-1.2zM101.8 469.4h1.2v1.2h-1.2zM87.2 471.8h1.2v1.2h-1.2zM100.6 471.8h1.2v1.2h-1.2zM89.6 473h1.2v1.2h-1.2zM98.1 473h1.2v1.2h-1.2zM90.8 474.2h7.3v1.2h-7.3z"/><path fill="#48186a" d="M93.2 454.8h2.5v1.2h-2.5zM88.4 456h1.2v1.2h-1.2zM99.3 456h1.3v1.2h-1.3zM84.7 459.6h1.3v1.3h-1.3zM103 459.6h1.2v1.3h-1.2zM84.7 464.5h1.3v1.2h-1.3zM103 464.5h1.2v1.2h-1.2zM84.7 465.7h1.3v1.2h-1.3zM103 465.7h1.2v1.2h-1.2zM86 468.1h1.2v1.3h-1.2zM101.8 468.1h1.2v1.3h-1.2zM87.2 470.6h1.2v1.2h-1.2zM100.6 470.6h1.2v1.2h-1.2zM88.4 471.8h2.4v1.2h-2.4zM98.1 471.8h2.5v1.2h-2.5zM90.8 473h7.3v1.2h-7.3z"/><path fill="#481a6c" d="M89.6 456h2.4v1.2h-2.4zM96.9 456h2.4v1.2h-2.4zM87.2 457.2h1.2v1.2h-1.2zM100.6 457.2h1.2v1.2h-1.2zM86 458.4h1.2v1.2h-1.2zM101.8 458.4h1.2v1.2h-1.2zM84.7 460.9h1.3v1.2h-1.3zM103 460.9h1.2v1.2h-1.2zM84.7 462.1h1.3v1.2h-1.3zM103 462.1h1.2v1.2h-1.2zM84.7 463.3h1.3v1.2h-1.3zM103 463.3h1.2v1.2h-1.2zM86 466.9h1.2v1.2h-1.2zM101.8 466.9h1.2v1.2h-1.2zM87.2 469.4h1.2v1.2h-1.2zM100.6 469.4h1.2v1.2h-1.2zM88.4 470.6h1.2v1.2h-1.2zM99.3 470.6h1.3v1.2h-1.3zM90.8 471.8h1.2v1.2h-1.2zM96.9 471.8h1.2v1.2h-1.2z"/><path fill="#481c6e" d="M92 456h4.9v1.2h-4.9zM88.4 457.2h1.2v1.2h-1.2zM99.3 457.2h1.3v1.2h-1.3zM87.2 458.4h1.2v1.2h-1.2zM100.6 458.4h1.2v1.2h-1.2zM86 459.6h1.2v1.3h-1.2zM101.8 459.6h1.2v1.3h-1.2zM86 460.9h1.2v1.2h-1.2zM101.8 460.9h1.2v1.2h-1.2zM86 462.1h1.2v1.2h-1.2zM101.8 462.1h1.2v1.2h-1.2zM86 463.3h1.2v1.2h-1.2zM101.8 463.3h1.2v1.2h-1.2zM86 464.5h1.2v1.2h-1.2zM101.8 464.5h1.2v1.2h-1.2zM86 465.7h1.2v1.2h-1.2zM101.8 465.7h1.2v1.2h-1.2zM87.2 466.9h1.2v1.2h-1.2zM100.6 466.9h1.2v1.2h-1.2zM87.2 468.1h1.2v1.3h-1.2zM100.6 468.1h1.2v1.3h-1.2zM88.4 469.4h1.2v1.2h-1.2zM99.3 469.4h1.3v1.2h-1.3zM89.6 470.6h2.4v1.2h-2.4zM96.9 470.6h2.4v1.2h-2.4zM92 471.8h4.9v1.2h-4.9z"/><path fill="#481d6f" d="M89.6 457.2h1.2v1.2h-1.2zM98.1 457.2h1.2v1.2h-1.2zM87.2 459.6h1.2v1.3h-1.2zM100.6 459.6h1.2v1.3h-1.2zM87.2 465.7h1.2v1.2h-1.2zM100.6 465.7h1.2v1.2h-1.2zM88.4 468.1h1.2v1.3h-1.2zM99.3 468.1h1.3v1.3h-1.3zM89.6 469.4h1.2v1.2h-1.2zM98.1 469.4h1.2v1.2h-1.2zM92 470.6h4.9v1.2h-4.9z"/><path fill="#481f70" d="M90.8 457.2h2.4v1.2h-2.4zM95.7 457.2h2.4v1.2h-2.4zM88.4 458.4h1.2v1.2h-1.2zM99.3 458.4h1.3v1.2h-1.3zM87.2 460.9h1.2v1.2h-1.2zM100.6 460.9h1.2v1.2h-1.2zM87.2 462.1h1.2v1.2h-1.2zM100.6 462.1h1.2v1.2h-1.2zM87.2 463.3h1.2v1.2h-1.2zM100.6 463.3h1.2v1.2h-1.2zM87.2 464.5h1.2v1.2h-1.2zM100.6 464.5h1.2v1.2h-1.2zM88.4 465.7h1.2v1.2h-1.2zM99.3 465.7h1.3v1.2h-1.3zM88.4 466.9h1.2v1.2h-1.2zM99.3 466.9h1.3v1.2h-1.3zM89.6 468.1h1.2v1.3h-1.2zM98.1 468.1h1.2v1.3h-1.2zM90.8 469.4h2.4v1.2h-2.4zM95.7 469.4h2.4v1.2h-2.4z"/><path fill="#482173" d="M93.2 457.2h2.5v1.2h-2.5zM89.6 458.4h1.2v1.2h-1.2zM98.1 458.4h1.2v1.2h-1.2zM88.4 459.6h1.2v1.3h-1.2zM99.3 459.6h1.3v1.3h-1.3zM88.4 463.3h1.2v1.2h-1.2zM99.3 463.3h1.3v1.2h-1.3zM88.4 464.5h1.2v1.2h-1.2zM99.3 464.5h1.3v1.2h-1.3zM89.6 466.9h1.2v1.2h-1.2zM98.1 466.9h1.2v1.2h-1.2zM90.8 468.1h2.4v1.3h-2.4zM95.7 468.1h2.4v1.3h-2.4zM93.2 469.4h2.5v1.2h-2.5z"/><path fill="#482374" d="M90.8 458.4h2.4v1.2h-2.4zM95.7 458.4h2.4v1.2h-2.4zM89.6 459.6h1.2v1.3h-1.2zM98.1 459.6h1.2v1.3h-1.2zM88.4 460.9h1.2v1.2h-1.2zM99.3 460.9h1.3v1.2h-1.3zM88.4 462.1h1.2v1.2h-1.2zM99.3 462.1h1.3v1.2h-1.3zM89.6 464.5h1.2v1.2h-1.2zM98.1 464.5h1.2v1.2h-1.2zM89.6 465.7h1.2v1.2h-1.2zM98.1 465.7h1.2v1.2h-1.2zM90.8 466.9h2.4v1.2h-2.4zM95.7 466.9h2.4v1.2h-2.4zM93.2 468.1h2.5v1.3h-2.5z"/><path fill="#482475" d="M93.2 458.4h2.5v1.2h-2.5zM90.8 459.6h1.2v1.3h-1.2zM96.9 459.6h1.2v1.3h-1.2zM89.6 460.9h1.2v1.2h-1.2zM98.1 460.9h1.2v1.2h-1.2zM89.6 462.1h1.2v1.2h-1.2zM98.1 462.1h1.2v1.2h-1.2zM89.6 463.3h1.2v1.2h-1.2zM98.1 463.3h1.2v1.2h-1.2zM90.8 464.5h1.2v1.2h-1.2zM96.9 464.5h1.2v1.2h-1.2zM90.8 465.7h2.4v1.2h-2.4zM95.7 465.7h2.4v1.2h-2.4zM93.2 466.9h2.5v1.2h-2.5z"/><path fill="#482576" d="M92 459.6h4.9v1.3h-4.9zM90.8 460.9h1.2v1.2h-1.2zM96.9 460.9h1.2v1.2h-1.2zM90.8 462.1h1.2v1.2h-1.2zM96.9 462.1h1.2v1.2h-1.2zM90.8 463.3h1.2v1.2h-1.2zM96.9 463.3h1.2v1.2h-1.2zM92 464.5h4.9v1.2h-4.9zM93.2 465.7h2.5v1.2h-2.5z"/><path fill="#482878" d="M92 460.9h4.9v1.2h-4.9zM92 462.1h4.9v1.2h-4.9zM92 463.3h4.9v1.2h-4.9z"/></g><g shape-rendering="crispEdges"><path fill="#21918c" d="M81.1 441h26.8v1.9h-26.8z"/><path fill="#fde725" d="M81.1 442.9h26.8v4.6h-26.8z"/><path fill="#d2e21b" d="M83.5 447.5h21.9v5.2h-21.9z"/><path fill="#58c765" d="M81.1 447.5h2.4v5.2h-2.4z"/><path fill="#22a884" d="M105.4 447.5h2.5v5.2h-2.5z"/><path fill="#32648e" d="M81.1 452.7h26.8v2h-26.8z"/></g><rect x="71.35" y="429.55" width="43.8" height="3.43" fill="#fff"/><rect x="81.08" y="431.98" width="24.33" height="3.06" fill="#fff"/><path d="M78.65 435.4 H107.85 A14.6 14.55 0 0 1 78.65 435.4" fill="none" stroke="#000" stroke-width="1.2" stroke-dasharray="3.2 1.4"/><circle cx="56.75" cy="430.43" r="1.15" fill="#ff8a05"/><circle cx="71.35" cy="430.43" r="1.15" fill="#ff8a05"/><circle cx="85.95" cy="430.43" r="1.15" fill="#ff8a05"/><circle cx="100.55" cy="430.43" r="1.15" fill="#ff8a05"/><circle cx="115.15" cy="430.43" r="1.15" fill="#ff8a05"/><circle cx="129.75" cy="430.43" r="1.15" fill="#ff8a05"/></g><rect x="38.5" y="357.8" width="109.5" height="145.5" fill="none" stroke="#000" stroke-opacity="0.5" stroke-width="0.9"/><text transform="translate(35.2 360.8) scale(0.95 1)" font-size="7.5" text-anchor="end">600</text><text transform="translate(35.2 385.05) scale(0.95 1)" font-size="7.5" text-anchor="end">400</text><text transform="translate(35.2 409.3) scale(0.95 1)" font-size="7.5" text-anchor="end">200</text><text transform="translate(35.2 433.55) scale(0.95 1)" font-size="7.5" text-anchor="end">0</text><text transform="translate(35.2 457.8) scale(0.95 1)" font-size="7.5" text-anchor="end">&#8722;<tspan dx="1.0">200</tspan></text><text transform="translate(35.2 482.05) scale(0.95 1)" font-size="7.5" text-anchor="end">&#8722;<tspan dx="1.0">400</tspan></text><text transform="translate(35.2 506.3) scale(0.95 1)" font-size="7.5" text-anchor="end">&#8722;<tspan dx="1.0">600</tspan></text><text transform="translate(44.58 511.9) scale(0.95 1)" font-size="7.5" text-anchor="middle">&#8722;<tspan dx="1.0">400</tspan></text><text transform="translate(68.92 511.9) scale(0.95 1)" font-size="7.5" text-anchor="middle">&#8722;<tspan dx="1.0">200</tspan></text><text transform="translate(93.25 511.9) scale(0.95 1)" font-size="7.5" text-anchor="middle">0</text><text transform="translate(117.58 511.9) scale(0.95 1)" font-size="7.5" text-anchor="middle">200</text><text transform="translate(141.92 511.9) scale(0.95 1)" font-size="7.5" text-anchor="middle">400</text><path d="M38.5 357.8h-2M38.5 382.05h-2M38.5 406.3h-2M38.5 430.55h-2M38.5 454.8h-2M38.5 479.05h-2M38.5 503.3h-2M44.58 503.3v2M68.92 503.3v2M93.25 503.3v2M117.58 503.3v2M141.92 503.3v2" stroke="#444" stroke-width="0.6"/><text x="19.6" y="432.55" font-size="7.7" text-anchor="middle" textLength="18.4" lengthAdjust="spacingAndGlyphs" transform="rotate(-90 19.6 432.55)">z [m]</text><text x="88.4" y="524" font-size="10.2" text-anchor="middle">x [m]</text><text x="43" y="375.5" font-size="14" text-anchor="start" textLength="42.6" lengthAdjust="spacingAndGlyphs">landed</text><g clip-path="url(#c14)"><rect x="189.3" y="357.9" width="145.5" height="145.9" fill="#440154"/><g shape-rendering="crispEdges"><path fill="#450559" d="M188.3 356.9h44.7v2h-44.7zM297 356.9h38.8v2h-38.8zM188.3 358.9h44.7v1.9h-44.7zM297 358.9h38.8v1.9h-38.8zM188.3 360.8h42.7v2h-42.7zM298.9 360.8h36.9v2h-36.9zM188.3 362.8h42.7v1.9h-42.7zM298.9 362.8h36.9v1.9h-36.9zM188.3 364.7h40.8v2h-40.8zM300.8 364.7h35v2h-35zM188.3 366.7h40.8v1.9h-40.8zM300.8 366.7h35v1.9h-35zM188.3 368.6h40.8v1.9h-40.8zM300.8 368.6h35v1.9h-35zM188.3 370.5h38.8v2h-38.8zM302.8 370.5h33v2h-33zM188.3 372.5h38.8v1.9h-38.8zM302.8 372.5h33v1.9h-33zM188.3 374.4h38.8v2h-38.8zM302.8 374.4h33v2h-33zM188.3 376.4h36.9v1.9h-36.9zM304.7 376.4h31.1v1.9h-31.1zM188.3 378.3h36.9v2h-36.9zM304.7 378.3h31.1v2h-31.1zM188.3 380.3h36.9v1.9h-36.9zM304.7 380.3h31.1v1.9h-31.1zM188.3 382.2h34.9v2h-34.9zM306.7 382.2h29.1v2h-29.1zM188.3 384.2h34.9v1.9h-34.9zM306.7 384.2h29.1v1.9h-29.1zM188.3 386.1h33v2h-33zM308.6 386.1h27.2v2h-27.2zM188.3 388.1h33v1.9h-33zM308.6 388.1h27.2v1.9h-27.2zM188.3 390h33v1.9h-33zM308.6 390h27.2v1.9h-27.2zM188.3 391.9h31.1v2h-31.1zM310.6 391.9h25.2v2h-25.2zM188.3 393.9h31.1v1.9h-31.1zM310.6 393.9h25.2v1.9h-25.2zM188.3 395.8h31.1v2h-31.1zM310.6 395.8h25.2v2h-25.2zM188.3 397.8h29.1v1.9h-29.1zM312.5 397.8h23.3v1.9h-23.3zM188.3 399.7h29.1v2h-29.1zM312.5 399.7h23.3v2h-23.3zM188.3 401.7h29.1v1.9h-29.1zM312.5 401.7h23.3v1.9h-23.3zM188.3 403.6h27.2v2h-27.2zM314.4 403.6h21.4v2h-21.4zM188.3 405.6h27.2v1.9h-27.2zM314.4 405.6h21.4v1.9h-21.4zM188.3 407.5h27.2v2h-27.2zM314.4 407.5h21.4v2h-21.4zM188.3 409.5h27.2v1.9h-27.2zM314.4 409.5h21.4v1.9h-21.4zM188.3 411.4h27.2v1.9h-27.2zM314.4 411.4h21.4v1.9h-21.4zM188.3 413.3h27.2v2h-27.2zM314.4 413.3h21.4v2h-21.4zM188.3 415.3h27.2v1.9h-27.2zM314.4 415.3h21.4v1.9h-21.4zM188.3 417.2h27.2v2h-27.2zM314.4 417.2h21.4v2h-21.4zM188.3 419.2h27.2v1.9h-27.2zM314.4 419.2h21.4v1.9h-21.4zM188.3 421.1h27.2v2h-27.2zM314.4 421.1h21.4v2h-21.4zM188.3 423.1h27.2v1.9h-27.2zM314.4 423.1h21.4v1.9h-21.4zM188.3 425h27.2v2h-27.2zM314.4 425h21.4v2h-21.4zM188.3 427h27.2v1.9h-27.2zM314.4 427h21.4v1.9h-21.4zM188.3 428.9h27.2v1.9h-27.2zM314.4 428.9h21.4v1.9h-21.4zM188.3 430.8h27.2v2h-27.2zM314.4 430.8h21.4v2h-21.4zM188.3 432.8h27.2v1.9h-27.2zM314.4 432.8h21.4v1.9h-21.4zM188.3 434.7h27.2v2h-27.2zM314.4 434.7h21.4v2h-21.4zM188.3 436.7h27.2v1.9h-27.2zM314.4 436.7h21.4v1.9h-21.4zM188.3 438.6h27.2v2h-27.2zM314.4 438.6h21.4v2h-21.4zM188.3 440.6h27.2v1.9h-27.2zM314.4 440.6h21.4v1.9h-21.4zM188.3 442.5h27.2v2h-27.2zM314.4 442.5h21.4v2h-21.4zM188.3 444.5h27.2v1.9h-27.2zM314.4 444.5h21.4v1.9h-21.4zM188.3 446.4h27.2v2h-27.2zM314.4 446.4h21.4v2h-21.4zM188.3 448.4h27.2v1.9h-27.2zM314.4 448.4h21.4v1.9h-21.4zM188.3 450.3h27.2v1.9h-27.2zM314.4 450.3h21.4v1.9h-21.4zM188.3 452.2h27.2v2h-27.2zM314.4 452.2h21.4v2h-21.4zM188.3 454.2h27.2v1.9h-27.2zM314.4 454.2h21.4v1.9h-21.4zM188.3 456.1h27.2v2h-27.2zM314.4 456.1h21.4v2h-21.4zM188.3 458.1h29.1v1.9h-29.1zM312.5 458.1h23.3v1.9h-23.3zM188.3 460h29.1v2h-29.1zM312.5 460h23.3v2h-23.3zM188.3 462h29.1v1.9h-29.1zM312.5 462h23.3v1.9h-23.3zM188.3 463.9h31.1v2h-31.1zM310.6 463.9h25.2v2h-25.2zM188.3 465.9h31.1v1.9h-31.1zM310.6 465.9h25.2v1.9h-25.2zM188.3 467.8h31.1v2h-31.1zM310.6 467.8h25.2v2h-25.2zM188.3 469.8h33v1.9h-33zM308.6 469.8h27.2v1.9h-27.2zM188.3 471.7h33v1.9h-33zM308.6 471.7h27.2v1.9h-27.2zM188.3 473.6h33v2h-33zM308.6 473.6h27.2v2h-27.2zM188.3 475.6h34.9v1.9h-34.9zM306.7 475.6h29.1v1.9h-29.1zM188.3 477.5h34.9v2h-34.9zM306.7 477.5h29.1v2h-29.1zM188.3 479.5h36.9v1.9h-36.9zM304.7 479.5h31.1v1.9h-31.1zM188.3 481.4h36.9v2h-36.9zM304.7 481.4h31.1v2h-31.1zM188.3 483.4h36.9v1.9h-36.9zM304.7 483.4h31.1v1.9h-31.1zM188.3 485.3h38.8v2h-38.8zM302.8 485.3h33v2h-33zM188.3 487.3h38.8v1.9h-38.8zM302.8 487.3h33v1.9h-33zM188.3 489.2h38.8v2h-38.8zM302.8 489.2h33v2h-33zM188.3 491.2h40.8v1.9h-40.8zM300.8 491.2h35v1.9h-35zM188.3 493.1h40.8v1.9h-40.8zM300.8 493.1h35v1.9h-35zM188.3 495h40.8v2h-40.8zM300.8 495h35v2h-35zM188.3 497h42.7v1.9h-42.7zM298.9 497h36.9v1.9h-36.9zM188.3 498.9h42.7v2h-42.7zM298.9 498.9h36.9v2h-36.9zM188.3 500.9h44.7v1.9h-44.7zM297 500.9h38.8v1.9h-38.8zM188.3 502.8h44.7v2h-44.7zM297 502.8h38.8v2h-38.8z"/><path fill="#46085c" d="M233 356.9h7.7v2h-7.7zM289.2 356.9h7.8v2h-7.8zM233 358.9h7.7v1.9h-7.7zM289.2 358.9h7.8v1.9h-7.8zM231 360.8h9.7v2h-9.7zM289.2 360.8h9.7v2h-9.7zM231 362.8h7.8v1.9h-7.8zM291.2 362.8h7.7v1.9h-7.7zM229.1 364.7h9.7v2h-9.7zM291.2 364.7h9.6v2h-9.6zM229.1 366.7h9.7v1.9h-9.7zM291.2 366.7h9.6v1.9h-9.6zM229.1 368.6h7.7v1.9h-7.7zM293.1 368.6h7.7v1.9h-7.7zM227.1 370.5h9.7v2h-9.7zM293.1 370.5h9.7v2h-9.7zM227.1 372.5h7.8v1.9h-7.8zM295 372.5h7.8v1.9h-7.8zM227.1 374.4h7.8v2h-7.8zM295 374.4h7.8v2h-7.8zM225.2 376.4h9.7v1.9h-9.7zM295 376.4h9.7v1.9h-9.7zM225.2 378.3h7.8v2h-7.8zM297 378.3h7.7v2h-7.7zM225.2 380.3h7.8v1.9h-7.8zM297 380.3h7.7v1.9h-7.7zM223.2 382.2h9.8v2h-9.8zM297 382.2h9.7v2h-9.7zM223.2 384.2h7.8v1.9h-7.8zM298.9 384.2h7.8v1.9h-7.8zM221.3 386.1h9.7v2h-9.7zM298.9 386.1h9.7v2h-9.7zM221.3 388.1h9.7v1.9h-9.7zM298.9 388.1h9.7v1.9h-9.7zM221.3 390h7.8v1.9h-7.8zM300.8 390h7.8v1.9h-7.8zM219.4 391.9h9.7v2h-9.7zM300.8 391.9h9.8v2h-9.8zM219.4 393.9h7.7v1.9h-7.7zM302.8 393.9h7.8v1.9h-7.8zM219.4 395.8h7.7v2h-7.7zM302.8 395.8h7.8v2h-7.8zM217.4 397.8h9.7v1.9h-9.7zM302.8 397.8h9.7v1.9h-9.7zM217.4 399.7h7.8v2h-7.8zM304.7 399.7h7.8v2h-7.8zM217.4 401.7h7.8v1.9h-7.8zM304.7 401.7h7.8v1.9h-7.8zM215.5 403.6h9.7v2h-9.7zM304.7 403.6h9.7v2h-9.7zM215.5 405.6h9.7v1.9h-9.7zM304.7 405.6h9.7v1.9h-9.7zM215.5 407.5h9.7v2h-9.7zM304.7 407.5h9.7v2h-9.7zM215.5 409.5h9.7v1.9h-9.7zM304.7 409.5h9.7v1.9h-9.7zM215.5 411.4h9.7v1.9h-9.7zM304.7 411.4h9.7v1.9h-9.7zM215.5 413.3h9.7v2h-9.7zM304.7 413.3h9.7v2h-9.7zM215.5 415.3h9.7v1.9h-9.7zM304.7 415.3h9.7v1.9h-9.7zM215.5 417.2h9.7v2h-9.7zM304.7 417.2h9.7v2h-9.7zM215.5 419.2h9.7v1.9h-9.7zM304.7 419.2h9.7v1.9h-9.7zM215.5 421.1h9.7v2h-9.7zM304.7 421.1h9.7v2h-9.7zM215.5 423.1h9.7v1.9h-9.7zM304.7 423.1h9.7v1.9h-9.7zM215.5 425h9.7v2h-9.7zM304.7 425h9.7v2h-9.7zM215.5 427h9.7v1.9h-9.7zM304.7 427h9.7v1.9h-9.7zM215.5 428.9h9.7v1.9h-9.7zM304.7 428.9h9.7v1.9h-9.7zM215.5 430.8h9.7v2h-9.7zM304.7 430.8h9.7v2h-9.7zM215.5 432.8h9.7v1.9h-9.7zM304.7 432.8h9.7v1.9h-9.7zM215.5 434.7h9.7v2h-9.7zM304.7 434.7h9.7v2h-9.7zM215.5 436.7h9.7v1.9h-9.7zM304.7 436.7h9.7v1.9h-9.7zM215.5 438.6h9.7v2h-9.7zM304.7 438.6h9.7v2h-9.7zM215.5 440.6h9.7v1.9h-9.7zM304.7 440.6h9.7v1.9h-9.7zM215.5 442.5h9.7v2h-9.7zM304.7 442.5h9.7v2h-9.7zM215.5 444.5h9.7v1.9h-9.7zM304.7 444.5h9.7v1.9h-9.7zM215.5 446.4h9.7v2h-9.7zM304.7 446.4h9.7v2h-9.7zM215.5 448.4h9.7v1.9h-9.7zM304.7 448.4h9.7v1.9h-9.7zM215.5 450.3h9.7v1.9h-9.7zM304.7 450.3h9.7v1.9h-9.7zM215.5 452.2h9.7v2h-9.7zM304.7 452.2h9.7v2h-9.7zM215.5 454.2h9.7v1.9h-9.7zM304.7 454.2h9.7v1.9h-9.7zM215.5 456.1h9.7v2h-9.7zM304.7 456.1h9.7v2h-9.7zM217.4 458.1h7.8v1.9h-7.8zM304.7 458.1h7.8v1.9h-7.8zM217.4 460h7.8v2h-7.8zM304.7 460h7.8v2h-7.8zM217.4 462h9.7v1.9h-9.7zM302.8 462h9.7v1.9h-9.7zM219.4 463.9h7.7v2h-7.7zM302.8 463.9h7.8v2h-7.8zM219.4 465.9h7.7v1.9h-7.7zM302.8 465.9h7.8v1.9h-7.8zM219.4 467.8h9.7v2h-9.7zM300.8 467.8h9.8v2h-9.8zM221.3 469.8h7.8v1.9h-7.8zM300.8 469.8h7.8v1.9h-7.8zM221.3 471.7h9.7v1.9h-9.7zM298.9 471.7h9.7v1.9h-9.7zM221.3 473.6h9.7v2h-9.7zM298.9 473.6h9.7v2h-9.7zM223.2 475.6h7.8v1.9h-7.8zM298.9 475.6h7.8v1.9h-7.8zM223.2 477.5h9.8v2h-9.8zM297 477.5h9.7v2h-9.7zM225.2 479.5h7.8v1.9h-7.8zM297 479.5h7.7v1.9h-7.7zM225.2 481.4h7.8v2h-7.8zM297 481.4h7.7v2h-7.7zM225.2 483.4h9.7v1.9h-9.7zM295 483.4h9.7v1.9h-9.7zM227.1 485.3h7.8v2h-7.8zM295 485.3h7.8v2h-7.8zM227.1 487.3h7.8v1.9h-7.8zM295 487.3h7.8v1.9h-7.8zM227.1 489.2h9.7v2h-9.7zM293.1 489.2h9.7v2h-9.7zM229.1 491.2h7.7v1.9h-7.7zM293.1 491.2h7.7v1.9h-7.7zM229.1 493.1h9.7v1.9h-9.7zM291.2 493.1h9.6v1.9h-9.6zM229.1 495h9.7v2h-9.7zM291.2 495h9.6v2h-9.6zM231 497h7.8v1.9h-7.8zM291.2 497h7.7v1.9h-7.7zM231 498.9h9.7v2h-9.7zM289.2 498.9h9.7v2h-9.7zM233 500.9h7.7v1.9h-7.7zM289.2 500.9h7.8v1.9h-7.8zM233 502.8h7.7v2h-7.7zM289.2 502.8h7.8v2h-7.8z"/><path fill="#460a5d" d="M240.7 356.9h48.5v2h-48.5zM240.7 358.9h48.5v1.9h-48.5zM240.7 360.8h48.5v2h-48.5zM238.8 362.8h52.4v1.9h-52.4zM238.8 364.7h3.8v2h-3.8zM287.3 364.7h3.9v2h-3.9zM238.8 366.7h3.8v1.9h-3.8zM287.3 366.7h3.9v1.9h-3.9zM236.8 368.6h3.9v1.9h-3.9zM289.2 368.6h3.9v1.9h-3.9zM236.8 370.5h3.9v2h-3.9zM289.2 370.5h3.9v2h-3.9zM234.9 372.5h3.9v1.9h-3.9zM291.2 372.5h3.8v1.9h-3.8zM234.9 374.4h3.9v2h-3.9zM291.2 374.4h3.8v2h-3.8zM234.9 376.4h3.9v1.9h-3.9zM291.2 376.4h3.8v1.9h-3.8zM233 378.3h3.8v2h-3.8zM293.1 378.3h3.9v2h-3.9zM233 380.3h3.8v1.9h-3.8zM293.1 380.3h3.9v1.9h-3.9zM233 382.2h3.8v2h-3.8zM293.1 382.2h3.9v2h-3.9zM231 384.2h3.9v1.9h-3.9zM295 384.2h3.9v1.9h-3.9zM231 386.1h3.9v2h-3.9zM295 386.1h3.9v2h-3.9zM231 388.1h3.9v1.9h-3.9zM295 388.1h3.9v1.9h-3.9zM229.1 390h3.9v1.9h-3.9zM297 390h3.8v1.9h-3.8zM229.1 391.9h3.9v2h-3.9zM297 391.9h3.8v2h-3.8zM227.1 393.9h3.9v1.9h-3.9zM298.9 393.9h3.9v1.9h-3.9zM227.1 395.8h3.9v2h-3.9zM298.9 395.8h3.9v2h-3.9zM227.1 397.8h3.9v1.9h-3.9zM298.9 397.8h3.9v1.9h-3.9zM225.2 399.7h3.9v2h-3.9zM300.8 399.7h3.9v2h-3.9zM225.2 401.7h3.9v1.9h-3.9zM300.8 401.7h3.9v1.9h-3.9zM225.2 403.6h3.9v2h-3.9zM300.8 403.6h3.9v2h-3.9zM225.2 405.6h3.9v1.9h-3.9zM300.8 405.6h3.9v1.9h-3.9zM225.2 407.5h3.9v2h-3.9zM300.8 407.5h3.9v2h-3.9zM225.2 409.5h3.9v1.9h-3.9zM300.8 409.5h3.9v1.9h-3.9zM225.2 411.4h3.9v1.9h-3.9zM300.8 411.4h3.9v1.9h-3.9zM225.2 413.3h3.9v2h-3.9zM300.8 413.3h3.9v2h-3.9zM225.2 415.3h3.9v1.9h-3.9zM300.8 415.3h3.9v1.9h-3.9zM225.2 417.2h3.9v2h-3.9zM300.8 417.2h3.9v2h-3.9zM225.2 419.2h3.9v1.9h-3.9zM300.8 419.2h3.9v1.9h-3.9zM225.2 421.1h3.9v2h-3.9zM300.8 421.1h3.9v2h-3.9zM225.2 423.1h3.9v1.9h-3.9zM300.8 423.1h3.9v1.9h-3.9zM225.2 425h3.9v2h-3.9zM300.8 425h3.9v2h-3.9zM225.2 427h3.9v1.9h-3.9zM300.8 427h3.9v1.9h-3.9zM225.2 428.9h3.9v1.9h-3.9zM300.8 428.9h3.9v1.9h-3.9zM225.2 430.8h3.9v2h-3.9zM300.8 430.8h3.9v2h-3.9zM225.2 432.8h3.9v1.9h-3.9zM300.8 432.8h3.9v1.9h-3.9zM225.2 434.7h3.9v2h-3.9zM300.8 434.7h3.9v2h-3.9zM225.2 436.7h3.9v1.9h-3.9zM300.8 436.7h3.9v1.9h-3.9zM225.2 438.6h3.9v2h-3.9zM300.8 438.6h3.9v2h-3.9zM225.2 440.6h3.9v1.9h-3.9zM300.8 440.6h3.9v1.9h-3.9zM225.2 442.5h3.9v2h-3.9zM300.8 442.5h3.9v2h-3.9zM225.2 444.5h3.9v1.9h-3.9zM300.8 444.5h3.9v1.9h-3.9zM225.2 446.4h3.9v2h-3.9zM300.8 446.4h3.9v2h-3.9zM225.2 448.4h3.9v1.9h-3.9zM300.8 448.4h3.9v1.9h-3.9zM225.2 450.3h3.9v1.9h-3.9zM300.8 450.3h3.9v1.9h-3.9zM225.2 452.2h3.9v2h-3.9zM300.8 452.2h3.9v2h-3.9zM225.2 454.2h3.9v1.9h-3.9zM300.8 454.2h3.9v1.9h-3.9zM225.2 456.1h3.9v2h-3.9zM300.8 456.1h3.9v2h-3.9zM225.2 458.1h3.9v1.9h-3.9zM300.8 458.1h3.9v1.9h-3.9zM225.2 460h3.9v2h-3.9zM300.8 460h3.9v2h-3.9zM227.1 462h3.9v1.9h-3.9zM298.9 462h3.9v1.9h-3.9zM227.1 463.9h3.9v2h-3.9zM298.9 463.9h3.9v2h-3.9zM227.1 465.9h3.9v1.9h-3.9zM298.9 465.9h3.9v1.9h-3.9zM229.1 467.8h3.9v2h-3.9zM297 467.8h3.8v2h-3.8zM229.1 469.8h3.9v1.9h-3.9zM297 469.8h3.8v1.9h-3.8zM231 471.7h3.9v1.9h-3.9zM295 471.7h3.9v1.9h-3.9zM231 473.6h3.9v2h-3.9zM295 473.6h3.9v2h-3.9zM231 475.6h3.9v1.9h-3.9zM295 475.6h3.9v1.9h-3.9zM233 477.5h3.8v2h-3.8zM293.1 477.5h3.9v2h-3.9zM233 479.5h3.8v1.9h-3.8zM293.1 479.5h3.9v1.9h-3.9zM233 481.4h3.8v2h-3.8zM293.1 481.4h3.9v2h-3.9zM234.9 483.4h3.9v1.9h-3.9zM291.2 483.4h3.8v1.9h-3.8zM234.9 485.3h3.9v2h-3.9zM291.2 485.3h3.8v2h-3.8zM234.9 487.3h3.9v1.9h-3.9zM291.2 487.3h3.8v1.9h-3.8zM236.8 489.2h3.9v2h-3.9zM289.2 489.2h3.9v2h-3.9zM236.8 491.2h3.9v1.9h-3.9zM289.2 491.2h3.9v1.9h-3.9zM238.8 493.1h3.8v1.9h-3.8zM287.3 493.1h3.9v1.9h-3.9zM238.8 495h3.8v2h-3.8zM287.3 495h3.9v2h-3.9zM238.8 497h52.4v1.9h-52.4zM240.7 498.9h48.5v2h-48.5zM240.7 500.9h48.5v1.9h-48.5zM240.7 502.8h48.5v2h-48.5z"/><path fill="#460b5e" d="M242.6 364.7h44.7v2h-44.7zM242.6 366.7h44.7v1.9h-44.7zM240.7 368.6h48.5v1.9h-48.5zM240.7 370.5h48.5v2h-48.5zM238.8 372.5h3.8v1.9h-3.8zM287.3 372.5h3.9v1.9h-3.9zM238.8 374.4h1.9v2h-1.9zM289.2 374.4h2v2h-2zM238.8 376.4h1.9v1.9h-1.9zM289.2 376.4h2v1.9h-2zM236.8 378.3h3.9v2h-3.9zM289.2 378.3h3.9v2h-3.9zM236.8 380.3h2v1.9h-2zM291.2 380.3h1.9v1.9h-1.9zM236.8 382.2h2v2h-2zM291.2 382.2h1.9v2h-1.9zM234.9 384.2h3.9v1.9h-3.9zM291.2 384.2h3.8v1.9h-3.8zM234.9 386.1h1.9v2h-1.9zM293.1 386.1h1.9v2h-1.9zM234.9 388.1h1.9v1.9h-1.9zM293.1 388.1h1.9v1.9h-1.9zM233 390h3.8v1.9h-3.8zM293.1 390h3.9v1.9h-3.9zM233 391.9h1.9v2h-1.9zM295 391.9h2v2h-2zM231 393.9h3.9v1.9h-3.9zM295 393.9h3.9v1.9h-3.9zM231 395.8h2v2h-2zM297 395.8h1.9v2h-1.9zM231 397.8h2v1.9h-2zM297 397.8h1.9v1.9h-1.9zM229.1 399.7h3.9v2h-3.9zM297 399.7h3.8v2h-3.8zM229.1 401.7h1.9v1.9h-1.9zM298.9 401.7h1.9v1.9h-1.9zM229.1 403.6h1.9v2h-1.9zM298.9 403.6h1.9v2h-1.9zM229.1 405.6h1.9v1.9h-1.9zM298.9 405.6h1.9v1.9h-1.9zM229.1 407.5h1.9v2h-1.9zM298.9 407.5h1.9v2h-1.9zM229.1 409.5h1.9v1.9h-1.9zM298.9 409.5h1.9v1.9h-1.9zM229.1 411.4h1.9v1.9h-1.9zM298.9 411.4h1.9v1.9h-1.9zM229.1 413.3h1.9v2h-1.9zM298.9 413.3h1.9v2h-1.9zM229.1 415.3h1.9v1.9h-1.9zM298.9 415.3h1.9v1.9h-1.9zM229.1 417.2h1.9v2h-1.9zM298.9 417.2h1.9v2h-1.9zM229.1 419.2h1.9v1.9h-1.9zM298.9 419.2h1.9v1.9h-1.9zM229.1 421.1h1.9v2h-1.9zM298.9 421.1h1.9v2h-1.9zM229.1 423.1h1.9v1.9h-1.9zM298.9 423.1h1.9v1.9h-1.9zM229.1 425h1.9v2h-1.9zM298.9 425h1.9v2h-1.9zM229.1 427h1.9v1.9h-1.9zM298.9 427h1.9v1.9h-1.9zM229.1 428.9h1.9v1.9h-1.9zM298.9 428.9h1.9v1.9h-1.9zM229.1 430.8h1.9v2h-1.9zM298.9 430.8h1.9v2h-1.9zM229.1 432.8h1.9v1.9h-1.9zM298.9 432.8h1.9v1.9h-1.9zM229.1 434.7h1.9v2h-1.9zM298.9 434.7h1.9v2h-1.9zM229.1 436.7h1.9v1.9h-1.9zM298.9 436.7h1.9v1.9h-1.9zM229.1 438.6h1.9v2h-1.9zM298.9 438.6h1.9v2h-1.9zM229.1 440.6h1.9v1.9h-1.9zM298.9 440.6h1.9v1.9h-1.9zM229.1 442.5h1.9v2h-1.9zM298.9 442.5h1.9v2h-1.9zM229.1 444.5h1.9v1.9h-1.9zM298.9 444.5h1.9v1.9h-1.9zM229.1 446.4h1.9v2h-1.9zM298.9 446.4h1.9v2h-1.9zM229.1 448.4h1.9v1.9h-1.9zM298.9 448.4h1.9v1.9h-1.9zM229.1 450.3h1.9v1.9h-1.9zM298.9 450.3h1.9v1.9h-1.9zM229.1 452.2h1.9v2h-1.9zM298.9 452.2h1.9v2h-1.9zM229.1 454.2h1.9v1.9h-1.9zM298.9 454.2h1.9v1.9h-1.9zM229.1 456.1h1.9v2h-1.9zM298.9 456.1h1.9v2h-1.9zM229.1 458.1h1.9v1.9h-1.9zM298.9 458.1h1.9v1.9h-1.9zM229.1 460h3.9v2h-3.9zM297 460h3.8v2h-3.8zM231 462h2v1.9h-2zM297 462h1.9v1.9h-1.9zM231 463.9h2v2h-2zM297 463.9h1.9v2h-1.9zM231 465.9h3.9v1.9h-3.9zM295 465.9h3.9v1.9h-3.9zM233 467.8h1.9v2h-1.9zM295 467.8h2v2h-2zM233 469.8h3.8v1.9h-3.8zM293.1 469.8h3.9v1.9h-3.9zM234.9 471.7h1.9v1.9h-1.9zM293.1 471.7h1.9v1.9h-1.9zM234.9 473.6h1.9v2h-1.9zM293.1 473.6h1.9v2h-1.9zM234.9 475.6h3.9v1.9h-3.9zM291.2 475.6h3.8v1.9h-3.8zM236.8 477.5h2v2h-2zM291.2 477.5h1.9v2h-1.9zM236.8 479.5h2v1.9h-2zM291.2 479.5h1.9v1.9h-1.9zM236.8 481.4h3.9v2h-3.9zM289.2 481.4h3.9v2h-3.9zM238.8 483.4h1.9v1.9h-1.9zM289.2 483.4h2v1.9h-2zM238.8 485.3h1.9v2h-1.9zM289.2 485.3h2v2h-2zM238.8 487.3h3.8v1.9h-3.8zM287.3 487.3h3.9v1.9h-3.9zM240.7 489.2h48.5v2h-48.5zM240.7 491.2h48.5v1.9h-48.5zM242.6 493.1h44.7v1.9h-44.7zM242.6 495h44.7v2h-44.7z"/><path fill="#470d60" d="M242.6 372.5h44.7v1.9h-44.7zM240.7 374.4h48.5v2h-48.5zM240.7 376.4h48.5v1.9h-48.5zM240.7 378.3h1.9v2h-1.9zM287.3 378.3h1.9v2h-1.9zM238.8 380.3h1.9v1.9h-1.9zM289.2 380.3h2v1.9h-2zM238.8 382.2h1.9v2h-1.9zM289.2 382.2h2v2h-2zM238.8 384.2h1.9v1.9h-1.9zM289.2 384.2h2v1.9h-2zM236.8 386.1h2v2h-2zM291.2 386.1h1.9v2h-1.9zM236.8 388.1h2v1.9h-2zM291.2 388.1h1.9v1.9h-1.9zM236.8 390h2v1.9h-2zM291.2 390h1.9v1.9h-1.9zM234.9 391.9h1.9v2h-1.9zM293.1 391.9h1.9v2h-1.9zM234.9 393.9h1.9v1.9h-1.9zM293.1 393.9h1.9v1.9h-1.9zM233 395.8h1.9v2h-1.9zM295 395.8h2v2h-2zM233 397.8h1.9v1.9h-1.9zM295 397.8h2v1.9h-2zM233 399.7h1.9v2h-1.9zM295 399.7h2v2h-2zM231 401.7h2v1.9h-2zM297 401.7h1.9v1.9h-1.9zM231 403.6h2v2h-2zM297 403.6h1.9v2h-1.9zM231 405.6h2v1.9h-2zM297 405.6h1.9v1.9h-1.9zM231 407.5h2v2h-2zM297 407.5h1.9v2h-1.9zM231 409.5h2v1.9h-2zM297 409.5h1.9v1.9h-1.9zM231 411.4h2v1.9h-2zM297 411.4h1.9v1.9h-1.9zM231 413.3h2v2h-2zM297 413.3h1.9v2h-1.9zM231 415.3h2v1.9h-2zM297 415.3h1.9v1.9h-1.9zM231 417.2h2v2h-2zM297 417.2h1.9v2h-1.9zM231 419.2h2v1.9h-2zM297 419.2h1.9v1.9h-1.9zM231 421.1h2v2h-2zM297 421.1h1.9v2h-1.9zM231 423.1h2v1.9h-2zM297 423.1h1.9v1.9h-1.9zM231 425h2v2h-2zM297 425h1.9v2h-1.9zM231 427h2v1.9h-2zM297 427h1.9v1.9h-1.9zM231 428.9h2v1.9h-2zM297 428.9h1.9v1.9h-1.9zM231 430.8h2v2h-2zM297 430.8h1.9v2h-1.9zM231 432.8h2v1.9h-2zM297 432.8h1.9v1.9h-1.9zM231 434.7h2v2h-2zM297 434.7h1.9v2h-1.9zM231 436.7h2v1.9h-2zM297 436.7h1.9v1.9h-1.9zM231 438.6h2v2h-2zM297 438.6h1.9v2h-1.9zM231 440.6h2v1.9h-2zM297 440.6h1.9v1.9h-1.9zM231 442.5h2v2h-2zM297 442.5h1.9v2h-1.9zM231 444.5h2v1.9h-2zM297 444.5h1.9v1.9h-1.9zM231 446.4h2v2h-2zM297 446.4h1.9v2h-1.9zM231 448.4h2v1.9h-2zM297 448.4h1.9v1.9h-1.9zM231 450.3h2v1.9h-2zM297 450.3h1.9v1.9h-1.9zM231 452.2h2v2h-2zM297 452.2h1.9v2h-1.9zM231 454.2h2v1.9h-2zM297 454.2h1.9v1.9h-1.9zM231 456.1h2v2h-2zM297 456.1h1.9v2h-1.9zM231 458.1h2v1.9h-2zM297 458.1h1.9v1.9h-1.9zM233 460h1.9v2h-1.9zM295 460h2v2h-2zM233 462h1.9v1.9h-1.9zM295 462h2v1.9h-2zM233 463.9h1.9v2h-1.9zM295 463.9h2v2h-2zM234.9 465.9h1.9v1.9h-1.9zM293.1 465.9h1.9v1.9h-1.9zM234.9 467.8h1.9v2h-1.9zM293.1 467.8h1.9v2h-1.9zM236.8 469.8h2v1.9h-2zM291.2 469.8h1.9v1.9h-1.9zM236.8 471.7h2v1.9h-2zM291.2 471.7h1.9v1.9h-1.9zM236.8 473.6h2v2h-2zM291.2 473.6h1.9v2h-1.9zM238.8 475.6h1.9v1.9h-1.9zM289.2 475.6h2v1.9h-2zM238.8 477.5h1.9v2h-1.9zM289.2 477.5h2v2h-2zM238.8 479.5h1.9v1.9h-1.9zM289.2 479.5h2v1.9h-2zM240.7 481.4h1.9v2h-1.9zM287.3 481.4h1.9v2h-1.9zM240.7 483.4h48.5v1.9h-48.5zM240.7 485.3h48.5v2h-48.5zM242.6 487.3h44.7v1.9h-44.7z"/><path fill="#471063" d="M242.6 378.3h44.7v2h-44.7zM240.7 380.3h48.5v1.9h-48.5zM240.7 382.2h1.9v2h-1.9zM287.3 382.2h1.9v2h-1.9zM238.8 386.1h1.9v2h-1.9zM289.2 386.1h2v2h-2zM238.8 388.1h1.9v1.9h-1.9zM289.2 388.1h2v1.9h-2zM236.8 391.9h2v2h-2zM291.2 391.9h1.9v2h-1.9zM236.8 393.9h2v1.9h-2zM291.2 393.9h1.9v1.9h-1.9zM234.9 395.8h1.9v2h-1.9zM293.1 395.8h1.9v2h-1.9zM234.9 397.8h1.9v1.9h-1.9zM293.1 397.8h1.9v1.9h-1.9zM234.9 399.7h1.9v2h-1.9zM293.1 399.7h1.9v2h-1.9zM233 401.7h1.9v1.9h-1.9zM295 401.7h2v1.9h-2zM233 403.6h1.9v2h-1.9zM295 403.6h2v2h-2zM233 405.6h1.9v1.9h-1.9zM295 405.6h2v1.9h-2zM233 407.5h1.9v2h-1.9zM295 407.5h2v2h-2zM233 409.5h1.9v1.9h-1.9zM295 409.5h2v1.9h-2zM233 411.4h1.9v1.9h-1.9zM295 411.4h2v1.9h-2zM233 413.3h1.9v2h-1.9zM295 413.3h2v2h-2zM233 415.3h1.9v1.9h-1.9zM295 415.3h2v1.9h-2zM233 417.2h1.9v2h-1.9zM295 417.2h2v2h-2zM233 419.2h1.9v1.9h-1.9zM295 419.2h2v1.9h-2zM233 421.1h1.9v2h-1.9zM295 421.1h2v2h-2zM233 423.1h1.9v1.9h-1.9zM295 423.1h2v1.9h-2zM233 425h1.9v2h-1.9zM295 425h2v2h-2zM233 427h1.9v1.9h-1.9zM295 427h2v1.9h-2zM233 428.9h1.9v1.9h-1.9zM295 428.9h2v1.9h-2zM233 430.8h1.9v2h-1.9zM295 430.8h2v2h-2zM233 432.8h1.9v1.9h-1.9zM295 432.8h2v1.9h-2zM233 434.7h1.9v2h-1.9zM295 434.7h2v2h-2zM233 436.7h1.9v1.9h-1.9zM295 436.7h2v1.9h-2zM233 438.6h1.9v2h-1.9zM295 438.6h2v2h-2zM233 440.6h1.9v1.9h-1.9zM295 440.6h2v1.9h-2zM233 442.5h1.9v2h-1.9zM295 442.5h2v2h-2zM233 444.5h1.9v1.9h-1.9zM295 444.5h2v1.9h-2zM233 446.4h1.9v2h-1.9zM295 446.4h2v2h-2zM233 448.4h1.9v1.9h-1.9zM295 448.4h2v1.9h-2zM233 450.3h1.9v1.9h-1.9zM295 450.3h2v1.9h-2zM233 452.2h1.9v2h-1.9zM295 452.2h2v2h-2zM233 454.2h1.9v1.9h-1.9zM295 454.2h2v1.9h-2zM233 456.1h1.9v2h-1.9zM295 456.1h2v2h-2zM233 458.1h1.9v1.9h-1.9zM295 458.1h2v1.9h-2zM234.9 460h1.9v2h-1.9zM293.1 460h1.9v2h-1.9zM234.9 462h1.9v1.9h-1.9zM293.1 462h1.9v1.9h-1.9zM234.9 463.9h1.9v2h-1.9zM293.1 463.9h1.9v2h-1.9zM236.8 465.9h2v1.9h-2zM291.2 465.9h1.9v1.9h-1.9zM236.8 467.8h2v2h-2zM291.2 467.8h1.9v2h-1.9zM238.8 471.7h1.9v1.9h-1.9zM289.2 471.7h2v1.9h-2zM238.8 473.6h1.9v2h-1.9zM289.2 473.6h2v2h-2zM240.7 477.5h1.9v2h-1.9zM287.3 477.5h1.9v2h-1.9zM240.7 479.5h48.5v1.9h-48.5zM242.6 481.4h44.7v2h-44.7z"/><path fill="#471164" d="M242.6 382.2h44.7v2h-44.7zM240.7 384.2h48.5v1.9h-48.5zM240.7 386.1h1.9v2h-1.9zM287.3 386.1h1.9v2h-1.9zM238.8 390h1.9v1.9h-1.9zM289.2 390h2v1.9h-2zM238.8 391.9h1.9v2h-1.9zM289.2 391.9h2v2h-2zM236.8 395.8h2v2h-2zM291.2 395.8h1.9v2h-1.9zM236.8 397.8h2v1.9h-2zM291.2 397.8h1.9v1.9h-1.9zM234.9 401.7h1.9v1.9h-1.9zM293.1 401.7h1.9v1.9h-1.9zM234.9 403.6h1.9v2h-1.9zM293.1 403.6h1.9v2h-1.9zM234.9 405.6h1.9v1.9h-1.9zM293.1 405.6h1.9v1.9h-1.9zM234.9 407.5h1.9v2h-1.9zM293.1 407.5h1.9v2h-1.9zM234.9 409.5h1.9v1.9h-1.9zM293.1 409.5h1.9v1.9h-1.9zM234.9 411.4h1.9v1.9h-1.9zM293.1 411.4h1.9v1.9h-1.9zM234.9 413.3h1.9v2h-1.9zM293.1 413.3h1.9v2h-1.9zM234.9 415.3h1.9v1.9h-1.9zM293.1 415.3h1.9v1.9h-1.9zM234.9 417.2h1.9v2h-1.9zM293.1 417.2h1.9v2h-1.9zM234.9 419.2h1.9v1.9h-1.9zM293.1 419.2h1.9v1.9h-1.9zM234.9 421.1h1.9v2h-1.9zM293.1 421.1h1.9v2h-1.9zM234.9 423.1h1.9v1.9h-1.9zM293.1 423.1h1.9v1.9h-1.9zM234.9 425h1.9v2h-1.9zM293.1 425h1.9v2h-1.9zM234.9 427h1.9v1.9h-1.9zM293.1 427h1.9v1.9h-1.9zM234.9 428.9h1.9v1.9h-1.9zM293.1 428.9h1.9v1.9h-1.9zM234.9 430.8h1.9v2h-1.9zM293.1 430.8h1.9v2h-1.9zM234.9 432.8h1.9v1.9h-1.9zM293.1 432.8h1.9v1.9h-1.9zM234.9 434.7h1.9v2h-1.9zM293.1 434.7h1.9v2h-1.9zM234.9 436.7h1.9v1.9h-1.9zM293.1 436.7h1.9v1.9h-1.9zM234.9 438.6h1.9v2h-1.9zM293.1 438.6h1.9v2h-1.9zM234.9 440.6h1.9v1.9h-1.9zM293.1 440.6h1.9v1.9h-1.9zM234.9 442.5h1.9v2h-1.9zM293.1 442.5h1.9v2h-1.9zM234.9 444.5h1.9v1.9h-1.9zM293.1 444.5h1.9v1.9h-1.9zM234.9 446.4h1.9v2h-1.9zM293.1 446.4h1.9v2h-1.9zM234.9 448.4h1.9v1.9h-1.9zM293.1 448.4h1.9v1.9h-1.9zM234.9 450.3h1.9v1.9h-1.9zM293.1 450.3h1.9v1.9h-1.9zM234.9 452.2h1.9v2h-1.9zM293.1 452.2h1.9v2h-1.9zM234.9 454.2h1.9v1.9h-1.9zM293.1 454.2h1.9v1.9h-1.9zM234.9 456.1h1.9v2h-1.9zM293.1 456.1h1.9v2h-1.9zM234.9 458.1h1.9v1.9h-1.9zM293.1 458.1h1.9v1.9h-1.9zM236.8 462h2v1.9h-2zM291.2 462h1.9v1.9h-1.9zM236.8 463.9h2v2h-2zM291.2 463.9h1.9v2h-1.9zM238.8 467.8h1.9v2h-1.9zM289.2 467.8h2v2h-2zM238.8 469.8h1.9v1.9h-1.9zM289.2 469.8h2v1.9h-2zM240.7 473.6h1.9v2h-1.9zM287.3 473.6h1.9v2h-1.9zM240.7 475.6h48.5v1.9h-48.5zM242.6 477.5h44.7v2h-44.7z"/><path fill="#471365" d="M242.6 386.1h44.7v2h-44.7zM240.7 388.1h1.9v1.9h-1.9zM287.3 388.1h1.9v1.9h-1.9zM240.7 390h1.9v1.9h-1.9zM287.3 390h1.9v1.9h-1.9zM238.8 393.9h1.9v1.9h-1.9zM289.2 393.9h2v1.9h-2zM238.8 395.8h1.9v2h-1.9zM289.2 395.8h2v2h-2zM236.8 399.7h2v2h-2zM291.2 399.7h1.9v2h-1.9zM236.8 460h2v2h-2zM291.2 460h1.9v2h-1.9zM238.8 463.9h1.9v2h-1.9zM289.2 463.9h2v2h-2zM238.8 465.9h1.9v1.9h-1.9zM289.2 465.9h2v1.9h-2zM240.7 469.8h1.9v1.9h-1.9zM287.3 469.8h1.9v1.9h-1.9zM240.7 471.7h1.9v1.9h-1.9zM287.3 471.7h1.9v1.9h-1.9zM242.6 473.6h44.7v2h-44.7z"/><path fill="#481668" d="M242.6 388.1h44.7v1.9h-44.7zM242.6 390h44.7v1.9h-44.7zM240.7 391.9h1.9v2h-1.9zM287.3 391.9h1.9v2h-1.9zM238.8 397.8h1.9v1.9h-1.9zM289.2 397.8h2v1.9h-2zM236.8 401.7h2v1.9h-2zM291.2 401.7h1.9v1.9h-1.9zM236.8 403.6h2v2h-2zM291.2 403.6h1.9v2h-1.9zM236.8 405.6h2v1.9h-2zM291.2 405.6h1.9v1.9h-1.9zM236.8 407.5h2v2h-2zM291.2 407.5h1.9v2h-1.9zM236.8 409.5h2v1.9h-2zM291.2 409.5h1.9v1.9h-1.9zM236.8 411.4h2v1.9h-2zM291.2 411.4h1.9v1.9h-1.9zM236.8 413.3h2v2h-2zM291.2 413.3h1.9v2h-1.9zM236.8 415.3h2v1.9h-2zM291.2 415.3h1.9v1.9h-1.9zM236.8 417.2h2v2h-2zM291.2 417.2h1.9v2h-1.9zM236.8 419.2h2v1.9h-2zM291.2 419.2h1.9v1.9h-1.9zM236.8 421.1h2v2h-2zM291.2 421.1h1.9v2h-1.9zM236.8 423.1h2v1.9h-2zM291.2 423.1h1.9v1.9h-1.9zM236.8 425h2v2h-2zM291.2 425h1.9v2h-1.9zM236.8 427h2v1.9h-2zM291.2 427h1.9v1.9h-1.9zM236.8 428.9h2v1.9h-2zM291.2 428.9h1.9v1.9h-1.9zM236.8 430.8h2v2h-2zM291.2 430.8h1.9v2h-1.9zM236.8 432.8h2v1.9h-2zM291.2 432.8h1.9v1.9h-1.9zM236.8 434.7h2v2h-2zM291.2 434.7h1.9v2h-1.9zM236.8 436.7h2v1.9h-2zM291.2 436.7h1.9v1.9h-1.9zM236.8 438.6h2v2h-2zM291.2 438.6h1.9v2h-1.9zM236.8 440.6h2v1.9h-2zM291.2 440.6h1.9v1.9h-1.9zM236.8 442.5h2v2h-2zM291.2 442.5h1.9v2h-1.9zM236.8 444.5h2v1.9h-2zM291.2 444.5h1.9v1.9h-1.9zM236.8 446.4h2v2h-2zM291.2 446.4h1.9v2h-1.9zM236.8 448.4h2v1.9h-2zM291.2 448.4h1.9v1.9h-1.9zM236.8 450.3h2v1.9h-2zM291.2 450.3h1.9v1.9h-1.9zM236.8 452.2h2v2h-2zM291.2 452.2h1.9v2h-1.9zM236.8 454.2h2v1.9h-2zM291.2 454.2h1.9v1.9h-1.9zM236.8 456.1h2v2h-2zM291.2 456.1h1.9v2h-1.9zM236.8 458.1h2v1.9h-2zM291.2 458.1h1.9v1.9h-1.9zM238.8 462h1.9v1.9h-1.9zM289.2 462h2v1.9h-2zM240.7 467.8h1.9v2h-1.9zM287.3 467.8h1.9v2h-1.9zM242.6 469.8h44.7v1.9h-44.7zM242.6 471.7h44.7v1.9h-44.7z"/><path fill="#481769" d="M242.6 391.9h44.7v2h-44.7zM240.7 393.9h1.9v1.9h-1.9zM287.3 393.9h1.9v1.9h-1.9zM238.8 399.7h1.9v2h-1.9zM289.2 399.7h2v2h-2zM238.8 460h1.9v2h-1.9zM289.2 460h2v2h-2zM240.7 465.9h1.9v1.9h-1.9zM287.3 465.9h1.9v1.9h-1.9zM242.6 467.8h44.7v2h-44.7z"/><path fill="#48186a" d="M242.6 393.9h44.7v1.9h-44.7zM240.7 395.8h1.9v2h-1.9zM287.3 395.8h1.9v2h-1.9zM238.8 401.7h1.9v1.9h-1.9zM289.2 401.7h2v1.9h-2zM238.8 403.6h1.9v2h-1.9zM289.2 403.6h2v2h-2zM238.8 405.6h1.9v1.9h-1.9zM289.2 405.6h2v1.9h-2zM238.8 407.5h1.9v2h-1.9zM289.2 407.5h2v2h-2zM238.8 409.5h1.9v1.9h-1.9zM289.2 409.5h2v1.9h-2zM238.8 411.4h1.9v1.9h-1.9zM289.2 411.4h2v1.9h-2zM238.8 413.3h1.9v2h-1.9zM289.2 413.3h2v2h-2zM238.8 415.3h1.9v1.9h-1.9zM289.2 415.3h2v1.9h-2zM238.8 417.2h1.9v2h-1.9zM289.2 417.2h2v2h-2zM238.8 419.2h1.9v1.9h-1.9zM289.2 419.2h2v1.9h-2zM238.8 421.1h1.9v2h-1.9zM289.2 421.1h2v2h-2zM238.8 423.1h1.9v1.9h-1.9zM289.2 423.1h2v1.9h-2zM238.8 425h1.9v2h-1.9zM289.2 425h2v2h-2zM238.8 427h1.9v1.9h-1.9zM289.2 427h2v1.9h-2zM238.8 428.9h1.9v1.9h-1.9zM289.2 428.9h2v1.9h-2zM238.8 430.8h1.9v2h-1.9zM289.2 430.8h2v2h-2zM238.8 432.8h1.9v1.9h-1.9zM289.2 432.8h2v1.9h-2zM238.8 434.7h1.9v2h-1.9zM289.2 434.7h2v2h-2zM238.8 436.7h1.9v1.9h-1.9zM289.2 436.7h2v1.9h-2zM238.8 438.6h1.9v2h-1.9zM289.2 438.6h2v2h-2zM238.8 440.6h1.9v1.9h-1.9zM289.2 440.6h2v1.9h-2zM238.8 442.5h1.9v2h-1.9zM289.2 442.5h2v2h-2zM238.8 444.5h1.9v1.9h-1.9zM289.2 444.5h2v1.9h-2zM238.8 446.4h1.9v2h-1.9zM289.2 446.4h2v2h-2zM238.8 448.4h1.9v1.9h-1.9zM289.2 448.4h2v1.9h-2zM238.8 450.3h1.9v1.9h-1.9zM289.2 450.3h2v1.9h-2zM238.8 452.2h1.9v2h-1.9zM289.2 452.2h2v2h-2zM238.8 454.2h1.9v1.9h-1.9zM289.2 454.2h2v1.9h-2zM238.8 456.1h1.9v2h-1.9zM289.2 456.1h2v2h-2zM238.8 458.1h1.9v1.9h-1.9zM289.2 458.1h2v1.9h-2zM240.7 463.9h1.9v2h-1.9zM287.3 463.9h1.9v2h-1.9zM242.6 465.9h44.7v1.9h-44.7z"/><path fill="#481a6c" d="M242.6 395.8h44.7v2h-44.7zM240.7 397.8h1.9v1.9h-1.9zM287.3 397.8h1.9v1.9h-1.9zM240.7 462h1.9v1.9h-1.9zM287.3 462h1.9v1.9h-1.9zM242.6 463.9h44.7v2h-44.7z"/><path fill="#481c6e" d="M242.6 397.8h44.7v1.9h-44.7zM240.7 399.7h1.9v2h-1.9zM287.3 399.7h1.9v2h-1.9zM240.7 460h1.9v2h-1.9zM287.3 460h1.9v2h-1.9zM242.6 462h44.7v1.9h-44.7z"/><path fill="#481d6f" d="M242.6 399.7h44.7v2h-44.7zM240.7 401.7h1.9v1.9h-1.9zM287.3 401.7h1.9v1.9h-1.9zM240.7 403.6h1.9v2h-1.9zM287.3 403.6h1.9v2h-1.9zM240.7 405.6h1.9v1.9h-1.9zM287.3 405.6h1.9v1.9h-1.9zM240.7 407.5h1.9v2h-1.9zM287.3 407.5h1.9v2h-1.9zM240.7 409.5h1.9v1.9h-1.9zM287.3 409.5h1.9v1.9h-1.9zM240.7 411.4h1.9v1.9h-1.9zM287.3 411.4h1.9v1.9h-1.9zM240.7 413.3h1.9v2h-1.9zM287.3 413.3h1.9v2h-1.9zM240.7 415.3h1.9v1.9h-1.9zM287.3 415.3h1.9v1.9h-1.9zM240.7 417.2h1.9v2h-1.9zM287.3 417.2h1.9v2h-1.9zM240.7 419.2h1.9v1.9h-1.9zM287.3 419.2h1.9v1.9h-1.9zM240.7 421.1h1.9v2h-1.9zM287.3 421.1h1.9v2h-1.9zM240.7 423.1h1.9v1.9h-1.9zM287.3 423.1h1.9v1.9h-1.9zM240.7 425h1.9v2h-1.9zM287.3 425h1.9v2h-1.9zM240.7 427h1.9v1.9h-1.9zM287.3 427h1.9v1.9h-1.9zM240.7 428.9h1.9v1.9h-1.9zM287.3 428.9h1.9v1.9h-1.9zM240.7 430.8h1.9v2h-1.9zM287.3 430.8h1.9v2h-1.9zM240.7 432.8h1.9v1.9h-1.9zM287.3 432.8h1.9v1.9h-1.9zM240.7 434.7h1.9v2h-1.9zM287.3 434.7h1.9v2h-1.9zM240.7 436.7h1.9v1.9h-1.9zM287.3 436.7h1.9v1.9h-1.9zM240.7 438.6h1.9v2h-1.9zM287.3 438.6h1.9v2h-1.9zM240.7 440.6h1.9v1.9h-1.9zM287.3 440.6h1.9v1.9h-1.9zM240.7 442.5h1.9v2h-1.9zM287.3 442.5h1.9v2h-1.9zM240.7 444.5h1.9v1.9h-1.9zM287.3 444.5h1.9v1.9h-1.9zM240.7 446.4h1.9v2h-1.9zM287.3 446.4h1.9v2h-1.9zM240.7 448.4h1.9v1.9h-1.9zM287.3 448.4h1.9v1.9h-1.9zM240.7 450.3h1.9v1.9h-1.9zM287.3 450.3h1.9v1.9h-1.9zM240.7 452.2h1.9v2h-1.9zM287.3 452.2h1.9v2h-1.9zM240.7 454.2h1.9v1.9h-1.9zM287.3 454.2h1.9v1.9h-1.9zM240.7 456.1h1.9v2h-1.9zM287.3 456.1h1.9v2h-1.9zM240.7 458.1h1.9v1.9h-1.9zM287.3 458.1h1.9v1.9h-1.9zM242.6 460h44.7v2h-44.7z"/><path fill="#481f70" d="M242.6 401.7h44.7v1.9h-44.7zM242.6 458.1h44.7v1.9h-44.7z"/><path fill="#482173" d="M242.6 403.6h44.7v2h-44.7zM242.6 405.6h44.7v1.9h-44.7zM242.6 407.5h44.7v2h-44.7zM242.6 409.5h44.7v1.9h-44.7zM242.6 411.4h44.7v1.9h-44.7zM242.6 413.3h44.7v2h-44.7zM242.6 415.3h44.7v1.9h-44.7zM242.6 417.2h44.7v2h-44.7zM242.6 419.2h44.7v1.9h-44.7zM242.6 421.1h44.7v2h-44.7zM242.6 423.1h44.7v1.9h-44.7zM242.6 425h44.7v2h-44.7zM242.6 427h44.7v1.9h-44.7zM242.6 428.9h44.7v1.9h-44.7zM242.6 430.8h44.7v2h-44.7zM242.6 432.8h44.7v1.9h-44.7zM242.6 434.7h44.7v2h-44.7zM242.6 436.7h44.7v1.9h-44.7zM242.6 438.6h44.7v2h-44.7zM242.6 440.6h44.7v1.9h-44.7zM242.6 442.5h44.7v2h-44.7zM242.6 444.5h44.7v1.9h-44.7zM242.6 446.4h44.7v2h-44.7zM242.6 448.4h44.7v1.9h-44.7zM242.6 450.3h44.7v1.9h-44.7zM242.6 452.2h44.7v2h-44.7zM242.6 454.2h44.7v1.9h-44.7zM242.6 456.1h44.7v2h-44.7z"/></g><g shape-rendering="crispEdges"><path fill="#424086" d="M242.7 403.6h42.6v3.9h-42.6z"/><path fill="#433e85" d="M242.7 454.2h42.6v3.9h-42.6z"/><path fill="#3e4c8a" d="M281.5 407.5h3.8v46.7h-3.8z"/><path fill="#228b8d" d="M242.7 407.5h38.8v46.7h-38.8z"/></g><ellipse cx="262.05" cy="430.85" rx="23.28" ry="23.34" fill="none" stroke="#000" stroke-width="1.3" stroke-dasharray="3.3 1.5"/><circle cx="203.85" cy="430.85" r="1.3" fill="#ff8a05"/><circle cx="227.13" cy="430.85" r="1.3" fill="#ff8a05"/><circle cx="250.41" cy="430.85" r="1.3" fill="#ff8a05"/><circle cx="273.69" cy="430.85" r="1.3" fill="#ff8a05"/><circle cx="296.97" cy="430.85" r="1.3" fill="#ff8a05"/><circle cx="320.25" cy="430.85" r="1.3" fill="#ff8a05"/></g><rect x="189.3" y="357.9" width="145.5" height="145.9" fill="none" stroke="#000" stroke-opacity="0.5" stroke-width="0.9"/><text transform="translate(185.7 374.89) scale(0.95 1)" font-size="7.5" text-anchor="end">300</text><text transform="translate(185.7 394.34) scale(0.95 1)" font-size="7.5" text-anchor="end">200</text><text transform="translate(185.7 413.8) scale(0.95 1)" font-size="7.5" text-anchor="end">100</text><text transform="translate(185.7 433.25) scale(0.95 1)" font-size="7.5" text-anchor="end">0</text><text transform="translate(185.7 452.7) scale(0.95 1)" font-size="7.5" text-anchor="end">&#8722;<tspan dx="1.0">100</tspan></text><text transform="translate(185.7 472.16) scale(0.95 1)" font-size="7.5" text-anchor="end">&#8722;<tspan dx="1.0">200</tspan></text><text transform="translate(185.7 491.61) scale(0.95 1)" font-size="7.5" text-anchor="end">&#8722;<tspan dx="1.0">300</tspan></text><text transform="translate(223.25 512.4) scale(0.95 1)" font-size="7.5" text-anchor="middle">&#8722;<tspan dx="1.0">200</tspan></text><text transform="translate(262.05 512.4) scale(0.95 1)" font-size="7.5" text-anchor="middle">0</text><text transform="translate(300.85 512.4) scale(0.95 1)" font-size="7.5" text-anchor="middle">200</text><path d="M189.3 372.49h-2M189.3 391.94h-2M189.3 411.4h-2M189.3 430.85h-2M189.3 450.3h-2M189.3 469.76h-2M189.3 489.21h-2M223.25 503.8v2M262.05 503.8v2M300.85 503.8v2" stroke="#444" stroke-width="0.6"/><text x="169.9" y="432.35" font-size="7.7" text-anchor="middle" textLength="18.4" lengthAdjust="spacingAndGlyphs" transform="rotate(-90 169.9 432.35)">y [m]</text><text x="261.5" y="524.6" font-size="10.2" text-anchor="middle">x [m]</text><rect x="344.4" y="358" width="7.5" height="145.5" fill="url(#g15)" stroke="#444" stroke-width="0.5"/><text transform="translate(356.9 507.4) scale(0.92 1)" font-size="8.6" text-anchor="start">0</text><text transform="translate(356.9 478.3) scale(0.92 1)" font-size="8.6" text-anchor="start">2</text><text transform="translate(356.9 449.2) scale(0.92 1)" font-size="8.6" text-anchor="start">4</text><text transform="translate(356.9 420.1) scale(0.92 1)" font-size="8.6" text-anchor="start">6</text><text transform="translate(356.9 391) scale(0.92 1)" font-size="8.6" text-anchor="start">8</text><text transform="translate(356.9 361.9) scale(0.92 1)" font-size="8.6" text-anchor="start">10</text><path d="M351.9 503.5h2M351.9 474.4h2M351.9 445.3h2M351.9 416.2h2M351.9 387.1h2M351.9 358h2" stroke="#444" stroke-width="0.6"/><text x="374.3" y="434.65" font-size="7.7" text-anchor="middle" textLength="29.8" lengthAdjust="spacingAndGlyphs" transform="rotate(-90 374.3 434.65)">M [A/m]</text><g clip-path="url(#c16)"><rect x="421.7" y="429.2" width="109.3" height="72.6" fill="#440154"/><g shape-rendering="crispEdges"><path fill="#424186" d="M459.3 431.6h2.5v2.4h-2.5zM461.8 438.9h2.4v2.4h-2.4zM488.5 438.9h2.4v2.4h-2.4zM490.9 431.6h2.5v2.4h-2.5z"/><path fill="#481f70" d="M459.3 434h2.5v2.5h-2.5zM466.6 443.7h2.5v2.4h-2.5zM483.6 443.7h2.5v2.4h-2.5zM490.9 434h2.5v2.5h-2.5z"/><path fill="#fde725" d="M461.8 431.6h2.4v2.4h-2.4zM461.8 434h2.4v2.5h-2.4zM464.2 431.6h2.4v2.4h-2.4zM464.2 434h2.4v2.5h-2.4zM464.2 436.5h2.4v2.4h-2.4zM466.6 431.6h2.5v2.4h-2.5zM466.6 434h2.5v2.5h-2.5zM466.6 436.5h2.5v2.4h-2.5zM466.6 438.9h2.5v2.4h-2.5zM469.1 431.6h2.4v2.4h-2.4zM469.1 434h2.4v2.5h-2.4zM469.1 436.5h2.4v2.4h-2.4zM469.1 438.9h2.4v2.4h-2.4zM469.1 441.3h2.4v2.4h-2.4zM471.5 431.6h2.4v2.4h-2.4zM471.5 434h2.4v2.5h-2.4zM471.5 436.5h2.4v2.4h-2.4zM471.5 438.9h2.4v2.4h-2.4zM471.5 441.3h2.4v2.4h-2.4zM473.9 431.6h2.5v2.4h-2.5zM473.9 434h2.5v2.5h-2.5zM473.9 436.5h2.5v2.4h-2.5zM473.9 438.9h2.5v2.4h-2.5zM473.9 441.3h2.5v2.4h-2.5zM473.9 443.7h2.5v2.4h-2.5zM476.4 431.6h2.4v2.4h-2.4zM476.4 434h2.4v2.5h-2.4zM476.4 436.5h2.4v2.4h-2.4zM476.4 438.9h2.4v2.4h-2.4zM476.4 441.3h2.4v2.4h-2.4zM476.4 443.7h2.4v2.4h-2.4zM478.8 431.6h2.4v2.4h-2.4zM478.8 434h2.4v2.5h-2.4zM478.8 436.5h2.4v2.4h-2.4zM478.8 438.9h2.4v2.4h-2.4zM478.8 441.3h2.4v2.4h-2.4zM481.2 431.6h2.4v2.4h-2.4zM481.2 434h2.4v2.5h-2.4zM481.2 436.5h2.4v2.4h-2.4zM481.2 438.9h2.4v2.4h-2.4zM481.2 441.3h2.4v2.4h-2.4zM483.6 431.6h2.5v2.4h-2.5zM483.6 434h2.5v2.5h-2.5zM483.6 436.5h2.5v2.4h-2.5zM483.6 438.9h2.5v2.4h-2.5zM486.1 431.6h2.4v2.4h-2.4zM486.1 434h2.4v2.5h-2.4zM486.1 436.5h2.4v2.4h-2.4zM488.5 431.6h2.4v2.4h-2.4zM488.5 434h2.4v2.5h-2.4z"/><path fill="#5ec962" d="M461.8 436.5h2.4v2.4h-2.4zM488.5 436.5h2.4v2.4h-2.4z"/><path fill="#ece51b" d="M464.2 438.9h2.4v2.4h-2.4zM486.1 438.9h2.4v2.4h-2.4z"/><path fill="#375a8c" d="M464.2 441.3h2.4v2.4h-2.4zM486.1 441.3h2.4v2.4h-2.4z"/><path fill="#c8e020" d="M466.6 441.3h2.5v2.4h-2.5zM483.6 441.3h2.5v2.4h-2.5z"/><path fill="#21918c" d="M469.1 443.7h2.4v2.4h-2.4zM481.2 443.7h2.4v2.4h-2.4z"/><path fill="#7fd34e" d="M471.5 443.7h2.4v2.4h-2.4zM478.8 443.7h2.4v2.4h-2.4z"/></g><rect x="454.49" y="428.2" width="43.72" height="3.42" fill="#fff"/><rect x="464.21" y="430.62" width="24.29" height="3.06" fill="#fff"/><path d="M461.78 434.04 H490.92 A14.57 14.52 0 0 1 461.78 434.04" fill="none" stroke="#000" stroke-width="1.2" stroke-dasharray="3.2 1.4"/><circle cx="439.92" cy="429.08" r="1.15" fill="#ff8a05"/><circle cx="454.49" cy="429.08" r="1.15" fill="#ff8a05"/><circle cx="469.06" cy="429.08" r="1.15" fill="#ff8a05"/><circle cx="483.64" cy="429.08" r="1.15" fill="#ff8a05"/><circle cx="498.21" cy="429.08" r="1.15" fill="#ff8a05"/><circle cx="512.78" cy="429.08" r="1.15" fill="#ff8a05"/></g><rect x="421.7" y="356.6" width="109.3" height="145.2" fill="none" stroke="#000" stroke-opacity="0.5" stroke-width="0.9"/><text transform="translate(418.4 359.6) scale(0.95 1)" font-size="7.5" text-anchor="end">600</text><text transform="translate(418.4 383.8) scale(0.95 1)" font-size="7.5" text-anchor="end">400</text><text transform="translate(418.4 408) scale(0.95 1)" font-size="7.5" text-anchor="end">200</text><text transform="translate(418.4 432.2) scale(0.95 1)" font-size="7.5" text-anchor="end">0</text><text transform="translate(418.4 456.4) scale(0.95 1)" font-size="7.5" text-anchor="end">&#8722;<tspan dx="1.0">200</tspan></text><text transform="translate(418.4 480.6) scale(0.95 1)" font-size="7.5" text-anchor="end">&#8722;<tspan dx="1.0">400</tspan></text><text transform="translate(418.4 504.8) scale(0.95 1)" font-size="7.5" text-anchor="end">&#8722;<tspan dx="1.0">600</tspan></text><text transform="translate(427.77 510.4) scale(0.95 1)" font-size="7.5" text-anchor="middle">&#8722;<tspan dx="1.0">400</tspan></text><text transform="translate(452.06 510.4) scale(0.95 1)" font-size="7.5" text-anchor="middle">&#8722;<tspan dx="1.0">200</tspan></text><text transform="translate(476.35 510.4) scale(0.95 1)" font-size="7.5" text-anchor="middle">0</text><text transform="translate(500.64 510.4) scale(0.95 1)" font-size="7.5" text-anchor="middle">200</text><text transform="translate(524.93 510.4) scale(0.95 1)" font-size="7.5" text-anchor="middle">400</text><path d="M421.7 356.6h-2M421.7 380.8h-2M421.7 405h-2M421.7 429.2h-2M421.7 453.4h-2M421.7 477.6h-2M421.7 501.8h-2M427.77 501.8v2M452.06 501.8v2M476.35 501.8v2M500.64 501.8v2M524.93 501.8v2" stroke="#444" stroke-width="0.6"/><text x="402.8" y="431.2" font-size="7.7" text-anchor="middle" textLength="18.4" lengthAdjust="spacingAndGlyphs" transform="rotate(-90 402.8 431.2)">z [m]</text><text x="475.6" y="524" font-size="10.2" text-anchor="middle">x [m]</text><g clip-path="url(#c17)"><rect x="572" y="356.5" width="145.6" height="145.8" fill="#440154"/><g shape-rendering="crispEdges"><path fill="#450559" d="M633.2 392.5h23.2v1.9h-23.2zM629.3 394.4h31v2h-31zM625.4 396.4h13.6v1.9h-13.6zM650.6 396.4h13.6v1.9h-13.6zM621.5 398.3h11.7v1.9h-11.7zM656.4 398.3h11.7v1.9h-11.7zM619.6 400.2h9.7v2h-9.7zM660.3 400.2h9.7v2h-9.7zM617.6 402.2h7.8v1.9h-7.8zM664.2 402.2h7.8v1.9h-7.8zM615.7 404.1h7.7v2h-7.7zM666.2 404.1h7.7v2h-7.7zM613.7 406.1h7.8v1.9h-7.8zM668.1 406.1h7.8v1.9h-7.8zM613.7 408h5.9v2h-5.9zM670 408h5.9v2h-5.9zM611.8 410h5.8v1.9h-5.8zM672 410h5.8v1.9h-5.8zM611.8 411.9h5.8v1.9h-5.8zM672 411.9h5.8v1.9h-5.8zM609.9 413.8h5.8v2h-5.8zM673.9 413.8h5.8v2h-5.8zM609.9 415.8h5.8v1.9h-5.8zM673.9 415.8h5.8v1.9h-5.8zM607.9 417.7h5.8v2h-5.8zM675.9 417.7h5.8v2h-5.8zM607.9 419.7h5.8v1.9h-5.8zM675.9 419.7h5.8v1.9h-5.8zM607.9 421.6h5.8v2h-5.8zM675.9 421.6h5.8v2h-5.8zM607.9 423.6h3.9v1.9h-3.9zM677.8 423.6h3.9v1.9h-3.9zM607.9 425.5h3.9v2h-3.9zM677.8 425.5h3.9v2h-3.9zM607.9 427.5h3.9v1.9h-3.9zM677.8 427.5h3.9v1.9h-3.9zM607.9 429.4h3.9v1.9h-3.9zM677.8 429.4h3.9v1.9h-3.9zM607.9 431.3h3.9v2h-3.9zM677.8 431.3h3.9v2h-3.9zM607.9 433.3h3.9v1.9h-3.9zM677.8 433.3h3.9v1.9h-3.9zM607.9 435.2h5.8v2h-5.8zM675.9 435.2h5.8v2h-5.8zM607.9 437.2h5.8v1.9h-5.8zM675.9 437.2h5.8v1.9h-5.8zM607.9 439.1h5.8v2h-5.8zM675.9 439.1h5.8v2h-5.8zM609.9 441.1h5.8v1.9h-5.8zM673.9 441.1h5.8v1.9h-5.8zM609.9 443h5.8v2h-5.8zM673.9 443h5.8v2h-5.8zM611.8 445h5.8v1.9h-5.8zM672 445h5.8v1.9h-5.8zM611.8 446.9h5.8v1.9h-5.8zM672 446.9h5.8v1.9h-5.8zM613.7 448.8h5.9v2h-5.9zM670 448.8h5.9v2h-5.9zM613.7 450.8h7.8v1.9h-7.8zM668.1 450.8h7.8v1.9h-7.8zM615.7 452.7h7.7v2h-7.7zM666.2 452.7h7.7v2h-7.7zM617.6 454.7h7.8v1.9h-7.8zM664.2 454.7h7.8v1.9h-7.8zM619.6 456.6h9.7v2h-9.7zM660.3 456.6h9.7v2h-9.7zM621.5 458.6h11.7v1.9h-11.7zM656.4 458.6h11.7v1.9h-11.7zM625.4 460.5h13.6v1.9h-13.6zM650.6 460.5h13.6v1.9h-13.6zM629.3 462.4h31v2h-31zM633.2 464.4h23.2v1.9h-23.2z"/><path fill="#46075a" d="M639 396.4h11.6v1.9h-11.6zM633.2 398.3h23.2v1.9h-23.2zM629.3 400.2h7.7v2h-7.7zM652.6 400.2h7.7v2h-7.7zM625.4 402.2h5.8v1.9h-5.8zM658.4 402.2h5.8v1.9h-5.8zM623.4 404.1h5.9v2h-5.9zM660.3 404.1h5.9v2h-5.9zM621.5 406.1h3.9v1.9h-3.9zM664.2 406.1h3.9v1.9h-3.9zM619.6 408h3.8v2h-3.8zM666.2 408h3.8v2h-3.8zM617.6 410h3.9v1.9h-3.9zM668.1 410h3.9v1.9h-3.9zM617.6 411.9h3.9v1.9h-3.9zM668.1 411.9h3.9v1.9h-3.9zM615.7 413.8h3.9v2h-3.9zM670 413.8h3.9v2h-3.9zM615.7 415.8h1.9v1.9h-1.9zM672 415.8h1.9v1.9h-1.9zM613.7 417.7h3.9v2h-3.9zM672 417.7h3.9v2h-3.9zM613.7 419.7h3.9v1.9h-3.9zM672 419.7h3.9v1.9h-3.9zM613.7 421.6h2v2h-2zM673.9 421.6h2v2h-2zM611.8 423.6h3.9v1.9h-3.9zM673.9 423.6h3.9v1.9h-3.9zM611.8 425.5h3.9v2h-3.9zM673.9 425.5h3.9v2h-3.9zM611.8 427.5h3.9v1.9h-3.9zM673.9 427.5h3.9v1.9h-3.9zM611.8 429.4h3.9v1.9h-3.9zM673.9 429.4h3.9v1.9h-3.9zM611.8 431.3h3.9v2h-3.9zM673.9 431.3h3.9v2h-3.9zM611.8 433.3h3.9v1.9h-3.9zM673.9 433.3h3.9v1.9h-3.9zM613.7 435.2h2v2h-2zM673.9 435.2h2v2h-2zM613.7 437.2h3.9v1.9h-3.9zM672 437.2h3.9v1.9h-3.9zM613.7 439.1h3.9v2h-3.9zM672 439.1h3.9v2h-3.9zM615.7 441.1h1.9v1.9h-1.9zM672 441.1h1.9v1.9h-1.9zM615.7 443h3.9v2h-3.9zM670 443h3.9v2h-3.9zM617.6 445h3.9v1.9h-3.9zM668.1 445h3.9v1.9h-3.9zM617.6 446.9h3.9v1.9h-3.9zM668.1 446.9h3.9v1.9h-3.9zM619.6 448.8h3.8v2h-3.8zM666.2 448.8h3.8v2h-3.8zM621.5 450.8h3.9v1.9h-3.9zM664.2 450.8h3.9v1.9h-3.9zM623.4 452.7h5.9v2h-5.9zM660.3 452.7h5.9v2h-5.9zM625.4 454.7h5.8v1.9h-5.8zM658.4 454.7h5.8v1.9h-5.8zM629.3 456.6h7.7v2h-7.7zM652.6 456.6h7.7v2h-7.7zM633.2 458.6h23.2v1.9h-23.2zM639 460.5h11.6v1.9h-11.6z"/><path fill="#46085c" d="M637 400.2h15.6v2h-15.6zM631.2 402.2h7.8v1.9h-7.8zM650.6 402.2h7.8v1.9h-7.8zM629.3 404.1h3.9v2h-3.9zM656.4 404.1h3.9v2h-3.9zM625.4 406.1h3.9v1.9h-3.9zM660.3 406.1h3.9v1.9h-3.9zM623.4 408h3.9v2h-3.9zM662.3 408h3.9v2h-3.9zM621.5 410h3.9v1.9h-3.9zM664.2 410h3.9v1.9h-3.9zM621.5 411.9h1.9v1.9h-1.9zM666.2 411.9h1.9v1.9h-1.9zM619.6 413.8h1.9v2h-1.9zM668.1 413.8h1.9v2h-1.9zM617.6 415.8h3.9v1.9h-3.9zM668.1 415.8h3.9v1.9h-3.9zM617.6 417.7h2v2h-2zM670 417.7h2v2h-2zM617.6 419.7h2v1.9h-2zM670 419.7h2v1.9h-2zM615.7 421.6h3.9v2h-3.9zM670 421.6h3.9v2h-3.9zM615.7 423.6h1.9v1.9h-1.9zM672 423.6h1.9v1.9h-1.9zM615.7 425.5h1.9v2h-1.9zM672 425.5h1.9v2h-1.9zM615.7 427.5h1.9v1.9h-1.9zM672 427.5h1.9v1.9h-1.9zM615.7 429.4h1.9v1.9h-1.9zM672 429.4h1.9v1.9h-1.9zM615.7 431.3h1.9v2h-1.9zM672 431.3h1.9v2h-1.9zM615.7 433.3h1.9v1.9h-1.9zM672 433.3h1.9v1.9h-1.9zM615.7 435.2h3.9v2h-3.9zM670 435.2h3.9v2h-3.9zM617.6 437.2h2v1.9h-2zM670 437.2h2v1.9h-2zM617.6 439.1h2v2h-2zM670 439.1h2v2h-2zM617.6 441.1h3.9v1.9h-3.9zM668.1 441.1h3.9v1.9h-3.9zM619.6 443h1.9v2h-1.9zM668.1 443h1.9v2h-1.9zM621.5 445h1.9v1.9h-1.9zM666.2 445h1.9v1.9h-1.9zM621.5 446.9h3.9v1.9h-3.9zM664.2 446.9h3.9v1.9h-3.9zM623.4 448.8h3.9v2h-3.9zM662.3 448.8h3.9v2h-3.9zM625.4 450.8h3.9v1.9h-3.9zM660.3 450.8h3.9v1.9h-3.9zM629.3 452.7h3.9v2h-3.9zM656.4 452.7h3.9v2h-3.9zM631.2 454.7h7.8v1.9h-7.8zM650.6 454.7h7.8v1.9h-7.8zM637 456.6h15.6v2h-15.6z"/><path fill="#460a5d" d="M639 402.2h11.6v1.9h-11.6zM633.2 404.1h5.8v2h-5.8zM650.6 404.1h5.8v2h-5.8zM629.3 406.1h3.9v1.9h-3.9zM656.4 406.1h3.9v1.9h-3.9zM627.3 408h3.9v2h-3.9zM658.4 408h3.9v2h-3.9zM625.4 410h1.9v1.9h-1.9zM662.3 410h1.9v1.9h-1.9zM623.4 411.9h2v1.9h-2zM664.2 411.9h2v1.9h-2zM621.5 413.8h3.9v2h-3.9zM664.2 413.8h3.9v2h-3.9zM621.5 415.8h1.9v1.9h-1.9zM666.2 415.8h1.9v1.9h-1.9zM619.6 417.7h1.9v2h-1.9zM668.1 417.7h1.9v2h-1.9zM619.6 419.7h1.9v1.9h-1.9zM668.1 419.7h1.9v1.9h-1.9zM619.6 421.6h1.9v2h-1.9zM668.1 421.6h1.9v2h-1.9zM617.6 423.6h2v1.9h-2zM670 423.6h2v1.9h-2zM617.6 425.5h2v2h-2zM670 425.5h2v2h-2zM617.6 427.5h2v1.9h-2zM670 427.5h2v1.9h-2zM617.6 429.4h2v1.9h-2zM670 429.4h2v1.9h-2zM617.6 431.3h2v2h-2zM670 431.3h2v2h-2zM617.6 433.3h2v1.9h-2zM670 433.3h2v1.9h-2zM619.6 435.2h1.9v2h-1.9zM668.1 435.2h1.9v2h-1.9zM619.6 437.2h1.9v1.9h-1.9zM668.1 437.2h1.9v1.9h-1.9zM619.6 439.1h1.9v2h-1.9zM668.1 439.1h1.9v2h-1.9zM621.5 441.1h1.9v1.9h-1.9zM666.2 441.1h1.9v1.9h-1.9zM621.5 443h3.9v2h-3.9zM664.2 443h3.9v2h-3.9zM623.4 445h2v1.9h-2zM664.2 445h2v1.9h-2zM625.4 446.9h1.9v1.9h-1.9zM662.3 446.9h1.9v1.9h-1.9zM627.3 448.8h3.9v2h-3.9zM658.4 448.8h3.9v2h-3.9zM629.3 450.8h3.9v1.9h-3.9zM656.4 450.8h3.9v1.9h-3.9zM633.2 452.7h5.8v2h-5.8zM650.6 452.7h5.8v2h-5.8zM639 454.7h11.6v1.9h-11.6z"/><path fill="#460b5e" d="M639 404.1h11.6v2h-11.6zM633.2 406.1h3.8v1.9h-3.8zM652.6 406.1h3.8v1.9h-3.8zM631.2 408h2v2h-2zM656.4 408h2v2h-2zM627.3 410h2v1.9h-2zM660.3 410h2v1.9h-2zM625.4 411.9h1.9v1.9h-1.9zM662.3 411.9h1.9v1.9h-1.9zM623.4 415.8h2v1.9h-2zM664.2 415.8h2v1.9h-2zM621.5 417.7h1.9v2h-1.9zM666.2 417.7h1.9v2h-1.9zM621.5 419.7h1.9v1.9h-1.9zM666.2 419.7h1.9v1.9h-1.9zM619.6 423.6h1.9v1.9h-1.9zM668.1 423.6h1.9v1.9h-1.9zM619.6 425.5h1.9v2h-1.9zM668.1 425.5h1.9v2h-1.9zM619.6 427.5h1.9v1.9h-1.9zM668.1 427.5h1.9v1.9h-1.9zM619.6 429.4h1.9v1.9h-1.9zM668.1 429.4h1.9v1.9h-1.9zM619.6 431.3h1.9v2h-1.9zM668.1 431.3h1.9v2h-1.9zM619.6 433.3h1.9v1.9h-1.9zM668.1 433.3h1.9v1.9h-1.9zM621.5 437.2h1.9v1.9h-1.9zM666.2 437.2h1.9v1.9h-1.9zM621.5 439.1h1.9v2h-1.9zM666.2 439.1h1.9v2h-1.9zM623.4 441.1h2v1.9h-2zM664.2 441.1h2v1.9h-2zM625.4 445h1.9v1.9h-1.9zM662.3 445h1.9v1.9h-1.9zM627.3 446.9h2v1.9h-2zM660.3 446.9h2v1.9h-2zM631.2 448.8h2v2h-2zM656.4 448.8h2v2h-2zM633.2 450.8h3.8v1.9h-3.8zM652.6 450.8h3.8v1.9h-3.8zM639 452.7h11.6v2h-11.6z"/><path fill="#470d60" d="M637 406.1h15.6v1.9h-15.6zM633.2 408h1.9v2h-1.9zM654.5 408h1.9v2h-1.9zM629.3 410h3.9v1.9h-3.9zM656.4 410h3.9v1.9h-3.9zM627.3 411.9h2v1.9h-2zM660.3 411.9h2v1.9h-2zM625.4 413.8h1.9v2h-1.9zM662.3 413.8h1.9v2h-1.9zM625.4 415.8h1.9v1.9h-1.9zM662.3 415.8h1.9v1.9h-1.9zM623.4 417.7h2v2h-2zM664.2 417.7h2v2h-2zM621.5 421.6h1.9v2h-1.9zM666.2 421.6h1.9v2h-1.9zM621.5 423.6h1.9v1.9h-1.9zM666.2 423.6h1.9v1.9h-1.9zM621.5 425.5h1.9v2h-1.9zM666.2 425.5h1.9v2h-1.9zM621.5 427.5h1.9v1.9h-1.9zM666.2 427.5h1.9v1.9h-1.9zM621.5 429.4h1.9v1.9h-1.9zM666.2 429.4h1.9v1.9h-1.9zM621.5 431.3h1.9v2h-1.9zM666.2 431.3h1.9v2h-1.9zM621.5 433.3h1.9v1.9h-1.9zM666.2 433.3h1.9v1.9h-1.9zM621.5 435.2h1.9v2h-1.9zM666.2 435.2h1.9v2h-1.9zM623.4 439.1h2v2h-2zM664.2 439.1h2v2h-2zM625.4 441.1h1.9v1.9h-1.9zM662.3 441.1h1.9v1.9h-1.9zM625.4 443h1.9v2h-1.9zM662.3 443h1.9v2h-1.9zM627.3 445h2v1.9h-2zM660.3 445h2v1.9h-2zM629.3 446.9h3.9v1.9h-3.9zM656.4 446.9h3.9v1.9h-3.9zM633.2 448.8h1.9v2h-1.9zM654.5 448.8h1.9v2h-1.9zM637 450.8h15.6v1.9h-15.6z"/><path fill="#470e61" d="M635.1 408h3.9v2h-3.9zM650.6 408h3.9v2h-3.9zM633.2 410h1.9v1.9h-1.9zM654.5 410h1.9v1.9h-1.9zM629.3 411.9h1.9v1.9h-1.9zM658.4 411.9h1.9v1.9h-1.9zM627.3 413.8h2v2h-2zM660.3 413.8h2v2h-2zM625.4 417.7h1.9v2h-1.9zM662.3 417.7h1.9v2h-1.9zM623.4 419.7h2v1.9h-2zM664.2 419.7h2v1.9h-2zM623.4 421.6h2v2h-2zM664.2 421.6h2v2h-2zM623.4 435.2h2v2h-2zM664.2 435.2h2v2h-2zM623.4 437.2h2v1.9h-2zM664.2 437.2h2v1.9h-2zM625.4 439.1h1.9v2h-1.9zM662.3 439.1h1.9v2h-1.9zM627.3 443h2v2h-2zM660.3 443h2v2h-2zM629.3 445h1.9v1.9h-1.9zM658.4 445h1.9v1.9h-1.9zM633.2 446.9h1.9v1.9h-1.9zM654.5 446.9h1.9v1.9h-1.9zM635.1 448.8h3.9v2h-3.9zM650.6 448.8h3.9v2h-3.9z"/><path fill="#471063" d="M639 408h11.6v2h-11.6zM635.1 410h1.9v1.9h-1.9zM652.6 410h1.9v1.9h-1.9zM631.2 411.9h2v1.9h-2zM656.4 411.9h2v1.9h-2zM629.3 413.8h1.9v2h-1.9zM658.4 413.8h1.9v2h-1.9zM627.3 415.8h2v1.9h-2zM660.3 415.8h2v1.9h-2zM625.4 419.7h1.9v1.9h-1.9zM662.3 419.7h1.9v1.9h-1.9zM623.4 423.6h2v1.9h-2zM664.2 423.6h2v1.9h-2zM623.4 425.5h2v2h-2zM664.2 425.5h2v2h-2zM623.4 427.5h2v1.9h-2zM664.2 427.5h2v1.9h-2zM623.4 429.4h2v1.9h-2zM664.2 429.4h2v1.9h-2zM623.4 431.3h2v2h-2zM664.2 431.3h2v2h-2zM623.4 433.3h2v1.9h-2zM664.2 433.3h2v1.9h-2zM625.4 437.2h1.9v1.9h-1.9zM662.3 437.2h1.9v1.9h-1.9zM627.3 441.1h2v1.9h-2zM660.3 441.1h2v1.9h-2zM629.3 443h1.9v2h-1.9zM658.4 443h1.9v2h-1.9zM631.2 445h2v1.9h-2zM656.4 445h2v1.9h-2zM635.1 446.9h1.9v1.9h-1.9zM652.6 446.9h1.9v1.9h-1.9zM639 448.8h11.6v2h-11.6z"/><path fill="#471164" d="M637 410h15.6v1.9h-15.6zM633.2 411.9h23.2v1.9h-23.2zM631.2 413.8h27.2v2h-27.2zM629.3 415.8h31v1.9h-31zM627.3 417.7h35v2h-35zM627.3 419.7h35v1.9h-35zM625.4 421.6h38.8v2h-38.8zM625.4 423.6h38.8v1.9h-38.8zM625.4 425.5h38.8v2h-38.8zM625.4 427.5h38.8v1.9h-38.8zM625.4 429.4h38.8v1.9h-38.8zM625.4 431.3h38.8v2h-38.8zM625.4 433.3h38.8v1.9h-38.8zM625.4 435.2h38.8v2h-38.8zM627.3 437.2h35v1.9h-35zM627.3 439.1h35v2h-35zM629.3 441.1h31v1.9h-31zM631.2 443h27.2v2h-27.2zM633.2 445h23.2v1.9h-23.2zM637 446.9h15.6v1.9h-15.6z"/></g><g shape-rendering="crispEdges"><path fill="#46307e" d="M621.5 429.4h3.9v3.9h-3.9zM621.5 425.5h3.9v3.9h-3.9zM640.9 448.8h3.9v3.9h-3.9zM640.9 406.1h3.9v3.9h-3.9zM644.8 448.8h3.9v3.9h-3.9zM644.8 406.1h3.9v3.9h-3.9zM664.2 429.4h3.9v3.9h-3.9zM664.2 425.5h3.9v3.9h-3.9z"/><path fill="#23898e" d="M625.4 437.2h3.9v3.9h-3.9zM625.4 417.7h3.9v3.9h-3.9zM633.2 445h3.8v3.8h-3.8zM633.2 410h3.8v3.8h-3.8zM652.6 445h3.8v3.8h-3.8zM652.6 410h3.8v3.8h-3.8zM660.3 437.2h3.9v3.9h-3.9zM660.3 417.7h3.9v3.9h-3.9z"/><path fill="#c8e020" d="M625.4 433.3h3.9v3.9h-3.9zM625.4 421.6h3.9v3.9h-3.9zM637 445h3.9v3.8h-3.9zM637 410h3.9v3.8h-3.9zM648.7 445h3.9v3.8h-3.9zM648.7 410h3.9v3.8h-3.9zM660.3 433.3h3.9v3.9h-3.9zM660.3 421.6h3.9v3.9h-3.9z"/><path fill="#fde725" d="M625.4 429.4h3.9v3.9h-3.9zM625.4 425.5h3.9v3.9h-3.9zM629.3 437.2h3.9v3.9h-3.9zM629.3 433.3h3.9v3.9h-3.9zM629.3 429.4h3.9v3.9h-3.9zM629.3 425.5h3.9v3.9h-3.9zM629.3 421.6h3.9v3.9h-3.9zM629.3 417.7h3.9v3.9h-3.9zM633.2 441.1h3.8v3.9h-3.8zM633.2 437.2h3.8v3.9h-3.8zM633.2 433.3h3.8v3.9h-3.8zM633.2 429.4h3.8v3.9h-3.8zM633.2 425.5h3.8v3.9h-3.8zM633.2 421.6h3.8v3.9h-3.8zM633.2 417.7h3.8v3.9h-3.8zM633.2 413.8h3.8v3.9h-3.8zM637 441.1h3.9v3.9h-3.9zM637 437.2h3.9v3.9h-3.9zM637 433.3h3.9v3.9h-3.9zM637 429.4h3.9v3.9h-3.9zM637 425.5h3.9v3.9h-3.9zM637 421.6h3.9v3.9h-3.9zM637 417.7h3.9v3.9h-3.9zM637 413.8h3.9v3.9h-3.9zM640.9 445h3.9v3.8h-3.9zM640.9 441.1h3.9v3.9h-3.9zM640.9 437.2h3.9v3.9h-3.9zM640.9 433.3h3.9v3.9h-3.9zM640.9 429.4h3.9v3.9h-3.9zM640.9 425.5h3.9v3.9h-3.9zM640.9 421.6h3.9v3.9h-3.9zM640.9 417.7h3.9v3.9h-3.9zM640.9 413.8h3.9v3.9h-3.9zM640.9 410h3.9v3.8h-3.9zM644.8 445h3.9v3.8h-3.9zM644.8 441.1h3.9v3.9h-3.9zM644.8 437.2h3.9v3.9h-3.9zM644.8 433.3h3.9v3.9h-3.9zM644.8 429.4h3.9v3.9h-3.9zM644.8 425.5h3.9v3.9h-3.9zM644.8 421.6h3.9v3.9h-3.9zM644.8 417.7h3.9v3.9h-3.9zM644.8 413.8h3.9v3.9h-3.9zM644.8 410h3.9v3.8h-3.9zM648.7 441.1h3.9v3.9h-3.9zM648.7 437.2h3.9v3.9h-3.9zM648.7 433.3h3.9v3.9h-3.9zM648.7 429.4h3.9v3.9h-3.9zM648.7 425.5h3.9v3.9h-3.9zM648.7 421.6h3.9v3.9h-3.9zM648.7 417.7h3.9v3.9h-3.9zM648.7 413.8h3.9v3.9h-3.9zM652.6 441.1h3.8v3.9h-3.8zM652.6 437.2h3.8v3.9h-3.8zM652.6 433.3h3.8v3.9h-3.8zM652.6 429.4h3.8v3.9h-3.8zM652.6 425.5h3.8v3.9h-3.8zM652.6 421.6h3.8v3.9h-3.8zM652.6 417.7h3.8v3.9h-3.8zM652.6 413.8h3.8v3.9h-3.8zM656.4 437.2h3.9v3.9h-3.9zM656.4 433.3h3.9v3.9h-3.9zM656.4 429.4h3.9v3.9h-3.9zM656.4 425.5h3.9v3.9h-3.9zM656.4 421.6h3.9v3.9h-3.9zM656.4 417.7h3.9v3.9h-3.9zM660.3 429.4h3.9v3.9h-3.9zM660.3 425.5h3.9v3.9h-3.9z"/><path fill="#4ec36b" d="M629.3 441.1h3.9v3.9h-3.9zM629.3 413.8h3.9v3.9h-3.9zM656.4 441.1h3.9v3.9h-3.9zM656.4 413.8h3.9v3.9h-3.9z"/></g><ellipse cx="644.8" cy="429.4" rx="23.3" ry="23.33" fill="none" stroke="#000" stroke-width="1.3" stroke-dasharray="3.3 1.5"/><circle cx="586.56" cy="429.4" r="1.3" fill="#ff8a05"/><circle cx="609.86" cy="429.4" r="1.3" fill="#ff8a05"/><circle cx="633.15" cy="429.4" r="1.3" fill="#ff8a05"/><circle cx="656.45" cy="429.4" r="1.3" fill="#ff8a05"/><circle cx="679.74" cy="429.4" r="1.3" fill="#ff8a05"/><circle cx="703.04" cy="429.4" r="1.3" fill="#ff8a05"/></g><rect x="572" y="356.5" width="145.6" height="145.8" fill="none" stroke="#000" stroke-opacity="0.5" stroke-width="0.9"/><text transform="translate(568.4 373.48) scale(0.95 1)" font-size="7.5" text-anchor="end">300</text><text transform="translate(568.4 392.92) scale(0.95 1)" font-size="7.5" text-anchor="end">200</text><text transform="translate(568.4 412.36) scale(0.95 1)" font-size="7.5" text-anchor="end">100</text><text transform="translate(568.4 431.8) scale(0.95 1)" font-size="7.5" text-anchor="end">0</text><text transform="translate(568.4 451.24) scale(0.95 1)" font-size="7.5" text-anchor="end">&#8722;<tspan dx="1.0">100</tspan></text><text transform="translate(568.4 470.68) scale(0.95 1)" font-size="7.5" text-anchor="end">&#8722;<tspan dx="1.0">200</tspan></text><text transform="translate(568.4 490.12) scale(0.95 1)" font-size="7.5" text-anchor="end">&#8722;<tspan dx="1.0">300</tspan></text><text transform="translate(605.97 510.9) scale(0.95 1)" font-size="7.5" text-anchor="middle">&#8722;<tspan dx="1.0">200</tspan></text><text transform="translate(644.8 510.9) scale(0.95 1)" font-size="7.5" text-anchor="middle">0</text><text transform="translate(683.63 510.9) scale(0.95 1)" font-size="7.5" text-anchor="middle">200</text><path d="M572 371.08h-2M572 390.52h-2M572 409.96h-2M572 429.4h-2M572 448.84h-2M572 468.28h-2M572 487.72h-2M605.97 502.3v2M644.8 502.3v2M683.63 502.3v2" stroke="#444" stroke-width="0.6"/><text x="552.6" y="430.9" font-size="7.7" text-anchor="middle" textLength="18.4" lengthAdjust="spacingAndGlyphs" transform="rotate(-90 552.6 430.9)">y [m]</text><text x="645.4" y="523.2" font-size="10.2" text-anchor="middle">x [m]</text><rect x="726.4" y="356.6" width="7.5" height="145.6" fill="url(#g18)" stroke="#444" stroke-width="0.5"/><text transform="translate(738.9 506.1) scale(0.92 1)" font-size="8.6" text-anchor="start">0</text><text transform="translate(738.9 476.98) scale(0.92 1)" font-size="8.6" text-anchor="start">2</text><text transform="translate(738.9 447.86) scale(0.92 1)" font-size="8.6" text-anchor="start">4</text><text transform="translate(738.9 418.74) scale(0.92 1)" font-size="8.6" text-anchor="start">6</text><text transform="translate(738.9 389.62) scale(0.92 1)" font-size="8.6" text-anchor="start">8</text><text transform="translate(738.9 360.5) scale(0.92 1)" font-size="8.6" text-anchor="start">10</text><path d="M733.9 502.2h2M733.9 473.08h2M733.9 443.96h2M733.9 414.84h2M733.9 385.72h2M733.9 356.6h2" stroke="#444" stroke-width="0.6"/><text x="756.3" y="433.3" font-size="7.7" text-anchor="middle" textLength="29.8" lengthAdjust="spacingAndGlyphs" transform="rotate(-90 756.3 433.3)">M [A/m]</text><text x="313.8" y="190.8" font-size="11.7" text-anchor="middle">x [m]</text><text x="38.6" y="17.3" font-size="23" text-anchor="start" textLength="69.6" lengthAdjust="spacingAndGlyphs">Sparse</text><text x="419" y="16.8" font-size="22" text-anchor="start" textLength="114.6" lengthAdjust="spacingAndGlyphs">Parametric</text><text x="-0.9" y="45.5" font-size="20" text-anchor="start">a</text><text x="-0.2" y="200.8" font-size="20" text-anchor="start">b</text><text x="-0.5" y="359.9" font-size="20" text-anchor="start">c</text><text x="385.6" y="45.8" font-size="20" text-anchor="start">d</text><text x="385.8" y="201.1" font-size="20" text-anchor="start">e</text><text x="386.6" y="359.4" font-size="20" text-anchor="start">f</text></svg>
</body></html>
